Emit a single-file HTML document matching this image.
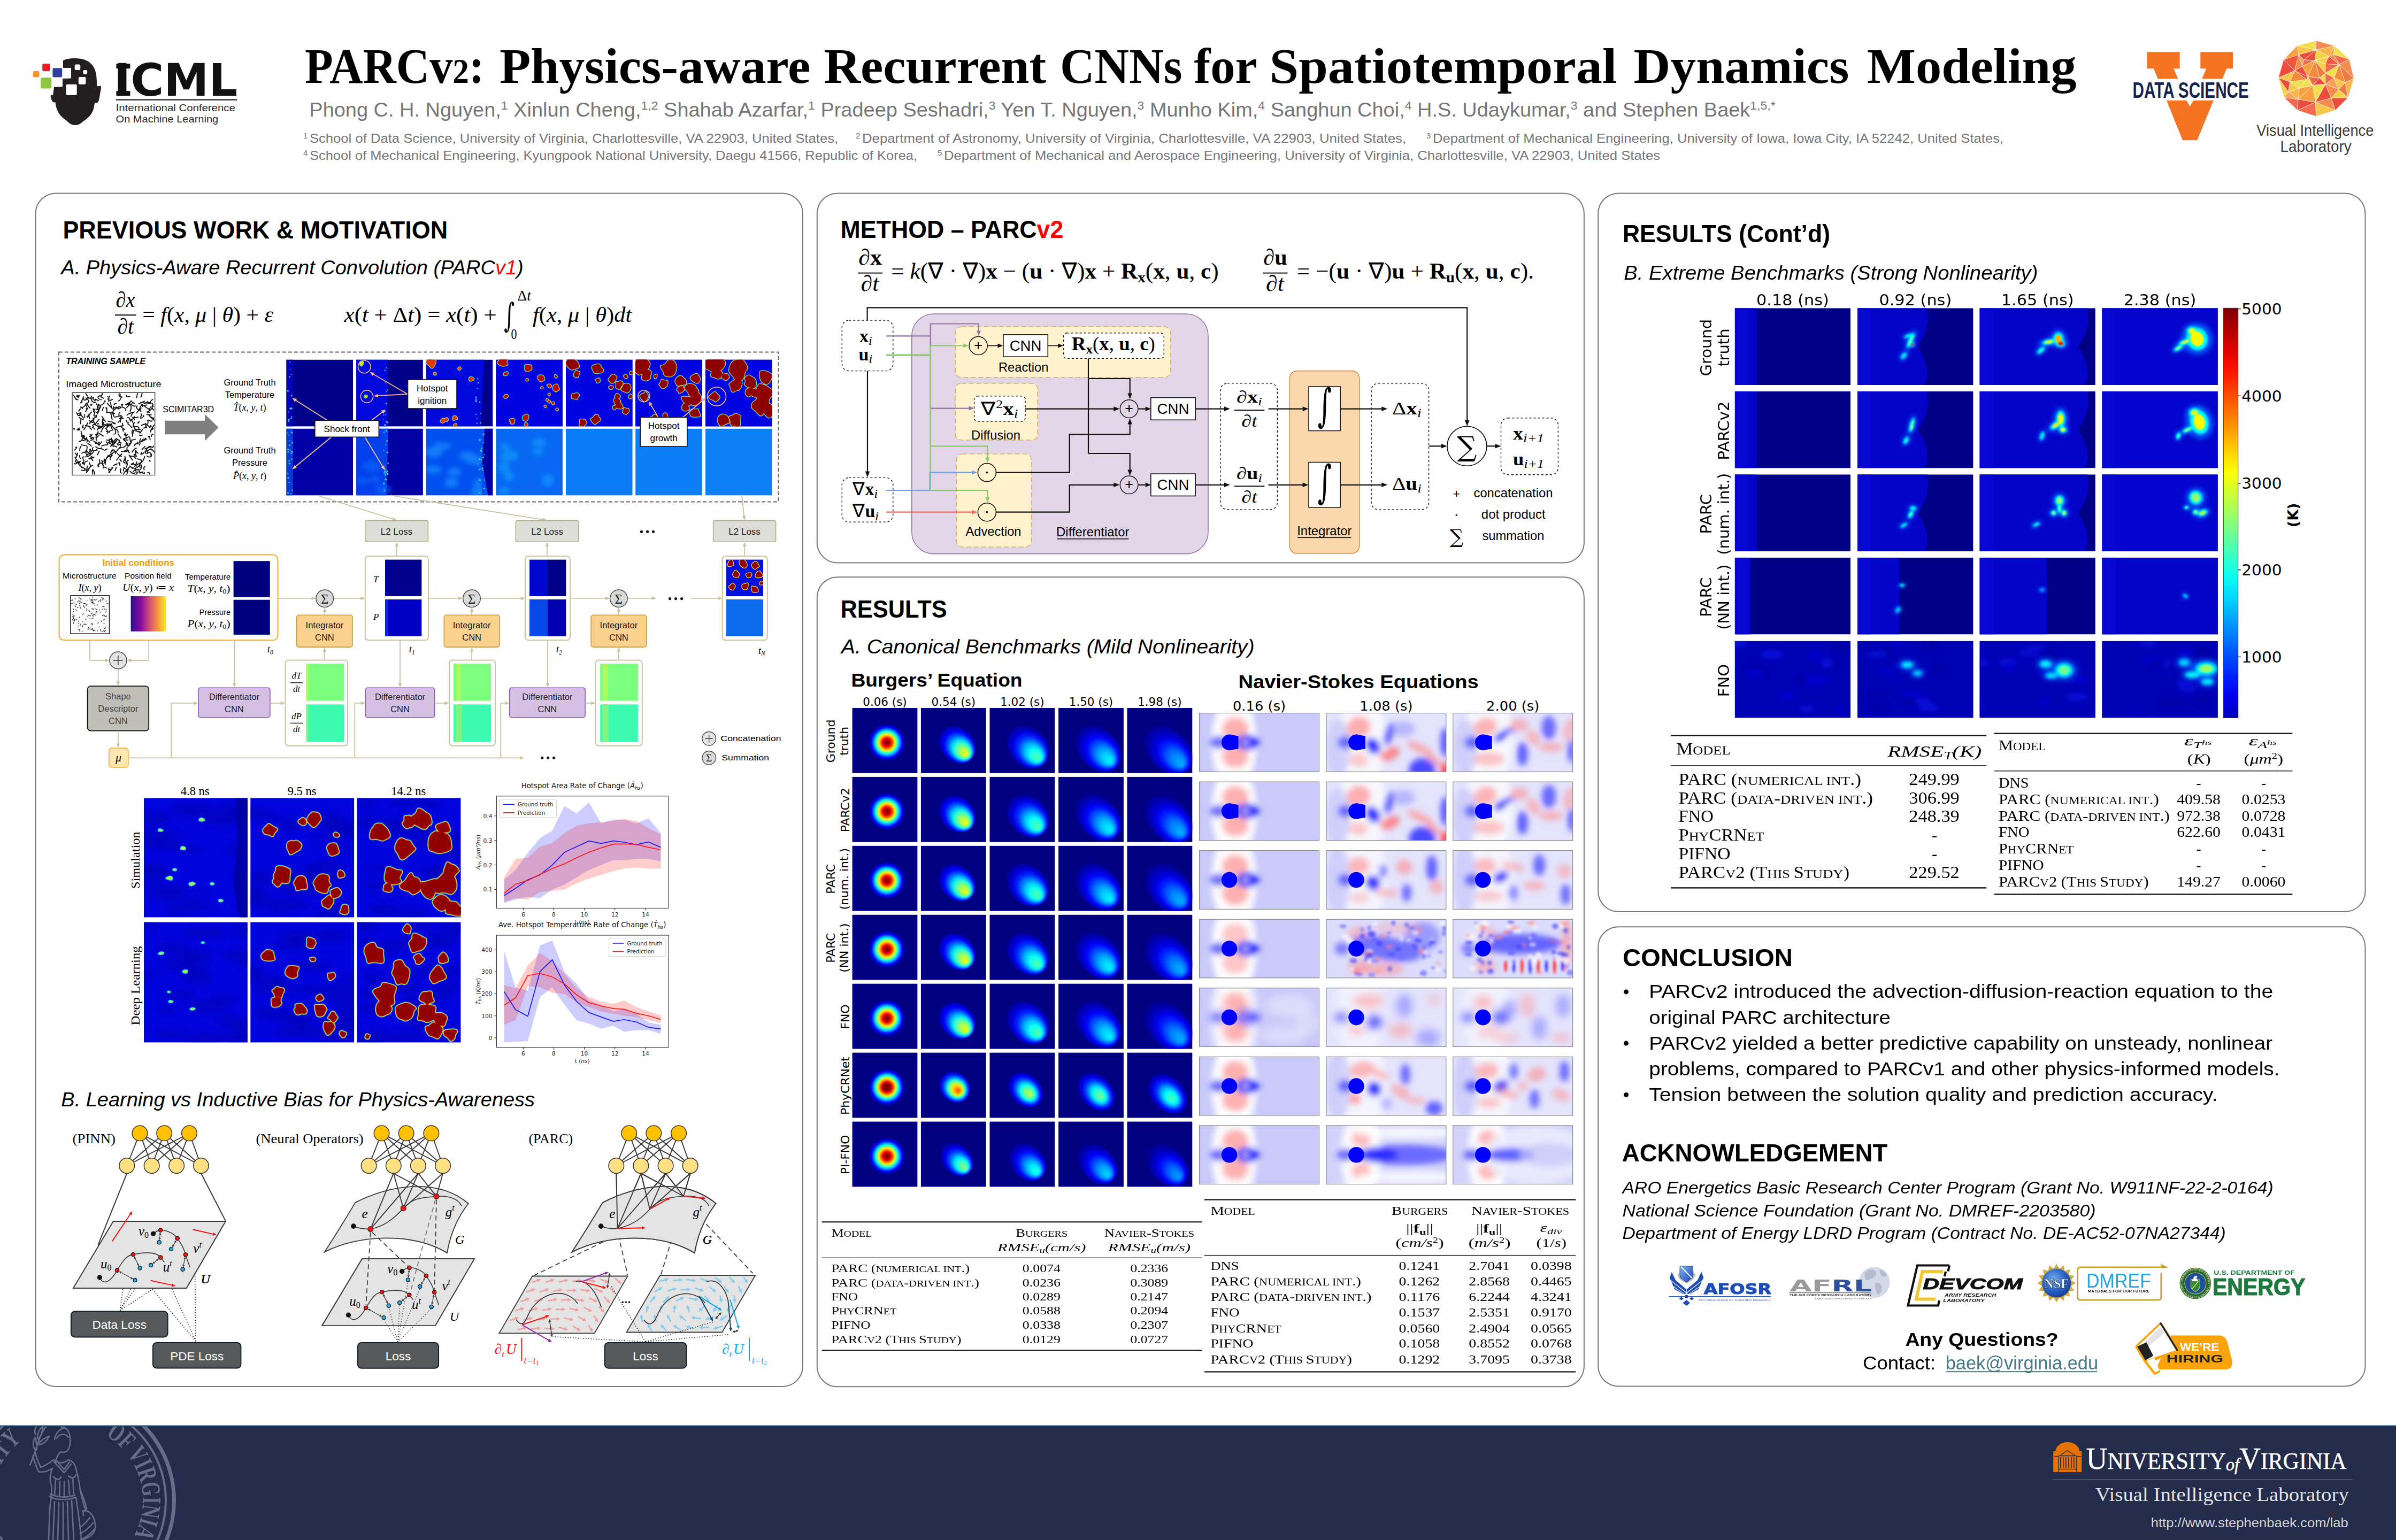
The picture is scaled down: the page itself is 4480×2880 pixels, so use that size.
<!DOCTYPE html>
<html lang="en"><head><meta charset="utf-8"><title>PARCv2: Physics-aware Recurrent CNNs for Spatiotemporal Dynamics Modeling</title>
<style>html,body{margin:0;padding:0;background:#fff}body{width:4480px;height:2880px;overflow:hidden}svg{display:block}text{white-space:pre}</style></head><body>
<svg width="4480" height="2880" viewBox="0 0 4480 2880">
<!-- defs -->
<defs>
<filter id="blur1" x="-30%" y="-30%" width="160%" height="160%"><feGaussianBlur stdDeviation="1"/></filter>
<filter id="blur2" x="-30%" y="-30%" width="160%" height="160%"><feGaussianBlur stdDeviation="2"/></filter>
<filter id="blur3" x="-30%" y="-30%" width="160%" height="160%"><feGaussianBlur stdDeviation="3"/></filter>
<filter id="blur4" x="-30%" y="-30%" width="160%" height="160%"><feGaussianBlur stdDeviation="4"/></filter>
<filter id="blur6" x="-30%" y="-30%" width="160%" height="160%"><feGaussianBlur stdDeviation="6"/></filter>
<filter id="blur8" x="-30%" y="-30%" width="160%" height="160%"><feGaussianBlur stdDeviation="8"/></filter>
<filter id="blur12" x="-30%" y="-30%" width="160%" height="160%"><feGaussianBlur stdDeviation="12"/></filter>
<filter id="blur16" x="-30%" y="-30%" width="160%" height="160%"><feGaussianBlur stdDeviation="16"/></filter>
</defs>
<!-- frame -->
<rect x="0" y="0" width="4480" height="2880" fill="#fff"/>
<rect x="66.6" y="361.4" width="1434.4" height="2231.6" fill="#fff" rx="38" stroke="#787878" stroke-width="2"/>
<rect x="1527.8" y="361.4" width="1434.1" height="691.1" fill="#fff" rx="38" stroke="#787878" stroke-width="2"/>
<rect x="1527.8" y="1079.2" width="1434.1" height="1514.1" fill="#fff" rx="38" stroke="#787878" stroke-width="2"/>
<rect x="2988.2" y="361.4" width="1434.3" height="1343.6" fill="#fff" rx="38" stroke="#787878" stroke-width="2"/>
<rect x="2988.2" y="1733.2" width="1434.3" height="859.2" fill="#fff" rx="38" stroke="#787878" stroke-width="2"/>
<!-- header -->
<rect x="61.9" y="133" width="11.5" height="11.5" fill="#F7941D" rx="2.5"/>
<rect x="79.2" y="119" width="14" height="14" fill="#ED1C24" rx="2.5"/>
<rect x="98.4" y="127.2" width="17.8" height="17.3" fill="#2E3F9E" rx="3"/>
<rect x="76.1" y="145" width="20.2" height="20.4" fill="#8DC63F" rx="3"/>
<path d="M118,113 C126,109 140,108 152,110 C168,113 178,124 180,140 C181,150 181,156 181.5,161 C184,162 187,160 188.5,161 C190,163 188,170 187,176 C186,183 185,190 182,192 C180,193 178,192 177,192 C176,200 175,207 170,214 C165,221 158,225 153,229 C149,233 144,234 140,234 C134,234 130,231 126,227 C120,222 112,217 108,208 C105,202 104,196 103.5,191 C101,192 98,191 97,188 C95,184 94,180 95,178 C96,177 98,178 99,178 L101,163 L117,162 L117,147 L133,146.5 L133,127 L118,127 Z" fill="#231F20"/>
<rect x="139.7" y="120.5" width="10.5" height="10.5" fill="#fff" rx="2.2"/>
<rect x="155.4" y="131" width="7.7" height="7.7" fill="#fff" rx="2.2"/>
<rect x="146.8" y="144.1" width="13.6" height="13.6" fill="#fff" rx="2.2"/>
<rect x="123.5" y="157.7" width="20.2" height="20.2" fill="#fff" rx="2.2"/>
<text x="212.76" y="179" font-family='"DejaVu Sans", sans-serif' font-size="83" font-weight="bold" fill="#111" textLength="231.47" lengthAdjust="spacingAndGlyphs">ICML</text>
<rect x="217.4" y="119.2" width="26" height="9" fill="#111"/>
<rect x="217.4" y="170.2" width="26" height="8.8" fill="#111"/>
<rect x="217" y="185.2" width="226.2" height="2.6" fill="#3a3a3a"/>
<text x="216.56" y="207.7" font-family='"Liberation Sans", sans-serif' font-size="18.6" fill="#2a2a2a" textLength="223.27" lengthAdjust="spacingAndGlyphs">International Conference</text>
<text x="216.56" y="229" font-family='"Liberation Sans", sans-serif' font-size="18.6" fill="#2a2a2a" textLength="191.67" lengthAdjust="spacingAndGlyphs">On Machine Learning</text>
<text x="570" y="154.5" font-family='"Liberation Serif", serif' font-size="93" font-weight="bold"><tspan x="570" textLength="335.6" lengthAdjust="spacingAndGlyphs">PARCv<tspan font-size="66">2</tspan><tspan font-size="93">:</tspan></tspan> <tspan x="934" textLength="581.4" lengthAdjust="spacingAndGlyphs">Physics-aware</tspan> <tspan x="1540.4" textLength="415.7" lengthAdjust="spacingAndGlyphs">Recurrent</tspan> <tspan x="1982" textLength="228.5" lengthAdjust="spacingAndGlyphs">CNNs</tspan> <tspan x="2232.5" textLength="116.5" lengthAdjust="spacingAndGlyphs">for</tspan> <tspan x="2373.5" textLength="649.7" lengthAdjust="spacingAndGlyphs">Spatiotemporal</tspan> <tspan x="3054.6" textLength="402.7" lengthAdjust="spacingAndGlyphs">Dynamics</tspan> <tspan x="3490.7" textLength="391.9" lengthAdjust="spacingAndGlyphs">Modeling</tspan></text>
<text x="578.37" y="217.6" font-family='"Liberation Sans", sans-serif' font-size="36.3" fill="#767676" textLength="2741.27" lengthAdjust="spacingAndGlyphs">Phong C. H. Nguyen,<tspan dy="-13" font-size="22">1</tspan><tspan dy="13" font-size="36.3">​</tspan> Xinlun Cheng,<tspan dy="-13" font-size="22">1,2</tspan><tspan dy="13" font-size="36.3">​</tspan> Shahab Azarfar,<tspan dy="-13" font-size="22">1</tspan><tspan dy="13" font-size="36.3">​</tspan> Pradeep Seshadri,<tspan dy="-13" font-size="22">3</tspan><tspan dy="13" font-size="36.3">​</tspan> Yen T. Nguyen,<tspan dy="-13" font-size="22">3</tspan><tspan dy="13" font-size="36.3">​</tspan> Munho Kim,<tspan dy="-13" font-size="22">4</tspan><tspan dy="13" font-size="36.3">​</tspan> Sanghun Choi,<tspan dy="-13" font-size="22">4</tspan><tspan dy="13" font-size="36.3">​</tspan> H.S. Udaykumar,<tspan dy="-13" font-size="22">3</tspan><tspan dy="13" font-size="36.3">​</tspan> and Stephen Baek<tspan dy="-13" font-size="22">1,5,*</tspan><tspan dy="13" font-size="36.3">​</tspan></text>
<text x="567" y="259" font-family='"Liberation Sans", sans-serif' font-size="15" fill="#767676">1</text>
<text x="578.91" y="267" font-family='"Liberation Sans", sans-serif' font-size="24.3" fill="#767676" textLength="988.19" lengthAdjust="spacingAndGlyphs">School of Data Science, University of Virginia, Charlottesville, VA 22903, United States,</text>
<text x="1600" y="259" font-family='"Liberation Sans", sans-serif' font-size="15" fill="#767676">2</text>
<text x="1611.91" y="267" font-family='"Liberation Sans", sans-serif' font-size="24.3" fill="#767676" textLength="1017.19" lengthAdjust="spacingAndGlyphs">Department of Astronomy, University of Virginia, Charlottesville, VA 22903, United States,</text>
<text x="2667" y="259" font-family='"Liberation Sans", sans-serif' font-size="15" fill="#767676">3</text>
<text x="2678.91" y="267" font-family='"Liberation Sans", sans-serif' font-size="24.3" fill="#767676" textLength="1067.19" lengthAdjust="spacingAndGlyphs">Department of Mechanical Engineering, University of Iowa, Iowa City, IA 52242, United States,</text>
<text x="567" y="290.7" font-family='"Liberation Sans", sans-serif' font-size="15" fill="#767676">4</text>
<text x="578.91" y="298.7" font-family='"Liberation Sans", sans-serif' font-size="24.3" fill="#767676" textLength="1136.19" lengthAdjust="spacingAndGlyphs">School of Mechanical Engineering, Kyungpook National University, Daegu 41566, Republic of Korea,</text>
<text x="1753" y="290.7" font-family='"Liberation Sans", sans-serif' font-size="15" fill="#767676">5</text>
<text x="1764.91" y="298.7" font-family='"Liberation Sans", sans-serif' font-size="24.3" fill="#767676" textLength="1339.19" lengthAdjust="spacingAndGlyphs">Department of Mechanical and Aerospace Engineering, University of Virginia, Charlottesville, VA 22903, United States</text>
<rect x="4014.4" y="97.3" width="61.2" height="31" fill="#F37321"/>
<rect x="4114.3" y="97.3" width="60.7" height="31" fill="#F37321"/>
<polygon points="4026.8,127.7 4064,127.7 4094.7,198.7 4125.5,127.7 4163.5,127.7 4108.2,262.2 4081,262.2" fill="#F37321"/>
<rect x="3985" y="147.2" width="225" height="40.6" fill="#fff"/>
<polygon points="4088,187.8 4101.5,187.8 4094.7,198.7" fill="#fff"/>
<text x="3987.6" y="182.8" font-family='"Liberation Sans", sans-serif' font-size="42.2" font-weight="bold" fill="#13254F" textLength="217.3" lengthAdjust="spacingAndGlyphs">DATA SCIENCE</text>
<polygon points="4330.62,93.4 4294.82,85.81 4330.62,76.04" fill="#F0E04F" stroke="#FFF3E0" stroke-width="0.7" stroke-linejoin="round"/>
<polygon points="4365.35,85.81 4330.62,93.4 4330.62,76.04" fill="#F58B4C" stroke="#FFF3E0" stroke-width="0.7" stroke-linejoin="round"/>
<polygon points="4330.62,93.4 4365.35,85.81 4354.5,105.34" fill="#FBB54A" stroke="#FFF3E0" stroke-width="0.7" stroke-linejoin="round"/>
<polygon points="4295.9,206.25 4270.95,182.38 4296.99,185.63" fill="#F5694F" stroke="#FFF3E0" stroke-width="0.7" stroke-linejoin="round"/>
<polygon points="4295.9,206.25 4329.54,191.06 4330.62,217.53" fill="#F5694F" stroke="#FFF3E0" stroke-width="0.7" stroke-linejoin="round"/>
<polygon points="4329.54,191.06 4295.9,206.25 4296.99,185.63" fill="#EE4B3F" stroke="#FFF3E0" stroke-width="0.7" stroke-linejoin="round"/>
<polygon points="4390.3,182.38 4366.43,206.25 4358.84,183.46" fill="#EE4B3F" stroke="#FFF3E0" stroke-width="0.7" stroke-linejoin="round"/>
<polygon points="4329.54,191.06 4366.43,206.25 4330.62,217.53" fill="#F9C64B" stroke="#FFF3E0" stroke-width="0.7" stroke-linejoin="round"/>
<polygon points="4366.43,206.25 4329.54,191.06 4358.84,183.46" fill="#F58B4C" stroke="#FFF3E0" stroke-width="0.7" stroke-linejoin="round"/>
<polygon points="4329.54,191.06 4347.99,157.42 4358.84,183.46" fill="#EE4B3F" stroke="#FFF3E0" stroke-width="0.7" stroke-linejoin="round"/>
<polygon points="4372.94,167.19 4390.3,182.38 4358.84,183.46" fill="#F6D24A" stroke="#FFF3E0" stroke-width="0.7" stroke-linejoin="round"/>
<polygon points="4347.99,157.42 4372.94,167.19 4358.84,183.46" fill="#F58B4C" stroke="#FFF3E0" stroke-width="0.7" stroke-linejoin="round"/>
<polygon points="4372.94,167.19 4347.99,157.42 4364.26,145.49" fill="#F7A25A" stroke="#FFF3E0" stroke-width="0.7" stroke-linejoin="round"/>
<polygon points="4270.95,182.38 4278.54,171.53 4296.99,185.63" fill="#F7A25A" stroke="#FFF3E0" stroke-width="0.7" stroke-linejoin="round"/>
<polygon points="4278.54,171.53 4270.95,182.38 4260.1,145.49" fill="#F6D24A" stroke="#FFF3E0" stroke-width="0.7" stroke-linejoin="round"/>
<polygon points="4269.86,111.85 4290.48,132.47 4260.1,145.49" fill="#EE4B3F" stroke="#FFF3E0" stroke-width="0.7" stroke-linejoin="round"/>
<polygon points="4278.54,171.53 4299.16,165.02 4296.99,185.63" fill="#FBB54A" stroke="#FFF3E0" stroke-width="0.7" stroke-linejoin="round"/>
<polygon points="4363.18,102.08 4365.35,85.81 4392.47,110.76" fill="#F0E04F" stroke="#FFF3E0" stroke-width="0.7" stroke-linejoin="round"/>
<polygon points="4365.35,85.81 4363.18,102.08 4354.5,105.34" fill="#F9A03F" stroke="#FFF3E0" stroke-width="0.7" stroke-linejoin="round"/>
<polygon points="4298.07,102.08 4330.62,93.4 4307.84,111.85" fill="#EE4B3F" stroke="#FFF3E0" stroke-width="0.7" stroke-linejoin="round"/>
<polygon points="4330.62,93.4 4298.07,102.08 4294.82,85.81" fill="#F9C64B" stroke="#FFF3E0" stroke-width="0.7" stroke-linejoin="round"/>
<polygon points="4298.07,102.08 4269.86,111.85 4294.82,85.81" fill="#F9A03F" stroke="#FFF3E0" stroke-width="0.7" stroke-linejoin="round"/>
<polygon points="4269.86,111.85 4298.07,102.08 4290.48,132.47" fill="#F2573E" stroke="#FFF3E0" stroke-width="0.7" stroke-linejoin="round"/>
<polygon points="4347.99,136.81 4347.99,157.42 4337.14,145.49" fill="#F0E04F" stroke="#FFF3E0" stroke-width="0.7" stroke-linejoin="round"/>
<polygon points="4347.99,157.42 4347.99,136.81 4364.26,145.49" fill="#F26B4E" stroke="#FFF3E0" stroke-width="0.7" stroke-linejoin="round"/>
<polygon points="4328.45,112.93 4330.62,93.4 4354.5,105.34" fill="#F6D24A" stroke="#FFF3E0" stroke-width="0.7" stroke-linejoin="round"/>
<polygon points="4347.99,119.44 4328.45,112.93 4354.5,105.34" fill="#F6D24A" stroke="#FFF3E0" stroke-width="0.7" stroke-linejoin="round"/>
<polygon points="4330.62,93.4 4328.45,112.93 4307.84,111.85" fill="#EE4B3F" stroke="#FFF3E0" stroke-width="0.7" stroke-linejoin="round"/>
<polygon points="4315.43,143.32 4328.45,112.93 4337.14,145.49" fill="#F48A3C" stroke="#FFF3E0" stroke-width="0.7" stroke-linejoin="round"/>
<polygon points="4328.45,112.93 4347.99,136.81 4337.14,145.49" fill="#EF7A45" stroke="#FFF3E0" stroke-width="0.7" stroke-linejoin="round"/>
<polygon points="4347.99,136.81 4328.45,112.93 4347.99,119.44" fill="#F6D24A" stroke="#FFF3E0" stroke-width="0.7" stroke-linejoin="round"/>
<polygon points="4347.99,157.42 4324.11,159.59 4337.14,145.49" fill="#F2463E" stroke="#FFF3E0" stroke-width="0.7" stroke-linejoin="round"/>
<polygon points="4324.11,159.59 4347.99,157.42 4329.54,191.06" fill="#F0E04F" stroke="#FFF3E0" stroke-width="0.7" stroke-linejoin="round"/>
<polygon points="4324.11,159.59 4315.43,143.32 4337.14,145.49" fill="#F26B4E" stroke="#FFF3E0" stroke-width="0.7" stroke-linejoin="round"/>
<polygon points="4324.11,159.59 4329.54,191.06 4296.99,185.63" fill="#F9A03F" stroke="#FFF3E0" stroke-width="0.7" stroke-linejoin="round"/>
<polygon points="4299.16,165.02 4324.11,159.59 4296.99,185.63" fill="#F9A03F" stroke="#FFF3E0" stroke-width="0.7" stroke-linejoin="round"/>
<polygon points="4390.3,182.38 4384.88,154.17 4401.15,146.57" fill="#FBB54A" stroke="#FFF3E0" stroke-width="0.7" stroke-linejoin="round"/>
<polygon points="4372.94,167.19 4384.88,154.17 4390.3,182.38" fill="#EF7A45" stroke="#FFF3E0" stroke-width="0.7" stroke-linejoin="round"/>
<polygon points="4384.88,154.17 4372.94,167.19 4364.26,145.49" fill="#F9C64B" stroke="#FFF3E0" stroke-width="0.7" stroke-linejoin="round"/>
<polygon points="4281.8,153.08 4299.16,165.02 4278.54,171.53" fill="#F9C64B" stroke="#FFF3E0" stroke-width="0.7" stroke-linejoin="round"/>
<polygon points="4290.48,132.47 4281.8,153.08 4260.1,145.49" fill="#F9C64B" stroke="#FFF3E0" stroke-width="0.7" stroke-linejoin="round"/>
<polygon points="4281.8,153.08 4278.54,171.53 4260.1,145.49" fill="#EE4B3F" stroke="#FFF3E0" stroke-width="0.7" stroke-linejoin="round"/>
<polygon points="4304.58,123.78 4315.43,143.32 4290.48,132.47" fill="#EE4B3F" stroke="#FFF3E0" stroke-width="0.7" stroke-linejoin="round"/>
<polygon points="4304.58,123.78 4298.07,102.08 4307.84,111.85" fill="#F7A25A" stroke="#FFF3E0" stroke-width="0.7" stroke-linejoin="round"/>
<polygon points="4298.07,102.08 4304.58,123.78 4290.48,132.47" fill="#F58B4C" stroke="#FFF3E0" stroke-width="0.7" stroke-linejoin="round"/>
<polygon points="4328.45,112.93 4304.58,123.78 4307.84,111.85" fill="#F5694F" stroke="#FFF3E0" stroke-width="0.7" stroke-linejoin="round"/>
<polygon points="4304.58,123.78 4328.45,112.93 4315.43,143.32" fill="#F9A03F" stroke="#FFF3E0" stroke-width="0.7" stroke-linejoin="round"/>
<polygon points="4315.43,143.32 4313.26,148.74 4290.48,132.47" fill="#F2463E" stroke="#FFF3E0" stroke-width="0.7" stroke-linejoin="round"/>
<polygon points="4313.26,148.74 4281.8,153.08 4290.48,132.47" fill="#F48A3C" stroke="#FFF3E0" stroke-width="0.7" stroke-linejoin="round"/>
<polygon points="4281.8,153.08 4313.26,148.74 4299.16,165.02" fill="#F0E04F" stroke="#FFF3E0" stroke-width="0.7" stroke-linejoin="round"/>
<polygon points="4313.26,148.74 4324.11,159.59 4299.16,165.02" fill="#F0E04F" stroke="#FFF3E0" stroke-width="0.7" stroke-linejoin="round"/>
<polygon points="4324.11,159.59 4313.26,148.74 4315.43,143.32" fill="#F0E04F" stroke="#FFF3E0" stroke-width="0.7" stroke-linejoin="round"/>
<polygon points="4347.99,136.81 4374.03,120.53 4364.26,145.49" fill="#F0E04F" stroke="#FFF3E0" stroke-width="0.7" stroke-linejoin="round"/>
<polygon points="4374.03,120.53 4347.99,136.81 4347.99,119.44" fill="#F5694F" stroke="#FFF3E0" stroke-width="0.7" stroke-linejoin="round"/>
<polygon points="4374.03,120.53 4363.18,102.08 4392.47,110.76" fill="#F26B4E" stroke="#FFF3E0" stroke-width="0.7" stroke-linejoin="round"/>
<polygon points="4374.03,120.53 4347.99,119.44 4354.5,105.34" fill="#F2573E" stroke="#FFF3E0" stroke-width="0.7" stroke-linejoin="round"/>
<polygon points="4363.18,102.08 4374.03,120.53 4354.5,105.34" fill="#F58B4C" stroke="#FFF3E0" stroke-width="0.7" stroke-linejoin="round"/>
<polygon points="4374.03,120.53 4384.88,154.17 4364.26,145.49" fill="#F48A3C" stroke="#FFF3E0" stroke-width="0.7" stroke-linejoin="round"/>
<polygon points="4374.03,120.53 4392.47,110.76 4401.15,146.57" fill="#F58B4C" stroke="#FFF3E0" stroke-width="0.7" stroke-linejoin="round"/>
<polygon points="4384.88,154.17 4374.03,120.53 4401.15,146.57" fill="#EF7A45" stroke="#FFF3E0" stroke-width="0.7" stroke-linejoin="round"/>
<text x="4219.3" y="254" font-family='"Liberation Sans", sans-serif' font-size="29" fill="#3a3a3a" textLength="219.01" lengthAdjust="spacingAndGlyphs">Visual Intelligence</text>
<text x="4263.59" y="284.4" font-family='"Liberation Sans", sans-serif' font-size="29" fill="#3a3a3a" textLength="133.01" lengthAdjust="spacingAndGlyphs">Laboratory</text>
<!-- footer -->
<rect x="0" y="2666" width="4480" height="214" fill="#232C4B"/>
<rect x="0" y="2665.5" width="4480" height="1.8" fill="#1E5878"/>
<g fill="none" stroke="#6A718A" opacity="0.95">
<clipPath id="ftclip"><rect x="0" y="2667.5" width="4480" height="212.5"/></clipPath>
<g clip-path="url(#ftclip)">
<circle cx="126" cy="2806" r="199.5" fill="none" stroke="#6A718A" stroke-width="7"/>
<circle cx="126" cy="2806" r="184" fill="none" stroke="#6A718A" stroke-width="4"/>
<path id="sealarc" d="M197.6,2684.5 A141 141 0 0 1 216.6,2914.0" fill="none" stroke="none"/>
<path id="sealarc2" d="M10.5,2886.9 A141 141 0 0 1 42.1,2692.7" fill="none" stroke="none"/>
<text font-family='"Liberation Serif", serif' font-size="50" font-weight="bold" fill="#6A718A" stroke="none" textLength="214" lengthAdjust="spacingAndGlyphs"><textPath href="#sealarc" textLength="214" lengthAdjust="spacingAndGlyphs">OF VIRGINIA</textPath></text>
<text font-family='"Liberation Serif", serif' font-size="50" font-weight="bold" fill="#6A718A" stroke="none" textLength="216" lengthAdjust="spacingAndGlyphs"><textPath href="#sealarc2" textLength="216" lengthAdjust="spacingAndGlyphs">UNIVERSITY</textPath></text>
<g stroke-width="2.6" stroke-linecap="round" stroke-linejoin="round">
<path d="M102,2692 C104,2680 112,2672 120,2670 C127,2672 131,2680 131,2690 C132,2697 131,2704 128,2710 C125,2716 118,2717 113,2715 C108,2720 105,2728 104,2736"/>
<path d="M106,2690 C112,2680 122,2680 128,2688"/>
<path d="M114,2667 L117,2672 L120,2667"/>
<path d="M100,2730 C108,2736 118,2738 128,2730 C136,2732 140,2738 142,2746"/>
<path d="M101,2734 L120,2754 L133,2738"/>
<path d="M104,2730 L120,2748 L130,2734"/>
<path d="M100,2730 C90,2738 82,2742 76,2744 C72,2736 68,2726 66,2716"/>
<path d="M98,2746 C88,2752 78,2754 72,2752 C68,2744 64,2734 62,2722"/>
<path d="M56,2740 C62,2726 68,2708 74,2690 C78,2680 82,2672 86,2668"/>
<path d="M66,2712 C60,2704 62,2694 66,2688 C68,2696 70,2704 68,2712"/>
<path d="M72,2700 C78,2692 86,2688 92,2686 C88,2694 82,2700 74,2702"/>
<path d="M70,2690 C70,2680 74,2672 80,2668 C80,2678 76,2686 72,2692"/>
<path d="M66,2682 C64,2676 66,2670 68,2668"/>
<path d="M98,2746 C94,2756 92,2768 96,2778 C98,2790 96,2800 94,2812"/>
<path d="M142,2746 C146,2760 148,2772 150,2786 C152,2800 156,2812 160,2824"/>
<path d="M100,2762 C106,2768 112,2768 114,2762"/>
<path d="M128,2760 C134,2766 140,2764 142,2758"/>
<path d="M94,2794 C104,2800 124,2802 140,2796"/>
<path d="M92,2798 C104,2806 126,2806 142,2800"/>
<path d="M94,2812 C92,2832 92,2856 91,2880"/>
<path d="M142,2800 C146,2826 150,2856 152,2880"/>
<path d="M102,2808 L99,2880"/>
<path d="M110,2810 L108,2880"/>
<path d="M118,2810 L118,2880"/>
<path d="M126,2808 L128,2880"/>
<path d="M134,2806 L138,2880"/>
<path d="M104,2768 L102,2796"/>
<path d="M112,2770 L111,2798"/>
<path d="M120,2770 L120,2798"/>
<path d="M128,2768 L130,2796"/>
<path d="M136,2764 L138,2794"/>
<path d="M154,2826 C166,2822 176,2834 178,2850 C180,2866 170,2876 150,2880"/>
<path d="M160,2824 C156,2826 154,2830 156,2834"/>
<path d="M168,2838 C162,2846 156,2852 150,2856"/>
<path d="M174,2848 C166,2858 158,2864 150,2868"/>
<path d="M176,2860 C170,2868 162,2874 154,2878"/>
<path d="M150,2786 C156,2800 160,2812 162,2822"/>
</g></g></g>
<g fill="#E57200">
<path d="M3843.5,2714 A22.2 17 0 0 1 3888,2714 Z" fill="#E57200"/>
<rect x="3839.2" y="2714" width="53" height="39" fill="#E57200"/>
</g>
<polygon points="3851,2722.5 3865.7,2712.5 3880.5,2722.5" fill="none" stroke="#232C4B" stroke-width="1.4"/>
<rect x="3852" y="2724.5" width="1.6" height="21" fill="#232C4B"/>
<rect x="3857" y="2724.5" width="1.6" height="21" fill="#232C4B"/>
<rect x="3862" y="2724.5" width="1.6" height="21" fill="#232C4B"/>
<rect x="3867" y="2724.5" width="1.6" height="21" fill="#232C4B"/>
<rect x="3872" y="2724.5" width="1.6" height="21" fill="#232C4B"/>
<rect x="3877" y="2724.5" width="1.6" height="21" fill="#232C4B"/>
<rect x="3849" y="2746.8" width="33.5" height="1.3" fill="#232C4B"/>
<rect x="3840" y="2723" width="8" height="1.2" fill="#232C4B"/>
<rect x="3883.5" y="2723" width="8" height="1.2" fill="#232C4B"/>
<rect x="3848.2" y="2722" width="1.2" height="31" fill="#232C4B"/>
<rect x="3882.2" y="2722" width="1.2" height="31" fill="#232C4B"/>
<text x="3900.8" y="2747.3" font-family='"Liberation Serif", serif' font-size="43.5" fill="#fff" textLength="486.7" lengthAdjust="spacingAndGlyphs" stroke="#fff" stroke-width="0.5"><tspan font-size="57">U</tspan><tspan font-size="43.5">NIVERSITY</tspan><tspan font-size="34" font-style="italic" dy="3">of</tspan><tspan font-size="57" dy="-3">V</tspan><tspan font-size="43.5">IRGINIA</tspan></text>
<rect x="3838.3" y="2766.6" width="560.5" height="1.2" fill="#6b7187"/>
<text x="3917.8" y="2807.4" font-family='"Liberation Serif", serif' font-size="36.5" fill="#E2E2E2" textLength="474" lengthAdjust="spacingAndGlyphs">Visual Intelligence Laboratory</text>
<text x="4021.7" y="2856.3" font-family='"Liberation Sans", sans-serif' font-size="24.4" fill="#D6D6D6" textLength="369.2" lengthAdjust="spacingAndGlyphs">http://www.stephenbaek.com/lab</text>
<!-- left_a -->
<text x="117.41" y="445.5" font-family='"Liberation Sans", sans-serif' font-size="46.5" font-weight="bold" textLength="719.68" lengthAdjust="spacingAndGlyphs">PREVIOUS WORK &amp; MOTIVATION</text>
<text x="114.3" y="513.4" font-family='"Liberation Sans", sans-serif' font-size="37.8" font-style="italic" textLength="864.4" lengthAdjust="spacingAndGlyphs">A. Physics-Aware Recurrent Convolution (PARC<tspan fill="#f00">v1</tspan>)</text>
<text x="216.4" y="573.8" font-family='"Liberation Serif", serif' font-size="41" font-style="italic" textLength="36" lengthAdjust="spacingAndGlyphs">∂x</text>
<rect x="215" y="588.2" width="39.5" height="2" fill="#000"/>
<text x="219.4" y="624.2" font-family='"Liberation Serif", serif' font-size="41" font-style="italic" textLength="30.6" lengthAdjust="spacingAndGlyphs">∂t</text>
<text x="266.3" y="602.3" font-family='"Liberation Serif", serif' font-size="41" textLength="244.6" lengthAdjust="spacingAndGlyphs">= <tspan font-style="italic">f</tspan>(<tspan font-style="italic">x</tspan>, <tspan font-style="italic">μ</tspan> | <tspan font-style="italic">θ</tspan>) + <tspan font-style="italic">ε</tspan></text>
<text x="643.6" y="602.3" font-family='"Liberation Serif", serif' font-size="41" textLength="285" lengthAdjust="spacingAndGlyphs"><tspan font-style="italic">x</tspan>(<tspan font-style="italic">t</tspan> + Δ<tspan font-style="italic">t</tspan>) = <tspan font-style="italic">x</tspan>(<tspan font-style="italic">t</tspan>) +</text>
<g transform="translate(952.3,611) scale(0.62,1)"><text x="0" y="0" font-family='"DejaVu Serif", serif' font-size="62" text-anchor="middle">∫</text></g>
<text x="967.5" y="561.6" font-family='"Liberation Serif", serif' font-size="28" textLength="25.4" lengthAdjust="spacingAndGlyphs">Δ<tspan font-style="italic">t</tspan></text>
<text x="955.6" y="633.9" font-family='"Liberation Serif", serif' font-size="28" textLength="11" lengthAdjust="spacingAndGlyphs">0</text>
<text x="996" y="602.3" font-family='"Liberation Serif", serif' font-size="41" textLength="185.3" lengthAdjust="spacingAndGlyphs"><tspan font-style="italic">f</tspan>(<tspan font-style="italic">x</tspan>, <tspan font-style="italic">μ</tspan> | <tspan font-style="italic">θ</tspan>)<tspan font-style="italic">dt</tspan></text>
<rect x="110" y="658.4" width="1345.5" height="280" fill="none" stroke="#666" stroke-width="2" stroke-dasharray="7 4"/>
<text x="123.26" y="681.3" font-family='"Liberation Sans", sans-serif' font-size="16.5" font-weight="bold" font-style="italic" textLength="148.99" lengthAdjust="spacingAndGlyphs">TRAINING SAMPLE</text>
<text x="123.23" y="724" font-family='"Liberation Sans", sans-serif' font-size="17" textLength="178.23" lengthAdjust="spacingAndGlyphs">Imaged Microstructure</text>
<rect x="135" y="734.3" width="154.7" height="154.2" fill="#fff" stroke="#111" stroke-width="1.2"/>
<clipPath id="cms"><rect x="136" y="735.3" width="152.7" height="152.2"/></clipPath>
<path d="M173.7,817.8Q168.8,823.0 170.1,818.7M140.9,860.6Q140.7,865.2 145.6,864.9M261.1,807.8Q258.5,804.7 259.9,808.4M215.4,846.5Q213.7,843.5 216.3,844.4M183.0,742.8Q187.2,738.1 189.3,741.9M243.3,872.8Q236.5,878.1 235.9,882.4M267.3,752.5Q270.3,755.9 274.9,755.3M230.5,782.2Q224.8,782.0 223.3,782.9M224.3,870.3Q220.3,861.7 223.9,866.6M237.0,762.1Q243.2,754.6 247.3,755.3M243.2,769.1Q246.6,763.0 244.5,758.6M263.7,882.8Q271.0,887.4 270.1,883.9M181.9,850.5Q184.2,848.2 185.4,843.6M243.9,786.6Q251.1,779.9 251.2,784.9M184.2,749.5Q181.6,747.7 178.6,746.7M228.1,761.1Q236.9,763.5 235.0,768.1M269.9,793.5Q263.5,795.1 264.9,796.1M220.7,828.8Q226.7,826.4 226.1,828.6M173.7,782.3Q180.3,781.3 180.8,776.4M199.6,823.0Q206.9,823.9 208.2,819.5M230.6,806.4Q228.2,801.4 230.3,803.8M142.2,747.1Q137.9,738.4 135.4,738.0M225.5,785.0Q222.1,788.9 220.8,789.9M182.9,793.4Q183.3,790.2 184.0,792.6M184.3,770.8Q185.8,766.4 182.7,765.7M240.9,753.2Q238.6,758.0 241.9,757.4M263.9,763.0Q260.0,769.5 263.9,769.0M171.9,756.0Q167.6,755.2 170.7,758.5M165.8,779.0Q168.4,772.0 171.5,770.4M157.9,780.9Q159.3,776.2 157.7,775.4M200.3,798.1Q203.9,796.1 198.9,800.6M267.5,882.4Q258.6,886.3 262.9,883.5M247.8,860.5Q244.4,854.8 242.3,853.2M172.2,748.2Q168.0,745.6 171.1,741.0M270.9,839.6Q279.1,835.3 283.1,836.1M140.9,847.1Q143.3,851.6 145.0,851.9M199.4,875.4Q195.3,871.9 192.8,875.5M208.7,852.5Q206.1,856.0 206.4,859.2M164.0,853.9Q171.6,849.8 174.9,844.9M230.8,864.2Q235.4,865.7 233.1,866.0M200.8,807.3Q201.2,804.4 196.8,800.6M157.2,748.3Q166.1,746.8 161.9,746.9M185.1,784.2Q180.7,790.3 181.5,788.9M166.9,786.3Q171.8,791.1 174.0,789.9M150.7,764.4Q145.6,769.5 148.4,768.3M256.0,829.2Q250.9,831.6 250.8,833.6M200.4,839.6Q195.8,840.8 196.2,842.7M149.5,800.3Q141.3,804.5 145.6,803.2M270.1,853.8Q269.6,860.0 265.8,863.1M235.7,867.9Q237.7,860.4 240.0,861.1M154.1,824.1Q158.1,824.2 160.8,819.7M152.4,752.8Q155.5,749.9 150.7,753.3M156.7,861.5Q152.6,853.7 157.1,854.5M255.6,743.6Q256.3,737.1 258.5,733.1M248.3,874.7Q253.2,876.7 253.9,880.0M174.4,764.5Q174.4,771.9 176.9,770.8M192.7,796.2Q189.2,801.0 185.0,801.0M281.1,798.6Q281.0,794.4 282.9,797.0M237.4,813.8Q229.9,814.6 233.9,811.1M153.0,847.5Q158.7,844.2 158.1,846.4M166.2,777.3Q168.4,784.1 166.6,781.4M239.9,877.5Q237.7,885.1 236.8,888.6M224.4,777.3Q225.0,780.4 224.8,779.2M164.1,790.9Q160.5,798.5 156.9,803.4M209.0,825.8Q200.4,827.5 203.6,828.1M209.3,843.5Q212.9,839.0 215.2,843.6M207.2,771.8Q208.0,779.8 209.8,784.4M263.7,773.6Q265.5,778.1 262.3,780.2M264.4,869.7Q264.1,878.7 262.2,877.9M245.4,750.8Q252.8,755.7 250.7,754.3M223.7,836.9Q229.1,837.2 228.4,837.0M169.7,823.7Q175.2,822.1 175.6,818.3M179.1,835.5Q186.1,841.4 190.2,837.4M276.4,792.9Q277.6,784.7 275.5,786.5M234.5,856.0Q233.7,864.2 238.3,866.0M217.3,754.8Q211.8,755.1 214.0,756.8M221.7,764.9Q217.2,759.0 214.0,762.9M234.7,756.3Q238.3,754.6 236.6,756.8M226.2,819.3Q222.5,814.4 220.6,811.1M149.0,842.8Q149.2,836.0 151.6,834.6M177.8,794.3Q180.1,791.9 180.1,789.4M251.3,790.0Q248.4,795.1 248.8,797.8M190.5,861.9Q194.3,865.1 190.2,861.2M252.7,844.5Q254.5,848.5 253.6,850.9M258.1,847.6Q254.7,845.4 253.7,842.4M216.0,821.3Q217.4,825.8 220.3,821.1M256.3,868.4Q261.7,866.6 262.2,867.5M231.5,880.9Q229.5,876.2 233.1,876.1M226.8,844.4Q235.2,844.5 236.8,844.5M215.5,805.5Q217.8,811.8 213.2,811.8M233.3,803.2Q224.4,799.3 228.3,795.6M254.7,829.3Q259.9,831.0 257.3,826.8M217.7,874.1Q213.7,882.2 215.6,878.6M264.3,826.1Q271.5,822.5 273.9,820.9M256.8,874.3Q260.7,869.7 263.2,869.5M154.9,744.5Q158.8,746.6 155.4,746.6M241.1,816.8Q234.4,820.3 232.5,820.0M249.5,796.9Q253.5,805.3 255.7,804.0M193.2,815.6Q189.4,813.0 184.4,810.1M253.3,759.2Q249.1,760.3 246.2,757.0M197.9,762.9Q201.7,763.5 198.3,763.4M147.7,741.6Q142.2,743.5 144.2,739.0M197.9,796.2Q207.5,797.8 204.7,793.8M208.3,762.4Q204.4,758.6 200.6,754.1M245.2,778.5Q246.7,772.4 251.0,770.4M175.5,777.1Q178.4,770.3 176.9,766.2M238.6,879.8Q236.1,878.2 231.4,874.1M163.9,743.6Q171.0,746.2 175.0,743.2M281.2,807.9Q284.3,799.0 288.7,794.4M183.5,826.9Q186.9,825.7 184.8,829.2M155.7,795.2Q151.8,801.9 156.1,798.7M247.0,845.5Q250.5,839.5 254.8,838.2M199.5,771.8Q200.7,765.5 198.4,762.2M244.2,826.7Q242.8,821.2 242.7,817.7M242.8,741.7Q234.6,743.4 236.4,739.3M173.6,861.5Q167.9,854.3 171.6,853.8M269.9,845.3Q267.1,850.1 262.9,849.1M278.5,753.6Q275.1,752.1 270.9,753.5M174.1,745.4Q178.5,751.6 179.3,746.7M172.6,879.5Q173.9,886.3 173.1,889.1M227.2,853.4Q223.0,852.5 219.8,848.3M259.5,754.7Q269.2,756.2 266.2,760.1M151.5,806.2Q153.0,814.9 154.2,816.3M250.2,865.6Q246.1,871.5 245.5,867.6M261.0,825.1Q262.7,821.0 263.1,820.6M245.3,749.6Q241.7,754.8 237.4,755.4M246.4,800.0Q242.0,794.2 239.2,792.7M284.4,787.2Q281.1,788.8 278.3,785.4M274.9,844.3Q281.9,837.3 283.0,841.6M217.2,799.4Q226.0,796.4 230.5,796.3M251.9,797.7Q261.4,797.5 259.3,801.9M165.9,752.3Q165.1,747.3 165.3,748.7M144.9,847.1Q143.9,853.0 142.4,855.5M248.0,780.2Q252.1,783.3 251.2,779.1M161.4,849.7Q158.3,840.3 163.1,844.1M193.4,761.9Q191.0,767.6 191.3,768.1M191.5,862.8Q190.2,868.9 194.0,872.0M182.4,773.7Q183.5,770.8 179.8,771.1M217.2,762.5Q221.4,763.9 224.1,763.5M282.0,853.0Q285.2,852.6 282.0,847.7M202.1,787.7Q208.6,789.8 204.5,788.0M175.1,855.4Q170.9,857.8 166.3,857.1M230.6,836.9Q238.0,832.3 235.5,828.7M249.7,853.6Q240.9,853.1 241.4,850.9M163.6,740.8Q157.8,733.5 161.9,733.2M236.2,873.9Q239.0,867.2 238.1,867.4M163.9,765.0Q159.9,755.9 160.4,755.0M190.4,804.7Q192.4,798.9 197.0,795.4M185.0,814.5Q177.4,819.2 180.6,823.5M228.4,742.8Q222.3,739.7 222.2,737.5M242.6,871.4Q248.7,876.0 247.4,876.2M269.8,878.5Q267.1,875.1 271.3,871.9M195.0,859.2Q193.0,863.7 197.5,868.1M185.3,795.6Q184.6,799.5 182.1,804.3M150.6,771.8Q151.7,775.2 151.9,777.7M261.4,830.4Q262.6,827.7 260.5,832.3M149.1,777.4Q144.3,777.9 144.7,773.4M173.4,878.1Q179.2,885.5 176.0,890.4M237.5,832.8Q239.6,835.4 242.2,832.1M166.7,858.4Q169.0,856.0 173.6,856.4M194.8,753.9Q187.2,760.3 185.0,756.6M160.2,756.8Q154.6,764.4 150.3,761.3M276.1,883.8Q280.8,883.2 279.4,887.7M209.8,841.0Q208.6,843.9 207.1,846.4M253.2,821.4Q246.6,822.9 246.0,823.2M260.6,767.6Q252.7,762.3 256.2,759.1M279.7,860.9Q282.1,865.2 279.1,860.7M281.8,798.1Q284.5,795.3 279.6,799.0M254.9,883.1Q252.3,876.9 254.9,872.9M217.9,802.7Q222.3,808.4 220.5,808.5M193.5,784.7Q189.0,790.3 193.8,794.7M264.9,860.2Q262.6,869.8 260.3,866.1M212.1,845.2Q208.1,851.5 205.9,856.2M205.1,808.1Q196.2,806.3 201.0,806.6M203.5,828.5Q208.9,831.0 212.4,833.8M147.7,863.1Q140.3,869.6 139.0,866.8M219.1,867.3Q210.9,871.2 213.0,869.8M182.9,812.1Q178.4,815.4 179.9,819.2M224.3,759.6Q225.4,765.1 226.5,761.5M150.9,785.1Q150.2,788.3 150.6,792.5M217.0,846.0Q221.2,838.1 225.3,837.6M238.6,755.9Q242.7,752.0 242.5,756.0M180.9,766.0Q184.1,759.6 179.9,754.9M190.3,739.4Q192.4,735.7 190.1,734.6M213.7,801.4Q208.4,795.9 207.8,791.9M282.0,839.2Q287.2,842.3 289.8,847.2M148.6,739.7Q142.7,740.4 146.7,743.7M187.4,799.4Q179.4,794.9 176.4,793.8M151.9,831.9Q161.3,833.5 161.6,834.3M151.5,772.2Q142.6,774.0 143.0,771.8M282.4,834.9Q278.0,834.1 276.0,838.1M158.4,815.9Q154.4,812.2 157.1,816.3M264.2,846.0Q265.2,849.3 264.5,847.4M167.3,865.5Q169.2,874.1 173.5,870.3M272.4,796.3Q273.4,800.5 268.8,800.5M195.1,862.6Q196.8,859.7 195.8,858.6M164.9,774.9Q164.3,782.7 162.7,778.8M171.2,802.9Q166.8,801.0 168.8,798.2M236.9,827.3Q240.7,834.6 239.6,835.0M226.3,830.0Q223.1,831.2 226.0,834.8M210.6,822.8Q209.5,832.1 211.4,829.3M258.3,882.3Q252.7,890.5 252.5,887.3M243.7,787.8Q242.9,780.7 238.9,781.0M263.2,808.1Q254.5,805.9 253.9,805.8M224.1,858.6Q225.2,862.1 227.8,862.6M183.2,868.6Q188.3,864.0 193.2,867.4M248.2,780.8Q255.9,781.4 258.3,779.9M208.9,821.1Q208.9,829.0 209.5,827.8M155.0,819.2Q151.6,826.5 148.3,825.4M167.6,797.9Q164.3,796.2 159.9,796.0M168.4,812.0Q170.3,815.3 170.6,819.5M265.8,813.6Q263.0,815.7 260.8,813.8M276.5,755.4Q282.5,753.4 281.8,751.0M279.5,765.5Q273.6,762.6 270.6,759.9M282.9,853.8Q281.9,844.5 277.9,846.5M248.6,771.2Q239.1,773.8 237.4,776.5M163.1,835.7Q162.3,842.2 161.1,845.9M247.7,811.9Q245.4,806.4 248.5,804.0M218.4,823.8Q215.9,826.0 212.6,827.4M169.9,849.0Q160.2,848.7 163.7,851.0M193.4,744.7Q185.7,741.8 189.9,738.8M162.1,881.4Q161.7,875.1 164.1,871.6M218.4,835.9Q215.1,833.4 211.5,834.7M268.1,758.5Q271.7,758.6 274.5,757.5M205.5,883.4Q201.8,880.3 203.8,875.3M180.1,840.3Q181.6,843.1 181.8,841.4M280.8,753.1Q282.6,747.7 285.7,747.2M236.4,786.0Q237.4,792.1 240.4,790.5M172.6,799.0Q176.9,802.0 177.6,802.4M226.2,780.6Q229.4,781.1 227.8,778.1M222.1,777.0Q222.6,769.9 224.2,772.2M215.2,800.6Q213.9,803.8 216.9,803.8M153.6,873.6Q147.1,870.0 146.5,866.2M284.9,762.9Q278.3,770.3 274.5,770.3M209.0,774.5Q214.3,771.7 209.4,771.5M139.7,841.7Q146.0,834.9 141.5,836.6M183.5,807.3Q181.9,812.2 178.2,813.4M151.9,879.1Q161.3,881.7 158.2,877.6M247.7,815.8Q248.5,809.3 249.8,805.1M237.4,813.1Q240.3,812.4 236.0,814.2M274.2,799.9Q272.5,793.2 271.4,792.8M226.8,742.5Q224.0,750.2 221.6,749.9M176.5,790.5Q171.7,783.9 176.2,783.6M168.6,787.5Q173.0,789.2 173.8,790.3M174.3,764.8Q177.7,767.3 177.7,764.8M268.0,820.8Q264.8,825.8 260.2,828.2M248.7,791.4Q247.9,786.5 245.1,783.8M167.7,826.8Q162.6,820.5 158.7,823.1M208.8,793.6Q202.8,793.5 199.8,792.4M233.3,842.7Q237.1,840.5 241.0,843.5M243.1,881.3Q248.6,887.7 252.6,884.0M225.8,876.6Q223.4,885.2 227.5,884.6M160.2,769.8Q163.0,764.5 161.2,764.0M274.5,775.4Q284.1,776.5 282.3,775.3M281.5,779.5Q289.4,784.2 286.8,781.4M275.9,771.8Q280.2,768.7 278.3,765.8M218.2,820.1Q212.9,824.0 210.9,827.4M275.3,848.2Q276.8,845.1 274.3,842.1M161.6,879.7Q169.4,874.4 170.0,870.6M201.3,746.5Q205.4,743.8 203.2,748.2M168.3,873.0Q165.4,880.1 161.5,884.1M197.2,788.7Q193.1,782.8 190.7,779.0M223.0,741.9Q226.7,738.0 223.4,736.3M155.6,784.5Q150.0,783.0 148.3,780.9M210.0,852.0Q202.3,855.2 202.1,851.4M163.9,862.1Q158.2,862.8 158.4,866.3M193.8,791.1Q191.8,793.4 192.2,793.2M211.4,804.2Q203.5,805.6 200.4,810.4M155.7,864.8Q159.6,872.4 157.2,868.2M217.9,860.8Q223.1,853.2 227.9,848.8M194.3,753.9Q194.5,747.8 197.0,750.7M284.9,837.1Q289.7,832.3 285.5,836.2M152.3,750.8Q154.7,746.5 156.3,741.8M169.8,842.8Q176.2,844.3 180.5,841.5M241.9,846.9Q235.8,841.2 237.8,836.3M167.0,816.6Q171.4,815.8 172.3,812.0M262.6,803.3Q255.0,802.2 251.4,804.5M255.8,863.8Q254.9,868.3 251.5,872.3M203.0,795.2Q195.1,794.2 193.3,792.6M250.9,851.7Q249.9,855.1 254.2,857.4M225.8,797.4Q231.6,795.8 228.7,791.8M190.3,826.0Q183.9,833.3 185.4,832.8M235.4,826.2Q230.6,821.8 230.8,821.7M260.4,766.3Q261.5,761.3 265.0,757.1M209.8,803.0Q208.7,798.7 206.4,795.0M221.0,822.5Q225.2,822.5 222.2,827.1M205.4,820.9Q203.6,828.3 206.7,830.0M139.2,802.5Q135.9,802.7 138.8,800.9M181.8,829.6Q176.2,826.3 179.8,826.5M189.1,747.7Q183.9,745.9 184.2,744.4M140.0,743.8Q142.0,746.9 145.5,747.7M173.8,842.1Q171.5,839.5 174.1,836.8M284.6,759.0Q283.6,763.6 287.2,766.8M223.6,760.1Q216.5,763.5 212.0,767.7M261.8,874.3Q259.5,867.4 264.2,865.1M183.6,756.3Q187.3,764.1 183.2,766.5M196.9,866.4Q197.3,858.6 200.8,854.1M177.8,792.1Q170.8,795.4 174.6,797.8M274.6,839.9Q270.5,845.1 273.0,848.2M193.0,790.2Q189.5,787.2 193.4,782.2M233.7,809.2Q236.1,815.8 235.8,820.4M268.2,823.9Q274.5,817.3 271.1,820.6M260.7,883.0Q261.0,877.2 258.1,878.8M169.8,848.9Q161.9,844.9 160.5,843.0M271.0,835.0Q266.1,839.8 265.4,841.3M214.4,780.0Q223.6,778.8 226.2,776.6M167.4,845.0Q170.7,838.2 167.8,840.4M215.4,792.8Q210.2,789.6 211.7,792.1M282.5,754.5Q273.8,750.4 275.4,751.2M263.5,742.9Q265.5,735.8 266.3,733.9M229.4,756.6Q224.7,755.8 229.0,758.9M208.0,848.5Q203.0,852.9 199.7,856.5M250.6,849.3Q258.1,853.6 253.2,854.3M210.2,746.9Q202.1,751.3 203.3,749.5M257.9,790.2Q262.5,786.7 258.3,791.4M149.4,775.2Q149.9,771.5 150.3,775.1M225.1,789.1Q225.6,780.4 226.3,781.6M186.1,797.8Q195.9,797.3 190.9,794.2M171.9,854.1Q173.2,858.0 175.8,854.7M281.7,804.8Q288.7,799.6 285.8,802.4M199.6,770.7Q207.2,773.0 207.8,771.0M260.6,767.1Q257.2,768.3 255.7,772.1M212.0,760.7Q212.7,768.2 210.4,772.1M147.8,865.2Q141.5,859.1 140.1,854.8M164.1,829.8Q167.9,830.4 170.7,834.2M264.0,860.6Q255.4,857.5 257.4,858.1M201.2,741.9Q205.2,744.4 204.8,740.6M280.7,822.5Q280.1,813.2 277.4,817.1M278.9,777.3Q284.9,783.4 288.8,786.4M198.6,826.2Q202.1,829.3 201.3,831.7M152.0,873.8Q161.6,875.7 158.9,878.8M258.4,877.6Q250.7,879.1 248.6,882.5M154.9,867.3Q152.0,865.5 156.4,863.6M148.9,776.1Q153.8,777.0 155.9,781.9M231.2,863.0Q234.7,855.8 233.5,853.3M161.8,818.2Q164.1,826.0 162.3,826.8M218.8,830.0Q221.5,833.9 223.4,831.1M237.0,879.2Q229.6,885.4 230.7,889.9M215.8,848.2Q214.0,844.2 214.2,845.0M206.7,834.7Q213.9,830.0 217.0,826.4M241.7,829.9Q244.5,828.7 241.2,833.5M193.4,841.3Q188.5,838.2 187.9,838.8M282.8,816.2Q284.1,811.2 286.2,812.3M247.5,866.7Q256.1,871.4 257.2,869.0M206.8,752.4Q207.9,761.2 210.0,764.9M162.7,754.1Q158.0,758.5 160.1,756.5M246.6,823.6Q244.6,831.9 240.3,832.8M166.4,744.5Q159.8,745.4 161.0,744.2M274.7,852.8Q276.4,855.3 281.0,854.4M154.3,764.2Q153.0,760.2 151.7,762.0M190.4,833.7Q198.5,831.0 199.8,832.2M184.2,831.8Q180.0,826.1 179.9,828.6M168.9,842.5Q172.1,842.0 169.6,846.9M151.0,857.7Q148.0,856.0 149.3,851.1M263.0,782.4Q271.2,778.2 267.6,777.2M161.3,848.9Q164.2,850.9 160.3,854.5M175.1,785.5Q168.6,787.7 167.7,792.2M188.7,807.8Q191.8,804.2 188.5,807.6M185.1,868.5Q187.6,863.5 185.9,859.5M266.5,802.9Q264.2,806.5 261.5,810.2M158.1,819.3Q153.4,814.6 153.4,813.6M167.0,858.2Q172.5,854.0 170.0,858.1M168.5,763.3Q162.2,757.0 163.0,753.1M281.9,761.1Q276.4,769.4 279.4,771.9M150.1,862.7Q147.6,864.5 150.5,868.8M145.9,804.6Q150.3,801.5 148.3,804.3M203.4,884.0Q209.0,876.9 211.0,873.9M239.3,822.8Q232.4,823.5 230.4,820.5M272.2,791.9Q279.9,797.9 280.0,799.7M188.5,760.0Q184.2,767.7 181.9,771.8M183.4,869.3Q186.1,874.8 182.4,871.2M215.3,791.6Q210.9,790.5 209.0,788.8M270.2,750.1Q262.4,754.6 263.1,752.2M284.6,754.1Q286.6,756.5 286.0,760.1M180.2,780.0Q181.3,776.6 176.4,778.2M151.9,815.3Q156.3,821.0 159.8,820.5M178.9,829.3Q177.8,826.1 175.2,824.8M212.8,778.2Q210.2,774.2 214.3,772.8M171.3,749.8Q174.5,753.0 178.3,752.1M203.7,878.4Q211.9,876.7 209.3,874.9" fill="none" stroke="#111" stroke-width="1.85" stroke-linecap="round" clip-path="url(#cms)"/>
<text x="304.26" y="770.8" font-family='"Liberation Sans", sans-serif' font-size="16.5" textLength="95.89" lengthAdjust="spacingAndGlyphs">SCIMITAR3D</text>
<polygon points="308,786.7 383,786.7 383,774.5 408.6,799.5 383,824.5 383,812.3 308,812.3" fill="#7F7F7F"/>
<text x="467" y="720.9" font-family='"Liberation Sans", sans-serif' font-size="16.5" text-anchor="middle">Ground Truth</text>
<text x="467" y="744" font-family='"Liberation Sans", sans-serif' font-size="16.5" text-anchor="middle">Temperature</text>
<text x="467" y="847.6" font-family='"Liberation Sans", sans-serif' font-size="16.5" text-anchor="middle">Ground Truth</text>
<text x="467" y="870.8" font-family='"Liberation Sans", sans-serif' font-size="16.5" text-anchor="middle">Pressure</text>
<text x="467" y="768.4" font-family='"Liberation Serif", serif' font-size="18" text-anchor="middle"><tspan font-style="italic">T̂</tspan>(<tspan font-style="italic">x</tspan>, <tspan font-style="italic">y</tspan>, <tspan font-style="italic">t</tspan>)</text>
<text x="467" y="895.8" font-family='"Liberation Serif", serif' font-size="18" text-anchor="middle"><tspan font-style="italic">P̂</tspan>(<tspan font-style="italic">x</tspan>, <tspan font-style="italic">y</tspan>, <tspan font-style="italic">t</tspan>)</text>
<rect x="535.5" y="672.8" width="124.5" height="124.5" fill="#00008A"/>
<polygon points="535.5,672.8 547.95,672.8 547.95,797.3 535.5,797.3" fill="#0000B8"/>
<rect x="666.3" y="672.8" width="124.5" height="124.5" fill="#00008A"/>
<polygon points="666.3,672.8 724.81,672.8 724.81,797.3 666.3,797.3" fill="#0008DC"/>
<rect x="796.8" y="672.8" width="124.5" height="124.5" fill="#00008A"/>
<polygon points="796.8,672.8 905.38,672.8 899.38,797.3 796.8,797.3" fill="#0008DC"/>
<rect x="927.4" y="672.8" width="124.5" height="124.5" fill="#00008A"/>
<rect x="927.4" y="672.8" width="124.5" height="124.5" fill="#0004E0"/>
<rect x="1058" y="672.8" width="124.5" height="124.5" fill="#00008A"/>
<rect x="1058" y="672.8" width="124.5" height="124.5" fill="#0004E0"/>
<rect x="1188.2" y="672.8" width="124.5" height="124.5" fill="#00008A"/>
<rect x="1188.2" y="672.8" width="124.5" height="124.5" fill="#0004E0"/>
<rect x="1319" y="672.8" width="124.5" height="124.5" fill="#00008A"/>
<rect x="1319" y="672.8" width="124.5" height="124.5" fill="#0004E0"/>
<rect x="535.5" y="801.8" width="124.5" height="124.5" fill="#0000A6"/>
<rect x="666.3" y="801.8" width="124.5" height="124.5" fill="#0000A0"/>
<rect x="796.8" y="801.8" width="124.5" height="124.5" fill="#0050F0"/>
<rect x="927.4" y="801.8" width="124.5" height="124.5" fill="#0868F4"/>
<rect x="1058" y="801.8" width="124.5" height="124.5" fill="#0C7CF6"/>
<rect x="1188.2" y="801.8" width="124.5" height="124.5" fill="#0E7EF6"/>
<rect x="1319" y="801.8" width="124.5" height="124.5" fill="#0E80F6"/>
<rect x="535.5" y="801.8" width="12.45" height="124.5" fill="#0838D8"/>
<polygon points="666.3,801.8 726.06,801.8 722.32,926.3 666.3,926.3" fill="#0440EC"/>
<polygon points="906.36,801.8 921.3,801.8 921.3,926.3 912.58,926.3 901.38,864.05" fill="#00009C"/>
<clipPath id="cpr"><rect x="666.3" y="801.8" width="124.5" height="124.5"/><rect x="796.8" y="801.8" width="104.58" height="124.5"/><rect x="927.4" y="801.8" width="124.5" height="124.5"/></clipPath>
<g clip-path="url(#cpr)"><g opacity="0.55" filter="url(#blur4)">
<ellipse cx="693.4" cy="870.7" rx="17.2" ry="8.8" fill="#1070ff"/>
<ellipse cx="695.9" cy="873.8" rx="9.8" ry="9.1" fill="#1070ff"/>
<ellipse cx="701.5" cy="896.9" rx="8.9" ry="7.8" fill="#1070ff"/>
<ellipse cx="676.7" cy="898.7" rx="14.9" ry="6.3" fill="#1070ff"/>
<ellipse cx="717.8" cy="916.1" rx="14.5" ry="9.7" fill="#1070ff"/>
<ellipse cx="679.8" cy="809.7" rx="13.3" ry="6.4" fill="#1070ff"/>
<ellipse cx="820.8" cy="835.1" rx="8.3" ry="8.8" fill="#20a0ff"/>
<ellipse cx="844.2" cy="902.4" rx="13.2" ry="9.8" fill="#20a0ff"/>
<ellipse cx="849.7" cy="882.3" rx="12.6" ry="7.7" fill="#20a0ff"/>
<ellipse cx="896.2" cy="919.6" rx="16.4" ry="10.2" fill="#20a0ff"/>
<ellipse cx="832.5" cy="833.8" rx="10.9" ry="6.4" fill="#20a0ff"/>
<ellipse cx="874.6" cy="852.9" rx="16.5" ry="8.3" fill="#20a0ff"/>
<ellipse cx="892.5" cy="903.0" rx="8.0" ry="7.3" fill="#20a0ff"/>
<ellipse cx="888.0" cy="860.7" rx="17.8" ry="8.4" fill="#20a0ff"/>
<ellipse cx="809.8" cy="878.6" rx="15.8" ry="7.6" fill="#20a0ff"/>
<ellipse cx="811.2" cy="845.3" rx="17.6" ry="10.5" fill="#20a0ff"/>
<ellipse cx="944.6" cy="835.6" rx="9.0" ry="6.4" fill="#18a8ff"/>
<ellipse cx="1008.0" cy="827.9" rx="13.6" ry="8.7" fill="#18a8ff"/>
<ellipse cx="951.4" cy="890.0" rx="9.3" ry="9.9" fill="#18a8ff"/>
<ellipse cx="944.5" cy="855.2" rx="10.1" ry="7.6" fill="#18a8ff"/>
<ellipse cx="1024.3" cy="898.0" rx="11.0" ry="11.3" fill="#18a8ff"/>
<ellipse cx="953.3" cy="852.2" rx="16.5" ry="9.9" fill="#18a8ff"/>
<ellipse cx="943.0" cy="918.9" rx="10.1" ry="7.5" fill="#18a8ff"/>
<ellipse cx="1005.8" cy="844.9" rx="11.0" ry="6.4" fill="#18a8ff"/>
<ellipse cx="942.0" cy="873.3" rx="10.4" ry="9.6" fill="#18a8ff"/>
</g></g>
<circle cx="542.64" cy="763.95" r="1.6" fill="#30d8f0"/><circle cx="545.03" cy="763.72" r="1.72" fill="#30d8f0"/><circle cx="538.21" cy="730.94" r="1.74" fill="#30d8f0"/><circle cx="542.84" cy="782.97" r="0.91" fill="#30d8f0"/><circle cx="541.49" cy="704.76" r="1.34" fill="#30d8f0"/><circle cx="542.28" cy="676.86" r="1.02" fill="#30d8f0"/><circle cx="540.08" cy="784.81" r="1.57" fill="#30d8f0"/><circle cx="539.18" cy="770.57" r="0.94" fill="#30d8f0"/><circle cx="542.6" cy="690.43" r="0.8" fill="#30d8f0"/><circle cx="544.5" cy="700.32" r="1.02" fill="#30d8f0"/><circle cx="545.33" cy="779.56" r="1.09" fill="#30d8f0"/><circle cx="545.17" cy="739.74" r="1.48" fill="#30d8f0"/><circle cx="539.52" cy="787.76" r="1.49" fill="#30d8f0"/><circle cx="545.21" cy="782.11" r="1.1" fill="#30d8f0"/><circle cx="541.14" cy="824.13" r="0.95" fill="#30d8f0"/><circle cx="538.56" cy="840.31" r="1.4" fill="#30d8f0"/><circle cx="538.02" cy="885.32" r="1.14" fill="#30d8f0"/><circle cx="540.69" cy="902.12" r="1.28" fill="#30d8f0"/><circle cx="540.74" cy="861.81" r="1.5" fill="#30d8f0"/><circle cx="538.49" cy="920.83" r="0.82" fill="#30d8f0"/><circle cx="544.52" cy="905.27" r="0.82" fill="#30d8f0"/><circle cx="544.86" cy="848.06" r="1.38" fill="#30d8f0"/><circle cx="538.07" cy="809.87" r="0.98" fill="#30d8f0"/><circle cx="546.31" cy="827.78" r="1.56" fill="#30d8f0"/><circle cx="546.09" cy="916.88" r="1.14" fill="#30d8f0"/><circle cx="541.08" cy="867" r="1.58" fill="#30d8f0"/><circle cx="538.93" cy="893.74" r="1.6" fill="#30d8f0"/><circle cx="545.48" cy="808.67" r="1.75" fill="#30d8f0"/><circle cx="538.78" cy="845.02" r="1.41" fill="#30d8f0"/><circle cx="545.99" cy="844.92" r="1.72" fill="#30d8f0"/><circle cx="542.74" cy="841.63" r="1.12" fill="#30d8f0"/><circle cx="539.54" cy="813.64" r="0.95" fill="#30d8f0"/><circle cx="544" cy="923.42" r="0.96" fill="#30d8f0"/><circle cx="538.41" cy="922.22" r="1.33" fill="#30d8f0"/><circle cx="541.53" cy="832.66" r="1.39" fill="#30d8f0"/><circle cx="545.19" cy="858.75" r="1.22" fill="#30d8f0"/><circle cx="716.59" cy="784.78" r="0.83" fill="#30d8f0"/><circle cx="720.4" cy="775.5" r="0.93" fill="#30d8f0"/><circle cx="722.48" cy="788.81" r="1.43" fill="#30d8f0"/><circle cx="722.97" cy="688.03" r="1.23" fill="#30d8f0"/><circle cx="717.4" cy="776.25" r="1.09" fill="#30d8f0"/><circle cx="720.05" cy="794.73" r="1.65" fill="#30d8f0"/><circle cx="724.61" cy="729.5" r="1.29" fill="#30d8f0"/><circle cx="722.46" cy="732.55" r="1.09" fill="#30d8f0"/><circle cx="719.62" cy="692.8" r="1.18" fill="#30d8f0"/><circle cx="724.71" cy="790.01" r="1.43" fill="#30d8f0"/><circle cx="720.45" cy="715.74" r="0.89" fill="#30d8f0"/><circle cx="718.47" cy="768.76" r="1.67" fill="#30d8f0"/><circle cx="719.25" cy="769.24" r="1.57" fill="#30d8f0"/><circle cx="722.15" cy="754.65" r="1.56" fill="#30d8f0"/><circle cx="719.72" cy="888.49" r="1.08" fill="#30d8f0"/><circle cx="720.94" cy="896.29" r="1.49" fill="#30d8f0"/><circle cx="719.03" cy="917.3" r="1.45" fill="#30d8f0"/><circle cx="721.88" cy="805.67" r="1.35" fill="#30d8f0"/><circle cx="718.6" cy="884.56" r="1.26" fill="#30d8f0"/><circle cx="724.23" cy="881.67" r="1.6" fill="#30d8f0"/><circle cx="719.56" cy="881.27" r="1.54" fill="#30d8f0"/><circle cx="724.35" cy="846.13" r="1.64" fill="#30d8f0"/><circle cx="724.76" cy="886.56" r="1.78" fill="#30d8f0"/><circle cx="725.63" cy="866.22" r="1.33" fill="#30d8f0"/><circle cx="717.76" cy="904.28" r="1.74" fill="#30d8f0"/><circle cx="720.85" cy="886.93" r="1.52" fill="#30d8f0"/><circle cx="723.37" cy="824.83" r="1.58" fill="#30d8f0"/><circle cx="721.89" cy="883.84" r="1.22" fill="#30d8f0"/><circle cx="722.31" cy="896.88" r="1.44" fill="#30d8f0"/><circle cx="723.28" cy="807.59" r="0.96" fill="#30d8f0"/><circle cx="720.49" cy="881.99" r="1.02" fill="#30d8f0"/><circle cx="722.93" cy="879.69" r="0.84" fill="#30d8f0"/><circle cx="720.8" cy="831.33" r="0.85" fill="#30d8f0"/><circle cx="717.43" cy="842.22" r="0.98" fill="#30d8f0"/><circle cx="718.03" cy="808.55" r="1.27" fill="#30d8f0"/><circle cx="719.89" cy="877.41" r="1.39" fill="#30d8f0"/><circle cx="891.3" cy="783.24" r="0.8" fill="#30d8f0"/><circle cx="892.97" cy="708.58" r="1.21" fill="#30d8f0"/><circle cx="890.08" cy="774.66" r="1.17" fill="#30d8f0"/><circle cx="889.29" cy="748.62" r="0.89" fill="#30d8f0"/><circle cx="894.36" cy="715.85" r="1.38" fill="#30d8f0"/><circle cx="898.47" cy="773.12" r="1.22" fill="#30d8f0"/><circle cx="897.03" cy="752.06" r="1.17" fill="#30d8f0"/><circle cx="890.35" cy="746.52" r="1.36" fill="#30d8f0"/><circle cx="898.46" cy="790.98" r="1.41" fill="#30d8f0"/><circle cx="892.43" cy="782.08" r="0.8" fill="#30d8f0"/><circle cx="890" cy="742.92" r="1.42" fill="#30d8f0"/><circle cx="890.33" cy="750.52" r="1.69" fill="#30d8f0"/><circle cx="892.67" cy="726.88" r="1.03" fill="#30d8f0"/><circle cx="891.83" cy="791.52" r="1.18" fill="#30d8f0"/><circle cx="905.88" cy="913.5" r="1.4" fill="#30d8f0"/><circle cx="897.14" cy="921.54" r="1.3" fill="#30d8f0"/><circle cx="899.08" cy="842.44" r="1.78" fill="#30d8f0"/><circle cx="900.03" cy="838.52" r="1.28" fill="#30d8f0"/><circle cx="895.43" cy="878.59" r="1.24" fill="#30d8f0"/><circle cx="897.56" cy="897.72" r="1.63" fill="#30d8f0"/><circle cx="894.07" cy="867.94" r="1.07" fill="#30d8f0"/><circle cx="905.55" cy="897.74" r="1.05" fill="#30d8f0"/><circle cx="897.24" cy="822.79" r="1.79" fill="#30d8f0"/><circle cx="897.56" cy="876.96" r="1.27" fill="#30d8f0"/><circle cx="901.94" cy="876.46" r="1.54" fill="#30d8f0"/><circle cx="895.38" cy="895.17" r="1.1" fill="#30d8f0"/><circle cx="900.55" cy="844.46" r="1.1" fill="#30d8f0"/><circle cx="900.51" cy="859.79" r="1.16" fill="#30d8f0"/><circle cx="903.19" cy="874.9" r="0.84" fill="#30d8f0"/><circle cx="897.05" cy="858.74" r="1.72" fill="#30d8f0"/><circle cx="904.96" cy="869.5" r="0.81" fill="#30d8f0"/><circle cx="903.6" cy="855.41" r="1.38" fill="#30d8f0"/><circle cx="902.73" cy="879.85" r="1.28" fill="#30d8f0"/><circle cx="905.26" cy="850.36" r="1.19" fill="#30d8f0"/><circle cx="904.52" cy="827.77" r="1.1" fill="#30d8f0"/><circle cx="904.24" cy="812.18" r="1.64" fill="#30d8f0"/><circle cx="902.56" cy="856.02" r="1.09" fill="#30d8f0"/><circle cx="903.63" cy="913.13" r="0.94" fill="#30d8f0"/>
<clipPath id="cta1"><rect x="666.3" y="672.8" width="124.5" height="124.5"/></clipPath>
<defs><path id="hta1" d="M677.0,683.0Q675.7,684.9 673.9,682.4Q672.1,679.9 672.7,678.6Q673.4,677.2 674.2,676.4Q675.1,675.6 676.9,676.1Q678.7,676.7 678.9,678.2Q679.1,679.8 678.7,680.5Q678.4,681.1 677.0,683.0ZM682.7,743.3Q682.0,743.0 681.5,742.0Q681.0,741.0 681.9,740.3Q682.7,739.6 683.6,739.5Q684.5,739.3 685.5,739.6Q686.5,739.9 686.2,741.5Q685.8,743.1 684.6,743.3Q683.4,743.5 682.7,743.3Z"/></defs>
<g clip-path="url(#cta1)" fill="#d8f020" stroke-linejoin="round"><use href="#hta1" stroke="#18c8e8" stroke-width="3.4"/><use href="#hta1" stroke="#f0e020" stroke-width="2"/><use href="#hta1" stroke="#e83000" stroke-width="0.9"/><use href="#hta1"/></g>
<clipPath id="cta2"><rect x="796.8" y="672.8" width="124.5" height="124.5"/></clipPath>
<defs><path id="hta2" d="M813.6,680.2Q812.3,682.2 811.2,685.0Q810.1,687.7 808.0,688.0Q805.9,688.3 804.3,685.6Q802.7,682.9 800.1,681.6Q797.5,680.4 797.2,677.2Q796.9,674.0 800.5,672.8Q804.0,671.7 805.4,672.3Q806.9,672.9 810.8,673.0Q814.7,673.2 814.8,675.7Q814.9,678.1 813.6,680.2ZM860.1,690.9Q859.4,691.5 858.3,691.3Q857.2,691.0 856.8,689.6Q856.4,688.2 857.2,687.9Q858.1,687.5 859.1,686.9Q860.1,686.3 861.0,687.3Q861.9,688.4 861.4,689.4Q860.9,690.4 860.1,690.9ZM811.6,700.2Q811.4,699.7 811.2,698.6Q811.0,697.5 811.9,697.0Q812.8,696.6 813.8,696.9Q814.8,697.2 815.2,698.5Q815.6,699.9 814.8,700.4Q813.9,700.9 812.8,700.8Q811.8,700.7 811.6,700.2ZM880.7,712.0Q879.1,712.5 878.2,711.4Q877.3,710.4 877.4,708.1Q877.6,705.9 879.5,705.5Q881.5,705.1 883.2,706.1Q884.8,707.1 885.6,708.3Q886.4,709.5 884.3,710.5Q882.2,711.6 880.7,712.0ZM854.3,781.1Q855.5,783.3 853.8,783.8Q852.0,784.2 849.7,785.2Q847.3,786.1 846.9,784.3Q846.4,782.6 847.1,780.7Q847.8,778.8 849.0,778.3Q850.2,777.9 851.6,778.4Q853.0,778.9 854.3,781.1ZM831.0,786.1Q831.1,788.0 830.4,789.0Q829.8,790.0 828.0,790.4Q826.3,790.7 825.1,789.2Q823.9,787.7 824.5,786.6Q825.1,785.5 826.3,783.9Q827.6,782.2 829.2,783.3Q830.9,784.3 831.0,786.1ZM832.7,786.5Q831.4,786.1 831.2,784.7Q831.1,783.3 832.1,783.1Q833.1,783.0 834.3,782.1Q835.5,781.3 836.7,782.7Q838.0,784.0 837.2,786.1Q836.5,788.2 835.3,787.5Q834.1,786.8 832.7,786.5ZM853.4,795.9Q853.7,796.7 852.1,797.3Q850.6,798.0 849.5,797.0Q848.5,796.0 848.9,794.9Q849.4,793.7 850.4,793.2Q851.4,792.8 852.5,792.7Q853.6,792.7 853.4,793.9Q853.2,795.1 853.4,795.9Z"/></defs>
<g clip-path="url(#cta2)" fill="#e03800" stroke-linejoin="round"><use href="#hta2" stroke="#18c8e8" stroke-width="3.4"/><use href="#hta2" stroke="#f0e020" stroke-width="2"/><use href="#hta2" stroke="#e83000" stroke-width="0.9"/><use href="#hta2"/></g>
<clipPath id="cta3"><rect x="927.4" y="672.8" width="124.5" height="124.5"/></clipPath>
<defs><path id="hta3" d="M931.8,680.4Q929.2,678.7 931.7,676.0Q934.3,673.3 934.3,671.4Q934.3,669.6 937.3,669.5Q940.3,669.5 945.3,670.8Q950.2,672.2 948.0,674.2Q945.9,676.2 948.1,679.3Q950.3,682.5 947.2,683.1Q944.0,683.7 941.8,684.0Q939.5,684.3 937.0,683.3Q934.4,682.2 931.8,680.4ZM990.3,693.1Q988.3,694.3 986.7,694.4Q985.1,694.4 983.1,693.0Q981.1,691.6 981.6,689.9Q982.0,688.2 981.7,685.5Q981.3,682.8 983.6,682.5Q985.9,682.3 987.1,682.7Q988.2,683.1 990.6,682.8Q992.9,682.4 993.7,685.9Q994.4,689.4 993.4,690.6Q992.4,691.9 990.3,693.1ZM948.6,700.5Q947.6,701.0 946.5,701.3Q945.5,701.7 943.9,701.7Q942.3,701.6 942.1,699.7Q941.9,697.7 943.9,697.2Q945.9,696.6 947.5,695.9Q949.2,695.3 949.4,697.6Q949.6,699.9 948.6,700.5ZM1009.3,712.1Q1008.1,710.4 1007.0,709.2Q1005.9,708.1 1005.8,706.2Q1005.8,704.3 1007.5,702.9Q1009.2,701.5 1010.7,701.8Q1012.1,702.2 1013.9,702.3Q1015.8,702.5 1016.9,705.4Q1017.9,708.2 1017.6,709.6Q1017.3,711.1 1016.0,711.6Q1014.7,712.2 1012.6,713.0Q1010.4,713.8 1009.3,712.1ZM987.4,711.2Q986.6,711.8 985.7,711.9Q984.7,712.1 984.2,711.4Q983.7,710.7 984.2,709.6Q984.7,708.5 985.6,708.5Q986.4,708.5 986.9,709.1Q987.3,709.6 987.8,710.1Q988.3,710.7 987.4,711.2ZM1030.2,720.6Q1031.4,722.1 1029.9,723.6Q1028.4,725.1 1027.3,724.7Q1026.2,724.3 1025.5,723.2Q1024.8,722.0 1023.7,721.0Q1022.7,720.0 1024.8,719.4Q1026.8,718.8 1027.9,719.0Q1029.0,719.2 1030.2,720.6ZM1035.7,729.5Q1033.6,728.4 1034.2,725.9Q1034.8,723.4 1034.9,722.3Q1035.1,721.2 1036.8,720.1Q1038.6,719.0 1040.5,718.9Q1042.5,718.8 1042.8,721.0Q1043.2,723.3 1044.8,725.5Q1046.4,727.7 1044.7,728.8Q1043.0,729.9 1040.9,731.3Q1038.8,732.7 1038.3,731.6Q1037.8,730.5 1035.7,729.5ZM1014.9,724.5Q1014.9,725.1 1014.8,726.0Q1014.6,726.9 1013.6,726.7Q1012.6,726.5 1011.8,726.6Q1011.1,726.7 1011.4,725.3Q1011.7,723.8 1012.3,723.8Q1012.8,723.9 1013.9,723.9Q1015.0,723.9 1014.9,724.5ZM943.5,743.7Q942.1,742.5 942.9,741.1Q943.8,739.7 944.4,738.9Q945.0,738.2 947.1,738.3Q949.2,738.4 949.5,740.1Q949.7,741.8 948.7,742.6Q947.7,743.4 946.3,744.2Q944.9,745.0 943.5,743.7ZM1027.3,739.2Q1026.6,740.2 1026.1,739.2Q1025.7,738.1 1025.3,737.6Q1024.9,737.2 1025.7,736.6Q1026.5,736.0 1027.4,736.0Q1028.3,736.1 1028.3,736.8Q1028.3,737.5 1028.2,737.9Q1028.0,738.3 1027.3,739.2ZM1022.3,749.3Q1021.1,749.1 1021.4,748.1Q1021.6,747.0 1022.0,746.5Q1022.4,745.9 1023.0,746.0Q1023.7,746.2 1024.3,746.7Q1025.0,747.3 1025.0,748.1Q1025.1,748.9 1024.3,749.2Q1023.4,749.4 1022.3,749.3ZM1028.7,752.4Q1028.3,753.0 1027.5,753.0Q1026.7,753.1 1025.9,752.7Q1025.1,752.4 1024.8,751.2Q1024.6,750.0 1025.7,749.5Q1026.7,749.0 1027.8,749.3Q1028.8,749.5 1029.0,750.6Q1029.2,751.7 1028.7,752.4ZM1036.1,753.0Q1036.8,753.5 1036.4,754.7Q1036.0,755.9 1034.8,756.0Q1033.5,756.0 1032.7,755.2Q1031.8,754.3 1032.1,753.2Q1032.3,752.2 1033.3,752.1Q1034.2,752.1 1034.8,752.2Q1035.4,752.4 1036.1,753.0ZM1018.6,760.8Q1018.3,760.3 1018.0,759.8Q1017.7,759.3 1018.5,758.8Q1019.4,758.2 1019.9,758.4Q1020.4,758.6 1021.1,759.6Q1021.8,760.7 1021.0,761.1Q1020.2,761.5 1019.5,761.4Q1018.9,761.3 1018.6,760.8ZM1043.3,766.8Q1042.5,767.6 1042.1,767.7Q1041.7,767.7 1040.7,767.2Q1039.7,766.7 1039.7,765.8Q1039.8,764.9 1040.6,764.2Q1041.4,763.6 1042.3,764.3Q1043.2,765.1 1043.6,765.5Q1044.0,766.0 1043.3,766.8ZM985.6,785.7Q983.6,787.5 981.8,786.9Q980.0,786.3 978.9,785.6Q977.8,785.0 977.7,781.8Q977.6,778.7 979.0,778.2Q980.5,777.6 981.0,776.8Q981.5,776.0 984.1,775.6Q986.7,775.2 987.7,776.8Q988.6,778.3 987.9,779.6Q987.2,780.9 987.4,782.4Q987.5,783.8 985.6,785.7ZM961.6,788.4Q961.8,789.5 960.9,791.1Q960.0,792.7 957.3,792.5Q954.7,792.2 955.3,790.3Q955.9,788.4 954.1,787.8Q952.3,787.3 953.6,785.2Q954.8,783.0 956.1,783.5Q957.4,783.9 958.5,783.4Q959.7,782.9 960.9,784.0Q962.2,785.0 961.8,786.1Q961.4,787.2 961.6,788.4ZM985.5,795.5Q983.9,796.9 983.1,796.1Q982.3,795.2 981.6,794.6Q980.8,794.0 981.2,792.8Q981.6,791.5 982.8,791.3Q984.0,791.2 984.6,791.9Q985.1,792.7 986.1,793.4Q987.1,794.1 985.5,795.5ZM1038.4,705.9Q1037.8,704.9 1037.6,703.6Q1037.4,702.3 1037.7,701.6Q1038.0,700.8 1039.4,701.6Q1040.8,702.3 1041.2,703.1Q1041.7,703.9 1041.3,704.8Q1040.9,705.8 1039.9,706.3Q1039.0,706.8 1038.4,705.9Z"/></defs>
<g clip-path="url(#cta3)" fill="#b01000" stroke-linejoin="round"><use href="#hta3" stroke="#18c8e8" stroke-width="3.4"/><use href="#hta3" stroke="#f0e020" stroke-width="2"/><use href="#hta3" stroke="#e83000" stroke-width="0.9"/><use href="#hta3"/></g>
<clipPath id="cta4"><rect x="1058" y="672.8" width="124.5" height="124.5"/></clipPath>
<defs><path id="hta4" d="M1058.9,682.2Q1056.2,678.2 1058.4,676.7Q1060.6,675.2 1063.0,670.0Q1065.5,664.8 1067.8,667.4Q1070.0,670.0 1073.9,672.2Q1077.8,674.5 1079.4,676.5Q1081.0,678.5 1082.3,683.0Q1083.5,687.5 1079.1,688.4Q1074.8,689.3 1072.0,690.8Q1069.1,692.3 1065.4,689.2Q1061.7,686.2 1058.9,682.2ZM1121.6,697.0Q1118.5,696.9 1116.3,697.7Q1114.1,698.6 1111.7,696.8Q1109.2,695.1 1107.8,689.9Q1106.4,684.7 1108.6,683.9Q1110.9,683.0 1114.8,681.7Q1118.7,680.4 1120.8,682.0Q1123.0,683.6 1123.4,685.5Q1123.9,687.4 1126.6,689.9Q1129.2,692.4 1127.0,694.8Q1124.7,697.1 1121.6,697.0ZM1073.4,701.7Q1073.3,699.0 1073.8,698.3Q1074.2,697.5 1074.7,696.5Q1075.2,695.4 1076.2,693.9Q1077.1,692.3 1078.5,693.6Q1079.9,694.9 1082.2,695.1Q1084.5,695.2 1083.2,697.6Q1081.9,699.9 1081.7,702.5Q1081.5,705.1 1079.4,705.1Q1077.2,705.2 1075.3,704.8Q1073.4,704.4 1073.4,701.7ZM1149.7,712.7Q1148.6,715.3 1145.9,716.1Q1143.2,716.9 1141.4,714.8Q1139.7,712.7 1138.3,711.3Q1136.9,710.0 1138.8,707.9Q1140.8,705.9 1141.9,704.2Q1143.0,702.4 1144.2,701.5Q1145.3,700.6 1146.9,700.7Q1148.6,700.7 1151.3,703.1Q1153.9,705.5 1152.4,707.8Q1150.9,710.1 1149.7,712.7ZM1117.9,715.4Q1115.8,715.6 1115.7,714.2Q1115.5,712.8 1115.0,712.1Q1114.5,711.4 1114.4,710.8Q1114.3,710.1 1115.2,709.6Q1116.2,709.0 1117.1,708.5Q1118.0,708.0 1119.5,707.7Q1121.1,707.4 1121.0,708.9Q1120.9,710.4 1121.3,711.5Q1121.8,712.6 1120.9,713.8Q1120.1,715.1 1117.9,715.4ZM1173.1,704.8Q1172.7,705.7 1171.6,706.8Q1170.6,708.0 1169.1,706.7Q1167.6,705.5 1166.8,704.0Q1166.0,702.6 1167.5,701.9Q1169.0,701.2 1170.0,701.2Q1171.1,701.2 1172.3,702.6Q1173.5,703.9 1173.1,704.8ZM1161.1,723.1Q1160.1,724.7 1159.5,726.8Q1158.9,728.8 1155.8,727.0Q1152.7,725.2 1152.1,724.9Q1151.4,724.6 1152.2,721.9Q1153.0,719.2 1152.0,716.3Q1151.0,713.4 1153.5,714.1Q1155.9,714.9 1158.4,713.3Q1161.0,711.8 1163.0,714.0Q1165.0,716.2 1163.5,718.9Q1162.0,721.6 1161.1,723.1ZM1175.8,732.4Q1174.0,734.8 1170.4,733.4Q1166.9,732.1 1163.5,730.4Q1160.1,728.8 1162.1,727.2Q1164.2,725.7 1164.2,723.1Q1164.3,720.6 1166.3,718.9Q1168.3,717.2 1172.1,717.4Q1176.0,717.5 1177.5,720.0Q1179.0,722.5 1179.0,723.8Q1179.0,725.0 1178.3,727.5Q1177.6,730.0 1175.8,732.4ZM1145.8,724.5Q1145.1,727.0 1143.9,727.5Q1142.7,728.0 1141.9,727.8Q1141.2,727.7 1139.6,726.0Q1138.1,724.3 1139.4,723.1Q1140.6,721.8 1141.7,721.9Q1142.8,722.1 1144.6,722.1Q1146.5,722.0 1145.8,724.5ZM1081.4,741.7Q1079.1,743.3 1079.4,745.2Q1079.8,747.0 1077.8,746.4Q1075.7,745.8 1073.4,745.2Q1071.0,744.7 1069.8,744.7Q1068.5,744.8 1069.2,741.0Q1069.9,737.1 1070.5,736.9Q1071.0,736.8 1073.6,736.4Q1076.2,735.9 1078.3,735.5Q1080.4,735.1 1082.0,737.6Q1083.7,740.0 1081.4,741.7ZM1150.2,743.2Q1149.4,742.1 1150.2,741.1Q1151.0,740.1 1152.0,738.1Q1153.0,736.1 1154.4,736.7Q1155.7,737.3 1157.1,738.1Q1158.6,739.0 1158.7,739.4Q1158.9,739.8 1159.2,741.4Q1159.5,742.9 1157.8,743.4Q1156.0,743.9 1155.4,745.3Q1154.7,746.8 1152.8,745.5Q1151.0,744.3 1150.2,743.2ZM1156.1,755.5Q1153.6,757.6 1151.7,756.7Q1149.9,755.7 1149.5,754.1Q1149.0,752.4 1148.9,751.7Q1148.9,751.0 1147.9,749.4Q1146.9,747.8 1149.4,745.7Q1151.8,743.6 1153.7,743.5Q1155.6,743.4 1156.4,745.6Q1157.2,747.8 1158.9,748.8Q1160.7,749.7 1159.7,751.6Q1158.7,753.4 1156.1,755.5ZM1162.0,764.0Q1159.6,764.2 1158.1,763.9Q1156.5,763.7 1154.6,762.9Q1152.6,762.0 1151.4,761.3Q1150.2,760.6 1150.5,758.8Q1150.9,757.0 1153.7,756.5Q1156.4,755.9 1158.2,754.0Q1160.1,752.0 1160.6,754.1Q1161.1,756.2 1162.6,757.7Q1164.1,759.2 1164.2,761.5Q1164.3,763.8 1162.0,764.0ZM1172.3,773.1Q1170.9,774.2 1170.4,774.0Q1169.8,773.8 1168.6,773.8Q1167.4,773.7 1165.6,772.0Q1163.7,770.3 1164.9,768.7Q1166.1,767.1 1166.6,764.6Q1167.0,762.2 1168.8,763.6Q1170.6,765.1 1172.9,764.3Q1175.2,763.5 1175.6,766.6Q1176.1,769.6 1174.9,770.8Q1173.7,771.9 1172.3,773.1ZM1151.8,763.0Q1150.7,764.3 1149.7,765.4Q1148.7,766.6 1147.7,765.6Q1146.7,764.7 1146.1,762.8Q1145.4,761.0 1146.6,759.7Q1147.9,758.4 1149.0,759.3Q1150.1,760.3 1151.6,761.0Q1153.0,761.7 1151.8,763.0ZM1121.8,786.0Q1119.7,788.1 1117.3,789.4Q1114.8,790.7 1113.8,792.4Q1112.8,794.0 1109.9,791.4Q1107.1,788.8 1105.7,786.3Q1104.2,783.7 1106.7,782.7Q1109.2,781.8 1110.6,778.8Q1112.0,775.8 1115.5,776.1Q1119.1,776.4 1118.7,778.2Q1118.3,779.9 1121.1,781.9Q1124.0,783.8 1121.8,786.0ZM1095.6,792.4Q1094.1,794.0 1092.5,795.5Q1091.0,797.1 1087.5,796.8Q1084.0,796.5 1083.8,794.9Q1083.7,793.4 1084.2,789.8Q1084.7,786.2 1084.7,785.1Q1084.6,784.1 1087.9,784.6Q1091.3,785.2 1092.2,784.7Q1093.1,784.2 1094.1,786.1Q1095.2,788.0 1096.2,789.4Q1097.2,790.8 1095.6,792.4ZM1178.1,699.1Q1177.4,698.0 1178.0,696.7Q1178.6,695.5 1179.2,695.5Q1179.8,695.4 1181.3,695.0Q1182.8,694.6 1183.5,696.9Q1184.1,699.1 1182.4,699.4Q1180.7,699.7 1179.7,700.0Q1178.7,700.2 1178.1,699.1ZM1182.5,741.5Q1182.2,742.3 1180.5,743.9Q1178.7,745.5 1177.8,744.8Q1176.8,744.1 1175.8,742.9Q1174.8,741.6 1176.4,740.5Q1178.0,739.5 1178.6,738.3Q1179.2,737.2 1181.0,738.9Q1182.7,740.6 1182.5,741.5Z"/></defs>
<g clip-path="url(#cta4)" fill="#8c0000" stroke-linejoin="round"><use href="#hta4" stroke="#18c8e8" stroke-width="3.4"/><use href="#hta4" stroke="#f0e020" stroke-width="2"/><use href="#hta4" stroke="#e83000" stroke-width="0.9"/><use href="#hta4"/></g>
<clipPath id="cta5"><rect x="1188.2" y="672.8" width="124.5" height="124.5"/></clipPath>
<defs><path id="hta5" d="M1187.5,694.4Q1183.3,688.8 1186.0,681.5Q1188.6,674.1 1190.9,671.4Q1193.3,668.6 1195.3,667.6Q1197.4,666.7 1202.7,669.0Q1208.0,671.3 1211.0,673.7Q1214.0,676.1 1214.8,678.8Q1215.6,681.5 1213.4,686.5Q1211.1,691.4 1204.6,696.2Q1198.1,701.0 1194.9,700.5Q1191.8,700.0 1187.5,694.4ZM1247.7,703.8Q1241.5,702.6 1241.5,698.7Q1241.5,694.8 1237.2,689.6Q1232.9,684.4 1238.2,683.6Q1243.5,682.8 1246.1,678.0Q1248.6,673.3 1254.2,673.4Q1259.7,673.6 1262.4,678.6Q1265.0,683.6 1264.5,686.2Q1263.9,688.8 1263.4,693.8Q1262.8,698.8 1258.4,701.9Q1253.9,705.0 1247.7,703.8ZM1211.8,710.5Q1207.0,712.6 1203.0,710.6Q1199.1,708.5 1200.4,704.9Q1201.6,701.3 1201.2,699.5Q1200.8,697.7 1202.3,696.4Q1203.9,695.1 1205.3,693.2Q1206.8,691.2 1211.8,691.7Q1216.7,692.1 1217.3,696.0Q1217.9,699.9 1216.5,700.5Q1215.1,701.0 1215.9,704.7Q1216.6,708.4 1211.8,710.5ZM1227.4,705.5Q1227.0,706.9 1225.5,707.4Q1224.0,708.0 1223.6,706.3Q1223.3,704.5 1223.2,703.3Q1223.1,702.1 1224.5,701.6Q1225.9,701.1 1227.1,700.7Q1228.3,700.3 1228.1,702.2Q1227.9,704.1 1227.4,705.5ZM1236.3,723.8Q1234.6,720.9 1233.2,720.2Q1231.8,719.4 1234.0,716.9Q1236.3,714.4 1236.3,711.7Q1236.4,709.0 1239.5,710.5Q1242.7,712.1 1245.7,711.9Q1248.7,711.7 1248.2,715.4Q1247.7,719.1 1247.3,720.4Q1246.8,721.7 1244.8,723.5Q1242.9,725.4 1240.4,726.1Q1237.9,726.8 1236.3,723.8ZM1274.9,719.8Q1272.3,719.6 1269.7,721.2Q1267.2,722.8 1265.1,718.7Q1263.1,714.6 1262.6,713.2Q1262.1,711.7 1265.5,707.3Q1268.9,702.9 1272.1,703.3Q1275.3,703.8 1276.6,705.6Q1277.9,707.4 1280.2,708.8Q1282.4,710.3 1283.0,714.0Q1283.6,717.7 1280.5,718.8Q1277.5,719.9 1274.9,719.8ZM1308.4,706.7Q1309.7,709.2 1307.5,713.0Q1305.3,716.7 1304.0,716.5Q1302.7,716.3 1299.5,714.9Q1296.2,713.4 1293.8,711.1Q1291.3,708.9 1290.9,707.4Q1290.5,705.9 1292.9,703.8Q1295.3,701.8 1297.5,700.8Q1299.8,699.9 1301.7,699.2Q1303.6,698.4 1305.3,701.4Q1307.1,704.3 1308.4,706.7ZM1278.2,730.0Q1276.6,731.3 1276.2,732.1Q1275.9,733.0 1272.8,734.3Q1269.7,735.6 1269.4,733.5Q1269.1,731.4 1267.1,730.5Q1265.1,729.6 1266.5,727.2Q1267.9,724.9 1268.7,724.4Q1269.5,723.9 1273.1,722.5Q1276.7,721.2 1277.1,723.2Q1277.5,725.3 1278.7,727.0Q1279.8,728.7 1278.2,730.0ZM1298.6,741.5Q1293.3,741.2 1291.6,741.7Q1289.8,742.1 1288.0,736.8Q1286.2,731.5 1282.2,728.5Q1278.2,725.5 1281.9,721.9Q1285.6,718.3 1289.1,718.0Q1292.6,717.7 1296.7,719.7Q1300.8,721.6 1301.1,723.4Q1301.4,725.2 1304.2,728.4Q1307.1,731.5 1305.5,736.6Q1303.8,741.7 1298.6,741.5ZM1210.9,744.2Q1209.9,745.7 1208.2,748.6Q1206.4,751.5 1204.0,750.0Q1201.6,748.5 1199.4,745.6Q1197.2,742.6 1197.1,741.3Q1197.1,740.0 1198.2,738.3Q1199.3,736.7 1202.0,736.5Q1204.6,736.3 1205.9,734.1Q1207.2,731.9 1209.3,735.4Q1211.5,738.9 1211.7,740.8Q1212.0,742.7 1210.9,744.2ZM1292.5,754.9Q1292.0,756.5 1289.1,757.9Q1286.1,759.2 1284.0,757.5Q1281.8,755.9 1280.3,753.6Q1278.8,751.3 1277.4,749.9Q1275.9,748.4 1274.8,745.0Q1273.7,741.7 1278.8,741.9Q1284.0,742.1 1286.3,742.3Q1288.5,742.6 1293.5,743.3Q1298.5,744.0 1295.8,748.6Q1293.0,753.3 1292.5,754.9ZM1296.5,757.8Q1292.2,757.3 1293.1,753.9Q1294.1,750.5 1290.3,747.9Q1286.6,745.4 1290.9,744.1Q1295.2,742.8 1297.8,741.6Q1300.3,740.5 1303.7,737.8Q1307.0,735.0 1309.3,738.6Q1311.7,742.1 1310.4,747.3Q1309.1,752.5 1307.1,753.4Q1305.1,754.2 1303.0,756.2Q1300.8,758.3 1296.5,757.8ZM1282.3,768.0Q1280.2,768.2 1278.1,766.9Q1276.1,765.7 1275.6,764.5Q1275.2,763.4 1275.7,760.6Q1276.2,757.8 1277.7,756.2Q1279.3,754.6 1281.0,754.7Q1282.7,754.8 1284.1,756.0Q1285.5,757.3 1286.5,759.5Q1287.6,761.8 1288.4,763.6Q1289.1,765.4 1286.8,766.6Q1284.4,767.8 1282.3,768.0ZM1308.1,774.1Q1310.3,778.6 1308.1,778.6Q1305.9,778.7 1303.3,779.1Q1300.6,779.4 1296.7,779.2Q1292.7,779.0 1291.2,776.0Q1289.7,773.0 1289.6,771.1Q1289.5,769.2 1291.5,767.3Q1293.4,765.3 1297.0,765.7Q1300.6,766.1 1303.0,765.4Q1305.4,764.6 1305.6,767.1Q1305.9,769.7 1308.1,774.1ZM1243.5,782.2Q1241.5,782.7 1240.7,781.4Q1239.9,780.1 1240.4,779.6Q1240.8,779.1 1240.2,777.1Q1239.6,775.0 1241.6,773.7Q1243.5,772.4 1245.0,773.0Q1246.4,773.6 1246.8,775.2Q1247.1,776.8 1247.6,777.9Q1248.0,778.9 1248.0,780.9Q1248.1,782.8 1246.8,782.2Q1245.5,781.7 1243.5,782.2ZM1227.1,784.8Q1227.0,785.5 1224.2,788.2Q1221.4,790.9 1219.9,790.2Q1218.5,789.6 1216.8,788.1Q1215.1,786.7 1215.7,783.4Q1216.3,780.1 1218.2,779.8Q1220.2,779.4 1221.6,777.3Q1223.0,775.1 1225.6,775.7Q1228.2,776.3 1227.7,779.0Q1227.2,781.8 1227.3,782.9Q1227.3,784.0 1227.1,784.8Z"/></defs>
<g clip-path="url(#cta5)" fill="#8c0000" stroke-linejoin="round"><use href="#hta5" stroke="#18c8e8" stroke-width="3.4"/><use href="#hta5" stroke="#f0e020" stroke-width="2"/><use href="#hta5" stroke="#e83000" stroke-width="0.9"/><use href="#hta5"/></g>
<clipPath id="cta6"><rect x="1319" y="672.8" width="124.5" height="124.5"/></clipPath>
<defs><path id="hta6" d="M1328.9,693.7Q1324.3,691.0 1316.7,687.6Q1309.0,684.2 1309.2,681.9Q1309.4,679.7 1318.4,674.3Q1327.4,668.9 1333.1,667.2Q1338.7,665.4 1343.0,665.1Q1347.3,664.8 1352.3,671.6Q1357.3,678.4 1355.3,682.9Q1353.2,687.4 1349.4,691.0Q1345.6,694.6 1339.6,695.5Q1333.5,696.3 1328.9,693.7ZM1346.3,707.1Q1344.1,708.4 1342.3,708.0Q1340.5,707.6 1337.8,706.4Q1335.2,705.1 1331.8,704.8Q1328.5,704.5 1329.6,699.8Q1330.6,695.1 1333.7,692.4Q1336.7,689.8 1339.6,690.8Q1342.4,691.8 1344.4,692.3Q1346.4,692.9 1348.7,695.1Q1350.9,697.4 1349.7,701.5Q1348.5,705.7 1346.3,707.1ZM1396.0,691.1Q1393.1,693.8 1391.3,702.8Q1389.5,711.8 1382.7,712.3Q1376.0,712.7 1373.0,707.5Q1369.9,702.3 1366.4,698.9Q1362.8,695.4 1363.6,690.4Q1364.5,685.4 1367.5,679.7Q1370.5,674.1 1378.6,672.9Q1386.6,671.8 1388.7,673.1Q1390.8,674.5 1394.8,681.5Q1398.8,688.5 1396.0,691.1ZM1362.9,703.2Q1363.7,704.0 1362.1,706.8Q1360.5,709.7 1358.4,710.5Q1356.3,711.4 1354.6,709.8Q1352.8,708.3 1350.5,707.2Q1348.1,706.1 1349.4,705.0Q1350.7,703.8 1350.3,701.0Q1349.9,698.1 1353.0,698.6Q1356.2,699.1 1358.1,699.1Q1360.0,699.0 1361.1,700.8Q1362.1,702.5 1362.9,703.2ZM1386.8,718.8Q1385.8,722.7 1384.0,726.1Q1382.2,729.4 1379.5,729.4Q1376.8,729.4 1372.8,732.0Q1368.8,734.5 1367.4,728.8Q1365.9,723.1 1364.4,720.6Q1362.8,718.2 1365.7,716.4Q1368.5,714.6 1372.3,711.6Q1376.1,708.5 1380.4,708.9Q1384.8,709.4 1386.2,712.1Q1387.7,714.8 1386.8,718.8ZM1394.9,721.6Q1391.7,719.6 1393.6,716.1Q1395.4,712.7 1393.5,710.1Q1391.6,707.5 1395.8,703.9Q1399.9,700.4 1403.0,703.1Q1406.1,705.8 1408.7,706.6Q1411.3,707.5 1412.6,711.2Q1413.9,714.9 1413.5,719.0Q1413.1,723.1 1410.8,725.1Q1408.5,727.0 1403.3,725.3Q1398.0,723.6 1394.9,721.6ZM1443.1,703.6Q1442.5,707.3 1441.1,710.4Q1439.6,713.4 1437.9,715.8Q1436.1,718.1 1432.7,718.0Q1429.2,717.9 1425.5,714.6Q1421.8,711.3 1421.1,704.8Q1420.3,698.2 1421.1,695.9Q1421.9,693.6 1427.1,694.0Q1432.4,694.3 1434.6,695.5Q1436.8,696.8 1440.2,698.3Q1443.7,699.8 1443.1,703.6ZM1402.7,740.0Q1400.0,741.5 1398.8,741.5Q1397.7,741.5 1395.6,738.8Q1393.5,736.0 1394.4,731.8Q1395.4,727.7 1398.3,726.9Q1401.3,726.1 1403.0,725.5Q1404.6,724.8 1406.4,725.9Q1408.2,727.0 1412.1,728.2Q1416.0,729.3 1413.8,734.7Q1411.6,740.0 1408.6,739.3Q1405.5,738.6 1402.7,740.0ZM1437.3,750.4Q1436.7,757.6 1433.3,759.0Q1429.9,760.5 1423.3,751.3Q1416.6,742.1 1410.1,741.5Q1403.6,740.9 1408.9,735.5Q1414.3,730.2 1416.3,723.5Q1418.2,716.8 1424.6,718.8Q1431.1,720.9 1434.1,722.7Q1437.1,724.6 1444.4,730.2Q1451.7,735.7 1444.8,739.5Q1437.9,743.3 1437.3,750.4ZM1344.6,744.9Q1342.6,747.7 1340.0,749.9Q1337.5,752.2 1336.3,750.3Q1335.1,748.4 1331.7,747.1Q1328.3,745.8 1326.3,744.2Q1324.3,742.5 1326.5,740.8Q1328.6,739.0 1330.7,737.2Q1332.8,735.4 1334.8,733.8Q1336.7,732.2 1338.1,734.1Q1339.5,735.9 1343.0,739.0Q1346.6,742.0 1344.6,744.9ZM1426.9,773.9Q1422.3,780.0 1418.1,774.1Q1413.9,768.3 1409.5,765.7Q1405.0,763.1 1405.8,758.0Q1406.6,752.8 1410.5,750.7Q1414.3,748.6 1418.3,741.9Q1422.4,735.2 1428.8,738.2Q1435.3,741.2 1436.7,748.4Q1438.1,755.7 1439.5,759.1Q1440.8,762.4 1436.2,765.1Q1431.6,767.7 1426.9,773.9ZM1439.0,780.9Q1436.2,781.8 1431.5,776.3Q1426.7,770.9 1427.0,768.3Q1427.2,765.7 1429.0,763.7Q1430.7,761.7 1432.3,759.9Q1433.9,758.1 1437.2,755.9Q1440.5,753.8 1442.4,758.2Q1444.3,762.7 1446.9,763.2Q1449.6,763.8 1447.4,769.4Q1445.3,775.1 1443.6,777.6Q1441.8,780.1 1439.0,780.9ZM1363.6,788.5Q1364.5,789.9 1359.7,791.8Q1354.9,793.7 1350.9,795.7Q1346.8,797.6 1344.7,793.6Q1342.5,789.7 1342.5,788.3Q1342.6,786.9 1342.7,783.1Q1342.8,779.3 1346.6,776.9Q1350.3,774.5 1354.1,775.6Q1357.8,776.8 1360.0,778.7Q1362.1,780.6 1362.3,783.9Q1362.6,787.2 1363.6,788.5ZM1379.1,797.9Q1374.5,798.2 1369.7,796.0Q1364.9,793.7 1365.8,790.1Q1366.7,786.5 1364.1,782.9Q1361.6,779.3 1366.4,778.2Q1371.2,777.1 1372.8,775.2Q1374.5,773.2 1380.1,775.3Q1385.7,777.4 1384.2,781.1Q1382.7,784.8 1383.2,786.9Q1383.8,789.1 1383.7,793.3Q1383.6,797.5 1379.1,797.9Z"/></defs>
<g clip-path="url(#cta6)" fill="#8c0000" stroke-linejoin="round"><use href="#hta6" stroke="#18c8e8" stroke-width="3.4"/><use href="#hta6" stroke="#f0e020" stroke-width="2"/><use href="#hta6" stroke="#e83000" stroke-width="0.9"/><use href="#hta6"/></g>
<line x1="612" y1="786" x2="552.41" y2="748.25" stroke="#F6C08E" stroke-width="1.8" /><polygon points="546.5,744.5 555.13,745.83 551.38,751.74" fill="#F6C08E"/>
<line x1="620" y1="817" x2="551.9" y2="873.05" stroke="#F6C08E" stroke-width="1.8" /><polygon points="546.5,877.5 550.45,869.71 554.9,875.12" fill="#F6C08E"/>
<line x1="695" y1="786" x2="715.45" y2="770.27" stroke="#F6C08E" stroke-width="1.8" /><polygon points="721,766 716.79,773.65 712.53,768.1" fill="#F6C08E"/>
<line x1="682" y1="817" x2="715.88" y2="873.01" stroke="#F6C08E" stroke-width="1.8" /><polygon points="719.5,879 712.36,873.97 718.35,870.34" fill="#F6C08E"/>
<rect x="588.8" y="786.3" width="119.6" height="31" fill="#fff" stroke="#111" stroke-width="1.6"/>
<text x="648.6" y="807.92" font-family='"Liberation Sans", sans-serif' font-size="17" text-anchor="middle">Shock front</text>
<circle cx="681.3" cy="686" r="11.8" fill="none" stroke="#F4B183" stroke-width="1.6"/>
<circle cx="686" cy="741.5" r="11.6" fill="none" stroke="#F4B183" stroke-width="1.6"/>
<line x1="762" y1="737" x2="697.55" y2="699.52" stroke="#F4B183" stroke-width="1.8" /><polygon points="691.5,696 700.18,697 696.66,703.05" fill="#F4B183"/>
<line x1="762" y1="737" x2="705.99" y2="740.11" stroke="#F4B183" stroke-width="1.8" /><polygon points="699,740.5 706.79,736.56 707.18,743.55" fill="#F4B183"/>
<rect x="762.5" y="710" width="91.5" height="54" fill="#fff" stroke="#111" stroke-width="1.6"/>
<text x="808.25" y="731.72" font-family='"Liberation Sans", sans-serif' font-size="17" text-anchor="middle">Hotspot</text>
<text x="808.25" y="754.52" font-family='"Liberation Sans", sans-serif' font-size="17" text-anchor="middle">ignition</text>
<circle cx="1204" cy="740.7" r="11" fill="none" stroke="#F4B183" stroke-width="1.6"/>
<circle cx="1340" cy="741.5" r="17.5" fill="none" stroke="#F4B183" stroke-width="1.6"/>
<line x1="1231" y1="781" x2="1216.56" y2="756.53" stroke="#F4B183" stroke-width="1.8" /><polygon points="1213,750.5 1220.08,755.61 1214.05,759.17" fill="#F4B183"/>
<line x1="1276" y1="781" x2="1315.15" y2="748.01" stroke="#F4B183" stroke-width="1.8" /><polygon points="1320.5,743.5 1316.64,751.33 1312.13,745.98" fill="#F4B183"/>
<rect x="1197.3" y="780.5" width="87.6" height="54.5" fill="#fff" stroke="#111" stroke-width="1.6"/>
<text x="1241.1" y="802.47" font-family='"Liberation Sans", sans-serif' font-size="17" text-anchor="middle">Hotspot</text>
<text x="1241.1" y="825.27" font-family='"Liberation Sans", sans-serif' font-size="17" text-anchor="middle">growth</text>
<!-- left_b -->
<line x1="593" y1="926.4" x2="735.22" y2="970.91" stroke="#C9C3A0" stroke-width="1.8" /><polygon points="741.9,973 733.25,973.86 735.28,967.37" fill="#C9C3A0"/>
<line x1="730" y1="926.4" x2="1015.99" y2="971.9" stroke="#C9C3A0" stroke-width="1.8" /><polygon points="1022.9,973 1014.47,975.1 1015.53,968.39" fill="#C9C3A0"/>
<line x1="1387" y1="926.4" x2="1391.34" y2="966.04" stroke="#C9C3A0" stroke-width="1.8" /><polygon points="1392.1,973 1387.85,965.42 1394.61,964.68" fill="#C9C3A0"/>
<rect x="682.8" y="973.6" width="117.6" height="39.6" fill="#DEDED8" rx="3" stroke="#B5AF86" stroke-width="1.6"/>
<text x="741.6" y="999.5" font-family='"Liberation Sans", sans-serif' font-size="17" fill="#222" text-anchor="middle">L2 Loss</text>
<rect x="964.3" y="973.6" width="117.7" height="39.6" fill="#DEDED8" rx="3" stroke="#B5AF86" stroke-width="1.6"/>
<text x="1023.15" y="999.5" font-family='"Liberation Sans", sans-serif' font-size="17" fill="#222" text-anchor="middle">L2 Loss</text>
<rect x="1333.6" y="973.6" width="117" height="39.6" fill="#DEDED8" rx="3" stroke="#B5AF86" stroke-width="1.6"/>
<text x="1392.1" y="999.5" font-family='"Liberation Sans", sans-serif' font-size="17" fill="#222" text-anchor="middle">L2 Loss</text>
<circle cx="1199.5" cy="994.3" r="2.6" fill="#111"/>
<circle cx="1210.5" cy="994.3" r="2.6" fill="#111"/>
<circle cx="1221.5" cy="994.3" r="2.6" fill="#111"/>
<line x1="741.9" y1="1040" x2="741.9" y2="1021" stroke="#C9C3A0" stroke-width="1.8" /><polygon points="741.9,1014 745.3,1022 738.5,1022" fill="#C9C3A0"/>
<line x1="1022.9" y1="1040" x2="1022.9" y2="1021" stroke="#C9C3A0" stroke-width="1.8" /><polygon points="1022.9,1014 1026.3,1022 1019.5,1022" fill="#C9C3A0"/>
<line x1="1392.1" y1="1040" x2="1392.1" y2="1021" stroke="#C9C3A0" stroke-width="1.8" /><polygon points="1392.1,1014 1395.5,1022 1388.7,1022" fill="#C9C3A0"/>
<rect x="110.6" y="1037.6" width="408.9" height="159.7" fill="#fff" rx="9" stroke="#F7A823" stroke-width="2"/>
<text x="258.7" y="1057.7" font-family='"Liberation Sans", sans-serif' font-size="16.5" font-weight="bold" fill="#F59A00" text-anchor="middle" textLength="134.49" lengthAdjust="spacingAndGlyphs">Initial conditions</text>
<text x="167.5" y="1082" font-family='"Liberation Sans", sans-serif' font-size="15.2" text-anchor="middle" textLength="100.87" lengthAdjust="spacingAndGlyphs">Microstructure</text>
<text x="167.9" y="1105.3" font-family='"Liberation Serif", serif' font-size="18" text-anchor="middle"><tspan font-style="italic">I</tspan>(<tspan font-style="italic">x</tspan>, <tspan font-style="italic">y</tspan>)</text>
<text x="277" y="1082" font-family='"Liberation Sans", sans-serif' font-size="15.2" text-anchor="middle" textLength="87.87" lengthAdjust="spacingAndGlyphs">Position field</text>
<text x="277" y="1105.3" font-family='"Liberation Serif", serif' font-size="18" text-anchor="middle" textLength="96" lengthAdjust="spacingAndGlyphs"><tspan font-style="italic">U</tspan>(<tspan font-style="italic">x</tspan>, <tspan font-style="italic">y</tspan>) ≔ <tspan font-style="italic">x</tspan></text>
<rect x="131.9" y="1113.8" width="72.5" height="71.3" fill="#fff" stroke="#111" stroke-width="1.4"/>
<path d="M165.6,1140.9l2.9,3.5M135.4,1149.2l1.4,-1.1M171.6,1156.5l2.7,0.7M181.4,1145.9l-0.3,-2.0M150.7,1124.1l-4.7,-0.2M174.0,1166.5l-3.1,2.7M141.7,1135.6l-1.9,-3.6M162.8,1122.6l-0.2,2.2M153.6,1168.8l1.4,4.4M193.0,1120.5l-2.3,2.2M136.5,1144.2l1.6,-1.1M174.4,1124.8l-4.1,-2.2M148.4,1117.5l2.9,1.7M136.2,1122.4l-4.7,0.1M162.7,1142.5l-1.2,-1.4M173.3,1128.0l-3.8,-3.1M138.6,1152.5l-1.6,-1.3M152.7,1180.7l1.9,-0.0M181.6,1177.9l0.3,3.6M137.8,1140.4l-1.6,-3.2M186.1,1122.6l-2.6,3.7M173.6,1145.9l-4.0,2.9M172.9,1118.2l0.8,-2.5M163.6,1130.7l-2.5,0.9M140.9,1157.3l3.4,2.6M136.7,1167.0l1.1,-3.0M181.8,1132.9l-0.2,-3.0M150.2,1178.7l-2.3,1.6M191.8,1140.6l-1.0,-1.8M190.7,1133.6l4.7,1.5M146.4,1177.6l3.6,-0.3M135.8,1120.9l0.7,2.8M175.4,1178.9l-1.2,1.6M172.1,1125.8l2.9,1.8M180.9,1121.2l-3.8,1.2M185.4,1141.5l1.6,-1.4M182.2,1166.4l2.4,-2.2M141.5,1120.1l-2.1,-0.4M176.6,1122.4l0.4,-2.2M135.9,1128.3l-3.3,0.9M160.6,1128.1l-4.8,0.5M170.3,1177.2l4.9,0.9M193.7,1151.8l-3.3,-0.5M195.0,1121.2l-2.1,-2.7M154.8,1163.4l-0.3,-1.8M181.2,1146.0l-3.7,0.2M138.5,1155.6l-3.2,3.3M150.3,1169.7l-0.5,-3.7M192.8,1119.3l-3.0,-2.1M179.8,1143.0l2.0,0.9M175.1,1128.6l2.5,1.1M166.0,1151.3l4.2,0.7M157.0,1167.1l4.8,0.3M174.0,1179.5l4.4,-0.4M142.0,1139.3l0.5,4.2M147.7,1131.2l1.5,1.2M196.9,1179.5l-2.8,2.9M165.9,1150.4l-2.5,2.7M150.6,1133.4l-2.2,-0.2M164.0,1177.4l1.8,0.3M187.8,1120.7l-0.0,4.5M174.9,1131.1l2.3,0.9M154.8,1168.2l4.2,-0.7M194.5,1176.6l3.4,-3.3M198.9,1123.0l-1.0,2.2M174.9,1148.5l-2.5,3.6M161.3,1130.4l-0.5,3.1M175.3,1153.4l-2.0,0.8M161.5,1137.8l1.6,3.0M147.4,1162.5l-1.1,-1.7M176.3,1138.6l-3.4,1.2M185.3,1173.5l-0.2,-2.2M170.8,1138.5l3.4,0.4M166.1,1172.5l-2.0,4.0M168.9,1123.3l-0.5,-2.4M170.2,1121.6l4.7,0.3M137.8,1126.5l1.0,1.6M189.4,1180.7l-1.7,-2.3M193.6,1149.4l2.6,2.9M158.7,1134.3l-1.2,2.6M147.0,1156.2l2.4,-2.6M135.6,1160.8l3.2,0.4M192.1,1160.3l3.5,-2.3M153.0,1126.2l-3.7,1.2M150.3,1138.2l-0.0,-2.7M174.7,1151.9l1.4,-0.7M147.3,1166.8l-0.9,-1.6M143.9,1130.5l-4.5,-1.2M149.3,1130.0l-1.2,-2.7M190.9,1180.9l3.7,-1.6M167.7,1120.9l1.0,-2.7M165.6,1157.5l3.4,-0.8M195.6,1178.7l2.4,1.4M193.6,1166.1l2.1,-0.4M170.1,1176.7l-3.7,-0.9M199.3,1128.1l4.2,1.6M173.4,1129.8l1.2,-2.2M143.6,1136.0l2.8,0.7M186.5,1146.1l1.6,-0.4M146.4,1126.2l-2.0,-1.0M179.0,1150.5l-3.9,-2.2M187.1,1176.0l1.6,2.3M198.4,1142.4l-0.7,3.1M146.9,1171.3l-1.2,-1.4M198.6,1150.3l-0.1,3.6M197.7,1139.2l2.2,0.2M138.9,1150.8l-1.7,4.2M148.6,1118.0l-1.9,0.4M155.5,1131.4l1.6,3.4M196.8,1140.7l-1.7,-2.0M195.4,1152.4l4.0,0.7M148.9,1120.0l4.4,0.5M181.8,1139.9l-3.7,-1.4M140.0,1162.2l-1.2,-4.6M138.9,1153.6l-4.5,-0.2M159.0,1159.4l2.2,-1.6M169.0,1174.2l4.8,1.0M155.7,1146.3l-1.0,4.2M170.2,1164.9l3.6,2.8M189.2,1160.5l0.4,2.4" stroke="#222" stroke-width="1.1" fill="none"/>
<linearGradient id="plasma" x1="0" x2="1" y1="0" y2="0"><stop offset="0" stop-color="#2A0B8C"/><stop offset="0.3" stop-color="#8E0CA4"/><stop offset="0.55" stop-color="#D5546E"/><stop offset="0.8" stop-color="#FBA238"/><stop offset="1" stop-color="#F5EB27"/></linearGradient>
<rect x="244.6" y="1115" width="65.9" height="65.8" fill="url(#plasma)"/>
<text x="431.18" y="1083.9" font-family='"Liberation Sans", sans-serif' font-size="15.2" text-anchor="end" textLength="85.37" lengthAdjust="spacingAndGlyphs">Temperature</text>
<text x="430.5" y="1107" font-family='"Liberation Serif", serif' font-size="18" text-anchor="end" textLength="80" lengthAdjust="spacingAndGlyphs"><tspan font-style="italic">T</tspan>(<tspan font-style="italic">x</tspan>, <tspan font-style="italic">y</tspan>, <tspan font-style="italic">t</tspan><tspan font-size="12" dy="3">0</tspan><tspan dy="-3">)</tspan></text>
<text x="431.18" y="1149.7" font-family='"Liberation Sans", sans-serif' font-size="15.2" text-anchor="end" textLength="58.37" lengthAdjust="spacingAndGlyphs">Pressure</text>
<text x="430.5" y="1172.9" font-family='"Liberation Serif", serif' font-size="18" text-anchor="end" textLength="80" lengthAdjust="spacingAndGlyphs"><tspan font-style="italic">P</tspan>(<tspan font-style="italic">x</tspan>, <tspan font-style="italic">y</tspan>, <tspan font-style="italic">t</tspan><tspan font-size="12" dy="3">0</tspan><tspan dy="-3">)</tspan></text>
<rect x="436.6" y="1049.2" width="68.2" height="67.6" fill="#00007F"/>
<rect x="436.6" y="1121.7" width="68.2" height="65.2" fill="#00007F"/>
<text x="500" y="1220.4" font-family='"Liberation Serif", serif' font-size="18"><tspan font-style="italic">t</tspan><tspan font-size="11.5" dy="3.5" font-style="italic">0</tspan></text>
<text x="765" y="1220.4" font-family='"Liberation Serif", serif' font-size="18"><tspan font-style="italic">t</tspan><tspan font-size="11.5" dy="3.5" font-style="italic">1</tspan></text>
<text x="1040" y="1220.4" font-family='"Liberation Serif", serif' font-size="18"><tspan font-style="italic">t</tspan><tspan font-size="11.5" dy="3.5" font-style="italic">2</tspan></text>
<text x="1418" y="1222.9" font-family='"Liberation Serif", serif' font-size="18"><tspan font-style="italic">t</tspan><tspan font-size="11.5" dy="3.5" font-style="italic">N</tspan></text>
<line x1="519.5" y1="1118.9" x2="583.5" y2="1118.9" stroke="#C9C3A0" stroke-width="1.8" /><polygon points="590.5,1118.9 582.5,1122.3 582.5,1115.5" fill="#C9C3A0"/>
<line x1="624" y1="1118.9" x2="675.5" y2="1118.9" stroke="#C9C3A0" stroke-width="1.8" /><polygon points="682.5,1118.9 674.5,1122.3 674.5,1115.5" fill="#C9C3A0"/>
<line x1="801" y1="1118.9" x2="858.3" y2="1118.9" stroke="#C9C3A0" stroke-width="1.8" /><polygon points="865.3,1118.9 857.3,1122.3 857.3,1115.5" fill="#C9C3A0"/>
<line x1="898.7" y1="1118.9" x2="974.7" y2="1118.9" stroke="#C9C3A0" stroke-width="1.8" /><polygon points="981.7,1118.9 973.7,1122.3 973.7,1115.5" fill="#C9C3A0"/>
<line x1="1066.1" y1="1118.9" x2="1133.2" y2="1118.9" stroke="#C9C3A0" stroke-width="1.8" /><polygon points="1140.2,1118.9 1132.2,1122.3 1132.2,1115.5" fill="#C9C3A0"/>
<line x1="1173.6" y1="1118.9" x2="1220" y2="1118.9" stroke="#C9C3A0" stroke-width="1.8" /><polygon points="1227,1118.9 1219,1122.3 1219,1115.5" fill="#C9C3A0"/>
<circle cx="1252.6" cy="1119.6" r="2.6" fill="#111"/>
<circle cx="1263.6" cy="1119.6" r="2.6" fill="#111"/>
<circle cx="1274.6" cy="1119.6" r="2.6" fill="#111"/>
<line x1="1292" y1="1118.9" x2="1343.4" y2="1118.9" stroke="#C9C3A0" stroke-width="1.8" /><polygon points="1350.4,1118.9 1342.4,1122.3 1342.4,1115.5" fill="#C9C3A0"/>
<circle cx="607.2" cy="1119.3" r="16.3" fill="#D9D9D9" stroke="#444" stroke-width="1.4"/>
<text x="607.2" y="1128.5" font-family='"Liberation Serif", serif' font-size="25" fill="#222" text-anchor="middle">Σ</text>
<line x1="607.2" y1="1150.3" x2="607.2" y2="1143.3" stroke="#C9C3A0" stroke-width="1.8" /><polygon points="607.2,1136.3 610.6,1144.3 603.8,1144.3" fill="#C9C3A0"/>
<circle cx="882" cy="1119.3" r="16.3" fill="#D9D9D9" stroke="#444" stroke-width="1.4"/>
<text x="882" y="1128.5" font-family='"Liberation Serif", serif' font-size="25" fill="#222" text-anchor="middle">Σ</text>
<line x1="882" y1="1150.3" x2="882" y2="1143.3" stroke="#C9C3A0" stroke-width="1.8" /><polygon points="882,1136.3 885.4,1144.3 878.6,1144.3" fill="#C9C3A0"/>
<circle cx="1156.9" cy="1119.3" r="16.3" fill="#D9D9D9" stroke="#444" stroke-width="1.4"/>
<text x="1156.9" y="1128.5" font-family='"Liberation Serif", serif' font-size="25" fill="#222" text-anchor="middle">Σ</text>
<line x1="1156.9" y1="1150.3" x2="1156.9" y2="1143.3" stroke="#C9C3A0" stroke-width="1.8" /><polygon points="1156.9,1136.3 1160.3,1144.3 1153.5,1144.3" fill="#C9C3A0"/>
<rect x="554.8" y="1150.3" width="104.2" height="59.8" fill="#F9D08C" rx="4" stroke="#C99A45" stroke-width="1.6"/>
<text x="606.9" y="1174.7" font-family='"Liberation Sans", sans-serif' font-size="16.5" fill="#222" text-anchor="middle">Integrator</text>
<text x="606.9" y="1197.9" font-family='"Liberation Sans", sans-serif' font-size="16.5" fill="#222" text-anchor="middle">CNN</text>
<line x1="606.9" y1="1234.4" x2="606.9" y2="1217.7" stroke="#C9C3A0" stroke-width="1.8" /><polygon points="606.9,1210.7 610.3,1218.7 603.5,1218.7" fill="#C9C3A0"/>
<rect x="830.3" y="1150.3" width="103.6" height="59.8" fill="#F9D08C" rx="4" stroke="#C99A45" stroke-width="1.6"/>
<text x="882.1" y="1174.7" font-family='"Liberation Sans", sans-serif' font-size="16.5" fill="#222" text-anchor="middle">Integrator</text>
<text x="882.1" y="1197.9" font-family='"Liberation Sans", sans-serif' font-size="16.5" fill="#222" text-anchor="middle">CNN</text>
<line x1="882.1" y1="1234.4" x2="882.1" y2="1217.7" stroke="#C9C3A0" stroke-width="1.8" /><polygon points="882.1,1210.7 885.5,1218.7 878.7,1218.7" fill="#C9C3A0"/>
<rect x="1105.1" y="1150.3" width="103.6" height="59.8" fill="#F9D08C" rx="4" stroke="#C99A45" stroke-width="1.6"/>
<text x="1156.9" y="1174.7" font-family='"Liberation Sans", sans-serif' font-size="16.5" fill="#222" text-anchor="middle">Integrator</text>
<text x="1156.9" y="1197.9" font-family='"Liberation Sans", sans-serif' font-size="16.5" fill="#222" text-anchor="middle">CNN</text>
<line x1="1156.9" y1="1234.4" x2="1156.9" y2="1217.7" stroke="#C9C3A0" stroke-width="1.8" /><polygon points="1156.9,1210.7 1160.3,1218.7 1153.5,1218.7" fill="#C9C3A0"/>
<rect x="682.8" y="1040" width="118.2" height="157.3" fill="#fff" rx="6" stroke="#C9C3A0" stroke-width="2"/>
<rect x="720" y="1046.8" width="68.2" height="68.2" fill="#000086"/>
<rect x="720" y="1121.1" width="68.2" height="68.9" fill="#0018D8"/>
<rect x="722" y="1046.8" width="66.2" height="68.2" fill="#00008C"/>
<rect x="720" y="1046.8" width="5" height="68.2" fill="#0000A8"/>
<rect x="720" y="1121.1" width="68.2" height="68.9" fill="#0000C4"/>
<rect x="720" y="1121.1" width="6" height="68.9" fill="#0828D8"/>
<rect x="982" y="1040" width="84.1" height="157.3" fill="#fff" rx="6" stroke="#C9C3A0" stroke-width="2"/>
<rect x="990" y="1046.8" width="68.2" height="68.2" fill="#000086"/>
<rect x="990" y="1121.1" width="68.2" height="68.9" fill="#0018D8"/>
<rect x="990" y="1046.8" width="34.1" height="68.2" fill="#0008D0"/>
<rect x="1024.1" y="1046.8" width="34.1" height="68.2" fill="#000088"/>
<rect x="990" y="1121.1" width="34.1" height="68.9" fill="#0848E8"/>
<rect x="1024.1" y="1121.1" width="34.1" height="68.9" fill="#0000B0"/>
<rect x="1350.7" y="1040" width="84.1" height="157.3" fill="#fff" rx="6" stroke="#C9C3A0" stroke-width="2"/>
<rect x="1358" y="1046.8" width="68.9" height="68.2" fill="#000086"/>
<rect x="1358" y="1121.1" width="68.9" height="68.9" fill="#0018D8"/>
<rect x="1358" y="1046.8" width="68.9" height="68.2" fill="#0010E0"/>
<rect x="1358" y="1121.1" width="68.9" height="68.9" fill="#0C6CF0"/>
<clipPath id="ctn"><rect x="1358" y="1046.8" width="68.9" height="68.2"/></clipPath>
<path d="M1371.9,1054.7Q1372.4,1058.0 1370.1,1058.4Q1367.8,1058.9 1364.4,1059.6Q1361.1,1060.2 1360.3,1057.8Q1359.6,1055.4 1360.8,1053.7Q1362.1,1051.9 1363.0,1049.3Q1363.9,1046.7 1366.3,1046.2Q1368.7,1045.7 1370.1,1048.6Q1371.4,1051.4 1371.9,1054.7ZM1396.8,1054.1Q1398.0,1058.6 1395.5,1060.8Q1393.0,1063.0 1391.4,1062.6Q1389.7,1062.2 1387.0,1060.4Q1384.2,1058.7 1383.1,1055.5Q1382.0,1052.3 1381.8,1050.2Q1381.6,1048.1 1385.0,1046.2Q1388.4,1044.3 1392.1,1046.9Q1395.7,1049.6 1396.8,1054.1ZM1418.5,1060.6Q1415.7,1061.7 1414.2,1063.7Q1412.6,1065.7 1409.5,1063.8Q1406.4,1061.9 1405.3,1058.8Q1404.1,1055.7 1407.4,1052.5Q1410.7,1049.3 1413.4,1049.8Q1416.1,1050.4 1417.0,1052.8Q1417.8,1055.2 1419.5,1057.3Q1421.3,1059.4 1418.5,1060.6ZM1382.1,1076.8Q1381.0,1080.6 1378.8,1080.4Q1376.5,1080.2 1374.0,1079.7Q1371.6,1079.3 1370.3,1076.4Q1368.9,1073.5 1369.8,1072.8Q1370.7,1072.2 1372.7,1068.5Q1374.8,1064.8 1377.0,1066.7Q1379.3,1068.5 1381.3,1070.8Q1383.2,1073.0 1382.1,1076.8ZM1405.2,1077.1Q1404.0,1079.8 1401.8,1080.1Q1399.5,1080.3 1398.0,1080.2Q1396.5,1080.2 1395.2,1077.5Q1393.8,1074.8 1394.6,1073.3Q1395.4,1071.8 1396.8,1071.6Q1398.1,1071.3 1401.5,1070.9Q1404.9,1070.6 1405.6,1072.5Q1406.3,1074.4 1405.2,1077.1ZM1417.2,1080.8Q1413.8,1080.7 1412.5,1078.7Q1411.1,1076.6 1413.0,1072.8Q1414.8,1068.9 1417.3,1068.1Q1419.7,1067.2 1421.2,1068.2Q1422.7,1069.1 1424.0,1071.5Q1425.3,1073.8 1426.6,1075.3Q1427.9,1076.8 1424.3,1078.9Q1420.7,1080.9 1417.2,1080.8ZM1365.3,1102.0Q1364.1,1101.8 1363.0,1099.3Q1361.9,1096.9 1363.6,1095.5Q1365.3,1094.2 1367.7,1091.7Q1370.0,1089.3 1373.1,1092.5Q1376.1,1095.8 1375.0,1097.6Q1373.8,1099.4 1372.1,1102.1Q1370.3,1104.7 1368.4,1103.5Q1366.6,1102.2 1365.3,1102.0ZM1398.7,1097.7Q1398.0,1102.1 1395.0,1102.7Q1391.9,1103.3 1390.0,1102.5Q1388.2,1101.8 1387.3,1098.7Q1386.5,1095.6 1387.2,1093.9Q1387.9,1092.2 1390.2,1091.8Q1392.5,1091.4 1395.6,1090.3Q1398.7,1089.3 1399.0,1091.3Q1399.3,1093.3 1398.7,1097.7ZM1411.3,1108.0Q1407.0,1107.9 1406.2,1106.2Q1405.4,1104.5 1404.8,1099.9Q1404.2,1095.2 1406.6,1095.9Q1409.1,1096.6 1411.0,1096.5Q1413.0,1096.5 1415.0,1097.9Q1417.1,1099.4 1417.8,1102.9Q1418.5,1106.3 1417.1,1107.2Q1415.6,1108.1 1411.3,1108.0ZM1426.8,1092.6Q1425.2,1094.0 1424.2,1094.1Q1423.2,1094.3 1421.4,1094.1Q1419.6,1093.9 1420.2,1092.1Q1420.7,1090.4 1421.0,1088.4Q1421.2,1086.4 1423.2,1086.5Q1425.3,1086.5 1425.8,1087.4Q1426.3,1088.2 1427.3,1089.7Q1428.4,1091.2 1426.8,1092.6Z" fill="#900000" stroke="#f0d020" stroke-width="1.3" clip-path="url(#ctn)"/>
<text x="698" y="1089.4" font-family='"Liberation Serif", serif' font-size="17" font-style="italic">T</text>
<text x="698" y="1158.9" font-family='"Liberation Serif", serif' font-size="17" font-style="italic">P</text>
<line x1="438.4" y1="1197.3" x2="438.4" y2="1278.6" stroke="#C9C3A0" stroke-width="1.8" /><polygon points="438.4,1285.6 435,1277.6 441.8,1277.6" fill="#C9C3A0"/>
<line x1="748" y1="1197.3" x2="748" y2="1278.6" stroke="#C9C3A0" stroke-width="1.8" /><polygon points="748,1285.6 744.6,1277.6 751.4,1277.6" fill="#C9C3A0"/>
<line x1="1024" y1="1197.3" x2="1024" y2="1278.6" stroke="#C9C3A0" stroke-width="1.8" /><polygon points="1024,1285.6 1020.6,1277.6 1027.4,1277.6" fill="#C9C3A0"/>
<polyline points="167.9,1197.3 167.9,1235" fill="none" stroke="#C9C3A0" stroke-width="1.8" />
<line x1="167.9" y1="1235" x2="197.3" y2="1235" stroke="#C9C3A0" stroke-width="1.8" /><polygon points="204.3,1235 196.3,1238.4 196.3,1231.6" fill="#C9C3A0"/>
<polyline points="278.2,1197.3 278.2,1235" fill="none" stroke="#C9C3A0" stroke-width="1.8" />
<line x1="278.2" y1="1235" x2="244.5" y2="1235" stroke="#C9C3A0" stroke-width="1.8" /><polygon points="237.5,1235 245.5,1231.6 245.5,1238.4" fill="#C9C3A0"/>
<circle cx="220.9" cy="1235" r="16" fill="#E3E3E3" stroke="#444" stroke-width="1.4"/>
<line x1="211.9" y1="1235" x2="229.9" y2="1235" stroke="#333" stroke-width="1.5" />
<line x1="220.9" y1="1226" x2="220.9" y2="1244" stroke="#333" stroke-width="1.5" />
<line x1="220.9" y1="1251" x2="220.9" y2="1275.6" stroke="#C9C3A0" stroke-width="1.8" /><polygon points="220.9,1282.6 217.5,1274.6 224.3,1274.6" fill="#C9C3A0"/>
<rect x="163.6" y="1283.2" width="114.6" height="83.5" fill="#BFBFB7" rx="6" stroke="#111" stroke-width="1.8"/>
<text x="220.9" y="1308.2" font-family='"Liberation Sans", sans-serif' font-size="16.5" fill="#444" text-anchor="middle">Shape</text>
<text x="220.9" y="1331.3" font-family='"Liberation Sans", sans-serif' font-size="16.5" fill="#444" text-anchor="middle">Descriptor</text>
<text x="220.9" y="1353.9" font-family='"Liberation Sans", sans-serif' font-size="16.5" fill="#444" text-anchor="middle">CNN</text>
<line x1="220.9" y1="1366.7" x2="220.9" y2="1391.4" stroke="#C9C3A0" stroke-width="1.8" /><polygon points="220.9,1398.4 217.5,1390.4 224.3,1390.4" fill="#C9C3A0"/>
<rect x="203.8" y="1399" width="36" height="36" fill="#FFE7B0" rx="5" stroke="#F7A823" stroke-width="1.6"/>
<text x="221.5" y="1424" font-family='"Liberation Serif", serif' font-size="22" font-style="italic" text-anchor="middle">μ</text>
<line x1="239.8" y1="1417.3" x2="973.2" y2="1417.3" stroke="#C9C3A0" stroke-width="1.8" /><polygon points="980.2,1417.3 972.2,1420.7 972.2,1413.9" fill="#C9C3A0"/>
<circle cx="1013.7" cy="1417.3" r="2.6" fill="#111"/>
<circle cx="1024.7" cy="1417.3" r="2.6" fill="#111"/>
<circle cx="1035.7" cy="1417.3" r="2.6" fill="#111"/>
<polyline points="320.2,1417.3 320.2,1314.9 363.3,1314.9" fill="none" stroke="#C9C3A0" stroke-width="1.8" /><polygon points="370.3,1314.9 362.3,1318.3 362.3,1311.5" fill="#C9C3A0"/>
<polyline points="663.3,1417.3 663.3,1314.9 675.9,1314.9" fill="none" stroke="#C9C3A0" stroke-width="1.8" /><polygon points="682.9,1314.9 674.9,1318.3 674.9,1311.5" fill="#C9C3A0"/>
<polyline points="936.3,1417.3 936.3,1314.9 945.2,1314.9" fill="none" stroke="#C9C3A0" stroke-width="1.8" /><polygon points="952.2,1314.9 944.2,1318.3 944.2,1311.5" fill="#C9C3A0"/>
<rect x="370.8" y="1286.2" width="134.1" height="55.5" fill="#D5BFE3" rx="4" stroke="#8E5DB8" stroke-width="1.6"/>
<text x="437.85" y="1308.8" font-family='"Liberation Sans", sans-serif' font-size="16.5" fill="#222" text-anchor="middle">Differentiator</text>
<text x="437.85" y="1332" font-family='"Liberation Sans", sans-serif' font-size="16.5" fill="#222" text-anchor="middle">CNN</text>
<rect x="683.4" y="1286.2" width="129.2" height="55.5" fill="#D5BFE3" rx="4" stroke="#8E5DB8" stroke-width="1.6"/>
<text x="748" y="1308.8" font-family='"Liberation Sans", sans-serif' font-size="16.5" fill="#222" text-anchor="middle">Differentiator</text>
<text x="748" y="1332" font-family='"Liberation Sans", sans-serif' font-size="16.5" fill="#222" text-anchor="middle">CNN</text>
<rect x="952.7" y="1286.2" width="141.4" height="55.5" fill="#D5BFE3" rx="4" stroke="#8E5DB8" stroke-width="1.6"/>
<text x="1023.4" y="1308.8" font-family='"Liberation Sans", sans-serif' font-size="16.5" fill="#222" text-anchor="middle">Differentiator</text>
<text x="1023.4" y="1332" font-family='"Liberation Sans", sans-serif' font-size="16.5" fill="#222" text-anchor="middle">CNN</text>
<line x1="504.9" y1="1314.9" x2="526" y2="1314.9" stroke="#C9C3A0" stroke-width="1.8" /><polygon points="533,1314.9 525,1318.3 525,1311.5" fill="#C9C3A0"/>
<line x1="812.6" y1="1314.9" x2="832.5" y2="1314.9" stroke="#C9C3A0" stroke-width="1.8" /><polygon points="839.5,1314.9 831.5,1318.3 831.5,1311.5" fill="#C9C3A0"/>
<line x1="1094.1" y1="1314.9" x2="1106" y2="1314.9" stroke="#C9C3A0" stroke-width="1.8" /><polygon points="1113,1314.9 1105,1318.3 1105,1311.5" fill="#C9C3A0"/>
<rect x="533.5" y="1234.4" width="116.4" height="160.3" fill="#fff" rx="6" stroke="#C9C3A0" stroke-width="2"/>
<rect x="572.5" y="1241.1" width="70.7" height="69.5" fill="#7CFF7E"/>
<rect x="572.5" y="1317.3" width="70.7" height="70.1" fill="#3CFAB0"/>
<rect x="572.5" y="1241.1" width="4" height="69.5" fill="#C8F850" opacity="0.7"/>
<rect x="572.5" y="1317.3" width="4" height="70.1" fill="#B0F060" opacity="0.6"/>
<rect x="840" y="1234.4" width="86" height="160.3" fill="#fff" rx="6" stroke="#C9C3A0" stroke-width="2"/>
<rect x="848" y="1241.1" width="70" height="69.5" fill="#7CFF7E"/>
<rect x="848" y="1317.3" width="70" height="70.1" fill="#3CFAB0"/>
<rect x="853.6" y="1241.1" width="8.4" height="69.5" fill="#C8F850" opacity="0.7"/>
<rect x="852.2" y="1317.3" width="11.2" height="70.1" fill="#B0F060" opacity="0.6"/>
<rect x="1113.6" y="1234.4" width="87.2" height="160.3" fill="#fff" rx="6" stroke="#C9C3A0" stroke-width="2"/>
<rect x="1122.2" y="1241.1" width="70.7" height="69.5" fill="#7CFF7E"/>
<rect x="1122.2" y="1317.3" width="70.7" height="70.1" fill="#3CFAB0"/>
<rect x="1127.86" y="1241.1" width="8.48" height="69.5" fill="#C8F850" opacity="0.7"/>
<rect x="1126.44" y="1317.3" width="11.31" height="70.1" fill="#B0F060" opacity="0.6"/>
<text x="554.5" y="1269.2" font-family='"Liberation Serif", serif' font-size="17" font-style="italic" text-anchor="middle">dT</text>
<rect x="543" y="1276.2" width="23" height="1.3" fill="#000"/>
<text x="554.5" y="1293.5" font-family='"Liberation Serif", serif' font-size="17" font-style="italic" text-anchor="middle">dt</text>
<text x="554.5" y="1344.7" font-family='"Liberation Serif", serif' font-size="17" font-style="italic" text-anchor="middle">dP</text>
<rect x="543" y="1351.7" width="23" height="1.3" fill="#000"/>
<text x="554.5" y="1369.1" font-family='"Liberation Serif", serif' font-size="17" font-style="italic" text-anchor="middle">dt</text>
<circle cx="1325.7" cy="1381.3" r="12.8" fill="#E3E3E3" stroke="#444" stroke-width="1.3"/>
<line x1="1318.5" y1="1381.3" x2="1332.9" y2="1381.3" stroke="#333" stroke-width="1.3" />
<line x1="1325.7" y1="1374.1" x2="1325.7" y2="1388.5" stroke="#333" stroke-width="1.3" />
<text x="1347.5" y="1386.2" font-family='"Liberation Sans", sans-serif' font-size="15.5" textLength="112.99" lengthAdjust="spacingAndGlyphs">Concatenation</text>
<circle cx="1325.7" cy="1417.3" r="12.8" fill="#D9D9D9" stroke="#444" stroke-width="1.3"/>
<text x="1325.7" y="1424" font-family='"Liberation Serif", serif' font-size="19" fill="#222" text-anchor="middle">Σ</text>
<text x="1349.3" y="1422" font-family='"Liberation Sans", sans-serif' font-size="15.5" textLength="88.59" lengthAdjust="spacingAndGlyphs">Summation</text>
<!-- left_c -->
<text x="364.7" y="1486.9" font-family='"Liberation Serif", serif' font-size="22.5" text-anchor="middle">4.8 ns</text>
<text x="564.6" y="1486.9" font-family='"Liberation Serif", serif' font-size="22.5" text-anchor="middle">9.5 ns</text>
<text x="763.8" y="1486.9" font-family='"Liberation Serif", serif' font-size="22.5" text-anchor="middle">14.2 ns</text>
<g transform="translate(261,1608.8) rotate(-90)"><text x="0" y="0" font-family='"Liberation Serif", serif' font-size="24" text-anchor="middle" textLength="106.6" lengthAdjust="spacingAndGlyphs">Simulation</text></g>
<g transform="translate(261,1843.4) rotate(-90)"><text x="0" y="0" font-family='"Liberation Serif", serif' font-size="24" text-anchor="middle" textLength="148" lengthAdjust="spacingAndGlyphs">Deep Learning</text></g>
<clipPath id="cs10"><rect x="269" y="1492.4" width="193.8" height="223"/></clipPath>
<rect x="269" y="1492.4" width="193.8" height="223" fill="#0004DC"/>
<g clip-path="url(#cs10)"><g filter="url(#blur6)" opacity="0.5"><ellipse cx="358" cy="1688" rx="16" ry="7" fill="#0000A8"/><ellipse cx="455" cy="1641" rx="18" ry="7" fill="#0000A8"/><ellipse cx="439" cy="1591" rx="16" ry="11" fill="#0000A8"/><ellipse cx="294" cy="1635" rx="30" ry="8" fill="#0000A8"/><ellipse cx="455" cy="1532" rx="30" ry="6" fill="#0000A8"/><ellipse cx="456" cy="1525" rx="28" ry="11" fill="#0000A8"/><ellipse cx="440" cy="1514" rx="37" ry="11" fill="#0000A8"/><ellipse cx="330" cy="1661" rx="21" ry="6" fill="#0000A8"/><ellipse cx="301" cy="1561" rx="36" ry="8" fill="#0000A8"/><ellipse cx="461" cy="1692" rx="20" ry="8" fill="#0000A8"/><ellipse cx="281" cy="1623" rx="30" ry="9" fill="#0000A8"/><ellipse cx="286" cy="1629" rx="18" ry="11" fill="#0000A8"/><ellipse cx="358" cy="1515" rx="39" ry="12" fill="#0000A8"/><ellipse cx="333" cy="1700" rx="22" ry="9" fill="#0000A8"/><ellipse cx="380" cy="1669" rx="17" ry="5" fill="#0000A8"/><ellipse cx="298" cy="1578" rx="35" ry="10" fill="#0000A8"/><ellipse cx="290" cy="1656" rx="20" ry="5" fill="#0000A8"/><ellipse cx="362" cy="1695" rx="38" ry="8" fill="#0000A8"/><ellipse cx="424" cy="1536" rx="19" ry="12" fill="#0000A8"/><ellipse cx="399" cy="1531" rx="23" ry="10" fill="#0000A8"/><ellipse cx="280" cy="1534" rx="35" ry="7" fill="#0000A8"/><ellipse cx="350" cy="1588" rx="27" ry="7" fill="#0000A8"/><ellipse cx="317" cy="1671" rx="34" ry="12" fill="#0000A8"/><ellipse cx="277" cy="1528" rx="36" ry="7" fill="#0000A8"/></g></g>
<defs><path id="hs10" d="M381.3,1532.2Q382.2,1532.9 381.9,1533.8Q381.6,1534.7 379.0,1534.9Q376.5,1535.1 374.4,1534.8Q372.3,1534.5 372.9,1533.0Q373.5,1531.5 374.8,1530.7Q376.1,1529.8 378.3,1530.6Q380.4,1531.4 381.3,1532.2ZM303.1,1552.1Q304.5,1553.1 303.8,1553.4Q303.1,1553.8 301.0,1553.9Q298.9,1554.0 297.4,1553.7Q295.8,1553.4 296.6,1552.7Q297.4,1552.0 297.4,1551.1Q297.5,1550.2 299.6,1550.7Q301.7,1551.2 303.1,1552.1ZM346.3,1585.4Q346.4,1586.1 346.2,1587.4Q346.0,1588.6 343.9,1588.7Q341.8,1588.7 339.5,1588.0Q337.2,1587.3 338.1,1586.4Q339.0,1585.6 339.4,1584.3Q339.7,1583.1 343.0,1583.9Q346.3,1584.8 346.3,1585.4ZM329.3,1625.8Q329.8,1626.3 329.4,1626.8Q328.9,1627.3 327.5,1627.7Q326.1,1628.1 324.6,1627.4Q323.1,1626.7 323.8,1626.0Q324.5,1625.3 325.1,1624.9Q325.7,1624.5 327.3,1624.9Q328.8,1625.3 329.3,1625.8ZM321.7,1640.7Q322.1,1641.7 321.9,1643.4Q321.7,1645.2 319.7,1645.2Q317.6,1645.1 313.5,1643.9Q309.5,1642.8 311.4,1641.7Q313.3,1640.6 314.8,1639.9Q316.3,1639.1 318.8,1639.4Q321.3,1639.7 321.7,1640.7ZM362.9,1651.4Q365.0,1652.5 363.5,1653.5Q361.9,1654.5 359.0,1655.4Q356.0,1656.4 355.2,1655.3Q354.4,1654.3 354.1,1653.2Q353.8,1652.1 355.9,1651.2Q358.1,1650.3 359.5,1650.3Q360.8,1650.2 362.9,1651.4ZM399.4,1652.3Q400.0,1653.0 399.2,1653.4Q398.3,1653.8 397.5,1654.2Q396.7,1654.6 395.6,1654.2Q394.5,1653.9 393.9,1653.1Q393.3,1652.4 394.7,1651.9Q396.2,1651.4 397.4,1651.5Q398.7,1651.7 399.4,1652.3ZM415.8,1683.5Q416.7,1684.2 415.8,1685.0Q414.9,1685.8 413.0,1685.9Q411.0,1686.0 410.4,1685.5Q409.9,1685.0 409.7,1684.4Q409.5,1683.9 409.9,1683.0Q410.3,1682.1 412.7,1682.5Q415.0,1682.9 415.8,1683.5Z"/></defs>
<g clip-path="url(#cs10)" fill="#f0e020" stroke-linejoin="round"><use href="#hs10" stroke="#18c8e8" stroke-width="3.5"/><use href="#hs10" stroke="#60f0a0" stroke-width="1.5"/></g>
<clipPath id="cs20"><rect x="269" y="1724.6" width="193.8" height="224.8"/></clipPath>
<rect x="269" y="1724.6" width="193.8" height="224.8" fill="#0004DC"/>
<g clip-path="url(#cs20)"><g filter="url(#blur6)" opacity="0.5"><ellipse cx="365" cy="1784" rx="31" ry="7" fill="#0000A8"/><ellipse cx="361" cy="1943" rx="17" ry="7" fill="#0000A8"/><ellipse cx="400" cy="1744" rx="19" ry="11" fill="#0000A8"/><ellipse cx="459" cy="1796" rx="20" ry="12" fill="#0000A8"/><ellipse cx="333" cy="1860" rx="30" ry="9" fill="#0000A8"/><ellipse cx="446" cy="1941" rx="32" ry="11" fill="#0000A8"/><ellipse cx="423" cy="1869" rx="26" ry="7" fill="#0000A8"/><ellipse cx="321" cy="1934" rx="33" ry="6" fill="#0000A8"/><ellipse cx="446" cy="1786" rx="32" ry="8" fill="#0000A8"/><ellipse cx="321" cy="1772" rx="29" ry="8" fill="#0000A8"/><ellipse cx="390" cy="1881" rx="35" ry="11" fill="#0000A8"/><ellipse cx="390" cy="1942" rx="27" ry="11" fill="#0000A8"/><ellipse cx="427" cy="1908" rx="18" ry="9" fill="#0000A8"/><ellipse cx="369" cy="1746" rx="24" ry="9" fill="#0000A8"/><ellipse cx="270" cy="1727" rx="30" ry="8" fill="#0000A8"/><ellipse cx="459" cy="1916" rx="36" ry="11" fill="#0000A8"/><ellipse cx="312" cy="1888" rx="17" ry="6" fill="#0000A8"/><ellipse cx="342" cy="1780" rx="16" ry="9" fill="#0000A8"/><ellipse cx="456" cy="1742" rx="21" ry="11" fill="#0000A8"/><ellipse cx="371" cy="1829" rx="25" ry="11" fill="#0000A8"/><ellipse cx="360" cy="1815" rx="24" ry="10" fill="#0000A8"/><ellipse cx="273" cy="1824" rx="31" ry="5" fill="#0000A8"/><ellipse cx="330" cy="1803" rx="31" ry="9" fill="#0000A8"/><ellipse cx="365" cy="1792" rx="26" ry="11" fill="#0000A8"/></g></g>
<defs><path id="hs20" d="M305.5,1782.2Q305.1,1782.8 304.6,1783.4Q304.2,1784.0 303.0,1784.4Q301.8,1784.8 299.2,1784.4Q296.6,1783.9 297.1,1783.3Q297.7,1782.6 298.9,1781.6Q300.0,1780.6 303.0,1781.1Q305.9,1781.7 305.5,1782.2ZM381.3,1762.4Q381.6,1762.6 381.2,1763.1Q380.9,1763.6 380.1,1763.6Q379.3,1763.5 378.2,1763.4Q377.0,1763.3 377.3,1762.9Q377.6,1762.5 378.0,1762.2Q378.5,1761.9 379.8,1762.0Q381.1,1762.1 381.3,1762.4ZM350.1,1815.4Q350.5,1816.4 350.0,1817.9Q349.5,1819.3 347.7,1819.3Q346.0,1819.3 344.0,1818.8Q342.0,1818.3 341.9,1817.3Q341.9,1816.3 343.6,1815.3Q345.3,1814.3 347.5,1814.4Q349.8,1814.4 350.1,1815.4ZM317.6,1854.6Q318.6,1854.8 317.7,1855.5Q316.8,1856.1 315.7,1856.0Q314.6,1855.9 314.1,1855.5Q313.7,1855.2 313.7,1854.9Q313.7,1854.5 314.1,1854.3Q314.6,1854.0 315.6,1854.2Q316.5,1854.3 317.6,1854.6ZM322.2,1872.4Q323.5,1872.8 322.4,1873.6Q321.2,1874.4 319.6,1874.4Q318.0,1874.3 316.7,1873.9Q315.5,1873.6 316.0,1872.9Q316.5,1872.3 317.1,1871.7Q317.8,1871.2 319.3,1871.6Q320.8,1872.0 322.2,1872.4ZM363.1,1885.7Q364.7,1886.2 363.9,1887.0Q363.2,1887.9 360.9,1888.3Q358.6,1888.7 356.9,1887.9Q355.2,1887.1 356.3,1886.6Q357.5,1886.1 358.1,1885.6Q358.7,1885.1 360.1,1885.2Q361.4,1885.2 363.1,1885.7Z"/></defs>
<g clip-path="url(#cs20)" fill="#f0e020" stroke-linejoin="round"><use href="#hs20" stroke="#18c8e8" stroke-width="3.5"/><use href="#hs20" stroke="#60f0a0" stroke-width="1.5"/></g>
<clipPath id="cs11"><rect x="468.3" y="1492.4" width="193.8" height="223"/></clipPath>
<rect x="468.3" y="1492.4" width="193.8" height="223" fill="#0004DC"/>
<g clip-path="url(#cs11)"><g filter="url(#blur6)" opacity="0.5"><ellipse cx="542" cy="1544" rx="19" ry="11" fill="#0000A8"/><ellipse cx="580" cy="1646" rx="29" ry="8" fill="#0000A8"/><ellipse cx="610" cy="1621" rx="35" ry="10" fill="#0000A8"/><ellipse cx="631" cy="1590" rx="19" ry="6" fill="#0000A8"/><ellipse cx="608" cy="1530" rx="31" ry="9" fill="#0000A8"/><ellipse cx="480" cy="1667" rx="16" ry="11" fill="#0000A8"/><ellipse cx="631" cy="1541" rx="33" ry="10" fill="#0000A8"/><ellipse cx="493" cy="1642" rx="18" ry="11" fill="#0000A8"/><ellipse cx="602" cy="1711" rx="16" ry="7" fill="#0000A8"/><ellipse cx="588" cy="1628" rx="20" ry="11" fill="#0000A8"/><ellipse cx="632" cy="1560" rx="19" ry="10" fill="#0000A8"/><ellipse cx="547" cy="1640" rx="27" ry="8" fill="#0000A8"/><ellipse cx="472" cy="1522" rx="26" ry="10" fill="#0000A8"/><ellipse cx="551" cy="1658" rx="28" ry="11" fill="#0000A8"/><ellipse cx="595" cy="1564" rx="18" ry="5" fill="#0000A8"/><ellipse cx="476" cy="1685" rx="37" ry="10" fill="#0000A8"/><ellipse cx="489" cy="1640" rx="18" ry="11" fill="#0000A8"/><ellipse cx="595" cy="1660" rx="30" ry="8" fill="#0000A8"/><ellipse cx="633" cy="1707" rx="21" ry="8" fill="#0000A8"/><ellipse cx="610" cy="1644" rx="25" ry="8" fill="#0000A8"/><ellipse cx="656" cy="1554" rx="20" ry="10" fill="#0000A8"/><ellipse cx="522" cy="1693" rx="23" ry="11" fill="#0000A8"/><ellipse cx="542" cy="1690" rx="34" ry="10" fill="#0000A8"/><ellipse cx="510" cy="1529" rx="16" ry="6" fill="#0000A8"/></g></g>
<defs><path id="hs11" d="M583.3,1544.6Q581.4,1542.6 578.5,1539.7Q575.7,1536.8 574.9,1534.6Q574.1,1532.4 575.8,1529.2Q577.6,1526.0 580.5,1522.5Q583.4,1519.0 586.2,1519.5Q589.0,1520.1 592.9,1520.5Q596.7,1521.0 598.4,1526.8Q600.1,1532.6 599.0,1533.6Q598.0,1534.5 594.0,1540.0Q590.0,1545.4 587.6,1546.0Q585.2,1546.6 583.3,1544.6ZM571.9,1538.3Q571.2,1541.7 569.2,1542.4Q567.3,1543.1 564.1,1542.0Q560.9,1540.9 559.1,1538.1Q557.2,1535.4 560.2,1533.6Q563.2,1531.8 564.8,1530.5Q566.4,1529.2 569.6,1532.0Q572.7,1534.8 571.9,1538.3ZM496.7,1559.2Q494.4,1558.8 492.7,1555.3Q491.1,1551.8 494.8,1548.6Q498.5,1545.5 500.2,1543.0Q501.8,1540.6 504.2,1542.0Q506.7,1543.5 509.1,1545.3Q511.5,1547.1 515.8,1548.9Q520.1,1550.7 516.0,1554.0Q511.9,1557.3 511.1,1561.2Q510.2,1565.0 507.2,1562.8Q504.2,1560.6 501.6,1560.1Q499.0,1559.7 496.7,1559.2ZM627.8,1564.3Q626.2,1564.1 625.0,1562.5Q623.9,1560.9 625.2,1558.9Q626.5,1557.0 628.6,1557.8Q630.8,1558.7 632.1,1559.9Q633.5,1561.1 633.6,1562.5Q633.7,1564.0 631.5,1564.2Q629.3,1564.4 627.8,1564.3ZM541.3,1595.0Q540.1,1590.7 538.7,1589.3Q537.3,1587.9 537.0,1582.7Q536.7,1577.5 539.5,1575.2Q542.2,1572.8 546.4,1573.2Q550.6,1573.7 552.6,1572.9Q554.5,1572.1 559.4,1575.6Q564.3,1579.0 562.8,1583.2Q561.4,1587.5 558.9,1589.0Q556.3,1590.6 554.6,1591.5Q552.9,1592.4 547.7,1595.8Q542.6,1599.3 541.3,1595.0ZM616.9,1597.7Q614.8,1594.5 614.1,1591.6Q613.3,1588.7 612.1,1587.2Q610.8,1585.6 613.1,1582.4Q615.4,1579.1 616.4,1578.8Q617.3,1578.5 621.5,1577.6Q625.6,1576.7 627.9,1578.7Q630.2,1580.7 630.5,1583.3Q630.8,1585.9 632.5,1590.3Q634.2,1594.6 630.5,1596.4Q626.8,1598.1 622.9,1599.5Q619.0,1600.8 616.9,1597.7ZM513.9,1643.3Q510.5,1639.2 513.9,1633.4Q517.3,1627.6 516.7,1624.2Q516.1,1620.8 522.4,1620.3Q528.6,1619.9 533.8,1622.3Q538.9,1624.8 540.9,1625.8Q542.9,1626.8 541.9,1632.1Q540.8,1637.5 540.9,1643.3Q541.0,1649.2 538.1,1650.5Q535.1,1651.8 528.5,1650.3Q521.9,1648.8 519.6,1648.1Q517.3,1647.4 513.9,1643.3ZM573.7,1659.1Q573.7,1662.9 569.5,1662.1Q565.2,1661.3 559.7,1663.4Q554.1,1665.5 554.3,1662.5Q554.5,1659.5 552.0,1655.9Q549.6,1652.3 550.4,1650.4Q551.2,1648.5 553.4,1644.3Q555.6,1640.0 560.4,1639.0Q565.2,1637.9 568.5,1640.6Q571.7,1643.2 571.7,1645.9Q571.6,1648.5 572.7,1651.9Q573.7,1655.2 573.7,1659.1ZM616.4,1657.1Q613.5,1658.2 612.7,1664.5Q612.0,1670.7 605.6,1669.6Q599.3,1668.4 594.8,1665.8Q590.2,1663.3 590.1,1659.9Q589.9,1656.5 587.5,1654.3Q585.2,1652.0 589.9,1644.8Q594.7,1637.6 598.6,1636.3Q602.6,1635.0 609.0,1636.1Q615.5,1637.1 614.3,1642.8Q613.0,1648.4 616.1,1652.2Q619.3,1656.0 616.4,1657.1ZM641.1,1639.6Q637.9,1640.5 635.7,1640.8Q633.5,1641.1 632.9,1637.8Q632.3,1634.5 633.1,1631.1Q633.8,1627.6 636.9,1628.5Q639.9,1629.3 641.3,1630.9Q642.6,1632.5 643.5,1635.6Q644.4,1638.8 641.1,1639.6ZM619.8,1673.5Q618.6,1669.0 618.4,1667.3Q618.1,1665.5 620.3,1664.7Q622.4,1663.8 625.3,1662.6Q628.2,1661.4 629.1,1661.0Q630.1,1660.6 631.8,1661.6Q633.6,1662.7 635.5,1664.9Q637.5,1667.1 637.1,1669.8Q636.7,1672.5 634.4,1675.0Q632.2,1677.4 627.9,1678.2Q623.7,1679.1 622.3,1678.5Q621.0,1678.0 619.8,1673.5ZM622.7,1686.8Q622.2,1689.1 620.9,1691.1Q619.5,1693.0 617.1,1696.6Q614.7,1700.1 611.2,1697.5Q607.6,1695.0 605.8,1694.7Q603.9,1694.3 602.9,1689.6Q601.9,1684.9 604.8,1683.1Q607.8,1681.4 611.5,1677.7Q615.3,1674.0 616.3,1675.1Q617.3,1676.2 620.0,1678.6Q622.6,1681.0 622.9,1682.7Q623.1,1684.5 622.7,1686.8ZM647.1,1708.8Q644.8,1709.7 642.6,1709.0Q640.4,1708.4 638.0,1707.4Q635.7,1706.4 637.0,1704.2Q638.4,1702.0 638.8,1699.6Q639.1,1697.2 640.5,1694.5Q641.9,1691.8 645.9,1692.5Q649.9,1693.2 650.4,1696.0Q650.9,1698.8 650.9,1699.8Q650.9,1700.8 651.1,1702.7Q651.4,1704.5 650.4,1706.2Q649.4,1708.0 647.1,1708.8ZM511.9,1651.5Q510.0,1650.4 510.7,1647.5Q511.5,1644.7 513.8,1642.7Q516.0,1640.7 519.1,1640.1Q522.1,1639.6 523.2,1641.0Q524.2,1642.5 525.6,1642.9Q527.0,1643.4 527.0,1646.1Q527.1,1648.8 525.7,1650.9Q524.3,1653.0 523.7,1654.1Q523.1,1655.1 520.9,1656.9Q518.6,1658.7 516.2,1655.6Q513.7,1652.5 511.9,1651.5Z"/></defs>
<g clip-path="url(#cs11)" fill="#900000" stroke-linejoin="round"><use href="#hs11" stroke="#18c8e8" stroke-width="5"/><use href="#hs11" stroke="#f0e020" stroke-width="3.2"/><use href="#hs11" stroke="#e83000" stroke-width="1.5"/><use href="#hs11"/></g>
<clipPath id="cs21"><rect x="468.3" y="1724.6" width="193.8" height="224.8"/></clipPath>
<rect x="468.3" y="1724.6" width="193.8" height="224.8" fill="#0004DC"/>
<g clip-path="url(#cs21)"><g filter="url(#blur6)" opacity="0.5"><ellipse cx="515" cy="1837" rx="19" ry="11" fill="#0000A8"/><ellipse cx="513" cy="1849" rx="38" ry="8" fill="#0000A8"/><ellipse cx="656" cy="1889" rx="29" ry="9" fill="#0000A8"/><ellipse cx="582" cy="1806" rx="40" ry="8" fill="#0000A8"/><ellipse cx="659" cy="1916" rx="16" ry="7" fill="#0000A8"/><ellipse cx="561" cy="1908" rx="19" ry="9" fill="#0000A8"/><ellipse cx="539" cy="1901" rx="38" ry="10" fill="#0000A8"/><ellipse cx="506" cy="1896" rx="26" ry="11" fill="#0000A8"/><ellipse cx="559" cy="1928" rx="40" ry="11" fill="#0000A8"/><ellipse cx="628" cy="1909" rx="30" ry="6" fill="#0000A8"/><ellipse cx="659" cy="1829" rx="15" ry="8" fill="#0000A8"/><ellipse cx="549" cy="1770" rx="39" ry="6" fill="#0000A8"/><ellipse cx="644" cy="1848" rx="19" ry="8" fill="#0000A8"/><ellipse cx="556" cy="1751" rx="34" ry="10" fill="#0000A8"/><ellipse cx="659" cy="1911" rx="35" ry="12" fill="#0000A8"/><ellipse cx="649" cy="1869" rx="28" ry="9" fill="#0000A8"/><ellipse cx="626" cy="1933" rx="36" ry="11" fill="#0000A8"/><ellipse cx="474" cy="1819" rx="17" ry="9" fill="#0000A8"/><ellipse cx="581" cy="1851" rx="36" ry="7" fill="#0000A8"/><ellipse cx="610" cy="1856" rx="20" ry="12" fill="#0000A8"/><ellipse cx="479" cy="1829" rx="28" ry="9" fill="#0000A8"/><ellipse cx="659" cy="1849" rx="37" ry="7" fill="#0000A8"/><ellipse cx="562" cy="1758" rx="31" ry="8" fill="#0000A8"/><ellipse cx="620" cy="1750" rx="27" ry="12" fill="#0000A8"/></g></g>
<defs><path id="hs21" d="M589.1,1760.8Q590.2,1763.9 588.8,1766.3Q587.4,1768.6 586.2,1770.9Q585.0,1773.1 582.5,1772.8Q580.0,1772.5 576.7,1770.9Q573.4,1769.4 574.3,1766.9Q575.1,1764.3 574.6,1762.0Q574.2,1759.6 574.6,1756.4Q574.9,1753.1 577.9,1754.0Q581.0,1754.8 583.2,1755.7Q585.4,1756.5 586.7,1757.0Q587.9,1757.6 589.1,1760.8ZM499.7,1795.9Q494.6,1795.5 492.2,1794.0Q489.7,1792.6 489.2,1789.1Q488.7,1785.7 490.9,1783.9Q493.0,1782.0 496.2,1779.0Q499.4,1775.9 501.0,1776.5Q502.5,1777.1 505.9,1778.0Q509.4,1778.8 509.8,1779.9Q510.2,1780.9 511.5,1786.7Q512.9,1792.5 513.1,1793.6Q513.3,1794.7 509.0,1795.5Q504.7,1796.4 499.7,1795.9ZM586.0,1797.1Q583.8,1797.4 582.5,1796.6Q581.2,1795.7 580.5,1793.8Q579.7,1791.9 581.7,1791.7Q583.7,1791.6 585.4,1791.3Q587.0,1791.0 588.3,1792.6Q589.6,1794.3 589.0,1795.5Q588.3,1796.7 586.0,1797.1ZM543.5,1828.2Q540.0,1826.7 537.8,1825.0Q535.6,1823.3 534.5,1821.1Q533.4,1818.9 535.4,1814.1Q537.5,1809.2 539.4,1808.0Q541.2,1806.8 545.1,1807.1Q548.9,1807.4 554.2,1807.9Q559.5,1808.5 557.7,1811.4Q555.9,1814.4 555.5,1817.9Q555.2,1821.3 555.4,1823.8Q555.5,1826.2 551.3,1827.9Q547.0,1829.7 543.5,1828.2ZM619.8,1831.7Q616.7,1833.7 615.2,1830.3Q613.8,1826.8 613.4,1823.6Q613.1,1820.4 616.0,1820.8Q618.9,1821.2 621.4,1819.9Q623.9,1818.7 625.5,1822.0Q627.1,1825.4 625.0,1827.5Q622.9,1829.7 619.8,1831.7ZM528.6,1857.2Q526.8,1859.8 526.8,1863.0Q526.9,1866.2 523.4,1864.2Q520.0,1862.2 517.7,1864.5Q515.5,1866.9 514.6,1862.6Q513.7,1858.4 511.0,1855.2Q508.3,1852.1 511.4,1851.0Q514.4,1849.8 515.6,1847.5Q516.9,1845.2 520.6,1846.7Q524.3,1848.2 527.7,1848.7Q531.1,1849.2 530.8,1851.9Q530.5,1854.6 528.6,1857.2ZM525.1,1874.4Q526.7,1876.2 524.5,1878.3Q522.2,1880.4 521.2,1881.0Q520.2,1881.6 517.6,1882.1Q515.0,1882.6 512.1,1882.3Q509.2,1882.1 508.9,1879.8Q508.6,1877.5 508.3,1873.4Q508.0,1869.3 508.3,1868.4Q508.6,1867.5 513.1,1866.1Q517.7,1864.7 521.5,1865.1Q525.4,1865.4 524.5,1869.0Q523.6,1872.5 525.1,1874.4ZM602.5,1869.4Q599.6,1871.0 596.9,1871.6Q594.2,1872.1 592.4,1869.0Q590.7,1865.9 592.8,1863.8Q594.9,1861.7 597.1,1860.8Q599.4,1859.9 601.0,1862.1Q602.6,1864.3 603.9,1866.0Q605.3,1867.7 602.5,1869.4ZM557.5,1896.7Q554.6,1897.0 552.2,1892.7Q549.8,1888.3 551.9,1886.4Q554.0,1884.5 552.9,1881.4Q551.8,1878.3 556.8,1878.2Q561.8,1878.2 562.5,1877.6Q563.1,1877.0 566.3,1880.2Q569.4,1883.4 571.6,1886.2Q573.7,1889.1 572.8,1892.5Q571.8,1895.9 568.0,1895.2Q564.3,1894.5 562.3,1895.4Q560.3,1896.3 557.5,1896.7ZM596.7,1900.4Q592.9,1899.8 592.2,1897.1Q591.6,1894.4 590.7,1891.8Q589.8,1889.1 589.3,1884.2Q588.7,1879.3 590.7,1879.5Q592.7,1879.7 595.4,1879.8Q598.0,1879.8 601.6,1879.4Q605.2,1879.0 608.2,1883.7Q611.2,1888.3 609.5,1889.8Q607.8,1891.3 607.1,1894.3Q606.3,1897.3 603.4,1899.1Q600.5,1901.0 596.7,1900.4ZM625.6,1910.4Q624.1,1912.8 621.4,1910.3Q618.7,1907.8 617.7,1906.4Q616.7,1905.1 614.9,1904.6Q613.0,1904.2 614.9,1901.6Q616.8,1898.9 618.7,1895.5Q620.5,1892.1 622.6,1892.3Q624.7,1892.5 625.9,1895.2Q627.1,1897.8 628.5,1899.3Q629.9,1900.8 630.5,1902.3Q631.2,1903.7 629.2,1905.8Q627.2,1908.0 625.6,1910.4ZM621.9,1927.3Q620.4,1928.4 618.7,1931.1Q616.9,1933.8 614.2,1934.8Q611.5,1935.7 609.3,1930.9Q607.2,1926.0 606.7,1925.7Q606.3,1925.4 605.7,1922.1Q605.1,1918.8 606.1,1914.4Q607.1,1909.9 610.2,1911.7Q613.2,1913.4 616.1,1911.7Q619.0,1910.0 622.7,1914.2Q626.4,1918.5 624.8,1922.3Q623.3,1926.1 621.9,1927.3ZM639.9,1938.9Q637.7,1937.4 636.4,1935.0Q635.0,1932.5 636.2,1930.2Q637.3,1928.0 639.5,1928.7Q641.6,1929.4 644.9,1930.7Q648.1,1932.0 646.6,1934.6Q645.2,1937.2 643.7,1938.8Q642.2,1940.5 639.9,1938.9Z"/></defs>
<g clip-path="url(#cs21)" fill="#900000" stroke-linejoin="round"><use href="#hs21" stroke="#18c8e8" stroke-width="5"/><use href="#hs21" stroke="#f0e020" stroke-width="3.2"/><use href="#hs21" stroke="#e83000" stroke-width="1.5"/><use href="#hs21"/></g>
<clipPath id="cs12"><rect x="667.6" y="1492.4" width="193.8" height="223"/></clipPath>
<rect x="667.6" y="1492.4" width="193.8" height="223" fill="#0004DC"/>
<g clip-path="url(#cs12)"><g filter="url(#blur6)" opacity="0.5"><ellipse cx="792" cy="1498" rx="22" ry="7" fill="#0000A8"/><ellipse cx="810" cy="1643" rx="37" ry="6" fill="#0000A8"/><ellipse cx="749" cy="1499" rx="20" ry="9" fill="#0000A8"/><ellipse cx="673" cy="1537" rx="31" ry="9" fill="#0000A8"/><ellipse cx="710" cy="1624" rx="35" ry="5" fill="#0000A8"/><ellipse cx="824" cy="1648" rx="24" ry="6" fill="#0000A8"/><ellipse cx="853" cy="1567" rx="17" ry="6" fill="#0000A8"/><ellipse cx="832" cy="1627" rx="35" ry="10" fill="#0000A8"/><ellipse cx="772" cy="1709" rx="24" ry="9" fill="#0000A8"/><ellipse cx="828" cy="1630" rx="37" ry="9" fill="#0000A8"/><ellipse cx="804" cy="1503" rx="21" ry="7" fill="#0000A8"/><ellipse cx="683" cy="1544" rx="18" ry="7" fill="#0000A8"/><ellipse cx="791" cy="1574" rx="24" ry="6" fill="#0000A8"/><ellipse cx="719" cy="1701" rx="31" ry="9" fill="#0000A8"/><ellipse cx="701" cy="1655" rx="19" ry="8" fill="#0000A8"/><ellipse cx="859" cy="1635" rx="29" ry="10" fill="#0000A8"/><ellipse cx="831" cy="1665" rx="21" ry="5" fill="#0000A8"/><ellipse cx="729" cy="1552" rx="20" ry="12" fill="#0000A8"/><ellipse cx="837" cy="1563" rx="31" ry="8" fill="#0000A8"/><ellipse cx="845" cy="1595" rx="22" ry="7" fill="#0000A8"/><ellipse cx="776" cy="1551" rx="30" ry="11" fill="#0000A8"/><ellipse cx="745" cy="1541" rx="40" ry="9" fill="#0000A8"/><ellipse cx="685" cy="1503" rx="18" ry="9" fill="#0000A8"/><ellipse cx="821" cy="1587" rx="17" ry="8" fill="#0000A8"/></g></g>
<defs><path id="hs12" d="M767.4,1535.1Q764.0,1530.3 771.3,1526.1Q778.7,1522.0 779.9,1516.6Q781.2,1511.1 785.6,1513.1Q790.0,1515.1 793.6,1517.9Q797.2,1520.7 800.8,1522.6Q804.4,1524.6 806.0,1532.9Q807.6,1541.2 804.5,1541.8Q801.3,1542.3 798.1,1547.3Q794.9,1552.2 786.9,1547.7Q778.9,1543.3 774.9,1541.6Q770.8,1539.9 767.4,1535.1ZM774.5,1539.6Q773.5,1543.3 771.0,1545.2Q768.5,1547.1 767.4,1546.7Q766.4,1546.2 762.9,1548.0Q759.4,1549.7 755.6,1544.6Q751.7,1539.4 754.4,1537.8Q757.0,1536.3 756.8,1531.0Q756.5,1525.7 758.3,1526.6Q760.0,1527.4 763.0,1526.0Q766.0,1524.6 768.7,1528.8Q771.4,1532.9 773.4,1534.4Q775.5,1535.9 774.5,1539.6ZM724.8,1567.2Q719.3,1569.5 717.6,1571.0Q715.9,1572.5 709.5,1570.0Q703.0,1567.5 697.4,1568.8Q691.7,1570.1 692.3,1562.0Q692.9,1554.0 695.8,1550.8Q698.7,1547.7 700.0,1544.5Q701.2,1541.4 706.9,1540.8Q712.7,1540.1 714.8,1542.0Q717.0,1543.8 720.8,1547.5Q724.7,1551.2 727.5,1558.1Q730.3,1564.9 724.8,1567.2ZM775.3,1585.7Q778.0,1588.0 773.1,1591.4Q768.3,1594.9 762.4,1600.5Q756.5,1606.1 752.7,1606.8Q748.9,1607.5 746.1,1600.3Q743.2,1593.1 741.1,1592.0Q739.1,1590.8 739.5,1584.2Q740.0,1577.6 744.4,1571.9Q748.9,1566.2 755.0,1569.4Q761.2,1572.7 763.8,1572.3Q766.5,1571.9 769.5,1577.7Q772.5,1583.4 775.3,1585.7ZM843.7,1585.0Q843.5,1588.1 839.4,1590.4Q835.2,1592.6 827.1,1594.4Q818.9,1596.2 813.9,1593.3Q809.0,1590.5 805.2,1590.4Q801.4,1590.3 801.6,1577.3Q801.8,1564.2 808.1,1559.0Q814.5,1553.8 817.6,1555.3Q820.6,1556.9 826.6,1557.5Q832.6,1558.2 836.6,1560.9Q840.7,1563.5 842.3,1572.7Q843.9,1581.9 843.7,1585.0ZM822.4,1557.0Q820.7,1554.7 817.6,1550.6Q814.4,1546.4 816.1,1544.4Q817.7,1542.4 820.1,1541.8Q822.5,1541.1 826.9,1539.2Q831.4,1537.3 833.6,1537.7Q835.7,1538.1 836.7,1539.9Q837.6,1541.7 839.5,1546.1Q841.4,1550.5 840.7,1553.1Q840.1,1555.7 836.1,1555.7Q832.2,1555.7 828.2,1557.5Q824.2,1559.2 822.4,1557.0ZM748.2,1645.4Q751.8,1648.5 746.1,1651.3Q740.3,1654.1 734.0,1653.3Q727.7,1652.4 723.7,1650.1Q719.7,1647.8 719.8,1641.9Q719.8,1636.0 720.7,1632.9Q721.5,1629.8 722.2,1625.7Q722.8,1621.7 727.6,1622.0Q732.4,1622.4 737.0,1625.3Q741.6,1628.2 747.9,1628.1Q754.1,1628.0 749.4,1635.2Q744.7,1642.3 748.2,1645.4ZM786.8,1658.6Q787.0,1664.5 779.2,1669.3Q771.3,1674.1 768.7,1670.0Q766.1,1666.0 759.2,1664.9Q752.3,1663.7 749.2,1659.8Q746.0,1655.9 752.0,1651.9Q758.1,1647.8 760.0,1643.8Q761.8,1639.7 765.5,1635.3Q769.2,1631.0 770.9,1636.0Q772.7,1641.0 777.4,1641.5Q782.2,1642.0 784.4,1647.3Q786.6,1652.7 786.8,1658.6ZM797.1,1677.9Q793.8,1675.6 790.8,1671.2Q787.9,1666.8 786.2,1658.6Q784.5,1650.4 787.3,1650.3Q790.1,1650.2 795.1,1649.4Q800.0,1648.6 806.4,1646.1Q812.7,1643.6 815.4,1645.1Q818.1,1646.6 818.8,1653.1Q819.5,1659.6 817.3,1661.4Q815.0,1663.2 812.0,1671.9Q809.0,1680.5 804.7,1680.4Q800.5,1680.3 797.1,1677.9ZM835.6,1669.6Q829.2,1667.4 821.7,1669.2Q814.1,1670.9 810.4,1662.2Q806.6,1653.5 812.1,1648.8Q817.6,1644.2 819.3,1643.3Q821.0,1642.3 827.1,1635.7Q833.1,1629.1 836.7,1631.9Q840.3,1634.8 845.3,1636.6Q850.3,1638.5 852.4,1649.4Q854.5,1660.4 850.4,1665.6Q846.4,1670.9 844.2,1671.4Q842.0,1671.9 835.6,1669.6ZM850.9,1636.0Q846.7,1640.8 842.6,1641.0Q838.6,1641.2 836.7,1640.4Q834.7,1639.6 831.7,1637.3Q828.7,1634.9 830.5,1628.7Q832.3,1622.5 833.4,1619.4Q834.4,1616.3 835.7,1614.1Q836.9,1611.8 840.3,1614.7Q843.7,1617.6 846.7,1617.7Q849.7,1617.9 854.2,1622.7Q858.7,1627.6 856.9,1629.4Q855.1,1631.2 850.9,1636.0ZM829.7,1701.8Q823.8,1703.9 820.7,1701.2Q817.5,1698.5 815.0,1696.5Q812.4,1694.4 811.2,1691.1Q810.0,1687.9 809.4,1686.8Q808.7,1685.8 812.6,1681.4Q816.5,1677.1 819.8,1675.3Q823.0,1673.6 826.5,1674.2Q829.9,1674.8 833.4,1677.0Q836.8,1679.3 839.2,1682.7Q841.6,1686.0 838.6,1692.9Q835.7,1699.7 829.7,1701.8ZM841.7,1709.2Q837.7,1708.8 835.3,1707.9Q833.0,1707.1 834.1,1701.8Q835.1,1696.6 837.4,1690.7Q839.7,1684.7 842.5,1685.9Q845.3,1687.0 849.5,1687.0Q853.6,1687.1 855.3,1690.1Q856.9,1693.2 862.0,1696.5Q867.1,1699.9 864.7,1706.0Q862.2,1712.0 857.1,1712.1Q852.0,1712.1 848.8,1710.8Q845.7,1709.6 841.7,1709.2ZM732.8,1663.9Q731.6,1666.5 728.7,1667.2Q725.9,1668.0 724.3,1666.9Q722.8,1665.9 719.6,1665.5Q716.5,1665.2 717.8,1661.8Q719.2,1658.4 718.5,1657.3Q717.8,1656.2 720.6,1654.3Q723.4,1652.4 726.2,1651.4Q729.1,1650.3 730.0,1652.7Q731.0,1655.0 731.1,1656.2Q731.1,1657.4 732.6,1659.4Q734.0,1661.3 732.8,1663.9Z"/></defs>
<g clip-path="url(#cs12)" fill="#900000" stroke-linejoin="round"><use href="#hs12" stroke="#18c8e8" stroke-width="5"/><use href="#hs12" stroke="#f0e020" stroke-width="3.2"/><use href="#hs12" stroke="#e83000" stroke-width="1.5"/><use href="#hs12"/></g>
<clipPath id="cs22"><rect x="667.6" y="1724.6" width="193.8" height="224.8"/></clipPath>
<rect x="667.6" y="1724.6" width="193.8" height="224.8" fill="#0004DC"/>
<g clip-path="url(#cs22)"><g filter="url(#blur6)" opacity="0.5"><ellipse cx="857" cy="1737" rx="33" ry="8" fill="#0000A8"/><ellipse cx="850" cy="1816" rx="38" ry="6" fill="#0000A8"/><ellipse cx="860" cy="1817" rx="20" ry="7" fill="#0000A8"/><ellipse cx="790" cy="1732" rx="25" ry="5" fill="#0000A8"/><ellipse cx="681" cy="1763" rx="21" ry="7" fill="#0000A8"/><ellipse cx="818" cy="1818" rx="36" ry="11" fill="#0000A8"/><ellipse cx="841" cy="1938" rx="29" ry="10" fill="#0000A8"/><ellipse cx="838" cy="1847" rx="19" ry="9" fill="#0000A8"/><ellipse cx="770" cy="1765" rx="17" ry="6" fill="#0000A8"/><ellipse cx="803" cy="1907" rx="31" ry="8" fill="#0000A8"/><ellipse cx="673" cy="1726" rx="31" ry="9" fill="#0000A8"/><ellipse cx="756" cy="1763" rx="18" ry="6" fill="#0000A8"/><ellipse cx="693" cy="1859" rx="23" ry="9" fill="#0000A8"/><ellipse cx="751" cy="1848" rx="34" ry="10" fill="#0000A8"/><ellipse cx="697" cy="1940" rx="36" ry="11" fill="#0000A8"/><ellipse cx="755" cy="1939" rx="35" ry="7" fill="#0000A8"/><ellipse cx="801" cy="1915" rx="34" ry="11" fill="#0000A8"/><ellipse cx="770" cy="1875" rx="17" ry="10" fill="#0000A8"/><ellipse cx="696" cy="1887" rx="38" ry="8" fill="#0000A8"/><ellipse cx="681" cy="1734" rx="28" ry="6" fill="#0000A8"/><ellipse cx="811" cy="1862" rx="28" ry="10" fill="#0000A8"/><ellipse cx="697" cy="1828" rx="16" ry="9" fill="#0000A8"/><ellipse cx="821" cy="1759" rx="32" ry="12" fill="#0000A8"/><ellipse cx="730" cy="1771" rx="21" ry="11" fill="#0000A8"/></g></g>
<defs><path id="hs22" d="M767.3,1738.4Q766.4,1740.5 766.2,1743.1Q766.1,1745.7 763.3,1744.9Q760.6,1744.0 759.3,1744.1Q757.9,1744.1 756.3,1742.4Q754.7,1740.7 754.2,1740.1Q753.8,1739.5 754.3,1737.8Q754.9,1736.1 756.6,1734.0Q758.3,1731.9 759.2,1730.2Q760.2,1728.5 762.8,1729.5Q765.4,1730.5 766.8,1733.4Q768.2,1736.4 767.3,1738.4ZM776.6,1779.4Q770.5,1782.2 769.1,1776.5Q767.7,1770.8 765.9,1767.0Q764.0,1763.2 768.0,1759.8Q771.9,1756.3 771.7,1751.1Q771.6,1745.9 775.5,1746.3Q779.4,1746.7 786.7,1750.9Q794.0,1755.1 795.4,1755.8Q796.9,1756.5 796.4,1762.4Q795.8,1768.4 791.4,1772.8Q786.9,1777.3 784.8,1777.0Q782.8,1776.7 776.6,1779.4ZM715.7,1799.7Q713.6,1801.0 705.5,1799.4Q697.5,1797.7 692.4,1800.0Q687.3,1802.3 686.4,1795.4Q685.6,1788.5 683.2,1784.5Q680.8,1780.6 682.3,1774.3Q683.8,1768.0 692.1,1764.8Q700.5,1761.6 701.6,1767.3Q702.7,1773.1 709.5,1773.9Q716.4,1774.7 715.9,1778.6Q715.3,1782.6 716.6,1790.5Q717.8,1798.4 715.7,1799.7ZM792.3,1792.5Q793.5,1792.9 791.5,1795.4Q789.4,1797.9 787.2,1799.8Q785.1,1801.8 784.6,1802.0Q784.1,1802.3 780.9,1801.9Q777.8,1801.4 777.8,1798.2Q777.7,1795.0 775.7,1793.0Q773.6,1791.0 775.4,1788.5Q777.2,1785.9 781.0,1785.0Q784.9,1784.1 786.0,1786.5Q787.2,1788.9 789.1,1790.5Q791.0,1792.2 792.3,1792.5ZM835.6,1798.4Q833.4,1799.2 830.5,1800.0Q827.6,1800.7 824.6,1800.1Q821.6,1799.5 821.7,1797.2Q821.7,1794.8 820.9,1792.7Q820.0,1790.6 821.7,1788.7Q823.4,1786.8 825.1,1784.6Q826.7,1782.5 828.1,1781.8Q829.4,1781.1 831.9,1783.7Q834.4,1786.4 835.2,1788.2Q836.1,1790.0 836.9,1793.8Q837.8,1797.7 835.6,1798.4ZM755.0,1839.6Q750.5,1837.7 746.3,1839.9Q742.2,1842.1 740.0,1834.1Q737.8,1826.1 735.1,1823.3Q732.4,1820.5 735.2,1814.5Q738.1,1808.6 737.1,1803.5Q736.2,1798.3 743.8,1796.4Q751.3,1794.5 753.6,1800.7Q755.9,1806.9 760.7,1809.6Q765.5,1812.4 765.2,1818.6Q765.0,1824.9 762.2,1833.2Q759.5,1841.5 755.0,1839.6ZM815.6,1837.0Q810.6,1840.1 808.0,1835.9Q805.3,1831.7 804.9,1830.7Q804.5,1829.7 804.7,1825.7Q804.9,1821.7 809.1,1816.2Q813.4,1810.7 816.3,1807.4Q819.2,1804.2 822.9,1808.2Q826.6,1812.2 827.6,1815.2Q828.6,1818.2 831.7,1822.6Q834.8,1827.0 832.8,1829.0Q830.9,1831.0 825.8,1832.4Q820.7,1833.8 815.6,1837.0ZM736.4,1870.6Q738.5,1876.9 732.5,1879.3Q726.5,1881.7 723.1,1881.7Q719.6,1881.8 713.9,1875.6Q708.3,1869.5 705.3,1865.8Q702.3,1862.2 699.1,1856.8Q695.9,1851.3 704.9,1848.8Q713.9,1846.3 714.3,1841.6Q714.6,1836.9 725.2,1839.8Q735.9,1842.6 738.6,1844.8Q741.3,1846.9 737.8,1855.6Q734.3,1864.3 736.4,1870.6ZM731.7,1884.7Q733.0,1887.9 730.2,1891.9Q727.3,1895.9 724.4,1896.3Q721.5,1896.7 718.5,1898.9Q715.6,1901.0 710.7,1899.7Q705.8,1898.4 704.5,1893.6Q703.1,1888.9 703.8,1884.3Q704.6,1879.7 706.1,1877.2Q707.6,1874.7 712.6,1870.7Q717.5,1866.8 719.8,1872.7Q722.2,1878.6 726.3,1880.1Q730.4,1881.5 731.7,1884.7ZM797.3,1878.7Q795.7,1874.7 793.2,1873.9Q790.8,1873.1 787.0,1871.0Q783.1,1868.9 785.7,1863.6Q788.4,1858.4 789.6,1857.1Q790.9,1855.8 794.0,1855.7Q797.0,1855.6 802.4,1854.7Q807.8,1853.9 807.3,1859.3Q806.9,1864.7 809.7,1869.1Q812.6,1873.5 807.5,1874.2Q802.3,1874.9 800.6,1878.8Q798.9,1882.7 797.3,1878.7ZM772.0,1895.6Q771.1,1902.4 764.6,1905.9Q758.1,1909.4 755.3,1907.6Q752.5,1905.7 748.2,1904.5Q744.0,1903.2 742.1,1897.8Q740.1,1892.3 740.1,1887.3Q740.2,1882.3 747.3,1879.5Q754.5,1876.8 756.8,1876.1Q759.1,1875.5 763.3,1876.6Q767.4,1877.6 773.3,1881.8Q779.3,1886.0 776.1,1887.4Q772.9,1888.8 772.0,1895.6ZM815.0,1904.0Q811.5,1906.2 804.9,1909.3Q798.4,1912.4 795.2,1910.0Q792.1,1907.7 786.2,1907.6Q780.3,1907.5 782.1,1903.1Q783.9,1898.7 783.4,1892.5Q783.0,1886.4 784.6,1882.7Q786.2,1879.0 794.8,1879.4Q803.4,1879.7 809.3,1881.0Q815.2,1882.4 813.6,1887.6Q812.0,1892.8 815.2,1897.3Q818.5,1901.8 815.0,1904.0ZM814.8,1914.7Q813.3,1909.5 812.0,1907.1Q810.8,1904.8 812.5,1900.2Q814.3,1895.7 816.8,1895.2Q819.3,1894.8 822.0,1894.7Q824.7,1894.7 826.5,1895.3Q828.3,1895.8 832.4,1898.9Q836.5,1902.0 834.8,1906.1Q833.1,1910.2 832.0,1914.4Q831.0,1918.6 828.6,1917.9Q826.3,1917.2 821.3,1918.5Q816.4,1919.9 814.8,1914.7ZM826.6,1927.8Q825.6,1931.9 822.6,1937.0Q819.6,1942.2 817.7,1941.7Q815.8,1941.3 811.5,1939.1Q807.2,1936.8 804.2,1936.2Q801.1,1935.6 797.7,1928.0Q794.2,1920.5 798.3,1920.1Q802.4,1919.6 806.2,1915.5Q810.0,1911.5 812.9,1913.6Q815.8,1915.8 820.4,1917.9Q824.9,1920.1 826.3,1921.9Q827.7,1923.7 826.6,1927.8ZM852.3,1932.7Q849.6,1935.8 850.0,1938.8Q850.3,1941.8 846.4,1944.7Q842.4,1947.7 840.3,1944.0Q838.1,1940.4 836.1,1939.2Q834.1,1938.1 832.2,1936.7Q830.3,1935.3 830.3,1931.3Q830.2,1927.4 834.4,1926.7Q838.7,1926.1 840.2,1926.1Q841.7,1926.2 847.3,1925.8Q853.0,1925.5 854.0,1927.5Q855.0,1929.6 852.3,1932.7ZM686.2,1941.9Q683.5,1941.3 683.7,1939.5Q683.9,1937.7 684.4,1936.1Q684.8,1934.6 686.3,1934.7Q687.7,1934.8 689.7,1935.7Q691.7,1936.5 690.6,1938.2Q689.5,1939.8 689.2,1941.1Q688.8,1942.5 686.2,1941.9Z"/></defs>
<g clip-path="url(#cs22)" fill="#900000" stroke-linejoin="round"><use href="#hs22" stroke="#18c8e8" stroke-width="5"/><use href="#hs22" stroke="#f0e020" stroke-width="3.2"/><use href="#hs22" stroke="#e83000" stroke-width="1.5"/><use href="#hs22"/></g>
<polygon points="441.48,1492.4 462.8,1492.4 462.8,1715.4 447.3,1715.4 435.67,1648.5 443.42,1581.6" fill="#0000A0" opacity="0.85"/>
<clipPath id="pc1488"><rect x="928.4" y="1488.8" width="321.7" height="209.6"/></clipPath>
<g clip-path="url(#pc1488)"><polygon points="942.58,1645.24 964.01,1626.88 986.87,1594.75 1009.73,1567.21 1032.59,1553.44 1055.45,1507.54 1078.31,1521.31 1101.17,1500.65 1124.03,1539.67 1146.89,1532.78 1166.89,1532.78 1189.75,1539.67 1212.62,1530.49 1235.47,1558.03 1235.47,1610.81 1212.62,1606.22 1189.75,1606.22 1166.89,1608.52 1146.89,1608.52 1124.03,1617.7 1101.17,1626.88 1078.31,1640.65 1055.45,1654.42 1032.59,1663.6 1009.73,1679.66 986.87,1677.37 964.01,1681.96 942.58,1688.84" fill="#0000ff" opacity="0.2"/><polygon points="942.58,1640.65 964.01,1606.22 986.87,1603.93 1009.73,1583.27 1032.59,1576.39 1055.45,1558.03 1078.31,1544.26 1101.17,1539.67 1124.03,1537.38 1146.89,1535.08 1166.89,1531.87 1189.75,1535.08 1212.62,1548.85 1235.47,1560.32 1235.47,1624.58 1212.62,1624.58 1189.75,1622.29 1166.89,1624.58 1146.89,1629.17 1124.03,1636.06 1101.17,1642.94 1078.31,1652.12 1055.45,1663.6 1032.59,1665.89 1009.73,1668.19 986.87,1681.96 964.01,1679.66 942.58,1686.55" fill="#ff0000" opacity="0.2"/><polyline points="942.58,1675.07 964.01,1661.3 986.87,1645.24 1009.73,1636.06 1032.59,1617.7 1055.45,1593.83 1078.31,1583.27 1101.17,1572.72 1124.03,1577.31 1146.89,1572.72 1166.89,1575.01 1189.75,1579.6 1212.62,1574.55 1235.47,1584.65" fill="none" stroke="#1a1aff" stroke-width="1.7" /><polyline points="942.58,1670.48 964.01,1653.5 986.87,1646.62 1009.73,1635.14 1032.59,1624.58 1055.45,1615.4 1078.31,1603.93 1101.17,1593.83 1124.03,1585.57 1146.89,1578.68 1166.89,1578.23 1189.75,1579.14 1212.62,1584.65 1235.47,1589.24" fill="none" stroke="#ff1a1a" stroke-width="1.7" /></g>
<rect x="928.4" y="1488.8" width="321.7" height="209.6" fill="none" stroke="#222" stroke-width="1"/>
<line x1="924.4" y1="1525.9" x2="928.4" y2="1525.9" stroke="#222" stroke-width="1" />
<text x="920.4" y="1529.7" font-family='"DejaVu Sans", sans-serif' font-size="10.6" fill="#222" text-anchor="end">0.4</text>
<line x1="924.4" y1="1571.8" x2="928.4" y2="1571.8" stroke="#222" stroke-width="1" />
<text x="920.4" y="1575.6" font-family='"DejaVu Sans", sans-serif' font-size="10.6" fill="#222" text-anchor="end">0.3</text>
<line x1="924.4" y1="1617.7" x2="928.4" y2="1617.7" stroke="#222" stroke-width="1" />
<text x="920.4" y="1621.5" font-family='"DejaVu Sans", sans-serif' font-size="10.6" fill="#222" text-anchor="end">0.2</text>
<line x1="924.4" y1="1663.6" x2="928.4" y2="1663.6" stroke="#222" stroke-width="1" />
<text x="920.4" y="1667.4" font-family='"DejaVu Sans", sans-serif' font-size="10.6" fill="#222" text-anchor="end">0.1</text>
<line x1="978.3" y1="1698.4" x2="978.3" y2="1702.4" stroke="#222" stroke-width="1" />
<text x="978.3" y="1713.6" font-family='"DejaVu Sans", sans-serif' font-size="10.6" fill="#222" text-anchor="middle">6</text>
<line x1="1035.45" y1="1698.4" x2="1035.45" y2="1702.4" stroke="#222" stroke-width="1" />
<text x="1035.45" y="1713.6" font-family='"DejaVu Sans", sans-serif' font-size="10.6" fill="#222" text-anchor="middle">8</text>
<line x1="1092.6" y1="1698.4" x2="1092.6" y2="1702.4" stroke="#222" stroke-width="1" />
<text x="1092.6" y="1713.6" font-family='"DejaVu Sans", sans-serif' font-size="10.6" fill="#222" text-anchor="middle">10</text>
<line x1="1149.75" y1="1698.4" x2="1149.75" y2="1702.4" stroke="#222" stroke-width="1" />
<text x="1149.75" y="1713.6" font-family='"DejaVu Sans", sans-serif' font-size="10.6" fill="#222" text-anchor="middle">12</text>
<line x1="1206.9" y1="1698.4" x2="1206.9" y2="1702.4" stroke="#222" stroke-width="1" />
<text x="1206.9" y="1713.6" font-family='"DejaVu Sans", sans-serif' font-size="10.6" fill="#222" text-anchor="middle">14</text>
<text x="1088.7" y="1727.9" font-family='"DejaVu Sans", sans-serif' font-size="10.6" fill="#222" text-anchor="middle">t (<tspan font-style="italic">ns</tspan>)</text>
<text x="1088.7" y="1474.1" font-family='"DejaVu Sans", sans-serif' font-size="13.3" fill="#111" text-anchor="middle">Hotspot Area Rate of Change (<tspan font-style="italic">Ȧ</tspan><tspan font-style="italic" font-size="9" dy="2.5">hs</tspan><tspan dy="-2.5">)</tspan></text>
<g transform="translate(897.5,1593.6) rotate(-90)"><text x="0" y="0" font-family='"DejaVu Sans", sans-serif' font-size="10.6" fill="#222" text-anchor="middle"><tspan font-style="italic">Ȧ</tspan><tspan font-style="italic" font-size="8" dy="2">hs</tspan><tspan dy="-2"> (</tspan><tspan font-style="italic">μm²/ns</tspan>)</text></g>
<rect x="934" y="1494.8" width="106.5" height="34" fill="#fff" rx="2" stroke="#ccc" stroke-width="1" opacity="0.9"/>
<line x1="941" y1="1504.3" x2="962" y2="1504.3" stroke="#1a1aff" stroke-width="1.7" />
<text x="968" y="1508" font-family='"DejaVu Sans", sans-serif' font-size="10.3" fill="#222">Ground truth</text>
<line x1="941" y1="1519.8" x2="962" y2="1519.8" stroke="#ff1a1a" stroke-width="1.7" />
<text x="968" y="1523.6" font-family='"DejaVu Sans", sans-serif' font-size="10.3" fill="#222">Prediction</text>
<clipPath id="pc1749"><rect x="928.4" y="1749" width="321.7" height="209.6"/></clipPath>
<g clip-path="url(#pc1749)"><polygon points="942.58,1778.44 964.01,1847.12 986.87,1852.47 1009.73,1768.15 1032.59,1758.69 1055.45,1817.51 1078.31,1840.13 1101.17,1870.98 1124.03,1879.21 1146.89,1891.54 1166.89,1887.43 1189.75,1895.66 1212.62,1912.11 1235.47,1916.22 1235.47,1933.5 1212.62,1926.5 1189.75,1926.5 1166.89,1929.38 1146.89,1918.28 1124.03,1923.63 1101.17,1914.17 1078.31,1908 1055.45,1879.21 1032.59,1846.3 1009.73,1864.81 986.87,1947.07 964.01,1948.3 942.58,1949.13" fill="#0000ff" opacity="0.2"/><polygon points="942.58,1842.19 964.01,1848.36 986.87,1805.17 1009.73,1782.55 1032.59,1796.95 1055.45,1821.62 1078.31,1848.36 1101.17,1864.81 1124.03,1873.04 1146.89,1877.15 1166.89,1870.98 1189.75,1883.32 1212.62,1891.54 1235.47,1898.54 1235.47,1912.93 1212.62,1908 1189.75,1901.83 1166.89,1899.77 1146.89,1895.66 1124.03,1891.54 1101.17,1883.32 1078.31,1875.09 1055.45,1858.64 1032.59,1856.58 1009.73,1846.3 986.87,1844.24 964.01,1908 942.58,1916.22" fill="#ff0000" opacity="0.2"/><polyline points="942.58,1854.53 964.01,1888.25 986.87,1900.59 1009.73,1816.69 1032.59,1794.89 1055.45,1842.19 1078.31,1873.04 1101.17,1893.6 1124.03,1901.83 1146.89,1910.05 1166.89,1906.76 1189.75,1911.29 1212.62,1921.16 1235.47,1924.45" fill="none" stroke="#1a1aff" stroke-width="1.7" /><polyline points="942.58,1880.03 964.01,1866.04 986.87,1824.5 1009.73,1820.39 1032.59,1826.97 1055.45,1840.13 1078.31,1860.7 1101.17,1875.09 1124.03,1881.26 1146.89,1886.2 1166.89,1887.43 1189.75,1894.83 1212.62,1899.77 1235.47,1906.35" fill="none" stroke="#ff1a1a" stroke-width="1.7" /></g>
<rect x="928.4" y="1749" width="321.7" height="209.6" fill="none" stroke="#222" stroke-width="1"/>
<line x1="924.4" y1="1776.38" x2="928.4" y2="1776.38" stroke="#222" stroke-width="1" />
<text x="920.4" y="1780.18" font-family='"DejaVu Sans", sans-serif' font-size="10.6" fill="#222" text-anchor="end">400</text>
<line x1="924.4" y1="1817.51" x2="928.4" y2="1817.51" stroke="#222" stroke-width="1" />
<text x="920.4" y="1821.31" font-family='"DejaVu Sans", sans-serif' font-size="10.6" fill="#222" text-anchor="end">300</text>
<line x1="924.4" y1="1858.64" x2="928.4" y2="1858.64" stroke="#222" stroke-width="1" />
<text x="920.4" y="1862.44" font-family='"DejaVu Sans", sans-serif' font-size="10.6" fill="#222" text-anchor="end">200</text>
<line x1="924.4" y1="1899.77" x2="928.4" y2="1899.77" stroke="#222" stroke-width="1" />
<text x="920.4" y="1903.57" font-family='"DejaVu Sans", sans-serif' font-size="10.6" fill="#222" text-anchor="end">100</text>
<line x1="924.4" y1="1940.9" x2="928.4" y2="1940.9" stroke="#222" stroke-width="1" />
<text x="920.4" y="1944.7" font-family='"DejaVu Sans", sans-serif' font-size="10.6" fill="#222" text-anchor="end">0</text>
<line x1="978.3" y1="1958.6" x2="978.3" y2="1962.6" stroke="#222" stroke-width="1" />
<text x="978.3" y="1973.8" font-family='"DejaVu Sans", sans-serif' font-size="10.6" fill="#222" text-anchor="middle">6</text>
<line x1="1035.45" y1="1958.6" x2="1035.45" y2="1962.6" stroke="#222" stroke-width="1" />
<text x="1035.45" y="1973.8" font-family='"DejaVu Sans", sans-serif' font-size="10.6" fill="#222" text-anchor="middle">8</text>
<line x1="1092.6" y1="1958.6" x2="1092.6" y2="1962.6" stroke="#222" stroke-width="1" />
<text x="1092.6" y="1973.8" font-family='"DejaVu Sans", sans-serif' font-size="10.6" fill="#222" text-anchor="middle">10</text>
<line x1="1149.75" y1="1958.6" x2="1149.75" y2="1962.6" stroke="#222" stroke-width="1" />
<text x="1149.75" y="1973.8" font-family='"DejaVu Sans", sans-serif' font-size="10.6" fill="#222" text-anchor="middle">12</text>
<line x1="1206.9" y1="1958.6" x2="1206.9" y2="1962.6" stroke="#222" stroke-width="1" />
<text x="1206.9" y="1973.8" font-family='"DejaVu Sans", sans-serif' font-size="10.6" fill="#222" text-anchor="middle">14</text>
<text x="1088.7" y="1988.1" font-family='"DejaVu Sans", sans-serif' font-size="10.6" fill="#222" text-anchor="middle">t (<tspan font-style="italic">ns</tspan>)</text>
<text x="1088.7" y="1734.3" font-family='"DejaVu Sans", sans-serif' font-size="13.3" fill="#111" text-anchor="middle">Ave. Hotspot Temperature Rate of Change (<tspan font-style="italic">Ṫ</tspan><tspan font-style="italic" font-size="9" dy="2.5">hs</tspan><tspan dy="-2.5">)</tspan></text>
<g transform="translate(897.5,1853.8) rotate(-90)"><text x="0" y="0" font-family='"DejaVu Sans", sans-serif' font-size="10.6" fill="#222" text-anchor="middle"><tspan font-style="italic">Ṫ</tspan><tspan font-style="italic" font-size="8" dy="2">hs</tspan><tspan dy="-2"> (</tspan><tspan font-style="italic">K/ns</tspan>)</text></g>
<rect x="1138.4" y="1754.4" width="106.5" height="34" fill="#fff" rx="2" stroke="#ccc" stroke-width="1" opacity="0.9"/>
<line x1="1145.4" y1="1763.9" x2="1166.4" y2="1763.9" stroke="#1a1aff" stroke-width="1.7" />
<text x="1172.4" y="1767.6" font-family='"DejaVu Sans", sans-serif' font-size="10.3" fill="#222">Ground truth</text>
<line x1="1145.4" y1="1779.4" x2="1166.4" y2="1779.4" stroke="#ff1a1a" stroke-width="1.7" />
<text x="1172.4" y="1783.2" font-family='"DejaVu Sans", sans-serif' font-size="10.3" fill="#222">Prediction</text>
<!-- left_d -->
<text x="114.3" y="2068.9" font-family='"Liberation Sans", sans-serif' font-size="37.8" font-style="italic" textLength="885.8" lengthAdjust="spacingAndGlyphs">B. Learning vs Inductive Bias for Physics-Awareness</text>
<text x="135.6" y="2137.7" font-family='"Liberation Serif", serif' font-size="25" textLength="80.4" lengthAdjust="spacingAndGlyphs">(PINN)</text>
<line x1="261.4" y1="2119.3" x2="237.2" y2="2180" stroke="#3a3a3a" stroke-width="1.9" />
<line x1="261.4" y1="2119.3" x2="283.7" y2="2180" stroke="#3a3a3a" stroke-width="1.9" />
<line x1="261.4" y1="2119.3" x2="330.1" y2="2180" stroke="#3a3a3a" stroke-width="1.9" />
<line x1="261.4" y1="2119.3" x2="375.9" y2="2180" stroke="#3a3a3a" stroke-width="1.9" />
<line x1="307.2" y1="2119.3" x2="237.2" y2="2180" stroke="#3a3a3a" stroke-width="1.9" />
<line x1="307.2" y1="2119.3" x2="283.7" y2="2180" stroke="#3a3a3a" stroke-width="1.9" />
<line x1="307.2" y1="2119.3" x2="330.1" y2="2180" stroke="#3a3a3a" stroke-width="1.9" />
<line x1="307.2" y1="2119.3" x2="375.9" y2="2180" stroke="#3a3a3a" stroke-width="1.9" />
<line x1="354" y1="2119.3" x2="237.2" y2="2180" stroke="#3a3a3a" stroke-width="1.9" />
<line x1="354" y1="2119.3" x2="283.7" y2="2180" stroke="#3a3a3a" stroke-width="1.9" />
<line x1="354" y1="2119.3" x2="330.1" y2="2180" stroke="#3a3a3a" stroke-width="1.9" />
<line x1="354" y1="2119.3" x2="375.9" y2="2180" stroke="#3a3a3a" stroke-width="1.9" />
<circle cx="261.4" cy="2119.3" r="14.3" fill="#FFC000" stroke="#3a3a3a" stroke-width="1.5"/>
<circle cx="307.2" cy="2119.3" r="14.3" fill="#FFC000" stroke="#3a3a3a" stroke-width="1.5"/>
<circle cx="354" cy="2119.3" r="14.3" fill="#FFC000" stroke="#3a3a3a" stroke-width="1.5"/>
<circle cx="237.2" cy="2180" r="14.3" fill="#FFE083" stroke="#3a3a3a" stroke-width="1.5"/>
<circle cx="283.7" cy="2180" r="14.3" fill="#FFE083" stroke="#3a3a3a" stroke-width="1.5"/>
<circle cx="330.1" cy="2180" r="14.3" fill="#FFE083" stroke="#3a3a3a" stroke-width="1.5"/>
<circle cx="375.9" cy="2180" r="14.3" fill="#FFE083" stroke="#3a3a3a" stroke-width="1.5"/>
<line x1="237.2" y1="2194.3" x2="183.2" y2="2328.6" stroke="#3a3a3a" stroke-width="2" />
<line x1="375.9" y1="2194.3" x2="421.7" y2="2283.1" stroke="#3a3a3a" stroke-width="2" />
<polygon points="211.8,2284 421.7,2284 348.6,2409 137,2409" fill="#E4E4E4" stroke="#3a3a3a" stroke-width="1.8"/>
<path d="M186.3,2389.0 C192.0,2402.0 204.0,2402.0 219.1,2375.7 S240.0,2348.0 249.0,2346.1 S290.0,2338.0 300.2,2351.5 S305.0,2356.0 307.2,2360.4" fill="none" stroke="#3a3a3a" stroke-width="1.6"/>
<path d="M286.5,2307.3 C291.0,2303.0 296.0,2301.0 300.2,2300.6 S322.0,2302.0 331.7,2315.9 S344.0,2336.0 347.0,2346.4 S353.0,2363.0 354.9,2369.9" fill="none" stroke="#3a3a3a" stroke-width="1.6"/>
<line x1="226.55" y1="2379.8" x2="245.05" y2="2390" stroke="#444" stroke-width="1.3" />
<polygon points="222.6,2377.63 225.44,2381.82 227.65,2377.79" fill="#444"/>
<polygon points="249,2392.17 243.95,2392.01 246.16,2387.98" fill="#444"/>
<line x1="252.8" y1="2353.7" x2="257.9" y2="2363.9" stroke="#444" stroke-width="1.3" />
<polygon points="250.79,2349.68 250.74,2354.73 254.86,2352.67" fill="#444"/>
<polygon points="259.91,2367.92 255.84,2364.93 259.96,2362.87" fill="#444"/>
<line x1="293.58" y1="2356.84" x2="288.72" y2="2360.76" stroke="#444" stroke-width="1.3" />
<polygon points="297.09,2354.01 292.14,2355.05 295.03,2358.63" fill="#444"/>
<polygon points="285.21,2363.59 287.27,2358.97 290.16,2362.55" fill="#444"/>
<line x1="299.27" y1="2309.05" x2="298.63" y2="2314.75" stroke="#444" stroke-width="1.3" />
<polygon points="299.76,2304.58 296.98,2308.8 301.55,2309.3" fill="#444"/>
<polygon points="298.14,2319.22 296.35,2314.5 300.92,2315" fill="#444"/>
<line x1="327.41" y1="2323.24" x2="324.29" y2="2328.56" stroke="#444" stroke-width="1.3" />
<polygon points="329.68,2319.35 325.42,2322.08 329.39,2324.4" fill="#444"/>
<polygon points="322.02,2332.45 322.31,2327.4 326.28,2329.72" fill="#444"/>
<line x1="345.36" y1="2354.74" x2="343.24" y2="2365.46" stroke="#444" stroke-width="1.3" />
<polygon points="346.23,2350.32 343.1,2354.29 347.61,2355.18" fill="#444"/>
<polygon points="342.37,2369.88 340.99,2365.02 345.5,2365.91" fill="#444"/>
<circle cx="186.3" cy="2389" r="4" fill="#111" stroke="#111" stroke-width="1.3"/>
<circle cx="286.5" cy="2307.3" r="4" fill="#111" stroke="#111" stroke-width="1.3"/>
<circle cx="219.1" cy="2375.7" r="3.6" fill="#FF1010" stroke="#111" stroke-width="1.3"/>
<circle cx="249" cy="2346.1" r="3.6" fill="#FF1010" stroke="#111" stroke-width="1.3"/>
<circle cx="300.2" cy="2351.5" r="3.6" fill="#FF1010" stroke="#111" stroke-width="1.3"/>
<circle cx="300.2" cy="2300.6" r="3.6" fill="#FF1010" stroke="#111" stroke-width="1.3"/>
<circle cx="331.7" cy="2315.9" r="3.6" fill="#FF1010" stroke="#111" stroke-width="1.3"/>
<circle cx="347" cy="2346.4" r="3.6" fill="#FF1010" stroke="#111" stroke-width="1.3"/>
<circle cx="252.5" cy="2394.1" r="3.6" fill="#1CB0F0" stroke="#111" stroke-width="1.3"/>
<circle cx="261.7" cy="2371.5" r="3.6" fill="#1CB0F0" stroke="#111" stroke-width="1.3"/>
<circle cx="282.1" cy="2366.1" r="3.6" fill="#1CB0F0" stroke="#111" stroke-width="1.3"/>
<circle cx="297.7" cy="2323.2" r="3.6" fill="#1CB0F0" stroke="#111" stroke-width="1.3"/>
<circle cx="320" cy="2335.9" r="3.6" fill="#1CB0F0" stroke="#111" stroke-width="1.3"/>
<circle cx="341.6" cy="2373.8" r="3.6" fill="#1CB0F0" stroke="#111" stroke-width="1.3"/>
<text x="259" y="2311" font-family='"Liberation Serif", serif' font-size="25"><tspan font-style="italic">v</tspan><tspan font-size="16" dy="4">0</tspan></text>
<text x="361.3" y="2342.9" font-family='"Liberation Serif", serif' font-size="25"><tspan font-style="italic">v</tspan><tspan font-style="italic" font-size="16" dy="-10">t</tspan></text>
<text x="188" y="2371.5" font-family='"Liberation Serif", serif' font-size="25"><tspan font-style="italic">u</tspan><tspan font-size="16" dy="4">0</tspan></text>
<text x="304.7" y="2377.9" font-family='"Liberation Serif", serif' font-size="25"><tspan font-style="italic">u</tspan><tspan font-style="italic" font-size="16" dy="-10">t</tspan></text>
<text x="375.6" y="2400.2" font-family='"Liberation Serif", serif' font-size="24" font-style="italic">U</text>
<line x1="224.5" y1="2451" x2="252.5" y2="2394.1" stroke="#222" stroke-width="1.6" stroke-dasharray="1.6 3.2"/>
<line x1="224.5" y1="2451" x2="282.1" y2="2366.1" stroke="#222" stroke-width="1.6" stroke-dasharray="1.6 3.2"/>
<line x1="224.5" y1="2451" x2="341.6" y2="2373.8" stroke="#222" stroke-width="1.6" stroke-dasharray="1.6 3.2"/>
<line x1="224.5" y1="2451" x2="232.5" y2="2389" stroke="#222" stroke-width="1.6" stroke-dasharray="1.6 3.2"/>
<line x1="366.1" y1="2508.3" x2="209.6" y2="2321.6" stroke="#222" stroke-width="1.6" stroke-dasharray="1.6 3.2"/>
<line x1="366.1" y1="2508.3" x2="319" y2="2405" stroke="#222" stroke-width="1.6" stroke-dasharray="1.6 3.2"/>
<polyline points="366.1,2508.3 364.5,2380 364.5,2299.3" fill="none" stroke="#222" stroke-width="1.6" stroke-dasharray="1.6 3.2"/>
<polygon points="211.8,2284 421.7,2284 348.6,2409 137,2409" fill="#E4E4E4" opacity="0.55"/>
<polygon points="211.8,2284 421.7,2284 348.6,2409 137,2409" fill="#E4E4E4" stroke="#3a3a3a" stroke-width="1.8"/>
<path d="M186.3,2389.0 C192.0,2402.0 204.0,2402.0 219.1,2375.7 S240.0,2348.0 249.0,2346.1 S290.0,2338.0 300.2,2351.5 S305.0,2356.0 307.2,2360.4" fill="none" stroke="#3a3a3a" stroke-width="1.6"/>
<path d="M286.5,2307.3 C291.0,2303.0 296.0,2301.0 300.2,2300.6 S322.0,2302.0 331.7,2315.9 S344.0,2336.0 347.0,2346.4 S353.0,2363.0 354.9,2369.9" fill="none" stroke="#3a3a3a" stroke-width="1.6"/>
<line x1="226.55" y1="2379.8" x2="245.05" y2="2390" stroke="#444" stroke-width="1.3" />
<polygon points="222.6,2377.63 225.44,2381.82 227.65,2377.79" fill="#444"/>
<polygon points="249,2392.17 243.95,2392.01 246.16,2387.98" fill="#444"/>
<line x1="252.8" y1="2353.7" x2="257.9" y2="2363.9" stroke="#444" stroke-width="1.3" />
<polygon points="250.79,2349.68 250.74,2354.73 254.86,2352.67" fill="#444"/>
<polygon points="259.91,2367.92 255.84,2364.93 259.96,2362.87" fill="#444"/>
<line x1="293.58" y1="2356.84" x2="288.72" y2="2360.76" stroke="#444" stroke-width="1.3" />
<polygon points="297.09,2354.01 292.14,2355.05 295.03,2358.63" fill="#444"/>
<polygon points="285.21,2363.59 287.27,2358.97 290.16,2362.55" fill="#444"/>
<line x1="299.27" y1="2309.05" x2="298.63" y2="2314.75" stroke="#444" stroke-width="1.3" />
<polygon points="299.76,2304.58 296.98,2308.8 301.55,2309.3" fill="#444"/>
<polygon points="298.14,2319.22 296.35,2314.5 300.92,2315" fill="#444"/>
<line x1="327.41" y1="2323.24" x2="324.29" y2="2328.56" stroke="#444" stroke-width="1.3" />
<polygon points="329.68,2319.35 325.42,2322.08 329.39,2324.4" fill="#444"/>
<polygon points="322.02,2332.45 322.31,2327.4 326.28,2329.72" fill="#444"/>
<line x1="345.36" y1="2354.74" x2="343.24" y2="2365.46" stroke="#444" stroke-width="1.3" />
<polygon points="346.23,2350.32 343.1,2354.29 347.61,2355.18" fill="#444"/>
<polygon points="342.37,2369.88 340.99,2365.02 345.5,2365.91" fill="#444"/>
<circle cx="186.3" cy="2389" r="4" fill="#111" stroke="#111" stroke-width="1.3"/>
<circle cx="286.5" cy="2307.3" r="4" fill="#111" stroke="#111" stroke-width="1.3"/>
<circle cx="219.1" cy="2375.7" r="3.6" fill="#FF1010" stroke="#111" stroke-width="1.3"/>
<circle cx="249" cy="2346.1" r="3.6" fill="#FF1010" stroke="#111" stroke-width="1.3"/>
<circle cx="300.2" cy="2351.5" r="3.6" fill="#FF1010" stroke="#111" stroke-width="1.3"/>
<circle cx="300.2" cy="2300.6" r="3.6" fill="#FF1010" stroke="#111" stroke-width="1.3"/>
<circle cx="331.7" cy="2315.9" r="3.6" fill="#FF1010" stroke="#111" stroke-width="1.3"/>
<circle cx="347" cy="2346.4" r="3.6" fill="#FF1010" stroke="#111" stroke-width="1.3"/>
<circle cx="252.5" cy="2394.1" r="3.6" fill="#1CB0F0" stroke="#111" stroke-width="1.3"/>
<circle cx="261.7" cy="2371.5" r="3.6" fill="#1CB0F0" stroke="#111" stroke-width="1.3"/>
<circle cx="282.1" cy="2366.1" r="3.6" fill="#1CB0F0" stroke="#111" stroke-width="1.3"/>
<circle cx="297.7" cy="2323.2" r="3.6" fill="#1CB0F0" stroke="#111" stroke-width="1.3"/>
<circle cx="320" cy="2335.9" r="3.6" fill="#1CB0F0" stroke="#111" stroke-width="1.3"/>
<circle cx="341.6" cy="2373.8" r="3.6" fill="#1CB0F0" stroke="#111" stroke-width="1.3"/>
<text x="259" y="2311" font-family='"Liberation Serif", serif' font-size="25"><tspan font-style="italic">v</tspan><tspan font-size="16" dy="4">0</tspan></text>
<text x="361.3" y="2342.9" font-family='"Liberation Serif", serif' font-size="25"><tspan font-style="italic">v</tspan><tspan font-style="italic" font-size="16" dy="-10">t</tspan></text>
<text x="188" y="2371.5" font-family='"Liberation Serif", serif' font-size="25"><tspan font-style="italic">u</tspan><tspan font-size="16" dy="4">0</tspan></text>
<text x="304.7" y="2377.9" font-family='"Liberation Serif", serif' font-size="25"><tspan font-style="italic">u</tspan><tspan font-style="italic" font-size="16" dy="-10">t</tspan></text>
<text x="375.6" y="2400.2" font-family='"Liberation Serif", serif' font-size="24" font-style="italic">U</text>
<line x1="209.6" y1="2321.6" x2="244.07" y2="2269.99" stroke="#FF1010" stroke-width="1.9" /><polygon points="247.4,2265 246.01,2272.49 241.02,2269.16" fill="#FF1010"/>
<line x1="360.4" y1="2299.3" x2="399.35" y2="2308.17" stroke="#FF1010" stroke-width="1.9" /><polygon points="405.2,2309.5 397.71,2310.87 399.04,2305.02" fill="#FF1010"/>
<line x1="281.8" y1="2394.7" x2="322.34" y2="2403.61" stroke="#FF1010" stroke-width="1.9" /><polygon points="328.2,2404.9 320.72,2406.33 322.01,2400.47" fill="#FF1010"/>
<rect x="132.9" y="2452.6" width="180.7" height="47.8" fill="#58595B" rx="7" stroke="#16202c" stroke-width="2"/>
<text x="223.25" y="2485.2" font-family='"Liberation Sans", sans-serif' font-size="22.5" fill="#fff" text-anchor="middle">Data Loss</text>
<rect x="285.9" y="2510.9" width="164.5" height="47.7" fill="#58595B" rx="7" stroke="#16202c" stroke-width="2"/>
<text x="368.15" y="2543.5" font-family='"Liberation Sans", sans-serif' font-size="22.5" fill="#fff" text-anchor="middle">PDE Loss</text>
<text x="478.6" y="2137.7" font-family='"Liberation Serif", serif' font-size="25" textLength="201" lengthAdjust="spacingAndGlyphs">(Neural Operators)</text>
<line x1="713.5" y1="2119.3" x2="689.6" y2="2180" stroke="#3a3a3a" stroke-width="1.9" />
<line x1="713.5" y1="2119.3" x2="735.8" y2="2180" stroke="#3a3a3a" stroke-width="1.9" />
<line x1="713.5" y1="2119.3" x2="781.9" y2="2180" stroke="#3a3a3a" stroke-width="1.9" />
<line x1="713.5" y1="2119.3" x2="828.1" y2="2180" stroke="#3a3a3a" stroke-width="1.9" />
<line x1="759.6" y1="2119.3" x2="689.6" y2="2180" stroke="#3a3a3a" stroke-width="1.9" />
<line x1="759.6" y1="2119.3" x2="735.8" y2="2180" stroke="#3a3a3a" stroke-width="1.9" />
<line x1="759.6" y1="2119.3" x2="781.9" y2="2180" stroke="#3a3a3a" stroke-width="1.9" />
<line x1="759.6" y1="2119.3" x2="828.1" y2="2180" stroke="#3a3a3a" stroke-width="1.9" />
<line x1="806.4" y1="2119.3" x2="689.6" y2="2180" stroke="#3a3a3a" stroke-width="1.9" />
<line x1="806.4" y1="2119.3" x2="735.8" y2="2180" stroke="#3a3a3a" stroke-width="1.9" />
<line x1="806.4" y1="2119.3" x2="781.9" y2="2180" stroke="#3a3a3a" stroke-width="1.9" />
<line x1="806.4" y1="2119.3" x2="828.1" y2="2180" stroke="#3a3a3a" stroke-width="1.9" />
<circle cx="713.5" cy="2119.3" r="14.3" fill="#FFC000" stroke="#3a3a3a" stroke-width="1.5"/>
<circle cx="759.6" cy="2119.3" r="14.3" fill="#FFC000" stroke="#3a3a3a" stroke-width="1.5"/>
<circle cx="806.4" cy="2119.3" r="14.3" fill="#FFC000" stroke="#3a3a3a" stroke-width="1.5"/>
<circle cx="689.6" cy="2180" r="14.3" fill="#FFE083" stroke="#3a3a3a" stroke-width="1.5"/>
<circle cx="735.8" cy="2180" r="14.3" fill="#FFE083" stroke="#3a3a3a" stroke-width="1.5"/>
<circle cx="781.9" cy="2180" r="14.3" fill="#FFE083" stroke="#3a3a3a" stroke-width="1.5"/>
<circle cx="828.1" cy="2180" r="14.3" fill="#FFE083" stroke="#3a3a3a" stroke-width="1.5"/>
<polygon points="677,2354.2 886.9,2354.2 813.8,2479.2 602.2,2479.2" fill="#E4E4E4" stroke="#3a3a3a" stroke-width="1.8"/>
<path d="M606.9,2341.4 Q640.0,2290.0 664.1,2249.1 C724.6,2218.0 815.0,2200.0 875.8,2250.7 Q845.0,2290.0 836.0,2343.0 C772.4,2305.0 672.0,2308.0 606.9,2341.4Z" fill="#E4E4E4" stroke="#3a3a3a" stroke-width="1.8" stroke-linejoin="miter"/>
<line x1="735.8" y1="2194.3" x2="692.8" y2="2298.5" stroke="#3a3a3a" stroke-width="1.9" />
<line x1="735.8" y1="2194.3" x2="754.2" y2="2259.6" stroke="#3a3a3a" stroke-width="1.9" />
<line x1="735.8" y1="2194.3" x2="816" y2="2237.4" stroke="#3a3a3a" stroke-width="1.9" />
<line x1="781.9" y1="2194.3" x2="692.8" y2="2298.5" stroke="#3a3a3a" stroke-width="1.9" />
<line x1="781.9" y1="2194.3" x2="754.2" y2="2259.6" stroke="#3a3a3a" stroke-width="1.9" />
<line x1="781.9" y1="2194.3" x2="816" y2="2237.4" stroke="#3a3a3a" stroke-width="1.9" />
<line x1="828.1" y1="2194.3" x2="754.2" y2="2259.6" stroke="#3a3a3a" stroke-width="1.9" />
<line x1="828.1" y1="2194.3" x2="816" y2="2237.4" stroke="#3a3a3a" stroke-width="1.9" />
<path d="M661.0,2293.1 Q675.0,2299.1 692.8,2298.5 C717.8,2293.5 736.2,2279.6 754.2,2259.6 S791.0,2239.4 816.0,2237.4 S858.0,2243.0 863.0,2255.5" fill="none" stroke="#3a3a3a" stroke-width="1.6"/>
<circle cx="661" cy="2293.1" r="4.2" fill="#111" stroke="#111" stroke-width="1.3"/>
<text x="676.5" y="2277.8" font-family='"Liberation Serif", serif' font-size="25" font-style="italic">e</text>
<text x="832.8" y="2274.6" font-family='"Liberation Serif", serif' font-size="25"><tspan font-style="italic">g</tspan><tspan font-style="italic" font-size="16" dy="-11">t</tspan></text>
<text x="851" y="2326.2" font-family='"Liberation Serif", serif' font-size="24" font-style="italic">G</text>
<circle cx="692.8" cy="2298.5" r="5" fill="#FF1010" stroke="#333" stroke-width="1.2"/>
<circle cx="754.2" cy="2259.6" r="5" fill="#FF1010" stroke="#333" stroke-width="1.2"/>
<circle cx="816" cy="2237.4" r="5" fill="#FF1010" stroke="#333" stroke-width="1.2"/>
<polygon points="677,2354.2 886.9,2354.2 813.8,2479.2 602.2,2479.2" fill="#E4E4E4" stroke="#3a3a3a" stroke-width="1.8"/>
<path d="M651.5,2459.2 C657.2,2472.2 669.2,2472.2 684.3,2445.9 S705.2,2418.2 714.2,2416.3 S755.2,2408.2 765.4,2421.7 S770.2,2426.2 772.4,2430.6" fill="none" stroke="#3a3a3a" stroke-width="1.6"/>
<path d="M751.7,2377.5 C756.2,2373.2 761.2,2371.2 765.4,2370.8 S787.2,2372.2 796.9,2386.1 S809.2,2406.2 812.2,2416.6 S818.2,2433.2 820.1,2440.1" fill="none" stroke="#3a3a3a" stroke-width="1.6"/>
<line x1="691.75" y1="2450" x2="710.25" y2="2460.2" stroke="#444" stroke-width="1.3" />
<polygon points="687.8,2447.83 690.64,2452.02 692.85,2447.99" fill="#444"/>
<polygon points="714.2,2462.37 709.15,2462.21 711.36,2458.18" fill="#444"/>
<line x1="718" y1="2423.9" x2="723.1" y2="2434.1" stroke="#444" stroke-width="1.3" />
<polygon points="715.99,2419.88 715.94,2424.93 720.06,2422.87" fill="#444"/>
<polygon points="725.11,2438.12 721.04,2435.13 725.16,2433.07" fill="#444"/>
<line x1="758.78" y1="2427.04" x2="753.92" y2="2430.96" stroke="#444" stroke-width="1.3" />
<polygon points="762.29,2424.21 757.34,2425.25 760.23,2428.83" fill="#444"/>
<polygon points="750.41,2433.79 752.47,2429.17 755.36,2432.75" fill="#444"/>
<line x1="764.47" y1="2379.25" x2="763.83" y2="2384.95" stroke="#444" stroke-width="1.3" />
<polygon points="764.96,2374.78 762.18,2379 766.75,2379.5" fill="#444"/>
<polygon points="763.34,2389.42 761.55,2384.7 766.12,2385.2" fill="#444"/>
<line x1="792.61" y1="2393.44" x2="789.49" y2="2398.76" stroke="#444" stroke-width="1.3" />
<polygon points="794.88,2389.55 790.62,2392.28 794.59,2394.6" fill="#444"/>
<polygon points="787.22,2402.65 787.51,2397.6 791.48,2399.92" fill="#444"/>
<line x1="810.56" y1="2424.94" x2="808.44" y2="2435.66" stroke="#444" stroke-width="1.3" />
<polygon points="811.43,2420.52 808.3,2424.49 812.81,2425.38" fill="#444"/>
<polygon points="807.57,2440.08 806.19,2435.22 810.7,2436.11" fill="#444"/>
<circle cx="651.5" cy="2459.2" r="4" fill="#111" stroke="#111" stroke-width="1.3"/>
<circle cx="751.7" cy="2377.5" r="4" fill="#111" stroke="#111" stroke-width="1.3"/>
<circle cx="684.3" cy="2445.9" r="3.6" fill="#FF1010" stroke="#111" stroke-width="1.3"/>
<circle cx="714.2" cy="2416.3" r="3.6" fill="#FF1010" stroke="#111" stroke-width="1.3"/>
<circle cx="765.4" cy="2421.7" r="3.6" fill="#FF1010" stroke="#111" stroke-width="1.3"/>
<circle cx="765.4" cy="2370.8" r="3.6" fill="#FF1010" stroke="#111" stroke-width="1.3"/>
<circle cx="796.9" cy="2386.1" r="3.6" fill="#FF1010" stroke="#111" stroke-width="1.3"/>
<circle cx="812.2" cy="2416.6" r="3.6" fill="#FF1010" stroke="#111" stroke-width="1.3"/>
<circle cx="717.7" cy="2464.3" r="3.6" fill="#1CB0F0" stroke="#111" stroke-width="1.3"/>
<circle cx="726.9" cy="2441.7" r="3.6" fill="#1CB0F0" stroke="#111" stroke-width="1.3"/>
<circle cx="747.3" cy="2436.3" r="3.6" fill="#1CB0F0" stroke="#111" stroke-width="1.3"/>
<circle cx="762.9" cy="2393.4" r="3.6" fill="#1CB0F0" stroke="#111" stroke-width="1.3"/>
<circle cx="785.2" cy="2406.1" r="3.6" fill="#1CB0F0" stroke="#111" stroke-width="1.3"/>
<circle cx="806.8" cy="2444" r="3.6" fill="#1CB0F0" stroke="#111" stroke-width="1.3"/>
<text x="724.2" y="2381.2" font-family='"Liberation Serif", serif' font-size="25"><tspan font-style="italic">v</tspan><tspan font-size="16" dy="4">0</tspan></text>
<text x="826.5" y="2413.1" font-family='"Liberation Serif", serif' font-size="25"><tspan font-style="italic">v</tspan><tspan font-style="italic" font-size="16" dy="-10">t</tspan></text>
<text x="653.2" y="2441.7" font-family='"Liberation Serif", serif' font-size="25"><tspan font-style="italic">u</tspan><tspan font-size="16" dy="4">0</tspan></text>
<text x="769.9" y="2448.1" font-family='"Liberation Serif", serif' font-size="25"><tspan font-style="italic">u</tspan><tspan font-style="italic" font-size="16" dy="-10">t</tspan></text>
<text x="840.8" y="2470.4" font-family='"Liberation Serif", serif' font-size="24" font-style="italic">U</text>
<line x1="692.8" y1="2304.5" x2="684.3" y2="2440.9" stroke="#3a3a3a" stroke-width="1.7" stroke-dasharray="9 6"/>
<line x1="695.8" y1="2304.5" x2="761.4" y2="2366.8" stroke="#3a3a3a" stroke-width="1.7" stroke-dasharray="9 6"/>
<line x1="816" y1="2243.4" x2="812.2" y2="2411.6" stroke="#3a3a3a" stroke-width="1.7" stroke-dasharray="9 6"/>
<line x1="814" y1="2243.4" x2="767.4" y2="2415.7" stroke="#777" stroke-width="1.7" stroke-dasharray="9 6"/>
<line x1="743.7" y1="2510.1" x2="717.7" y2="2467.3" stroke="#444" stroke-width="1.5" stroke-dasharray="1.6 3.2"/>
<line x1="743.7" y1="2510.1" x2="726.9" y2="2444.7" stroke="#444" stroke-width="1.5" stroke-dasharray="1.6 3.2"/>
<line x1="743.7" y1="2510.1" x2="747.3" y2="2439.3" stroke="#444" stroke-width="1.5" stroke-dasharray="1.6 3.2"/>
<line x1="743.7" y1="2510.1" x2="762.9" y2="2396.4" stroke="#444" stroke-width="1.5" stroke-dasharray="1.6 3.2"/>
<line x1="743.7" y1="2510.1" x2="785.2" y2="2409.1" stroke="#444" stroke-width="1.5" stroke-dasharray="1.6 3.2"/>
<line x1="743.7" y1="2510.1" x2="806.8" y2="2447" stroke="#444" stroke-width="1.5" stroke-dasharray="1.6 3.2"/>
<rect x="668.9" y="2511.1" width="151.2" height="47.7" fill="#58595B" rx="7" stroke="#16202c" stroke-width="2"/>
<text x="744.5" y="2543.7" font-family='"Liberation Sans", sans-serif' font-size="22.5" fill="#fff" text-anchor="middle">Loss</text>
<text x="988.4" y="2137.7" font-family='"Liberation Serif", serif' font-size="25" textLength="82.8" lengthAdjust="spacingAndGlyphs">(PARC)</text>
<line x1="1176.2" y1="2119.3" x2="1152.3" y2="2180" stroke="#3a3a3a" stroke-width="1.9" />
<line x1="1176.2" y1="2119.3" x2="1198.4" y2="2180" stroke="#3a3a3a" stroke-width="1.9" />
<line x1="1176.2" y1="2119.3" x2="1244.6" y2="2180" stroke="#3a3a3a" stroke-width="1.9" />
<line x1="1176.2" y1="2119.3" x2="1290.7" y2="2180" stroke="#3a3a3a" stroke-width="1.9" />
<line x1="1222.3" y1="2119.3" x2="1152.3" y2="2180" stroke="#3a3a3a" stroke-width="1.9" />
<line x1="1222.3" y1="2119.3" x2="1198.4" y2="2180" stroke="#3a3a3a" stroke-width="1.9" />
<line x1="1222.3" y1="2119.3" x2="1244.6" y2="2180" stroke="#3a3a3a" stroke-width="1.9" />
<line x1="1222.3" y1="2119.3" x2="1290.7" y2="2180" stroke="#3a3a3a" stroke-width="1.9" />
<line x1="1269.1" y1="2119.3" x2="1152.3" y2="2180" stroke="#3a3a3a" stroke-width="1.9" />
<line x1="1269.1" y1="2119.3" x2="1198.4" y2="2180" stroke="#3a3a3a" stroke-width="1.9" />
<line x1="1269.1" y1="2119.3" x2="1244.6" y2="2180" stroke="#3a3a3a" stroke-width="1.9" />
<line x1="1269.1" y1="2119.3" x2="1290.7" y2="2180" stroke="#3a3a3a" stroke-width="1.9" />
<circle cx="1176.2" cy="2119.3" r="14.3" fill="#FFC000" stroke="#3a3a3a" stroke-width="1.5"/>
<circle cx="1222.3" cy="2119.3" r="14.3" fill="#FFC000" stroke="#3a3a3a" stroke-width="1.5"/>
<circle cx="1269.1" cy="2119.3" r="14.3" fill="#FFC000" stroke="#3a3a3a" stroke-width="1.5"/>
<circle cx="1152.3" cy="2180" r="14.3" fill="#FFE083" stroke="#3a3a3a" stroke-width="1.5"/>
<circle cx="1198.4" cy="2180" r="14.3" fill="#FFE083" stroke="#3a3a3a" stroke-width="1.5"/>
<circle cx="1244.6" cy="2180" r="14.3" fill="#FFE083" stroke="#3a3a3a" stroke-width="1.5"/>
<circle cx="1290.7" cy="2180" r="14.3" fill="#FFE083" stroke="#3a3a3a" stroke-width="1.5"/>
<polygon points="995.4,2386.5 1173.6,2386.5 1111.6,2493.4 933.4,2493.4" fill="#E4E4E4" stroke="#3a3a3a" stroke-width="1.8"/>
<line x1="994.36" y1="2398.43" x2="1005.9" y2="2394.37" stroke="#F2A0A0" stroke-width="2.6" /><polygon points="1011.56,2392.38 1006.15,2398.1 1003.77,2391.31" fill="#F2A0A0"/><line x1="984.01" y1="2416.22" x2="995.58" y2="2412.2" stroke="#F2A0A0" stroke-width="2.6" /><polygon points="1001.25,2410.23 995.82,2415.93 993.45,2409.13" fill="#F2A0A0"/><line x1="973.66" y1="2434.01" x2="985.26" y2="2430.02" stroke="#F2A0A0" stroke-width="2.6" /><polygon points="990.93,2428.07 985.48,2433.75 983.14,2426.94" fill="#F2A0A0"/><line x1="963.31" y1="2451.8" x2="974.93" y2="2447.85" stroke="#F2A0A0" stroke-width="2.6" /><polygon points="980.61,2445.92 975.15,2451.58 972.83,2444.76" fill="#F2A0A0"/><line x1="952.96" y1="2469.59" x2="964.61" y2="2465.67" stroke="#F2A0A0" stroke-width="2.6" /><polygon points="970.3,2463.76 964.81,2469.4 962.51,2462.58" fill="#F2A0A0"/><line x1="1019.64" y1="2398.13" x2="1031.47" y2="2394.46" stroke="#F2A0A0" stroke-width="2.6" /><polygon points="1037.2,2392.69 1031.58,2398.2 1029.45,2391.32" fill="#F2A0A0"/><line x1="1009.26" y1="2415.86" x2="1021.16" y2="2412.31" stroke="#F2A0A0" stroke-width="2.6" /><polygon points="1026.91,2410.59 1021.23,2416.04 1019.17,2409.14" fill="#F2A0A0"/><line x1="998.88" y1="2433.59" x2="1010.86" y2="2430.15" stroke="#F2A0A0" stroke-width="2.6" /><polygon points="1016.62,2428.49 1010.89,2433.88 1008.9,2426.97" fill="#F2A0A0"/><line x1="988.51" y1="2451.33" x2="1000.55" y2="2447.99" stroke="#F2A0A0" stroke-width="2.6" /><polygon points="1006.33,2446.39 1000.55,2451.73 998.62,2444.79" fill="#F2A0A0"/><line x1="978.13" y1="2469.06" x2="990.24" y2="2465.83" stroke="#F2A0A0" stroke-width="2.6" /><polygon points="996.04,2464.29 990.2,2469.57 988.35,2462.61" fill="#F2A0A0"/><line x1="967.76" y1="2486.79" x2="979.93" y2="2483.68" stroke="#F2A0A0" stroke-width="2.6" /><polygon points="985.74,2482.19 979.85,2487.41 978.07,2480.44" fill="#F2A0A0"/><line x1="1044.74" y1="2397.36" x2="1057.15" y2="2394.71" stroke="#F2A0A0" stroke-width="2.6" /><polygon points="1063.01,2393.46 1056.92,2398.44 1055.42,2391.4" fill="#F2A0A0"/><line x1="1034.35" y1="2415.03" x2="1046.85" y2="2412.58" stroke="#F2A0A0" stroke-width="2.6" /><polygon points="1052.73,2411.42 1046.56,2416.3 1045.17,2409.24" fill="#F2A0A0"/><line x1="1023.97" y1="2432.7" x2="1036.54" y2="2430.44" stroke="#F2A0A0" stroke-width="2.6" /><polygon points="1042.45,2429.38 1036.2,2434.16 1034.92,2427.08" fill="#F2A0A0"/><line x1="1013.59" y1="2450.37" x2="1026.24" y2="2448.31" stroke="#F2A0A0" stroke-width="2.6" /><polygon points="1032.16,2447.34 1025.83,2452.02 1024.67,2444.92" fill="#F2A0A0"/><line x1="1003.22" y1="2468.05" x2="1015.93" y2="2466.18" stroke="#F2A0A0" stroke-width="2.6" /><polygon points="1021.87,2465.3 1015.46,2469.88 1014.42,2462.76" fill="#F2A0A0"/><line x1="992.85" y1="2485.72" x2="1005.62" y2="2484.05" stroke="#F2A0A0" stroke-width="2.6" /><polygon points="1011.57,2483.27 1005.09,2487.74 1004.16,2480.61" fill="#F2A0A0"/><line x1="1069.88" y1="2396.08" x2="1082.81" y2="2395.16" stroke="#F2A0A0" stroke-width="2.6" /><polygon points="1088.79,2394.74 1082.06,2398.82 1081.55,2391.64" fill="#F2A0A0"/><line x1="1059.52" y1="2413.69" x2="1072.49" y2="2413.05" stroke="#F2A0A0" stroke-width="2.6" /><polygon points="1078.48,2412.76 1071.66,2416.7 1071.31,2409.51" fill="#F2A0A0"/><line x1="1049.17" y1="2431.3" x2="1062.16" y2="2430.95" stroke="#F2A0A0" stroke-width="2.6" /><polygon points="1068.16,2430.78 1061.26,2434.57 1061.06,2427.37" fill="#F2A0A0"/><line x1="1038.83" y1="2448.91" x2="1051.83" y2="2448.84" stroke="#F2A0A0" stroke-width="2.6" /><polygon points="1057.83,2448.81 1050.85,2452.44 1050.81,2445.24" fill="#F2A0A0"/><line x1="1028.5" y1="2466.52" x2="1041.5" y2="2466.73" stroke="#F2A0A0" stroke-width="2.6" /><polygon points="1047.5,2466.83 1040.44,2470.32 1040.56,2463.12" fill="#F2A0A0"/><line x1="1018.18" y1="2484.13" x2="1031.16" y2="2484.63" stroke="#F2A0A0" stroke-width="2.6" /><polygon points="1037.15,2484.85 1030.02,2488.18 1030.3,2480.99" fill="#F2A0A0"/><line x1="1095.4" y1="2394.31" x2="1108.22" y2="2395.81" stroke="#F2A0A0" stroke-width="2.6" /><polygon points="1114.18,2396.51 1106.8,2399.27 1107.64,2392.12" fill="#F2A0A0"/><line x1="1085.13" y1="2411.86" x2="1097.84" y2="2413.72" stroke="#F2A0A0" stroke-width="2.6" /><polygon points="1103.78,2414.59 1096.33,2417.14 1097.38,2410.01" fill="#F2A0A0"/><line x1="1074.87" y1="2429.42" x2="1087.46" y2="2431.63" stroke="#F2A0A0" stroke-width="2.6" /><polygon points="1093.37,2432.67 1085.86,2435 1087.1,2427.91" fill="#F2A0A0"/><line x1="1064.63" y1="2446.97" x2="1077.08" y2="2449.53" stroke="#F2A0A0" stroke-width="2.6" /><polygon points="1082.95,2450.74 1075.37,2452.86 1076.82,2445.81" fill="#F2A0A0"/><line x1="1054.4" y1="2464.54" x2="1066.68" y2="2467.44" stroke="#F2A0A0" stroke-width="2.6" /><polygon points="1072.52,2468.81 1064.88,2470.71 1066.53,2463.7" fill="#F2A0A0"/><line x1="1044.18" y1="2482.1" x2="1056.28" y2="2485.33" stroke="#F2A0A0" stroke-width="2.6" /><polygon points="1062.07,2486.88 1054.38,2488.55 1056.24,2481.6" fill="#F2A0A0"/><line x1="1121.79" y1="2392.16" x2="1133.1" y2="2396.5" stroke="#F2A0A0" stroke-width="2.6" /><polygon points="1138.7,2398.65 1130.88,2399.51 1133.46,2392.78" fill="#F2A0A0"/><line x1="1111.66" y1="2409.69" x2="1122.65" y2="2414.4" stroke="#F2A0A0" stroke-width="2.6" /><polygon points="1128.16,2416.76 1120.31,2417.31 1123.15,2410.69" fill="#F2A0A0"/><line x1="1101.55" y1="2427.23" x2="1112.19" y2="2432.28" stroke="#F2A0A0" stroke-width="2.6" /><polygon points="1117.61,2434.85 1109.74,2435.1 1112.83,2428.6" fill="#F2A0A0"/><line x1="1091.46" y1="2444.78" x2="1101.72" y2="2450.15" stroke="#F2A0A0" stroke-width="2.6" /><polygon points="1107.03,2452.94 1099.16,2452.88 1102.51,2446.5" fill="#F2A0A0"/><line x1="1081.39" y1="2462.33" x2="1091.25" y2="2468.02" stroke="#F2A0A0" stroke-width="2.6" /><polygon points="1096.44,2471.02 1088.58,2470.64 1092.18,2464.4" fill="#F2A0A0"/><line x1="1071.32" y1="2479.89" x2="1080.77" y2="2485.88" stroke="#F2A0A0" stroke-width="2.6" /><polygon points="1085.84,2489.09 1078,2488.38 1081.85,2482.3" fill="#F2A0A0"/><line x1="1149.49" y1="2390.02" x2="1157.38" y2="2396.87" stroke="#F2A0A0" stroke-width="2.6" /><polygon points="1161.92,2400.8 1154.27,2398.93 1158.99,2393.49" fill="#F2A0A0"/><line x1="1139.56" y1="2407.59" x2="1146.88" y2="2414.68" stroke="#F2A0A0" stroke-width="2.6" /><polygon points="1151.18,2418.86 1143.65,2416.57 1148.66,2411.4" fill="#F2A0A0"/><line x1="1129.64" y1="2425.18" x2="1136.37" y2="2432.49" stroke="#F2A0A0" stroke-width="2.6" /><polygon points="1140.44,2436.9 1133.05,2434.19 1138.34,2429.32" fill="#F2A0A0"/><line x1="1119.74" y1="2442.79" x2="1125.87" y2="2450.29" stroke="#F2A0A0" stroke-width="2.6" /><polygon points="1129.67,2454.93 1122.45,2451.79 1128.03,2447.23" fill="#F2A0A0"/><line x1="1109.85" y1="2460.41" x2="1115.38" y2="2468.08" stroke="#F2A0A0" stroke-width="2.6" /><polygon points="1118.9,2472.94 1111.88,2469.37 1117.72,2465.16" fill="#F2A0A0"/><line x1="1099.97" y1="2478.05" x2="1104.9" y2="2485.86" stroke="#F2A0A0" stroke-width="2.6" /><polygon points="1108.11,2490.93 1101.32,2486.93 1107.41,2483.09" fill="#F2A0A0"/>
<polygon points="1234.1,2385.2 1412.2,2385.2 1350.2,2491.5 1171.4,2491.5" fill="#E4E4E4" stroke="#3a3a3a" stroke-width="1.8"/>
<line x1="1232.66" y1="2396.47" x2="1244.74" y2="2393.21" stroke="#86CDEE" stroke-width="2.6" /><polygon points="1250.54,2391.65 1244.71,2396.95 1242.84,2389.99" fill="#86CDEE"/><line x1="1223.56" y1="2416.06" x2="1233.51" y2="2410.44" stroke="#86CDEE" stroke-width="2.6" /><polygon points="1238.73,2407.49 1234.41,2414.06 1230.87,2407.8" fill="#86CDEE"/><line x1="1215.75" y1="2435.57" x2="1221.86" y2="2428.06" stroke="#86CDEE" stroke-width="2.6" /><polygon points="1225.65,2423.41 1224.02,2431.11 1218.44,2426.57" fill="#86CDEE"/><line x1="1208.52" y1="2454.22" x2="1210.54" y2="2446.03" stroke="#86CDEE" stroke-width="2.6" /><polygon points="1211.97,2440.2 1213.79,2447.86 1206.8,2446.14" fill="#86CDEE"/><line x1="1200.72" y1="2472.02" x2="1199.65" y2="2463.78" stroke="#86CDEE" stroke-width="2.6" /><polygon points="1198.87,2457.83 1203.35,2464.31 1196.21,2465.24" fill="#86CDEE"/><line x1="1257.59" y1="2394.8" x2="1270.51" y2="2393.79" stroke="#86CDEE" stroke-width="2.6" /><polygon points="1276.49,2393.32 1269.79,2397.45 1269.23,2390.28" fill="#86CDEE"/><line x1="1247.86" y1="2414.59" x2="1259.6" y2="2410.8" stroke="#86CDEE" stroke-width="2.6" /><polygon points="1265.31,2408.96 1259.76,2414.53 1257.55,2407.68" fill="#86CDEE"/><line x1="1240.16" y1="2435.03" x2="1247.72" y2="2428.03" stroke="#86CDEE" stroke-width="2.6" /><polygon points="1252.12,2423.95 1249.43,2431.35 1244.54,2426.07" fill="#86CDEE"/><line x1="1234.22" y1="2454.25" x2="1235.93" y2="2446.04" stroke="#86CDEE" stroke-width="2.6" /><polygon points="1237.15,2440.17 1239.25,2447.76 1232.2,2446.29" fill="#86CDEE"/><line x1="1227.18" y1="2471.9" x2="1224.91" y2="2463.73" stroke="#86CDEE" stroke-width="2.6" /><polygon points="1223.3,2457.95 1228.64,2463.73 1221.71,2465.66" fill="#86CDEE"/><line x1="1218.62" y1="2489.16" x2="1214" y2="2481.29" stroke="#86CDEE" stroke-width="2.6" /><polygon points="1210.96,2476.12 1217.61,2480.33 1211.4,2483.98" fill="#86CDEE"/><line x1="1283.15" y1="2392.72" x2="1295.87" y2="2394.54" stroke="#86CDEE" stroke-width="2.6" /><polygon points="1301.81,2395.39 1294.37,2397.97 1295.39,2390.84" fill="#86CDEE"/><line x1="1272.54" y1="2412.02" x2="1285.53" y2="2411.68" stroke="#86CDEE" stroke-width="2.6" /><polygon points="1291.53,2411.53 1284.62,2415.31 1284.44,2408.11" fill="#86CDEE"/><line x1="1263.65" y1="2433.41" x2="1274.13" y2="2428.23" stroke="#86CDEE" stroke-width="2.6" /><polygon points="1279.51,2425.57 1274.83,2431.9 1271.64,2425.45" fill="#86CDEE"/><line x1="1260.28" y1="2454.3" x2="1261.27" y2="2446.07" stroke="#86CDEE" stroke-width="2.6" /><polygon points="1261.98,2440.11 1264.72,2447.49 1257.57,2446.64" fill="#86CDEE"/><line x1="1254.36" y1="2471.5" x2="1249.94" y2="2463.59" stroke="#86CDEE" stroke-width="2.6" /><polygon points="1247.01,2458.35 1253.57,2462.71 1247.28,2466.22" fill="#86CDEE"/><line x1="1245.58" y1="2488.53" x2="1238.92" y2="2481.19" stroke="#86CDEE" stroke-width="2.6" /><polygon points="1234.89,2476.75 1242.26,2479.52 1236.93,2484.35" fill="#86CDEE"/><line x1="1309.55" y1="2390.7" x2="1320.73" y2="2395.19" stroke="#86CDEE" stroke-width="2.6" /><polygon points="1326.3,2397.42 1318.46,2398.15 1321.15,2391.47" fill="#86CDEE"/><line x1="1298.86" y1="2408.78" x2="1310.43" y2="2412.8" stroke="#86CDEE" stroke-width="2.6" /><polygon points="1316.09,2414.77 1308.3,2415.87 1310.66,2409.07" fill="#86CDEE"/><line x1="1287.77" y1="2427.89" x2="1300.37" y2="2430.07" stroke="#86CDEE" stroke-width="2.6" /><polygon points="1306.28,2431.09 1298.77,2433.45 1300,2426.35" fill="#86CDEE"/><line x1="1288.86" y1="2454.12" x2="1286.17" y2="2445.99" stroke="#86CDEE" stroke-width="2.6" /><polygon points="1284.29,2440.29 1289.9,2445.81 1283.07,2448.07" fill="#86CDEE"/><line x1="1282.78" y1="2470.01" x2="1274.24" y2="2463.48" stroke="#86CDEE" stroke-width="2.6" /><polygon points="1269.47,2459.84 1277.22,2461.23 1272.85,2466.95" fill="#86CDEE"/><line x1="1272.9" y1="2487.27" x2="1263.5" y2="2481.25" stroke="#86CDEE" stroke-width="2.6" /><polygon points="1258.45,2478.02 1266.28,2478.76 1262.4,2484.82" fill="#86CDEE"/><line x1="1336.45" y1="2389.17" x2="1345.38" y2="2395.48" stroke="#86CDEE" stroke-width="2.6" /><polygon points="1350.28,2398.95 1342.49,2397.84 1346.64,2391.97" fill="#86CDEE"/><line x1="1326.55" y1="2406.48" x2="1334.67" y2="2413.23" stroke="#86CDEE" stroke-width="2.6" /><polygon points="1339.28,2417.07 1331.6,2415.36 1336.2,2409.82" fill="#86CDEE"/><line x1="1317.84" y1="2423.27" x2="1323.52" y2="2430.9" stroke="#86CDEE" stroke-width="2.6" /><polygon points="1327.1,2435.71 1320.03,2432.25 1325.81,2427.95" fill="#86CDEE"/><line x1="1317.68" y1="2441.49" x2="1310.58" y2="2448.66" stroke="#86CDEE" stroke-width="2.6" /><polygon points="1306.36,2452.93 1308.72,2445.42 1313.84,2450.48" fill="#86CDEE"/><line x1="1310.98" y1="2465.9" x2="1298.13" y2="2464.57" stroke="#86CDEE" stroke-width="2.6" /><polygon points="1292.16,2463.95 1299.49,2461.09 1298.75,2468.25" fill="#86CDEE"/><line x1="1300.05" y1="2485.08" x2="1287.98" y2="2481.78" stroke="#86CDEE" stroke-width="2.6" /><polygon points="1282.19,2480.21 1289.89,2478.58 1288,2485.52" fill="#86CDEE"/><line x1="1363.37" y1="2388.22" x2="1370.16" y2="2395.51" stroke="#86CDEE" stroke-width="2.6" /><polygon points="1374.25,2399.9 1366.84,2397.23 1372.11,2392.32" fill="#86CDEE"/><line x1="1354.07" y1="2405.42" x2="1359.29" y2="2413.16" stroke="#86CDEE" stroke-width="2.6" /><polygon points="1362.65,2418.13 1355.75,2414.34 1361.72,2410.32" fill="#86CDEE"/><line x1="1346.13" y1="2422.49" x2="1348.21" y2="2430.68" stroke="#86CDEE" stroke-width="2.6" /><polygon points="1349.69,2436.49 1344.48,2430.6 1351.45,2428.82" fill="#86CDEE"/><line x1="1341.13" y1="2440.64" x2="1336.72" y2="2448.54" stroke="#86CDEE" stroke-width="2.6" /><polygon points="1333.79,2453.78 1334.06,2445.91 1340.35,2449.43" fill="#86CDEE"/><line x1="1335.59" y1="2461.87" x2="1324.08" y2="2465.97" stroke="#86CDEE" stroke-width="2.6" /><polygon points="1318.43,2467.98 1323.82,2462.24 1326.23,2469.02" fill="#86CDEE"/><line x1="1326.06" y1="2482.4" x2="1313.06" y2="2482.73" stroke="#86CDEE" stroke-width="2.6" /><polygon points="1307.07,2482.89 1313.97,2479.11 1314.16,2486.3" fill="#86CDEE"/><line x1="1390.06" y1="2387.67" x2="1395.16" y2="2395.43" stroke="#86CDEE" stroke-width="2.6" /><polygon points="1398.45,2400.45 1391.6,2396.57 1397.62,2392.62" fill="#86CDEE"/><line x1="1380.97" y1="2404.97" x2="1384.33" y2="2413.04" stroke="#86CDEE" stroke-width="2.6" /><polygon points="1386.63,2418.58 1380.62,2413.5 1387.27,2410.73" fill="#86CDEE"/><line x1="1372.86" y1="2422.38" x2="1373.43" y2="2430.62" stroke="#86CDEE" stroke-width="2.6" /><polygon points="1373.85,2436.61 1369.77,2429.87 1376.95,2429.37" fill="#86CDEE"/><line x1="1366.07" y1="2440.49" x2="1362.29" y2="2448.5" stroke="#86CDEE" stroke-width="2.6" /><polygon points="1359.73,2453.93 1359.47,2446.06 1365.98,2449.13" fill="#86CDEE"/><line x1="1359.42" y1="2460.08" x2="1350.41" y2="2466.34" stroke="#86CDEE" stroke-width="2.6" /><polygon points="1345.49,2469.77 1349.18,2462.82 1353.29,2468.73" fill="#86CDEE"/><line x1="1350.93" y1="2480.2" x2="1338.87" y2="2483.5" stroke="#86CDEE" stroke-width="2.6" /><polygon points="1333.08,2485.08 1338.88,2479.76 1340.78,2486.71" fill="#86CDEE"/>
<path d="M965.2,2468.0 C971.6,2476.6 977.9,2482.9 987.5,2459.1 1005.0,2420.9 1052.7,2401.8 1080.4,2437.7" fill="none" stroke="#3a3a3a" stroke-width="1.7"/>
<path d="M1076.6,2397.0 C1090.9,2392.2 1110.0,2403.4 1124.3,2444.7" fill="none" stroke="#3a3a3a" stroke-width="1.7"/>
<path d="M1203.8,2468.6 C1210.2,2476.6 1219.7,2482.9 1229.3,2459.1 1246.8,2414.5 1297.7,2408.2 1318.4,2436.8" fill="none" stroke="#3a3a3a" stroke-width="1.7"/>
<path d="M1321.6,2397.0 C1339.1,2390.7 1355.0,2405.0 1361.3,2432.0" fill="none" stroke="#3a3a3a" stroke-width="1.7"/>
<path d="M1069.6,2341.4 Q1102.7,2290.0 1126.8,2249.1 C1187.3,2218.0 1277.7,2200.0 1338.5,2250.7 Q1307.7,2290.0 1298.7,2343.0 C1235.1,2305.0 1134.7,2308.0 1069.6,2341.4Z" fill="#E4E4E4" stroke="#3a3a3a" stroke-width="1.8" stroke-linejoin="miter"/>
<line x1="1152.3" y1="2194.3" x2="1154.5" y2="2297.4" stroke="#3a3a3a" stroke-width="1.9" />
<line x1="1198.5" y1="2194.3" x2="1154.5" y2="2297.4" stroke="#3a3a3a" stroke-width="1.9" />
<line x1="1198.5" y1="2194.3" x2="1215" y2="2261.2" stroke="#3a3a3a" stroke-width="1.9" />
<line x1="1244.6" y1="2194.3" x2="1154.5" y2="2297.4" stroke="#3a3a3a" stroke-width="1.9" />
<line x1="1244.6" y1="2194.3" x2="1215" y2="2261.2" stroke="#3a3a3a" stroke-width="1.9" />
<line x1="1244.6" y1="2194.3" x2="1278" y2="2237" stroke="#3a3a3a" stroke-width="1.9" />
<line x1="1290.8" y1="2194.3" x2="1215" y2="2261.2" stroke="#3a3a3a" stroke-width="1.9" />
<line x1="1290.8" y1="2194.3" x2="1278" y2="2237" stroke="#3a3a3a" stroke-width="1.9" />
<line x1="1198.5" y1="2194.3" x2="1278" y2="2237" stroke="#3a3a3a" stroke-width="1.9" />
<path d="M1123.7,2293.1 Q1137.7,2299.1 1154.5,2297.4 C1179.5,2292.4 1197.0,2281.2 1215.0,2261.2 S1253.0,2239.0 1278.0,2237.0 S1320.7,2243.0 1325.7,2255.5" fill="none" stroke="#3a3a3a" stroke-width="1.6"/>
<circle cx="1123.7" cy="2293.1" r="4.2" fill="#111" stroke="#111" stroke-width="1.3"/>
<text x="1139.2" y="2277.8" font-family='"Liberation Serif", serif' font-size="25" font-style="italic">e</text>
<text x="1295.5" y="2274.6" font-family='"Liberation Serif", serif' font-size="25"><tspan font-style="italic">g</tspan><tspan font-style="italic" font-size="16" dy="-11">t</tspan></text>
<text x="1313.7" y="2326.2" font-family='"Liberation Serif", serif' font-size="24" font-style="italic">G</text>
<line x1="1154.53" y1="2309.53" x2="997.04" y2="2385.89" stroke="#3a3a3a" stroke-width="1.7" stroke-dasharray="9 6"/>
<line x1="1156.12" y1="2309.53" x2="1173.62" y2="2384.3" stroke="#3a3a3a" stroke-width="1.7" stroke-dasharray="9 6"/>
<line x1="1277.97" y1="2245.9" x2="1235.66" y2="2384.3" stroke="#3a3a3a" stroke-width="1.7" stroke-dasharray="9 6"/>
<line x1="1279.24" y1="2245.9" x2="1407.46" y2="2381.11" stroke="#3a3a3a" stroke-width="1.7" stroke-dasharray="9 6"/>
<g opacity="0.6">
<path d="M1069.6,2341.4 Q1102.7,2290.0 1126.8,2249.1 C1187.3,2218.0 1277.7,2200.0 1338.5,2250.7 Q1307.7,2290.0 1298.7,2343.0 C1235.1,2305.0 1134.7,2308.0 1069.6,2341.4Z" fill="#E4E4E4" stroke="#3a3a3a" stroke-width="1.8" stroke-linejoin="miter"/>
</g>
<path d="M1069.6,2341.4 Q1102.7,2290.0 1126.8,2249.1 C1187.3,2218.0 1277.7,2200.0 1338.5,2250.7 Q1307.7,2290.0 1298.7,2343.0 C1235.1,2305.0 1134.7,2308.0 1069.6,2341.4Z" fill="#E4E4E4" stroke="#3a3a3a" stroke-width="1.8" stroke-linejoin="miter"/>
<line x1="1152.3" y1="2194.3" x2="1154.5" y2="2297.4" stroke="#3a3a3a" stroke-width="1.9" />
<line x1="1198.5" y1="2194.3" x2="1154.5" y2="2297.4" stroke="#3a3a3a" stroke-width="1.9" />
<line x1="1198.5" y1="2194.3" x2="1215" y2="2261.2" stroke="#3a3a3a" stroke-width="1.9" />
<line x1="1244.6" y1="2194.3" x2="1154.5" y2="2297.4" stroke="#3a3a3a" stroke-width="1.9" />
<line x1="1244.6" y1="2194.3" x2="1215" y2="2261.2" stroke="#3a3a3a" stroke-width="1.9" />
<line x1="1244.6" y1="2194.3" x2="1278" y2="2237" stroke="#3a3a3a" stroke-width="1.9" />
<line x1="1290.8" y1="2194.3" x2="1215" y2="2261.2" stroke="#3a3a3a" stroke-width="1.9" />
<line x1="1290.8" y1="2194.3" x2="1278" y2="2237" stroke="#3a3a3a" stroke-width="1.9" />
<line x1="1198.5" y1="2194.3" x2="1278" y2="2237" stroke="#3a3a3a" stroke-width="1.9" />
<path d="M1123.7,2293.1 Q1137.7,2299.1 1154.5,2297.4 C1179.5,2292.4 1197.0,2281.2 1215.0,2261.2 S1253.0,2239.0 1278.0,2237.0 S1320.7,2243.0 1325.7,2255.5" fill="none" stroke="#3a3a3a" stroke-width="1.6"/>
<circle cx="1123.7" cy="2293.1" r="4.2" fill="#111" stroke="#111" stroke-width="1.3"/>
<text x="1139.2" y="2277.8" font-family='"Liberation Serif", serif' font-size="25" font-style="italic">e</text>
<text x="1295.5" y="2274.6" font-family='"Liberation Serif", serif' font-size="25"><tspan font-style="italic">g</tspan><tspan font-style="italic" font-size="16" dy="-11">t</tspan></text>
<text x="1313.7" y="2326.2" font-family='"Liberation Serif", serif' font-size="24" font-style="italic">G</text>
<line x1="1154.53" y1="2297.44" x2="1201.02" y2="2296.31" stroke="#FF1010" stroke-width="2" /><polygon points="1207.02,2296.17 1200.1,2299.33 1199.95,2293.34" fill="#FF1010"/>
<line x1="1214.98" y1="2261.17" x2="1248.55" y2="2242.46" stroke="#FF1010" stroke-width="2" /><polygon points="1253.79,2239.53 1249.14,2245.56 1246.22,2240.32" fill="#FF1010"/>
<line x1="1277.97" y1="2236.99" x2="1314" y2="2240.54" stroke="#FF1010" stroke-width="2" /><polygon points="1319.97,2241.12 1312.71,2243.42 1313.3,2237.45" fill="#FF1010"/>
<line x1="976.36" y1="2477.52" x2="1021.59" y2="2461.97" stroke="#FF1010" stroke-width="2" /><polygon points="1027.26,2460.02 1021.62,2465.13 1019.67,2459.46" fill="#FF1010"/>
<line x1="976.36" y1="2477.52" x2="1026.85" y2="2506.95" stroke="#9C27A8" stroke-width="2" /><polygon points="1032.04,2509.97 1024.48,2509.03 1027.5,2503.85" fill="#9C27A8"/>
<line x1="1027.97" y1="2471.97" x2="1031.33" y2="2495.47" stroke="#333" stroke-width="1.5" />
<polygon points="1027.26,2467.02 1025.5,2472.32 1030.44,2471.61" fill="#333"/>
<polygon points="1032.04,2500.42 1028.85,2495.83 1033.8,2495.12" fill="#333"/>
<line x1="1087.71" y1="2397.02" x2="1128.04" y2="2407.59" stroke="#FF1010" stroke-width="2" /><polygon points="1133.85,2409.11 1126.31,2410.24 1127.83,2404.44" fill="#FF1010"/>
<line x1="1087.71" y1="2397.02" x2="1132.34" y2="2380.92" stroke="#9C27A8" stroke-width="2" /><polygon points="1137.98,2378.89 1132.42,2384.08 1130.38,2378.44" fill="#9C27A8"/>
<line x1="1139.4" y1="2385.09" x2="1136.25" y2="2404.18" stroke="#333" stroke-width="1.5" />
<polygon points="1140.21,2380.16 1136.93,2384.69 1141.86,2385.5" fill="#333"/>
<polygon points="1135.44,2409.11 1133.78,2403.77 1138.72,2404.58" fill="#333"/>
<line x1="1307.24" y1="2424.07" x2="1345.12" y2="2447.91" stroke="#10A8E8" stroke-width="2" /><polygon points="1350.19,2451.11 1342.67,2449.92 1345.87,2444.84" fill="#10A8E8"/>
<line x1="1307.24" y1="2424.07" x2="1330.42" y2="2465.9" stroke="#1A4A6A" stroke-width="2" /><polygon points="1333.33,2471.15 1327.31,2466.48 1332.56,2463.58" fill="#1A4A6A"/>
<line x1="1340.76" y1="2463.25" x2="1345.31" y2="2458.05" stroke="#333" stroke-width="1.5" />
<polygon points="1337.47,2467.02 1342.64,2464.9 1338.88,2461.61" fill="#333"/>
<polygon points="1348.6,2454.29 1347.19,2459.7 1343.43,2456.41" fill="#333"/>
<line x1="1365.15" y1="2430.43" x2="1380.27" y2="2480.36" stroke="#10A8E8" stroke-width="2" /><polygon points="1382.01,2486.11 1377.11,2480.28 1382.85,2478.54" fill="#10A8E8"/>
<line x1="1361.33" y1="2432.02" x2="1366.18" y2="2484.27" stroke="#1A4A6A" stroke-width="2" /><polygon points="1366.74,2490.24 1363.1,2483.55 1369.08,2482.99" fill="#1A4A6A"/>
<line x1="1374.04" y1="2489.97" x2="1376.3" y2="2489.24" stroke="#333" stroke-width="1.5" />
<polygon points="1369.28,2491.51 1374.81,2492.35 1373.27,2487.59" fill="#333"/>
<polygon points="1381.05,2487.7 1377.07,2491.62 1375.53,2486.86" fill="#333"/>
<circle cx="1164.4" cy="2435.2" r="1.7" fill="#111"/>
<circle cx="1170.4" cy="2435.2" r="1.7" fill="#111"/>
<circle cx="1176.4" cy="2435.2" r="1.7" fill="#111"/>
<line x1="1207" y1="2509.3" x2="1033.63" y2="2499.79" stroke="#222" stroke-width="1.6" stroke-dasharray="1.6 3.2"/>
<line x1="1207" y1="2509.3" x2="1334.28" y2="2471.79" stroke="#222" stroke-width="1.6" stroke-dasharray="1.6 3.2"/>
<line x1="1207" y1="2509.3" x2="1362.92" y2="2495.65" stroke="#222" stroke-width="1.6" stroke-dasharray="1.6 3.2"/>
<polyline points="1207,2509.3 1160.89,2435.2 1141.8,2403.38" fill="none" stroke="#222" stroke-width="1.6" stroke-dasharray="1.6 3.2"/>
<rect x="1130.7" y="2510.9" width="152.7" height="47.8" fill="#58595B" rx="7" stroke="#16202c" stroke-width="2"/>
<text x="1207.05" y="2543.5" font-family='"Liberation Sans", sans-serif' font-size="22.5" fill="#fff" text-anchor="middle">Loss</text>
<text x="924.8" y="2531.6" font-family='"Liberation Serif", serif' font-size="27" fill="#FF1010"><tspan font-style="italic">∂</tspan><tspan font-style="italic" font-size="17" dy="6">t</tspan><tspan font-style="italic" dy="-6" dx="3">U</tspan></text>
<rect x="974.4" y="2502" width="2" height="43" fill="#FF1010"/>
<text x="979.5" y="2549.7" font-family='"Liberation Serif", serif' font-size="18" fill="#FF1010"><tspan font-style="italic">t=t</tspan><tspan font-size="12" dy="3">1</tspan></text>
<text x="1350.2" y="2531.6" font-family='"Liberation Serif", serif' font-size="27" fill="#10A8E8"><tspan font-style="italic">∂</tspan><tspan font-style="italic" font-size="17" dy="6">t</tspan><tspan font-style="italic" dy="-6" dx="3">U</tspan></text>
<rect x="1400.1" y="2502" width="2" height="43" fill="#10A8E8"/>
<text x="1405.9" y="2549.7" font-family='"Liberation Serif", serif' font-size="18" fill="#10A8E8"><tspan font-style="italic">t=t</tspan><tspan font-size="12" dy="3">2</tspan></text>
<!-- mid_a -->
<text x="1571.51" y="445.4" font-family='"Liberation Sans", sans-serif' font-size="46.5" font-weight="bold" textLength="416.79" lengthAdjust="spacingAndGlyphs">METHOD – PARC<tspan fill="#f00">v2</tspan></text>
<text x="1605.3" y="495.4" font-family='"Liberation Serif", serif' font-size="42" textLength="43.9" lengthAdjust="spacingAndGlyphs"><tspan font-style="italic">∂</tspan><tspan font-weight="bold">x</tspan></text>
<rect x="1604.5" y="509.6" width="45.5" height="2" fill="#111"/>
<text x="1609.5" y="544.1" font-family='"Liberation Serif", serif' font-size="42" textLength="34" lengthAdjust="spacingAndGlyphs"><tspan font-style="italic">∂t</tspan></text>
<text x="1666.3" y="521" font-family='"Liberation Serif", serif' font-size="42" textLength="612.4" lengthAdjust="spacingAndGlyphs">= <tspan font-style="italic">k</tspan>(∇ · ∇)<tspan font-weight="bold">x</tspan> − (<tspan font-weight="bold">u</tspan> · ∇)<tspan font-weight="bold">x</tspan> + <tspan font-weight="bold">R</tspan><tspan font-size="28" dy="7"><tspan font-weight="bold">x</tspan></tspan><tspan dy="-7" font-size="1">​</tspan>(<tspan font-weight="bold">x</tspan>, <tspan font-weight="bold">u</tspan>, <tspan font-weight="bold">c</tspan>)</text>
<text x="2362.2" y="495.4" font-family='"Liberation Serif", serif' font-size="42" textLength="44.5" lengthAdjust="spacingAndGlyphs"><tspan font-style="italic">∂</tspan><tspan font-weight="bold">u</tspan></text>
<rect x="2361.5" y="509.6" width="46" height="2" fill="#111"/>
<text x="2367" y="544.1" font-family='"Liberation Serif", serif' font-size="42" textLength="34" lengthAdjust="spacingAndGlyphs"><tspan font-style="italic">∂t</tspan></text>
<text x="2424.9" y="521" font-family='"Liberation Serif", serif' font-size="42" textLength="443.1" lengthAdjust="spacingAndGlyphs">= −(<tspan font-weight="bold">u</tspan> · ∇)<tspan font-weight="bold">u</tspan> + <tspan font-weight="bold">R</tspan><tspan font-size="28" dy="7"><tspan font-weight="bold">u</tspan></tspan><tspan dy="-7" font-size="1">​</tspan>(<tspan font-weight="bold">x</tspan>, <tspan font-weight="bold">u</tspan>, <tspan font-weight="bold">c</tspan>).</text>
<rect x="1704.8" y="587" width="554.2" height="448.7" fill="#E1D5E7" rx="41" stroke="#9673A6" stroke-width="1.5"/>
<rect x="1786.5" y="610.9" width="401.9" height="94.8" fill="#FFF2CC" rx="11" stroke="#D6B656" stroke-width="1.5" stroke-dasharray="9 5"/>
<rect x="1786.5" y="716.9" width="153.7" height="106.2" fill="#FFF2CC" rx="11" stroke="#D6B656" stroke-width="1.5" stroke-dasharray="9 5"/>
<rect x="1788.4" y="848.9" width="140" height="174" fill="#FFF2CC" rx="11" stroke="#D6B656" stroke-width="1.5" stroke-dasharray="9 5"/>
<rect x="2411.4" y="693.6" width="130.4" height="341.4" fill="#FAD7AC" rx="14" stroke="#D6903E" stroke-width="1.6"/>
<polyline points="1621.6,599.5 1621.6,575.3 2743.2,575.3 2743.2,787" fill="none" stroke="#111" stroke-width="2.2" stroke-linejoin="miter"/><polygon points="2743.2,797 2738.9,786 2747.5,786" fill="#111"/>
<rect x="1574.3" y="599.1" width="95.5" height="94.5" fill="#fff" rx="13" stroke="#111" stroke-width="1.4" stroke-dasharray="4 4"/>
<rect x="1574.3" y="893.4" width="95.5" height="82.8" fill="#fff" rx="13" stroke="#111" stroke-width="1.4" stroke-dasharray="4 4"/>
<line x1="1622" y1="693.6" x2="1622" y2="882.6" stroke="#111" stroke-width="2.2" /><polygon points="1622,892.6 1617.7,881.6 1626.3,881.6" fill="#111"/>
<text x="1607" y="639.5" font-family='"Liberation Serif", serif' font-size="34"><tspan font-weight="bold">x</tspan><tspan font-size="23.8" dy="5.44" font-style="italic">i</tspan><tspan dy="-5.44" font-size="1">​</tspan></text>
<text x="1605.5" y="673.6" font-family='"Liberation Serif", serif' font-size="34"><tspan font-weight="bold">u</tspan><tspan font-size="23.8" dy="5.44" font-style="italic">i</tspan><tspan dy="-5.44" font-size="1">​</tspan></text>
<text x="1594.4" y="925.9" font-family='"Liberation Serif", serif' font-size="34">∇<tspan font-weight="bold">x</tspan><tspan font-size="23.8" dy="5.44" font-style="italic">i</tspan><tspan dy="-5.44" font-size="1">​</tspan></text>
<text x="1594.4" y="967.3" font-family='"Liberation Serif", serif' font-size="34">∇<tspan font-weight="bold">u</tspan><tspan font-size="23.8" dy="5.44" font-style="italic">i</tspan><tspan dy="-5.44" font-size="1">​</tspan></text>
<polyline points="1657,628.4 1739.8,628.4" fill="none" stroke="#9673A6" stroke-width="2.2" />
<polyline points="1739.8,763.6 1739.8,605.5 1829.8,605.5 1829.8,619.6" fill="none" stroke="#9673A6" stroke-width="2.2" stroke-linejoin="miter"/><polygon points="1829.8,628.6 1825.8,618.6 1833.8,618.6" fill="#9673A6"/>
<line x1="1739.8" y1="763.6" x2="1812.5" y2="763.6" stroke="#9673A6" stroke-width="2.2" /><polygon points="1821.5,763.6 1811.5,767.6 1811.5,759.6" fill="#9673A6"/>
<polyline points="1657,664 1739.8,664" fill="none" stroke="#86C86A" stroke-width="2.8" />
<polyline points="1739.8,646.5 1739.8,917" fill="none" stroke="#86C86A" stroke-width="2.2" />
<line x1="1739.8" y1="646.5" x2="1802.3" y2="646.5" stroke="#86C86A" stroke-width="2.2" /><polygon points="1811.3,646.5 1801.3,650.5 1801.3,642.5" fill="#86C86A"/>
<polyline points="1739.8,834.3 1846.4,834.3 1846.4,856.6" fill="none" stroke="#86C86A" stroke-width="2.2" stroke-linejoin="miter"/><polygon points="1846.4,865.6 1842.4,855.6 1850.4,855.6" fill="#86C86A"/>
<polyline points="1739.8,917 1846.4,917 1846.4,930.8" fill="none" stroke="#86C86A" stroke-width="2.2" stroke-linejoin="miter"/><polygon points="1846.4,939.8 1842.4,929.8 1850.4,929.8" fill="#86C86A"/>
<polyline points="1657,917 1738.7,917 1738.7,883.6 1818.5,883.6" fill="none" stroke="#6FA0E8" stroke-width="2.2" stroke-linejoin="miter"/><polygon points="1827.5,883.6 1817.5,887.6 1817.5,879.6" fill="#6FA0E8"/>
<polyline points="1739.8,883.6 1739.8,917" fill="none" stroke="#86C86A" stroke-width="2.2" />
<line x1="1657" y1="957.7" x2="1818.5" y2="957.7" stroke="#EA6B66" stroke-width="2.2" /><polygon points="1827.5,957.7 1817.5,961.7 1817.5,953.7" fill="#EA6B66"/>
<circle cx="1829.2" cy="646.5" r="17" fill="none" stroke="#111" stroke-width="1.5"/>
<text x="1829.2" y="655" font-family='"Liberation Sans", sans-serif' font-size="27" text-anchor="middle">+</text>
<rect x="1875.9" y="625.9" width="83.4" height="41.3" fill="#fff" stroke="#111" stroke-width="1.6"/>
<text x="1917.6" y="656.15" font-family='"Liberation Sans", sans-serif' font-size="27.6" text-anchor="middle">CNN</text>
<line x1="1846.5" y1="646.5" x2="1866.5" y2="646.5" stroke="#111" stroke-width="1.6" /><polygon points="1875.5,646.5 1865.5,650.5 1865.5,642.5" fill="#111"/>
<line x1="1959.3" y1="646.5" x2="1979.2" y2="646.5" stroke="#111" stroke-width="1.6" /><polygon points="1988.2,646.5 1978.2,650.5 1978.2,642.5" fill="#111"/>
<rect x="1988.6" y="622.7" width="187.7" height="47.7" fill="#fff" rx="6" stroke="#111" stroke-width="1.4" stroke-dasharray="4 4"/>
<text x="2003.8" y="655.4" font-family='"Liberation Serif", serif' font-size="35" textLength="156" lengthAdjust="spacingAndGlyphs"><tspan font-weight="bold">R</tspan><tspan font-size="24" dy="6"><tspan font-weight="bold">x</tspan></tspan><tspan dy="-6" font-size="1">​</tspan>(<tspan font-weight="bold">x</tspan>, <tspan font-weight="bold">u</tspan>, <tspan font-weight="bold">c</tspan>)</text>
<text x="1913.7" y="695.2" font-family='"Liberation Sans", sans-serif' font-size="24" text-anchor="middle" textLength="93.46" lengthAdjust="spacingAndGlyphs">Reaction</text>
<rect x="1821.5" y="740.7" width="95.5" height="47.4" fill="#fff" rx="6" stroke="#111" stroke-width="1.4" stroke-dasharray="4 4"/>
<text x="1834.3" y="776.4" font-family='"Liberation Serif", serif' font-size="34" textLength="69.3" lengthAdjust="spacingAndGlyphs">∇<tspan font-size="22" dy="-13">2</tspan><tspan dy="13"><tspan font-weight="bold">x</tspan></tspan><tspan font-size="23" dy="5" font-style="italic">i</tspan><tspan dy="-5" font-size="1">​</tspan></text>
<text x="1862" y="821.5" font-family='"Liberation Sans", sans-serif' font-size="24" text-anchor="middle" textLength="91.86" lengthAdjust="spacingAndGlyphs">Diffusion</text>
<circle cx="1845.4" cy="883.6" r="17" fill="none" stroke="#111" stroke-width="1.5"/>
<circle cx="1845.4" cy="883.6" r="1.9" fill="#111"/>
<circle cx="1845.4" cy="957.7" r="17" fill="none" stroke="#111" stroke-width="1.5"/>
<circle cx="1845.4" cy="957.7" r="1.9" fill="#111"/>
<text x="1857.5" y="1001.6" font-family='"Liberation Sans", sans-serif' font-size="24" text-anchor="middle" textLength="103.96" lengthAdjust="spacingAndGlyphs">Advection</text>
<text x="2043.3" y="1003.2" font-family='"Liberation Sans", sans-serif' font-size="24" text-anchor="middle" textLength="136.36" lengthAdjust="spacingAndGlyphs">Differentiator</text>
<rect x="1976.2" y="1007" width="134.2" height="1.6" fill="#111"/>
<polyline points="2035,670.4 2035,848" fill="none" stroke="#111" stroke-width="2.2" />
<polyline points="2035,708 2112.7,708 2112.7,736.6" fill="none" stroke="#111" stroke-width="2.2" stroke-linejoin="miter"/><polygon points="2112.7,746.6 2108.4,735.6 2117,735.6" fill="#111"/>
<polyline points="2035,848 2112.7,848 2112.7,879.4" fill="none" stroke="#111" stroke-width="2.2" stroke-linejoin="miter"/><polygon points="2112.7,889.4 2108.4,878.4 2117,878.4" fill="#111"/>
<line x1="1917" y1="764.6" x2="2083.4" y2="764.6" stroke="#111" stroke-width="2.2" /><polygon points="2093.4,764.6 2082.4,768.9 2082.4,760.3" fill="#111"/>
<polyline points="1862.9,883.6 1999.7,883.6 1999.7,812.3 2112.7,812.3 2112.7,792.4" fill="none" stroke="#111" stroke-width="2.2" stroke-linejoin="miter"/><polygon points="2112.7,782.4 2117,793.4 2108.4,793.4" fill="#111"/>
<polyline points="1862.9,957.7 1999.7,957.7 1999.7,906.8 2083.4,906.8" fill="none" stroke="#111" stroke-width="2.2" stroke-linejoin="miter"/><polygon points="2093.4,906.8 2082.4,911.1 2082.4,902.5" fill="#111"/>
<circle cx="2111.1" cy="764.6" r="16.8" fill="none" stroke="#111" stroke-width="1.5"/>
<text x="2111.1" y="773.1" font-family='"Liberation Sans", sans-serif' font-size="27" text-anchor="middle">+</text>
<circle cx="2111.1" cy="906.8" r="16.8" fill="none" stroke="#111" stroke-width="1.5"/>
<text x="2111.1" y="915.3" font-family='"Liberation Sans", sans-serif' font-size="27" text-anchor="middle">+</text>
<line x1="2128.3" y1="764.6" x2="2142.8" y2="764.6" stroke="#111" stroke-width="2.2" /><polygon points="2151.8,764.6 2141.8,768.9 2141.8,760.3" fill="#111"/>
<line x1="2128.3" y1="906.8" x2="2142.8" y2="906.8" stroke="#111" stroke-width="2.2" /><polygon points="2151.8,906.8 2141.8,911.1 2141.8,902.5" fill="#111"/>
<rect x="2151.8" y="743.6" width="83.3" height="41.7" fill="#fff" stroke="#111" stroke-width="1.6"/>
<text x="2193.45" y="774.05" font-family='"Liberation Sans", sans-serif' font-size="27.6" text-anchor="middle">CNN</text>
<rect x="2151.8" y="886.1" width="83.3" height="41.4" fill="#fff" stroke="#111" stroke-width="1.6"/>
<text x="2193.45" y="916.4" font-family='"Liberation Sans", sans-serif' font-size="27.6" text-anchor="middle">CNN</text>
<rect x="2281.9" y="716.9" width="106.5" height="236" fill="none" rx="13" stroke="#111" stroke-width="1.4" stroke-dasharray="4 4"/>
<rect x="2564.1" y="716.9" width="107.5" height="236" fill="none" rx="13" stroke="#111" stroke-width="1.4" stroke-dasharray="4 4"/>
<text x="2312.1" y="753.1" font-family='"Liberation Serif", serif' font-size="32" textLength="47.7" lengthAdjust="spacingAndGlyphs"><tspan font-style="italic">∂</tspan><tspan font-weight="bold">x</tspan><tspan font-size="22" dy="5" font-style="italic">i</tspan><tspan dy="-5" font-size="1">​</tspan></text>
<rect x="2308" y="766.1" width="56.3" height="2" fill="#111"/>
<text x="2321.3" y="798" font-family='"Liberation Serif", serif' font-size="32" textLength="29.6" lengthAdjust="spacingAndGlyphs"><tspan font-style="italic">∂t</tspan></text>
<line x1="2235.1" y1="764.6" x2="2290" y2="764.6" stroke="#111" stroke-width="2.2" /><polygon points="2300,764.6 2289,768.9 2289,760.3" fill="#111"/>
<line x1="2371.6" y1="764.6" x2="2436.6" y2="764.6" stroke="#111" stroke-width="2.2" /><polygon points="2446.6,764.6 2435.6,768.9 2435.6,760.3" fill="#111"/>
<line x1="2506.2" y1="764.6" x2="2584.3" y2="764.6" stroke="#111" stroke-width="2.2" /><polygon points="2594.3,764.6 2583.3,768.9 2583.3,760.3" fill="#111"/>
<text x="2312.1" y="895.7" font-family='"Liberation Serif", serif' font-size="32" textLength="47.7" lengthAdjust="spacingAndGlyphs"><tspan font-style="italic">∂</tspan><tspan font-weight="bold">u</tspan><tspan font-size="22" dy="5" font-style="italic">i</tspan><tspan dy="-5" font-size="1">​</tspan></text>
<rect x="2308" y="908.3" width="56.3" height="2" fill="#111"/>
<text x="2321.3" y="940.2" font-family='"Liberation Serif", serif' font-size="32" textLength="29.6" lengthAdjust="spacingAndGlyphs"><tspan font-style="italic">∂t</tspan></text>
<line x1="2235.1" y1="906.8" x2="2290" y2="906.8" stroke="#111" stroke-width="2.2" /><polygon points="2300,906.8 2289,911.1 2289,902.5" fill="#111"/>
<line x1="2371.6" y1="906.8" x2="2436.6" y2="906.8" stroke="#111" stroke-width="2.2" /><polygon points="2446.6,906.8 2435.6,911.1 2435.6,902.5" fill="#111"/>
<line x1="2506.2" y1="906.8" x2="2584.3" y2="906.8" stroke="#111" stroke-width="2.2" /><polygon points="2594.3,906.8 2583.3,911.1 2583.3,902.5" fill="#111"/>
<rect x="2447" y="722.9" width="59.2" height="82.7" fill="#fff" stroke="#111" stroke-width="1.5"/>
<g transform="translate(2477,787.25) scale(0.6,1)"><text x="0" y="0" font-family='"DejaVu Serif", serif' font-size="84" text-anchor="middle">∫</text></g>
<rect x="2447" y="864.5" width="59.2" height="84.3" fill="#fff" stroke="#111" stroke-width="1.5"/>
<g transform="translate(2477,929.65) scale(0.6,1)"><text x="0" y="0" font-family='"DejaVu Serif", serif' font-size="84" text-anchor="middle">∫</text></g>
<text x="2476.4" y="1000.7" font-family='"Liberation Sans", sans-serif' font-size="24" text-anchor="middle" textLength="102.36" lengthAdjust="spacingAndGlyphs">Integrator</text>
<rect x="2426.3" y="1004.5" width="100.2" height="1.6" fill="#111"/>
<text x="2602.9" y="774.8" font-family='"Liberation Serif", serif' font-size="34" textLength="55" lengthAdjust="spacingAndGlyphs">Δ<tspan font-weight="bold">x</tspan><tspan font-size="24" dy="5" font-style="italic">i</tspan><tspan dy="-5" font-size="1">​</tspan></text>
<text x="2602.9" y="916.3" font-family='"Liberation Serif", serif' font-size="34" textLength="55" lengthAdjust="spacingAndGlyphs">Δ<tspan font-weight="bold">u</tspan><tspan font-size="24" dy="5" font-style="italic">i</tspan><tspan dy="-5" font-size="1">​</tspan></text>
<line x1="2671.6" y1="834.3" x2="2695.9" y2="834.3" stroke="#111" stroke-width="2.2" /><polygon points="2705.9,834.3 2694.9,838.6 2694.9,830" fill="#111"/>
<circle cx="2742.9" cy="834.3" r="37" fill="#fff" stroke="#111" stroke-width="1.6"/>
<text x="2742.9" y="853" font-family='"DejaVu Serif", serif' font-size="52" text-anchor="middle">∑</text>
<line x1="2780.2" y1="834.3" x2="2796.5" y2="834.3" stroke="#111" stroke-width="2.2" /><polygon points="2806.5,834.3 2795.5,838.6 2795.5,830" fill="#111"/>
<rect x="2806.5" y="781.8" width="106.9" height="105.9" fill="none" rx="13" stroke="#111" stroke-width="1.4" stroke-dasharray="4 4"/>
<text x="2829.1" y="821.5" font-family='"Liberation Serif", serif' font-size="34" textLength="57.9" lengthAdjust="spacingAndGlyphs"><tspan font-weight="bold">x</tspan><tspan font-size="24" dy="5" font-style="italic">i+1</tspan><tspan dy="-5" font-size="1">​</tspan></text>
<text x="2829.1" y="870.2" font-family='"Liberation Serif", serif' font-size="34" textLength="57.9" lengthAdjust="spacingAndGlyphs"><tspan font-weight="bold">u</tspan><tspan font-size="24" dy="5" font-style="italic">i+1</tspan><tspan dy="-5" font-size="1">​</tspan></text>
<text x="2723.2" y="930.5" font-family='"Liberation Sans", sans-serif' font-size="22" text-anchor="middle">+</text>
<text x="2755.52" y="930" font-family='"Liberation Sans", sans-serif' font-size="24" textLength="147.86" lengthAdjust="spacingAndGlyphs">concatenation</text>
<circle cx="2723.2" cy="963.4" r="1.7" fill="#111"/>
<text x="2769.82" y="970.4" font-family='"Liberation Sans", sans-serif' font-size="24" textLength="119.86" lengthAdjust="spacingAndGlyphs">dot product</text>
<text x="2723.7" y="1016" font-family='"DejaVu Serif", serif' font-size="36" text-anchor="middle">∑</text>
<text x="2771.42" y="1010.2" font-family='"Liberation Sans", sans-serif' font-size="24" textLength="116.06" lengthAdjust="spacingAndGlyphs">summation</text>
<!-- mid_b -->
<defs>
<radialGradient id="bg1" cx="0.5" cy="0.5" r="0.5"><stop offset="0" stop-color="#800000"/><stop offset="0.08" stop-color="#900000"/><stop offset="0.17" stop-color="#c20000"/><stop offset="0.25" stop-color="#ff1000"/><stop offset="0.33" stop-color="#ff7300"/><stop offset="0.42" stop-color="#ffe500"/><stop offset="0.5" stop-color="#a1ff5e"/><stop offset="0.58" stop-color="#2affd5"/><stop offset="0.67" stop-color="#00baff"/><stop offset="0.75" stop-color="#0057ff"/><stop offset="0.83" stop-color="#0003ff"/><stop offset="0.92" stop-color="#0000bd"/><stop offset="1" stop-color="#000080"/></radialGradient>
<radialGradient id="bg1b" cx="0.5" cy="0.5" r="0.5"><stop offset="0" stop-color="#800000"/><stop offset="0.08" stop-color="#800000"/><stop offset="0.17" stop-color="#800000"/><stop offset="0.25" stop-color="#c90000"/><stop offset="0.33" stop-color="#ff3500"/><stop offset="0.42" stop-color="#ffb000"/><stop offset="0.5" stop-color="#ccff33"/><stop offset="0.58" stop-color="#4cffb3"/><stop offset="0.67" stop-color="#00d3ff"/><stop offset="0.75" stop-color="#0068ff"/><stop offset="0.83" stop-color="#000dff"/><stop offset="0.92" stop-color="#0000c2"/><stop offset="1" stop-color="#000080"/></radialGradient>
<radialGradient id="bg2" cx="0.5" cy="0.5" r="0.56" fx="0.84" fy="0.5"><stop offset="0" stop-color="#e5ff1a"/><stop offset="0.12" stop-color="#cfff30"/><stop offset="0.25" stop-color="#8fff70"/><stop offset="0.38" stop-color="#32ffcd"/><stop offset="0.5" stop-color="#00c6ff"/><stop offset="0.62" stop-color="#005dff"/><stop offset="0.75" stop-color="#0001ff"/><stop offset="0.88" stop-color="#0000b8"/><stop offset="1" stop-color="#000080"/></radialGradient>
<radialGradient id="bg3" cx="0.5" cy="0.5" r="0.56" fx="0.84" fy="0.5"><stop offset="0" stop-color="#4dffb2"/><stop offset="0.12" stop-color="#3cffc3"/><stop offset="0.25" stop-color="#0cfff3"/><stop offset="0.38" stop-color="#00c5ff"/><stop offset="0.5" stop-color="#0075ff"/><stop offset="0.62" stop-color="#0026ff"/><stop offset="0.75" stop-color="#0000e0"/><stop offset="0.88" stop-color="#0000aa"/><stop offset="1" stop-color="#000080"/></radialGradient>
<radialGradient id="bg4" cx="0.5" cy="0.5" r="0.56" fx="0.84" fy="0.5"><stop offset="0" stop-color="#00f0ff"/><stop offset="0.12" stop-color="#00e2ff"/><stop offset="0.25" stop-color="#00bcff"/><stop offset="0.38" stop-color="#0084ff"/><stop offset="0.5" stop-color="#0044ff"/><stop offset="0.62" stop-color="#0005ff"/><stop offset="0.75" stop-color="#0000cd"/><stop offset="0.88" stop-color="#0000a1"/><stop offset="1" stop-color="#000080"/></radialGradient>
<radialGradient id="bg5" cx="0.5" cy="0.5" r="0.56" fx="0.84" fy="0.5"><stop offset="0" stop-color="#00a8ff"/><stop offset="0.12" stop-color="#009dff"/><stop offset="0.25" stop-color="#007fff"/><stop offset="0.38" stop-color="#0052ff"/><stop offset="0.5" stop-color="#001eff"/><stop offset="0.62" stop-color="#0000ea"/><stop offset="0.75" stop-color="#0000be"/><stop offset="0.88" stop-color="#00009b"/><stop offset="1" stop-color="#000080"/></radialGradient>
<radialGradient id="bg6" cx="0.5" cy="0.5" r="0.56" fx="0.66" fy="0.5"><stop offset="0" stop-color="#ff6100"/><stop offset="0.12" stop-color="#ff7e00"/><stop offset="0.25" stop-color="#ffd100"/><stop offset="0.38" stop-color="#b4ff4b"/><stop offset="0.5" stop-color="#29ffd6"/><stop offset="0.62" stop-color="#009fff"/><stop offset="0.75" stop-color="#0027ff"/><stop offset="0.88" stop-color="#0000c9"/><stop offset="1" stop-color="#000080"/></radialGradient>
<radialGradient id="bg7" cx="0.5" cy="0.5" r="0.56" fx="0.66" fy="0.5"><stop offset="0" stop-color="#b3ff4c"/><stop offset="0.12" stop-color="#9eff61"/><stop offset="0.25" stop-color="#64ff9b"/><stop offset="0.38" stop-color="#0efff1"/><stop offset="0.5" stop-color="#00abff"/><stop offset="0.62" stop-color="#004bff"/><stop offset="0.75" stop-color="#0000f5"/><stop offset="0.88" stop-color="#0000b3"/><stop offset="1" stop-color="#000080"/></radialGradient>
<radialGradient id="bg8" cx="0.5" cy="0.5" r="0.56" fx="0.66" fy="0.5"><stop offset="0" stop-color="#6bff94"/><stop offset="0.12" stop-color="#59ffa6"/><stop offset="0.25" stop-color="#26ffd9"/><stop offset="0.38" stop-color="#00dbff"/><stop offset="0.5" stop-color="#0085ff"/><stop offset="0.62" stop-color="#0031ff"/><stop offset="0.75" stop-color="#0000e6"/><stop offset="0.88" stop-color="#0000ad"/><stop offset="1" stop-color="#000080"/></radialGradient>
<radialGradient id="bg9" cx="0.5" cy="0.5" r="0.56" fx="0.66" fy="0.5"><stop offset="0" stop-color="#42ffbd"/><stop offset="0.12" stop-color="#32ffcd"/><stop offset="0.25" stop-color="#03fffc"/><stop offset="0.38" stop-color="#00beff"/><stop offset="0.5" stop-color="#006fff"/><stop offset="0.62" stop-color="#0022ff"/><stop offset="0.75" stop-color="#0000de"/><stop offset="0.88" stop-color="#0000a9"/><stop offset="1" stop-color="#000080"/></radialGradient>
<radialGradient id="bg10" cx="0.5" cy="0.5" r="0.56" fx="0.84" fy="0.5"><stop offset="0" stop-color="#80ff80"/><stop offset="0.12" stop-color="#6dff92"/><stop offset="0.25" stop-color="#38ffc7"/><stop offset="0.38" stop-color="#00e9ff"/><stop offset="0.5" stop-color="#0090ff"/><stop offset="0.62" stop-color="#0038ff"/><stop offset="0.75" stop-color="#0000eb"/><stop offset="0.88" stop-color="#0000ae"/><stop offset="1" stop-color="#000080"/></radialGradient>
<radialGradient id="bg11" cx="0.5" cy="0.5" r="0.56" fx="0.84" fy="0.5"><stop offset="0" stop-color="#1affe5"/><stop offset="0.12" stop-color="#0afff5"/><stop offset="0.25" stop-color="#00dfff"/><stop offset="0.38" stop-color="#00a1ff"/><stop offset="0.5" stop-color="#005aff"/><stop offset="0.62" stop-color="#0013ff"/><stop offset="0.75" stop-color="#0000d5"/><stop offset="0.88" stop-color="#0000a5"/><stop offset="1" stop-color="#000080"/></radialGradient>
<radialGradient id="bg12" cx="0.5" cy="0.5" r="0.56" fx="0.84" fy="0.5"><stop offset="0" stop-color="#00d1ff"/><stop offset="0.12" stop-color="#00c5ff"/><stop offset="0.25" stop-color="#00a2ff"/><stop offset="0.38" stop-color="#006fff"/><stop offset="0.5" stop-color="#0034ff"/><stop offset="0.62" stop-color="#0000f9"/><stop offset="0.75" stop-color="#0000c6"/><stop offset="0.88" stop-color="#00009e"/><stop offset="1" stop-color="#000080"/></radialGradient>
<radialGradient id="bg13" cx="0.5" cy="0.5" r="0.56" fx="0.84" fy="0.5"><stop offset="0" stop-color="#0094ff"/><stop offset="0.12" stop-color="#008aff"/><stop offset="0.25" stop-color="#006dff"/><stop offset="0.38" stop-color="#0043ff"/><stop offset="0.5" stop-color="#0013ff"/><stop offset="0.62" stop-color="#0000e3"/><stop offset="0.75" stop-color="#0000b9"/><stop offset="0.88" stop-color="#000099"/><stop offset="1" stop-color="#000080"/></radialGradient>
</defs>
<text x="1571.51" y="1154.5" font-family='"Liberation Sans", sans-serif' font-size="46.5" font-weight="bold" textLength="199.19" lengthAdjust="spacingAndGlyphs">RESULTS</text>
<text x="1573.1" y="1221.5" font-family='"Liberation Sans", sans-serif' font-size="37.8" font-style="italic" textLength="772.5" lengthAdjust="spacingAndGlyphs">A. Canonical Benchmarks (Mild Nonlinearity)</text>
<text x="1591.5" y="1283.6" font-family='"Liberation Sans", sans-serif' font-size="35.5" font-weight="bold" textLength="320.09" lengthAdjust="spacingAndGlyphs">Burgers’ Equation</text>
<text x="2315.4" y="1286.7" font-family='"Liberation Sans", sans-serif' font-size="35.5" font-weight="bold" textLength="449.3" lengthAdjust="spacingAndGlyphs">Navier-Stokes Equations</text>
<text x="1654.5" y="1320" font-family='"DejaVu Sans", sans-serif' font-size="21.9" text-anchor="middle" textLength="82.47" lengthAdjust="spacingAndGlyphs">0.06 (s)</text>
<text x="1782.8" y="1320" font-family='"DejaVu Sans", sans-serif' font-size="21.9" text-anchor="middle" textLength="82.47" lengthAdjust="spacingAndGlyphs">0.54 (s)</text>
<text x="1911.4" y="1320" font-family='"DejaVu Sans", sans-serif' font-size="21.9" text-anchor="middle" textLength="82.47" lengthAdjust="spacingAndGlyphs">1.02 (s)</text>
<text x="2040" y="1320" font-family='"DejaVu Sans", sans-serif' font-size="21.9" text-anchor="middle" textLength="82.47" lengthAdjust="spacingAndGlyphs">1.50 (s)</text>
<text x="2168.4" y="1320" font-family='"DejaVu Sans", sans-serif' font-size="21.9" text-anchor="middle" textLength="82.47" lengthAdjust="spacingAndGlyphs">1.98 (s)</text>
<g transform="translate(1561.4,1385.9) rotate(-90)"><text x="0" y="0" font-family='"DejaVu Sans", sans-serif' font-size="21.9" text-anchor="middle">Ground</text></g>
<g transform="translate(1586.1,1385.9) rotate(-90)"><text x="0" y="0" font-family='"DejaVu Sans", sans-serif' font-size="21.9" text-anchor="middle">truth</text></g>
<rect x="1593.6" y="1324" width="121.8" height="121.8" fill="#000080"/>
<circle cx="1658.15" cy="1388.55" r="34.71" fill="url(#bg1)"/>
<rect x="1721.9" y="1324" width="121.8" height="121.8" fill="#000080"/>
<svg x="1721.9" y="1324" width="121.8" height="121.8" overflow="hidden"><ellipse cx="0" cy="0" rx="37.76" ry="30.45" fill="url(#bg2)" transform="translate(67.6,68.82) rotate(47)"/></svg>
<rect x="1850.5" y="1324" width="121.8" height="121.8" fill="#000080"/>
<svg x="1850.5" y="1324" width="121.8" height="121.8" overflow="hidden"><ellipse cx="0" cy="0" rx="43.85" ry="34.71" fill="url(#bg3)" transform="translate(71.25,73.08) rotate(47)"/></svg>
<rect x="1979.1" y="1324" width="121.8" height="121.8" fill="#000080"/>
<svg x="1979.1" y="1324" width="121.8" height="121.8" overflow="hidden"><ellipse cx="0" cy="0" rx="48.72" ry="36.54" fill="url(#bg4)" transform="translate(74.3,76.12) rotate(47)"/></svg>
<rect x="2107.5" y="1324" width="121.8" height="121.8" fill="#000080"/>
<svg x="2107.5" y="1324" width="121.8" height="121.8" overflow="hidden"><ellipse cx="0" cy="0" rx="52.37" ry="37.76" fill="url(#bg5)" transform="translate(77.34,79.17) rotate(47)"/></svg>
<g transform="translate(1587.6,1514.83) rotate(-90)"><text x="0" y="0" font-family='"DejaVu Sans", sans-serif' font-size="21.9" text-anchor="middle">PARCv2</text></g>
<rect x="1593.6" y="1452.93" width="121.8" height="121.8" fill="#000080"/>
<circle cx="1658.15" cy="1517.48" r="34.71" fill="url(#bg1)"/>
<rect x="1721.9" y="1452.93" width="121.8" height="121.8" fill="#000080"/>
<svg x="1721.9" y="1452.93" width="121.8" height="121.8" overflow="hidden"><ellipse cx="0" cy="0" rx="37.76" ry="30.45" fill="url(#bg2)" transform="translate(67.6,68.82) rotate(47)"/></svg>
<rect x="1850.5" y="1452.93" width="121.8" height="121.8" fill="#000080"/>
<svg x="1850.5" y="1452.93" width="121.8" height="121.8" overflow="hidden"><ellipse cx="0" cy="0" rx="43.85" ry="34.71" fill="url(#bg3)" transform="translate(71.25,73.08) rotate(47)"/></svg>
<rect x="1979.1" y="1452.93" width="121.8" height="121.8" fill="#000080"/>
<svg x="1979.1" y="1452.93" width="121.8" height="121.8" overflow="hidden"><ellipse cx="0" cy="0" rx="48.72" ry="36.54" fill="url(#bg4)" transform="translate(74.3,76.12) rotate(47)"/></svg>
<rect x="2107.5" y="1452.93" width="121.8" height="121.8" fill="#000080"/>
<svg x="2107.5" y="1452.93" width="121.8" height="121.8" overflow="hidden"><ellipse cx="0" cy="0" rx="52.37" ry="37.76" fill="url(#bg5)" transform="translate(77.34,79.17) rotate(47)"/></svg>
<g transform="translate(1561.4,1643.76) rotate(-90)"><text x="0" y="0" font-family='"DejaVu Sans", sans-serif' font-size="21.9" text-anchor="middle">PARC</text></g>
<g transform="translate(1586.1,1643.76) rotate(-90)"><text x="0" y="0" font-family='"DejaVu Sans", sans-serif' font-size="21.9" text-anchor="middle">(num. int.)</text></g>
<rect x="1593.6" y="1581.86" width="121.8" height="121.8" fill="#000080"/>
<circle cx="1658.15" cy="1646.41" r="34.71" fill="url(#bg1)"/>
<rect x="1721.9" y="1581.86" width="121.8" height="121.8" fill="#000080"/>
<svg x="1721.9" y="1581.86" width="121.8" height="121.8" overflow="hidden"><ellipse cx="0" cy="0" rx="37.76" ry="30.45" fill="url(#bg2)" transform="translate(67.6,68.82) rotate(47)"/></svg>
<rect x="1850.5" y="1581.86" width="121.8" height="121.8" fill="#000080"/>
<svg x="1850.5" y="1581.86" width="121.8" height="121.8" overflow="hidden"><ellipse cx="0" cy="0" rx="43.85" ry="34.71" fill="url(#bg3)" transform="translate(71.25,73.08) rotate(47)"/></svg>
<rect x="1979.1" y="1581.86" width="121.8" height="121.8" fill="#000080"/>
<svg x="1979.1" y="1581.86" width="121.8" height="121.8" overflow="hidden"><ellipse cx="0" cy="0" rx="48.72" ry="36.54" fill="url(#bg4)" transform="translate(74.3,76.12) rotate(47)"/></svg>
<rect x="2107.5" y="1581.86" width="121.8" height="121.8" fill="#000080"/>
<svg x="2107.5" y="1581.86" width="121.8" height="121.8" overflow="hidden"><ellipse cx="0" cy="0" rx="52.37" ry="37.76" fill="url(#bg5)" transform="translate(77.34,79.17) rotate(47)"/></svg>
<g transform="translate(1561.4,1772.69) rotate(-90)"><text x="0" y="0" font-family='"DejaVu Sans", sans-serif' font-size="21.9" text-anchor="middle">PARC</text></g>
<g transform="translate(1586.1,1772.69) rotate(-90)"><text x="0" y="0" font-family='"DejaVu Sans", sans-serif' font-size="21.9" text-anchor="middle">(NN int.)</text></g>
<rect x="1593.6" y="1710.79" width="121.8" height="121.8" fill="#000080"/>
<circle cx="1658.15" cy="1775.34" r="34.71" fill="url(#bg1)"/>
<rect x="1721.9" y="1710.79" width="121.8" height="121.8" fill="#000080"/>
<svg x="1721.9" y="1710.79" width="121.8" height="121.8" overflow="hidden"><ellipse cx="0" cy="0" rx="37.76" ry="30.45" fill="url(#bg2)" transform="translate(67.6,68.82) rotate(47)"/></svg>
<rect x="1850.5" y="1710.79" width="121.8" height="121.8" fill="#000080"/>
<svg x="1850.5" y="1710.79" width="121.8" height="121.8" overflow="hidden"><ellipse cx="0" cy="0" rx="43.85" ry="34.71" fill="url(#bg3)" transform="translate(71.25,73.08) rotate(47)"/></svg>
<rect x="1979.1" y="1710.79" width="121.8" height="121.8" fill="#000080"/>
<svg x="1979.1" y="1710.79" width="121.8" height="121.8" overflow="hidden"><ellipse cx="0" cy="0" rx="48.72" ry="36.54" fill="url(#bg4)" transform="translate(74.3,76.12) rotate(47)"/></svg>
<rect x="2107.5" y="1710.79" width="121.8" height="121.8" fill="#000080"/>
<svg x="2107.5" y="1710.79" width="121.8" height="121.8" overflow="hidden"><ellipse cx="0" cy="0" rx="52.37" ry="37.76" fill="url(#bg5)" transform="translate(77.34,79.17) rotate(47)"/></svg>
<g transform="translate(1587.6,1901.62) rotate(-90)"><text x="0" y="0" font-family='"DejaVu Sans", sans-serif' font-size="21.9" text-anchor="middle">FNO</text></g>
<rect x="1593.6" y="1839.72" width="121.8" height="121.8" fill="#000080"/>
<circle cx="1658.15" cy="1904.27" r="34.71" fill="url(#bg1)"/>
<rect x="1721.9" y="1839.72" width="121.8" height="121.8" fill="#000080"/>
<svg x="1721.9" y="1839.72" width="121.8" height="121.8" overflow="hidden"><ellipse cx="0" cy="0" rx="37.76" ry="30.45" fill="url(#bg2)" transform="translate(67.6,68.82) rotate(47)"/></svg>
<rect x="1850.5" y="1839.72" width="121.8" height="121.8" fill="#000080"/>
<svg x="1850.5" y="1839.72" width="121.8" height="121.8" overflow="hidden"><ellipse cx="0" cy="0" rx="43.85" ry="34.71" fill="url(#bg3)" transform="translate(71.25,73.08) rotate(47)"/></svg>
<rect x="1979.1" y="1839.72" width="121.8" height="121.8" fill="#000080"/>
<svg x="1979.1" y="1839.72" width="121.8" height="121.8" overflow="hidden"><ellipse cx="0" cy="0" rx="48.72" ry="36.54" fill="url(#bg4)" transform="translate(74.3,76.12) rotate(47)"/></svg>
<rect x="2107.5" y="1839.72" width="121.8" height="121.8" fill="#000080"/>
<svg x="2107.5" y="1839.72" width="121.8" height="121.8" overflow="hidden"><ellipse cx="0" cy="0" rx="52.37" ry="37.76" fill="url(#bg5)" transform="translate(77.34,79.17) rotate(47)"/></svg>
<g transform="translate(1587.6,2030.55) rotate(-90)"><text x="0" y="0" font-family='"DejaVu Sans", sans-serif' font-size="21.9" text-anchor="middle">PhyCRNet</text></g>
<rect x="1593.6" y="1968.65" width="121.8" height="121.8" fill="#000080"/>
<circle cx="1658.15" cy="2033.2" r="34.71" fill="url(#bg1b)"/>
<rect x="1721.9" y="1968.65" width="121.8" height="121.8" fill="#000080"/>
<svg x="1721.9" y="1968.65" width="121.8" height="121.8" overflow="hidden"><ellipse cx="0" cy="0" rx="30.45" ry="26.8" fill="url(#bg6)" transform="translate(63.34,64.55) rotate(47)"/></svg>
<rect x="1850.5" y="1968.65" width="121.8" height="121.8" fill="#000080"/>
<svg x="1850.5" y="1968.65" width="121.8" height="121.8" overflow="hidden"><ellipse cx="0" cy="0" rx="36.54" ry="28.01" fill="url(#bg7)" transform="translate(66.99,69.43) rotate(47)"/></svg>
<rect x="1979.1" y="1968.65" width="121.8" height="121.8" fill="#000080"/>
<svg x="1979.1" y="1968.65" width="121.8" height="121.8" overflow="hidden"><ellipse cx="0" cy="0" rx="40.19" ry="29.23" fill="url(#bg8)" transform="translate(70.64,73.08) rotate(47)"/></svg>
<rect x="2107.5" y="1968.65" width="121.8" height="121.8" fill="#000080"/>
<svg x="2107.5" y="1968.65" width="121.8" height="121.8" overflow="hidden"><ellipse cx="0" cy="0" rx="42.63" ry="30.45" fill="url(#bg9)" transform="translate(75.52,76.73) rotate(47)"/></svg>
<g transform="translate(1587.6,2159.48) rotate(-90)"><text x="0" y="0" font-family='"DejaVu Sans", sans-serif' font-size="21.9" text-anchor="middle">PI-FNO</text></g>
<rect x="1593.6" y="2097.58" width="121.8" height="121.8" fill="#000080"/>
<circle cx="1658.15" cy="2162.13" r="34.71" fill="url(#bg1)"/>
<rect x="1721.9" y="2097.58" width="121.8" height="121.8" fill="#000080"/>
<svg x="1721.9" y="2097.58" width="121.8" height="121.8" overflow="hidden"><ellipse cx="0" cy="0" rx="34.1" ry="26.8" fill="url(#bg10)" transform="translate(66.99,70.64) rotate(47)"/></svg>
<rect x="1850.5" y="2097.58" width="121.8" height="121.8" fill="#000080"/>
<svg x="1850.5" y="2097.58" width="121.8" height="121.8" overflow="hidden"><ellipse cx="0" cy="0" rx="38.98" ry="30.45" fill="url(#bg11)" transform="translate(70.64,75.52) rotate(47)"/></svg>
<rect x="1979.1" y="2097.58" width="121.8" height="121.8" fill="#000080"/>
<svg x="1979.1" y="2097.58" width="121.8" height="121.8" overflow="hidden"><ellipse cx="0" cy="0" rx="42.63" ry="31.67" fill="url(#bg12)" transform="translate(73.08,79.17) rotate(47)"/></svg>
<rect x="2107.5" y="2097.58" width="121.8" height="121.8" fill="#000080"/>
<svg x="2107.5" y="2097.58" width="121.8" height="121.8" overflow="hidden"><ellipse cx="0" cy="0" rx="45.07" ry="32.89" fill="url(#bg13)" transform="translate(75.52,81.61) rotate(47)"/></svg>
<text x="2354.55" y="1328.5" font-family='"DejaVu Sans", sans-serif' font-size="24.7" text-anchor="middle" textLength="99.22" lengthAdjust="spacingAndGlyphs">0.16 (s)</text>
<text x="2591.95" y="1328.5" font-family='"DejaVu Sans", sans-serif' font-size="24.7" text-anchor="middle" textLength="99.22" lengthAdjust="spacingAndGlyphs">1.08 (s)</text>
<text x="2828.75" y="1328.5" font-family='"DejaVu Sans", sans-serif' font-size="24.7" text-anchor="middle" textLength="99.22" lengthAdjust="spacingAndGlyphs">2.00 (s)</text>
<clipPath id="n1"><rect x="2242.6" y="1333.6" width="223.9" height="109.6"/></clipPath>
<rect x="2242.6" y="1333.6" width="223.9" height="109.6" fill="#C9C9FA"/>
<g clip-path="url(#n1)"><g filter="url(#blur6)"><ellipse cx="2307.53" cy="1388.4" rx="42.54" ry="87.68" fill="#FFFFFF" opacity="0.95"/><ellipse cx="2309.77" cy="1362.1" rx="24.63" ry="20.82" fill="#FF9090" opacity="0.7"/><ellipse cx="2309.77" cy="1414.7" rx="24.63" ry="20.82" fill="#FF9090" opacity="0.7"/><ellipse cx="2278.42" cy="1388.4" rx="15.67" ry="12.06" fill="#4040FF" opacity="0.75"/><ellipse cx="2332.16" cy="1388.4" rx="22.39" ry="14.25" fill="#1818FF" opacity="0.95"/><ellipse cx="2328.8" cy="1388.4" rx="6.72" ry="3.84" fill="#FFE8E8" opacity="0.95"/></g><circle cx="2298.57" cy="1388.4" r="14.78" fill="#0000FF"/><path d="M2298.57,1373.62 L2315.57,1376.58 L2315.57,1400.22 L2298.57,1403.18 Z" fill="#0000FF"/></g>
<rect x="2242.6" y="1333.6" width="223.9" height="109.6" fill="none" stroke="#777" stroke-width="1"/>
<clipPath id="n2"><rect x="2480" y="1333.6" width="223.9" height="109.6"/></clipPath>
<rect x="2480" y="1333.6" width="223.9" height="109.6" fill="#E4E4FD"/>
<g clip-path="url(#n2)"><g filter="url(#blur6)"><ellipse cx="2547.17" cy="1382.92" rx="44.78" ry="87.68" fill="#FFFFFF" opacity="0.7"/><ellipse cx="2502.39" cy="1399.36" rx="22.39" ry="54.8" fill="#C9C9FA" opacity="0.8"/><ellipse cx="2515.82" cy="1388.4" rx="14.55" ry="12.06" fill="#4040FF" opacity="0.75"/><ellipse cx="2540.45" cy="1359.9" rx="22.39" ry="19.73" fill="#FF9090" opacity="0.7" transform="rotate(-15 2540.45 1359.9)"/><ellipse cx="2540.45" cy="1421.28" rx="17.91" ry="13.15" fill="#FF9090" opacity="0.45"/><ellipse cx="2567.32" cy="1394.98" rx="12.31" ry="16.44" fill="#1818FF" opacity="0.9" transform="rotate(-35 2567.32 1394.98)"/><ellipse cx="2596.43" cy="1373.06" rx="7.84" ry="21.92" fill="#4040FF" opacity="0.85" transform="rotate(15 2596.43 1373.06)"/><ellipse cx="2623.3" cy="1363.19" rx="22.39" ry="14.25" fill="#9A9AFF" opacity="0.6"/><ellipse cx="2598.67" cy="1410.32" rx="20.15" ry="10.96" fill="#FF6A6A" opacity="0.75" transform="rotate(-25 2598.67 1410.32)"/><ellipse cx="2654.64" cy="1399.36" rx="26.87" ry="7.67" fill="#FF9090" opacity="0.7" transform="rotate(25 2654.64 1399.36)"/><ellipse cx="2681.51" cy="1421.28" rx="17.91" ry="6.58" fill="#FF9090" opacity="0.7" transform="rotate(40 2681.51 1421.28)"/><ellipse cx="2659.12" cy="1439.91" rx="24.63" ry="21.92" fill="#4040FF" opacity="0.95"/><ellipse cx="2701.66" cy="1388.4" rx="7.84" ry="27.4" fill="#4040FF" opacity="0.9"/><ellipse cx="2701.66" cy="1439.91" rx="6.72" ry="14.25" fill="#FF1818" opacity="0.95"/></g><circle cx="2535.97" cy="1388.4" r="14.78" fill="#0000FF"/><path d="M2535.97,1373.62 L2552.97,1376.58 L2552.97,1400.22 L2535.97,1403.18 Z" fill="#0000FF"/></g>
<rect x="2480" y="1333.6" width="223.9" height="109.6" fill="none" stroke="#777" stroke-width="1"/>
<clipPath id="n3"><rect x="2716.8" y="1333.6" width="223.9" height="109.6"/></clipPath>
<rect x="2716.8" y="1333.6" width="223.9" height="109.6" fill="#E4E4FD"/>
<g clip-path="url(#n3)"><g filter="url(#blur6)"><ellipse cx="2783.97" cy="1382.92" rx="44.78" ry="87.68" fill="#FFFFFF" opacity="0.7"/><ellipse cx="2739.19" cy="1399.36" rx="22.39" ry="54.8" fill="#C9C9FA" opacity="0.8"/><ellipse cx="2752.62" cy="1388.4" rx="14.55" ry="12.06" fill="#4040FF" opacity="0.75"/><ellipse cx="2777.25" cy="1359.9" rx="22.39" ry="17.54" fill="#FF9090" opacity="0.65" transform="rotate(-15 2777.25 1359.9)"/><ellipse cx="2783.97" cy="1419.09" rx="29.11" ry="13.15" fill="#FF9090" opacity="0.5"/><ellipse cx="2806.36" cy="1377.44" rx="15.67" ry="7.67" fill="#1818FF" opacity="0.85" transform="rotate(-35 2806.36 1377.44)"/><ellipse cx="2822.03" cy="1366.48" rx="11.2" ry="5.48" fill="#4040FF" opacity="0.7"/><ellipse cx="2839.95" cy="1355.52" rx="17.91" ry="10.96" fill="#FF9090" opacity="0.6"/><ellipse cx="2866.81" cy="1379.63" rx="11.2" ry="16.44" fill="#FF9090" opacity="0.55" transform="rotate(-35 2866.81 1379.63)"/><ellipse cx="2900.4" cy="1397.17" rx="22.39" ry="8.77" fill="#FF9090" opacity="0.6"/><ellipse cx="2933.98" cy="1364.29" rx="11.2" ry="21.92" fill="#FF9090" opacity="0.5" transform="rotate(15 2933.98 1364.29)"/><ellipse cx="2895.92" cy="1361" rx="13.43" ry="21.92" fill="#4040FF" opacity="0.75"/><ellipse cx="2846.66" cy="1410.32" rx="10.08" ry="21.92" fill="#4040FF" opacity="0.8"/><ellipse cx="2938.46" cy="1404.84" rx="6.72" ry="21.92" fill="#4040FF" opacity="0.85"/></g><circle cx="2772.78" cy="1388.4" r="14.78" fill="#0000FF"/><path d="M2772.78,1373.62 L2789.77,1376.58 L2789.77,1400.22 L2772.78,1403.18 Z" fill="#0000FF"/></g>
<rect x="2716.8" y="1333.6" width="223.9" height="109.6" fill="none" stroke="#777" stroke-width="1"/>
<clipPath id="n4"><rect x="2242.6" y="1462.15" width="223.9" height="109.6"/></clipPath>
<rect x="2242.6" y="1462.15" width="223.9" height="109.6" fill="#C9C9FA"/>
<g clip-path="url(#n4)"><g filter="url(#blur6)"><ellipse cx="2307.53" cy="1516.95" rx="42.54" ry="87.68" fill="#FFFFFF" opacity="0.95"/><ellipse cx="2309.77" cy="1490.65" rx="24.63" ry="20.82" fill="#FF9090" opacity="0.7"/><ellipse cx="2309.77" cy="1543.25" rx="24.63" ry="20.82" fill="#FF9090" opacity="0.7"/><ellipse cx="2278.42" cy="1516.95" rx="15.67" ry="12.06" fill="#4040FF" opacity="0.75"/><ellipse cx="2332.16" cy="1516.95" rx="22.39" ry="14.25" fill="#1818FF" opacity="0.95"/><ellipse cx="2328.8" cy="1516.95" rx="6.72" ry="3.84" fill="#FFE8E8" opacity="0.95"/></g><circle cx="2298.57" cy="1516.95" r="14.78" fill="#0000FF"/><path d="M2298.57,1502.17 L2315.57,1505.13 L2315.57,1528.77 L2298.57,1531.73 Z" fill="#0000FF"/></g>
<rect x="2242.6" y="1462.15" width="223.9" height="109.6" fill="none" stroke="#777" stroke-width="1"/>
<clipPath id="n5"><rect x="2480" y="1462.15" width="223.9" height="109.6"/></clipPath>
<rect x="2480" y="1462.15" width="223.9" height="109.6" fill="#E4E4FD"/>
<g clip-path="url(#n5)"><g filter="url(#blur6)"><ellipse cx="2547.17" cy="1511.47" rx="44.78" ry="87.68" fill="#FFFFFF" opacity="0.7"/><ellipse cx="2502.39" cy="1527.91" rx="22.39" ry="54.8" fill="#C9C9FA" opacity="0.8"/><ellipse cx="2515.82" cy="1516.95" rx="14.55" ry="12.06" fill="#4040FF" opacity="0.75"/><ellipse cx="2540.45" cy="1488.45" rx="22.39" ry="19.73" fill="#FF9090" opacity="0.7" transform="rotate(-15 2540.45 1488.45)"/><ellipse cx="2540.45" cy="1549.83" rx="17.91" ry="13.15" fill="#FF9090" opacity="0.45"/><ellipse cx="2567.32" cy="1523.53" rx="12.31" ry="16.44" fill="#1818FF" opacity="0.9" transform="rotate(-35 2567.32 1523.53)"/><ellipse cx="2596.43" cy="1501.61" rx="7.84" ry="21.92" fill="#4040FF" opacity="0.85" transform="rotate(15 2596.43 1501.61)"/><ellipse cx="2623.3" cy="1491.74" rx="22.39" ry="14.25" fill="#9A9AFF" opacity="0.6"/><ellipse cx="2598.67" cy="1538.87" rx="20.15" ry="10.96" fill="#FF6A6A" opacity="0.75" transform="rotate(-25 2598.67 1538.87)"/><ellipse cx="2654.64" cy="1527.91" rx="26.87" ry="7.67" fill="#FF9090" opacity="0.7" transform="rotate(25 2654.64 1527.91)"/><ellipse cx="2681.51" cy="1549.83" rx="17.91" ry="6.58" fill="#FF9090" opacity="0.7" transform="rotate(40 2681.51 1549.83)"/><ellipse cx="2659.12" cy="1568.46" rx="24.63" ry="21.92" fill="#4040FF" opacity="0.95"/><ellipse cx="2701.66" cy="1516.95" rx="7.84" ry="27.4" fill="#4040FF" opacity="0.9"/><ellipse cx="2701.66" cy="1568.46" rx="6.72" ry="14.25" fill="#FF1818" opacity="0.95"/></g><circle cx="2535.97" cy="1516.95" r="14.78" fill="#0000FF"/><path d="M2535.97,1502.17 L2552.97,1505.13 L2552.97,1528.77 L2535.97,1531.73 Z" fill="#0000FF"/></g>
<rect x="2480" y="1462.15" width="223.9" height="109.6" fill="none" stroke="#777" stroke-width="1"/>
<clipPath id="n6"><rect x="2716.8" y="1462.15" width="223.9" height="109.6"/></clipPath>
<rect x="2716.8" y="1462.15" width="223.9" height="109.6" fill="#E4E4FD"/>
<g clip-path="url(#n6)"><g filter="url(#blur6)"><ellipse cx="2783.97" cy="1511.47" rx="44.78" ry="87.68" fill="#FFFFFF" opacity="0.7"/><ellipse cx="2739.19" cy="1527.91" rx="22.39" ry="54.8" fill="#C9C9FA" opacity="0.8"/><ellipse cx="2752.62" cy="1516.95" rx="14.55" ry="12.06" fill="#4040FF" opacity="0.75"/><ellipse cx="2777.25" cy="1488.45" rx="22.39" ry="17.54" fill="#FF9090" opacity="0.65" transform="rotate(-15 2777.25 1488.45)"/><ellipse cx="2783.97" cy="1547.64" rx="29.11" ry="13.15" fill="#FF9090" opacity="0.5"/><ellipse cx="2806.36" cy="1505.99" rx="15.67" ry="7.67" fill="#1818FF" opacity="0.85" transform="rotate(-35 2806.36 1505.99)"/><ellipse cx="2822.03" cy="1495.03" rx="11.2" ry="5.48" fill="#4040FF" opacity="0.7"/><ellipse cx="2839.95" cy="1484.07" rx="17.91" ry="10.96" fill="#FF9090" opacity="0.6"/><ellipse cx="2866.81" cy="1508.18" rx="11.2" ry="16.44" fill="#FF9090" opacity="0.55" transform="rotate(-35 2866.81 1508.18)"/><ellipse cx="2900.4" cy="1525.72" rx="22.39" ry="8.77" fill="#FF9090" opacity="0.6"/><ellipse cx="2933.98" cy="1492.84" rx="11.2" ry="21.92" fill="#FF9090" opacity="0.5" transform="rotate(15 2933.98 1492.84)"/><ellipse cx="2895.92" cy="1489.55" rx="13.43" ry="21.92" fill="#4040FF" opacity="0.75"/><ellipse cx="2846.66" cy="1538.87" rx="10.08" ry="21.92" fill="#4040FF" opacity="0.8"/><ellipse cx="2938.46" cy="1533.39" rx="6.72" ry="21.92" fill="#4040FF" opacity="0.85"/></g><circle cx="2772.78" cy="1516.95" r="14.78" fill="#0000FF"/><path d="M2772.78,1502.17 L2789.77,1505.13 L2789.77,1528.77 L2772.78,1531.73 Z" fill="#0000FF"/></g>
<rect x="2716.8" y="1462.15" width="223.9" height="109.6" fill="none" stroke="#777" stroke-width="1"/>
<clipPath id="n7"><rect x="2242.6" y="1590.7" width="223.9" height="109.6"/></clipPath>
<rect x="2242.6" y="1590.7" width="223.9" height="109.6" fill="#C9C9FA"/>
<g clip-path="url(#n7)"><g filter="url(#blur6)"><ellipse cx="2307.53" cy="1645.5" rx="42.54" ry="87.68" fill="#FFFFFF" opacity="0.95"/><ellipse cx="2309.77" cy="1619.2" rx="24.63" ry="20.82" fill="#FF9090" opacity="0.7"/><ellipse cx="2309.77" cy="1671.8" rx="24.63" ry="20.82" fill="#FF9090" opacity="0.7"/><ellipse cx="2278.42" cy="1645.5" rx="15.67" ry="12.06" fill="#4040FF" opacity="0.75"/><ellipse cx="2332.16" cy="1645.5" rx="22.39" ry="14.25" fill="#1818FF" opacity="0.95"/><ellipse cx="2328.8" cy="1645.5" rx="6.72" ry="3.84" fill="#FFE8E8" opacity="0.95"/></g><circle cx="2298.57" cy="1645.5" r="14.78" fill="#0000FF"/></g>
<rect x="2242.6" y="1590.7" width="223.9" height="109.6" fill="none" stroke="#777" stroke-width="1"/>
<clipPath id="n8"><rect x="2480" y="1590.7" width="223.9" height="109.6"/></clipPath>
<rect x="2480" y="1590.7" width="223.9" height="109.6" fill="#E4E4FD"/>
<g clip-path="url(#n8)"><g filter="url(#blur6)"><ellipse cx="2547.17" cy="1640.02" rx="44.78" ry="87.68" fill="#FFFFFF" opacity="0.6"/><ellipse cx="2502.39" cy="1645.5" rx="22.39" ry="65.76" fill="#C9C9FA" opacity="0.8"/><ellipse cx="2515.82" cy="1645.5" rx="14.55" ry="12.06" fill="#4040FF" opacity="0.75"/><ellipse cx="2540.45" cy="1619.2" rx="20.15" ry="16.44" fill="#FF9090" opacity="0.6"/><ellipse cx="2542.69" cy="1678.38" rx="17.91" ry="10.96" fill="#FF9090" opacity="0.35"/><ellipse cx="2567.32" cy="1650.98" rx="13.43" ry="14.25" fill="#1818FF" opacity="0.85" transform="rotate(-30 2567.32 1650.98)"/><ellipse cx="2585.23" cy="1629.06" rx="6.72" ry="13.15" fill="#4040FF" opacity="0.7"/><ellipse cx="2625.53" cy="1621.39" rx="15.67" ry="14.25" fill="#FF9090" opacity="0.6" transform="rotate(20 2625.53 1621.39)"/><ellipse cx="2591.95" cy="1669.61" rx="22.39" ry="7.67" fill="#FF9090" opacity="0.5"/><ellipse cx="2685.99" cy="1658.65" rx="13.43" ry="13.15" fill="#FF9090" opacity="0.55"/><ellipse cx="2677.03" cy="1623.58" rx="10.08" ry="24.11" fill="#4040FF" opacity="0.8"/><ellipse cx="2630.01" cy="1669.61" rx="8.96" ry="16.44" fill="#4040FF" opacity="0.75"/></g><circle cx="2535.97" cy="1645.5" r="14.78" fill="#0000FF"/></g>
<rect x="2480" y="1590.7" width="223.9" height="109.6" fill="none" stroke="#777" stroke-width="1"/>
<clipPath id="n9"><rect x="2716.8" y="1590.7" width="223.9" height="109.6"/></clipPath>
<rect x="2716.8" y="1590.7" width="223.9" height="109.6" fill="#E4E4FD"/>
<g clip-path="url(#n9)"><g filter="url(#blur6)"><ellipse cx="2783.97" cy="1640.02" rx="44.78" ry="87.68" fill="#FFFFFF" opacity="0.6"/><ellipse cx="2739.19" cy="1645.5" rx="22.39" ry="65.76" fill="#C9C9FA" opacity="0.8"/><ellipse cx="2752.62" cy="1645.5" rx="14.55" ry="12.06" fill="#4040FF" opacity="0.75"/><ellipse cx="2777.25" cy="1619.2" rx="20.15" ry="15.34" fill="#FF9090" opacity="0.55"/><ellipse cx="2783.97" cy="1676.19" rx="26.87" ry="10.96" fill="#FF9090" opacity="0.4"/><ellipse cx="2806.36" cy="1640.02" rx="15.67" ry="9.86" fill="#1818FF" opacity="0.8" transform="rotate(-30 2806.36 1640.02)"/><ellipse cx="2828.75" cy="1620.29" rx="22.39" ry="7.67" fill="#FF9090" opacity="0.55" transform="rotate(15 2828.75 1620.29)"/><ellipse cx="2869.05" cy="1656.46" rx="20.15" ry="8.77" fill="#FF9090" opacity="0.55"/><ellipse cx="2925.03" cy="1629.06" rx="13.43" ry="13.15" fill="#FF9090" opacity="0.5"/><ellipse cx="2878.01" cy="1618.1" rx="11.2" ry="19.73" fill="#4040FF" opacity="0.75"/><ellipse cx="2828.75" cy="1669.61" rx="8.96" ry="15.34" fill="#4040FF" opacity="0.6"/><ellipse cx="2927.27" cy="1672.9" rx="8.96" ry="19.73" fill="#4040FF" opacity="0.75"/></g><circle cx="2772.78" cy="1645.5" r="14.78" fill="#0000FF"/></g>
<rect x="2716.8" y="1590.7" width="223.9" height="109.6" fill="none" stroke="#777" stroke-width="1"/>
<clipPath id="n10"><rect x="2242.6" y="1719.25" width="223.9" height="109.6"/></clipPath>
<rect x="2242.6" y="1719.25" width="223.9" height="109.6" fill="#C9C9FA"/>
<g clip-path="url(#n10)"><g filter="url(#blur6)"><ellipse cx="2307.53" cy="1774.05" rx="42.54" ry="87.68" fill="#FFFFFF" opacity="0.95"/><ellipse cx="2309.77" cy="1747.75" rx="24.63" ry="20.82" fill="#FF9090" opacity="0.5"/><ellipse cx="2309.77" cy="1800.35" rx="24.63" ry="20.82" fill="#FF9090" opacity="0.5"/><ellipse cx="2278.42" cy="1774.05" rx="15.67" ry="12.06" fill="#4040FF" opacity="0.75"/><ellipse cx="2332.16" cy="1774.05" rx="22.39" ry="14.25" fill="#1818FF" opacity="0.95"/><ellipse cx="2328.8" cy="1774.05" rx="6.72" ry="3.84" fill="#FFE8E8" opacity="0.95"/></g><circle cx="2298.57" cy="1774.05" r="14.78" fill="#0000FF"/></g>
<rect x="2242.6" y="1719.25" width="223.9" height="109.6" fill="none" stroke="#777" stroke-width="1"/>
<clipPath id="n11"><rect x="2480" y="1719.25" width="223.9" height="109.6"/></clipPath>
<rect x="2480" y="1719.25" width="223.9" height="109.6" fill="#DCDCFC"/>
<g clip-path="url(#n11)"><g filter="url(#blur6)"><ellipse cx="2509.11" cy="1774.05" rx="13.43" ry="12.06" fill="#4040FF" opacity="0.6"/><ellipse cx="2540.45" cy="1746.65" rx="20.15" ry="14.25" fill="#FF9090" opacity="0.45"/><ellipse cx="2540.45" cy="1806.93" rx="20.15" ry="13.15" fill="#FF9090" opacity="0.45"/><ellipse cx="2591.95" cy="1774.05" rx="67.17" ry="21.92" fill="#5050FF" opacity="0.75" transform="rotate(10 2591.95 1774.05)"/><ellipse cx="2659.12" cy="1752.13" rx="33.59" ry="27.4" fill="#7070FF" opacity="0.6"/><ellipse cx="2580.76" cy="1812.41" rx="44.78" ry="13.15" fill="#FF9090" opacity="0.5"/><ellipse cx="2614.34" cy="1735.69" rx="44.78" ry="10.96" fill="#FF9090" opacity="0.3"/></g><g filter="url(#blur2)"><ellipse cx="2560.4" cy="1778.2" rx="7.3" ry="3.7" fill="#FFFFFF" opacity="0.55"/><ellipse cx="2578.8" cy="1764.3" rx="5.8" ry="5.4" fill="#3030FF" opacity="0.55"/><ellipse cx="2702.5" cy="1816.3" rx="3.3" ry="3.0" fill="#7070FF" opacity="0.55"/><ellipse cx="2693.3" cy="1780.3" rx="5.3" ry="2.5" fill="#4848FF" opacity="0.55"/><ellipse cx="2538.2" cy="1761.6" rx="3.9" ry="5.9" fill="#7070FF" opacity="0.55"/><ellipse cx="2547.0" cy="1750.2" rx="4.6" ry="4.6" fill="#3030FF" opacity="0.55"/><ellipse cx="2654.0" cy="1739.5" rx="4.5" ry="3.5" fill="#FF8080" opacity="0.55"/><ellipse cx="2621.0" cy="1755.8" rx="3.5" ry="4.5" fill="#FFFFFF" opacity="0.55"/><ellipse cx="2614.2" cy="1774.8" rx="5.3" ry="3.1" fill="#3030FF" opacity="0.55"/><ellipse cx="2690.1" cy="1801.7" rx="6.4" ry="2.0" fill="#FF8080" opacity="0.55"/><ellipse cx="2679.5" cy="1762.8" rx="6.3" ry="2.0" fill="#3030FF" opacity="0.55"/><ellipse cx="2514.5" cy="1751.1" rx="6.5" ry="4.2" fill="#FFFFFF" opacity="0.55"/><ellipse cx="2522.8" cy="1758.4" rx="7.3" ry="5.6" fill="#FFFFFF" opacity="0.55"/><ellipse cx="2673.6" cy="1766.1" rx="4.1" ry="3.5" fill="#4848FF" opacity="0.55"/><ellipse cx="2535.4" cy="1820.4" rx="3.4" ry="2.6" fill="#3030FF" opacity="0.55"/><ellipse cx="2585.0" cy="1750.3" rx="4.5" ry="5.3" fill="#FF8080" opacity="0.55"/><ellipse cx="2664.3" cy="1778.7" rx="4.0" ry="6.0" fill="#FFFFFF" opacity="0.55"/><ellipse cx="2540.4" cy="1779.3" rx="6.8" ry="3.7" fill="#FF8080" opacity="0.55"/><ellipse cx="2561.7" cy="1780.7" rx="4.8" ry="3.6" fill="#FF8080" opacity="0.55"/><ellipse cx="2555.0" cy="1794.9" rx="4.7" ry="4.2" fill="#3030FF" opacity="0.55"/><ellipse cx="2558.9" cy="1785.6" rx="7.4" ry="5.5" fill="#FF8080" opacity="0.55"/><ellipse cx="2699.9" cy="1745.6" rx="3.9" ry="5.2" fill="#4848FF" opacity="0.55"/><ellipse cx="2541.0" cy="1821.8" rx="6.9" ry="3.1" fill="#3030FF" opacity="0.55"/><ellipse cx="2697.5" cy="1726.8" rx="6.5" ry="4.0" fill="#FFFFFF" opacity="0.55"/><ellipse cx="2700.6" cy="1735.8" rx="4.0" ry="4.7" fill="#3030FF" opacity="0.55"/><ellipse cx="2630.2" cy="1729.5" rx="4.4" ry="4.8" fill="#4848FF" opacity="0.55"/><ellipse cx="2570.3" cy="1757.8" rx="4.2" ry="3.3" fill="#4848FF" opacity="0.55"/><ellipse cx="2672.0" cy="1787.3" rx="3.3" ry="3.9" fill="#7070FF" opacity="0.55"/><ellipse cx="2600.7" cy="1784.9" rx="7.8" ry="2.3" fill="#3030FF" opacity="0.55"/><ellipse cx="2661.5" cy="1819.8" rx="6.8" ry="5.4" fill="#4848FF" opacity="0.55"/><ellipse cx="2536.8" cy="1815.6" rx="7.5" ry="5.8" fill="#FF8080" opacity="0.55"/><ellipse cx="2570.6" cy="1797.0" rx="7.7" ry="4.2" fill="#7070FF" opacity="0.55"/><ellipse cx="2642.7" cy="1767.9" rx="5.7" ry="2.5" fill="#4848FF" opacity="0.55"/><ellipse cx="2576.9" cy="1792.5" rx="4.2" ry="3.6" fill="#FF8080" opacity="0.55"/><ellipse cx="2595.4" cy="1751.9" rx="3.3" ry="2.3" fill="#7070FF" opacity="0.55"/><ellipse cx="2646.2" cy="1771.4" rx="4.6" ry="5.7" fill="#4848FF" opacity="0.55"/><ellipse cx="2663.6" cy="1772.6" rx="3.9" ry="5.2" fill="#4848FF" opacity="0.55"/><ellipse cx="2559.8" cy="1786.9" rx="7.5" ry="5.4" fill="#3030FF" opacity="0.55"/><ellipse cx="2511.2" cy="1732.1" rx="6.6" ry="2.9" fill="#3030FF" opacity="0.55"/><ellipse cx="2676.1" cy="1756.4" rx="3.7" ry="2.4" fill="#FFFFFF" opacity="0.55"/><ellipse cx="2639.2" cy="1735.4" rx="6.9" ry="2.4" fill="#4848FF" opacity="0.55"/><ellipse cx="2676.4" cy="1760.7" rx="3.9" ry="4.3" fill="#4848FF" opacity="0.55"/><ellipse cx="2689.1" cy="1813.8" rx="3.5" ry="4.4" fill="#FFFFFF" opacity="0.55"/><ellipse cx="2679.5" cy="1809.9" rx="3.6" ry="2.1" fill="#3030FF" opacity="0.55"/><ellipse cx="2598.8" cy="1811.9" rx="4.7" ry="5.4" fill="#4848FF" opacity="0.55"/><ellipse cx="2524.7" cy="1760.4" rx="6.7" ry="2.7" fill="#FFFFFF" opacity="0.55"/><ellipse cx="2564.8" cy="1823.3" rx="6.9" ry="4.7" fill="#7070FF" opacity="0.55"/><ellipse cx="2651.6" cy="1759.1" rx="7.4" ry="4.1" fill="#3030FF" opacity="0.55"/><ellipse cx="2540.0" cy="1785.6" rx="4.9" ry="4.8" fill="#FFFFFF" opacity="0.55"/><ellipse cx="2532.0" cy="1798.4" rx="4.3" ry="2.4" fill="#7070FF" opacity="0.55"/><ellipse cx="2605.2" cy="1726.0" rx="3.9" ry="4.4" fill="#3030FF" opacity="0.55"/><ellipse cx="2530.4" cy="1796.2" rx="7.5" ry="4.7" fill="#4848FF" opacity="0.55"/><ellipse cx="2560.1" cy="1734.9" rx="3.0" ry="4.5" fill="#3030FF" opacity="0.55"/><ellipse cx="2595.4" cy="1779.5" rx="5.3" ry="3.3" fill="#7070FF" opacity="0.55"/><ellipse cx="2576.4" cy="1816.5" rx="3.6" ry="2.6" fill="#FF8080" opacity="0.55"/><ellipse cx="2528.0" cy="1812.6" rx="3.5" ry="2.8" fill="#FFFFFF" opacity="0.55"/><ellipse cx="2658.2" cy="1779.0" rx="5.0" ry="5.9" fill="#FF8080" opacity="0.55"/><ellipse cx="2559.3" cy="1797.8" rx="3.3" ry="4.0" fill="#FFFFFF" opacity="0.55"/><ellipse cx="2564.2" cy="1746.0" rx="7.8" ry="5.7" fill="#3030FF" opacity="0.55"/><ellipse cx="2598.2" cy="1770.1" rx="6.3" ry="4.4" fill="#FF8080" opacity="0.55"/><ellipse cx="2573.8" cy="1773.0" rx="5.2" ry="3.1" fill="#7070FF" opacity="0.55"/><ellipse cx="2620.0" cy="1790.1" rx="7.7" ry="5.3" fill="#7070FF" opacity="0.55"/><ellipse cx="2646.1" cy="1744.6" rx="6.1" ry="3.9" fill="#FFFFFF" opacity="0.55"/><ellipse cx="2571.6" cy="1726.7" rx="3.3" ry="3.7" fill="#FFFFFF" opacity="0.55"/><ellipse cx="2633.8" cy="1758.2" rx="4.7" ry="2.7" fill="#FFFFFF" opacity="0.55"/><ellipse cx="2547.1" cy="1738.2" rx="4.6" ry="4.3" fill="#7070FF" opacity="0.55"/><ellipse cx="2597.2" cy="1744.5" rx="4.4" ry="2.5" fill="#4848FF" opacity="0.55"/><ellipse cx="2545.4" cy="1774.6" rx="5.6" ry="3.5" fill="#7070FF" opacity="0.55"/><ellipse cx="2662.3" cy="1788.3" rx="4.2" ry="5.7" fill="#4848FF" opacity="0.55"/><ellipse cx="2565.5" cy="1748.6" rx="4.6" ry="5.2" fill="#4848FF" opacity="0.55"/></g><circle cx="2535.97" cy="1774.05" r="14.78" fill="#0000FF"/></g>
<rect x="2480" y="1719.25" width="223.9" height="109.6" fill="none" stroke="#777" stroke-width="1"/>
<clipPath id="n12"><rect x="2716.8" y="1719.25" width="223.9" height="109.6"/></clipPath>
<rect x="2716.8" y="1719.25" width="223.9" height="109.6" fill="#DCDCFC"/>
<g clip-path="url(#n12)"><g filter="url(#blur6)"><ellipse cx="2745.91" cy="1774.05" rx="13.43" ry="12.06" fill="#4040FF" opacity="0.6"/><ellipse cx="2777.25" cy="1746.65" rx="20.15" ry="14.25" fill="#FF9090" opacity="0.45"/><ellipse cx="2777.25" cy="1806.93" rx="20.15" ry="13.15" fill="#FF9090" opacity="0.45"/><ellipse cx="2839.95" cy="1765.28" rx="78.36" ry="18.63" fill="#4848FF" opacity="0.8"/><ellipse cx="2761.58" cy="1752.13" rx="22.39" ry="10.96" fill="#FFFFFF" opacity="0.5"/><ellipse cx="2929.51" cy="1763.09" rx="8.96" ry="43.84" fill="#FF9090" opacity="0.6"/></g><g filter="url(#blur2)"><ellipse cx="2772.4" cy="1743.4" rx="3.5" ry="5.0" fill="#7070FF" opacity="0.55"/><ellipse cx="2870.7" cy="1794.3" rx="7.5" ry="5.6" fill="#FFFFFF" opacity="0.55"/><ellipse cx="2746.7" cy="1762.7" rx="7.2" ry="4.1" fill="#3030FF" opacity="0.55"/><ellipse cx="2919.5" cy="1731.6" rx="4.0" ry="5.8" fill="#FFFFFF" opacity="0.55"/><ellipse cx="2881.5" cy="1818.6" rx="3.1" ry="3.1" fill="#FF8080" opacity="0.55"/><ellipse cx="2861.0" cy="1789.2" rx="4.6" ry="4.6" fill="#FFFFFF" opacity="0.55"/><ellipse cx="2935.9" cy="1818.9" rx="6.4" ry="5.4" fill="#4848FF" opacity="0.55"/><ellipse cx="2907.8" cy="1791.0" rx="5.9" ry="2.1" fill="#7070FF" opacity="0.55"/><ellipse cx="2803.0" cy="1752.9" rx="6.8" ry="4.5" fill="#FF8080" opacity="0.55"/><ellipse cx="2932.9" cy="1771.4" rx="3.3" ry="4.1" fill="#3030FF" opacity="0.55"/><ellipse cx="2766.5" cy="1795.1" rx="4.5" ry="3.9" fill="#3030FF" opacity="0.55"/><ellipse cx="2867.4" cy="1752.2" rx="4.6" ry="5.4" fill="#7070FF" opacity="0.55"/><ellipse cx="2919.6" cy="1762.4" rx="4.9" ry="2.9" fill="#FF8080" opacity="0.55"/><ellipse cx="2789.1" cy="1759.1" rx="4.7" ry="5.9" fill="#FFFFFF" opacity="0.55"/><ellipse cx="2765.9" cy="1749.8" rx="6.4" ry="2.9" fill="#FFFFFF" opacity="0.55"/><ellipse cx="2850.3" cy="1766.7" rx="3.8" ry="4.0" fill="#FF8080" opacity="0.55"/><ellipse cx="2926.1" cy="1786.3" rx="6.4" ry="4.7" fill="#3030FF" opacity="0.55"/><ellipse cx="2925.9" cy="1738.9" rx="6.1" ry="2.5" fill="#7070FF" opacity="0.55"/><ellipse cx="2923.1" cy="1724.9" rx="4.0" ry="5.2" fill="#FFFFFF" opacity="0.55"/><ellipse cx="2787.7" cy="1815.7" rx="3.2" ry="3.7" fill="#7070FF" opacity="0.55"/><ellipse cx="2754.4" cy="1783.9" rx="4.6" ry="2.7" fill="#FFFFFF" opacity="0.55"/><ellipse cx="2782.5" cy="1766.5" rx="7.4" ry="4.6" fill="#FF8080" opacity="0.55"/><ellipse cx="2928.0" cy="1740.5" rx="4.4" ry="5.4" fill="#4848FF" opacity="0.55"/><ellipse cx="2876.0" cy="1783.0" rx="4.3" ry="4.5" fill="#FFFFFF" opacity="0.55"/><ellipse cx="2766.6" cy="1735.9" rx="3.3" ry="4.3" fill="#FFFFFF" opacity="0.55"/><ellipse cx="2828.5" cy="1734.8" rx="6.9" ry="5.6" fill="#FF8080" opacity="0.55"/><ellipse cx="2840.6" cy="1770.8" rx="6.8" ry="2.7" fill="#3030FF" opacity="0.55"/><ellipse cx="2772.4" cy="1800.4" rx="3.5" ry="4.7" fill="#4848FF" opacity="0.55"/><ellipse cx="2925.1" cy="1726.5" rx="6.9" ry="4.5" fill="#FF8080" opacity="0.55"/><ellipse cx="2865.7" cy="1727.4" rx="5.8" ry="3.4" fill="#FFFFFF" opacity="0.55"/><ellipse cx="2912.1" cy="1792.4" rx="6.3" ry="4.3" fill="#FFFFFF" opacity="0.55"/><ellipse cx="2860.9" cy="1754.2" rx="3.1" ry="3.0" fill="#FFFFFF" opacity="0.55"/><ellipse cx="2779.5" cy="1728.4" rx="6.8" ry="3.5" fill="#FFFFFF" opacity="0.55"/><ellipse cx="2908.3" cy="1732.3" rx="6.2" ry="5.2" fill="#3030FF" opacity="0.55"/><ellipse cx="2785.1" cy="1800.7" rx="4.6" ry="4.2" fill="#3030FF" opacity="0.55"/><ellipse cx="2787.2" cy="1750.5" rx="4.0" ry="3.0" fill="#3030FF" opacity="0.55"/><ellipse cx="2823.0" cy="1732.0" rx="7.7" ry="4.0" fill="#FFFFFF" opacity="0.55"/><ellipse cx="2866.5" cy="1800.2" rx="5.6" ry="5.8" fill="#FFFFFF" opacity="0.55"/><ellipse cx="2903.0" cy="1759.9" rx="7.4" ry="3.6" fill="#3030FF" opacity="0.55"/><ellipse cx="2822.3" cy="1745.2" rx="6.5" ry="5.5" fill="#7070FF" opacity="0.55"/><ellipse cx="2877.4" cy="1788.1" rx="6.2" ry="5.9" fill="#FFFFFF" opacity="0.55"/><ellipse cx="2744.8" cy="1751.3" rx="3.5" ry="5.8" fill="#FF8080" opacity="0.55"/><ellipse cx="2760.5" cy="1726.6" rx="3.8" ry="2.4" fill="#7070FF" opacity="0.55"/><ellipse cx="2748.4" cy="1753.3" rx="7.8" ry="2.9" fill="#FFFFFF" opacity="0.55"/><ellipse cx="2870.7" cy="1735.1" rx="5.8" ry="2.4" fill="#FFFFFF" opacity="0.55"/><ellipse cx="2865.7" cy="1766.3" rx="6.2" ry="4.0" fill="#FFFFFF" opacity="0.55"/><ellipse cx="2838.0" cy="1740.7" rx="7.7" ry="5.0" fill="#FFFFFF" opacity="0.55"/><ellipse cx="2754.2" cy="1810.7" rx="6.8" ry="5.5" fill="#FFFFFF" opacity="0.55"/><ellipse cx="2746.5" cy="1784.9" rx="6.9" ry="3.2" fill="#4848FF" opacity="0.55"/><ellipse cx="2928.5" cy="1807.0" rx="4.5" ry="3.2" fill="#7070FF" opacity="0.55"/><ellipse cx="2774.5" cy="1725.5" rx="6.1" ry="5.9" fill="#FFFFFF" opacity="0.55"/><ellipse cx="2875.2" cy="1778.4" rx="5.2" ry="2.5" fill="#7070FF" opacity="0.55"/><ellipse cx="2866.6" cy="1749.5" rx="7.0" ry="4.5" fill="#7070FF" opacity="0.55"/><ellipse cx="2764.5" cy="1732.7" rx="7.0" ry="5.6" fill="#FFFFFF" opacity="0.55"/><ellipse cx="2824.7" cy="1725.2" rx="6.4" ry="3.6" fill="#3030FF" opacity="0.55"/><ellipse cx="2787.0" cy="1816.7" rx="6.4" ry="5.5" fill="#4848FF" opacity="0.55"/><ellipse cx="2837.6" cy="1735.8" rx="6.6" ry="2.1" fill="#FF8080" opacity="0.55"/><ellipse cx="2862.9" cy="1726.0" rx="7.8" ry="4.0" fill="#FF8080" opacity="0.55"/><ellipse cx="2925.7" cy="1811.4" rx="5.0" ry="5.0" fill="#FF8080" opacity="0.55"/><ellipse cx="2918.3" cy="1783.4" rx="7.3" ry="4.1" fill="#3030FF" opacity="0.55"/><ellipse cx="2767.7" cy="1750.7" rx="4.5" ry="4.0" fill="#3030FF" opacity="0.55"/><ellipse cx="2913.0" cy="1762.0" rx="5.6" ry="4.6" fill="#7070FF" opacity="0.55"/><ellipse cx="2826.1" cy="1782.3" rx="7.2" ry="4.1" fill="#4848FF" opacity="0.55"/><ellipse cx="2905.0" cy="1780.8" rx="4.5" ry="4.5" fill="#3030FF" opacity="0.55"/><ellipse cx="2927.2" cy="1796.4" rx="8.0" ry="5.0" fill="#FFFFFF" opacity="0.55"/><ellipse cx="2768.8" cy="1818.1" rx="4.0" ry="3.0" fill="#4848FF" opacity="0.55"/><ellipse cx="2829.7" cy="1801.6" rx="4.1" ry="4.4" fill="#FFFFFF" opacity="0.55"/><ellipse cx="2816.6" cy="1744.0" rx="6.1" ry="4.9" fill="#FF8080" opacity="0.55"/><ellipse cx="2771.9" cy="1734.5" rx="7.3" ry="5.1" fill="#FF8080" opacity="0.55"/><ellipse cx="2902.8" cy="1759.9" rx="7.9" ry="2.2" fill="#FF8080" opacity="0.55"/><ellipse cx="2815.3" cy="1806.9" rx="2.6" ry="11.0" fill="#FF2020" opacity="0.9"/><ellipse cx="2830.5" cy="1806.9" rx="2.6" ry="12.5" fill="#2020FF" opacity="0.9"/><ellipse cx="2845.8" cy="1806.9" rx="2.6" ry="13.8" fill="#FF2020" opacity="0.9"/><ellipse cx="2861.0" cy="1806.9" rx="2.6" ry="14.8" fill="#2020FF" opacity="0.9"/><ellipse cx="2876.2" cy="1806.9" rx="2.6" ry="14.1" fill="#FF2020" opacity="0.9"/><ellipse cx="2891.4" cy="1806.9" rx="2.6" ry="11.7" fill="#2020FF" opacity="0.9"/><ellipse cx="2906.7" cy="1806.9" rx="2.6" ry="14.3" fill="#FF2020" opacity="0.9"/><ellipse cx="2921.9" cy="1806.9" rx="2.6" ry="10.2" fill="#2020FF" opacity="0.9"/></g><circle cx="2772.78" cy="1774.05" r="14.78" fill="#0000FF"/></g>
<rect x="2716.8" y="1719.25" width="223.9" height="109.6" fill="none" stroke="#777" stroke-width="1"/>
<clipPath id="n13"><rect x="2242.6" y="1847.8" width="223.9" height="109.6"/></clipPath>
<rect x="2242.6" y="1847.8" width="223.9" height="109.6" fill="#C9C9FA"/>
<g clip-path="url(#n13)"><g filter="url(#blur8)"><ellipse cx="2307.53" cy="1902.6" rx="42.54" ry="87.68" fill="#FFFFFF" opacity="0.95"/><ellipse cx="2309.77" cy="1876.3" rx="24.63" ry="20.82" fill="#FF9090" opacity="0.7"/><ellipse cx="2309.77" cy="1928.9" rx="24.63" ry="20.82" fill="#FF9090" opacity="0.7"/><ellipse cx="2278.42" cy="1902.6" rx="15.67" ry="12.06" fill="#4040FF" opacity="0.75"/><ellipse cx="2332.16" cy="1902.6" rx="22.39" ry="14.25" fill="#1818FF" opacity="0.95"/><ellipse cx="2328.8" cy="1902.6" rx="6.72" ry="3.84" fill="#FFE8E8" opacity="0.95"/><ellipse cx="2410.53" cy="1880.68" rx="44.78" ry="21.92" fill="#FFFFFF" opacity="0.35"/><ellipse cx="2399.33" cy="1935.48" rx="44.78" ry="16.44" fill="#FFFFFF" opacity="0.35"/><ellipse cx="2444.11" cy="1913.56" rx="22.39" ry="21.92" fill="#FFFFFF" opacity="0.3"/></g><circle cx="2298.57" cy="1902.6" r="14.78" fill="#0000FF"/></g>
<rect x="2242.6" y="1847.8" width="223.9" height="109.6" fill="none" stroke="#777" stroke-width="1"/>
<clipPath id="n14"><rect x="2480" y="1847.8" width="223.9" height="109.6"/></clipPath>
<rect x="2480" y="1847.8" width="223.9" height="109.6" fill="#E4E4FD"/>
<g clip-path="url(#n14)"><g filter="url(#blur8)"><ellipse cx="2542.69" cy="1897.12" rx="44.78" ry="87.68" fill="#FFFFFF" opacity="0.5"/><ellipse cx="2509.11" cy="1902.6" rx="13.43" ry="12.06" fill="#4040FF" opacity="0.65"/><ellipse cx="2558.36" cy="1871.91" rx="29.11" ry="14.25" fill="#FF9090" opacity="0.5"/><ellipse cx="2535.97" cy="1926.71" rx="15.67" ry="8.77" fill="#FF9090" opacity="0.55"/><ellipse cx="2569.56" cy="1911.37" rx="15.67" ry="15.34" fill="#4040FF" opacity="0.8" transform="rotate(-30 2569.56 1911.37)"/><ellipse cx="2625.53" cy="1880.68" rx="15.67" ry="21.92" fill="#9A9AFF" opacity="0.8"/><ellipse cx="2618.82" cy="1926.71" rx="22.39" ry="13.15" fill="#FF9090" opacity="0.5"/><ellipse cx="2670.32" cy="1940.96" rx="22.39" ry="16.44" fill="#9A9AFF" opacity="0.8"/><ellipse cx="2681.51" cy="1869.72" rx="13.43" ry="10.96" fill="#FF9090" opacity="0.3"/></g><circle cx="2535.97" cy="1902.6" r="14.78" fill="#0000FF"/></g>
<rect x="2480" y="1847.8" width="223.9" height="109.6" fill="none" stroke="#777" stroke-width="1"/>
<clipPath id="n15"><rect x="2716.8" y="1847.8" width="223.9" height="109.6"/></clipPath>
<rect x="2716.8" y="1847.8" width="223.9" height="109.6" fill="#E4E4FD"/>
<g clip-path="url(#n15)"><g filter="url(#blur8)"><ellipse cx="2779.49" cy="1897.12" rx="44.78" ry="87.68" fill="#FFFFFF" opacity="0.5"/><ellipse cx="2745.91" cy="1902.6" rx="13.43" ry="12.06" fill="#4040FF" opacity="0.65"/><ellipse cx="2772.78" cy="1875.2" rx="20.15" ry="14.25" fill="#FF9090" opacity="0.5"/><ellipse cx="2783.97" cy="1930" rx="22.39" ry="10.96" fill="#FF9090" opacity="0.4"/><ellipse cx="2806.36" cy="1902.6" rx="17.91" ry="14.25" fill="#4040FF" opacity="0.8"/><ellipse cx="2822.03" cy="1886.16" rx="13.43" ry="16.44" fill="#9A9AFF" opacity="0.8"/><ellipse cx="2855.62" cy="1880.68" rx="13.43" ry="21.92" fill="#FF9090" opacity="0.45"/><ellipse cx="2878.01" cy="1922.33" rx="13.43" ry="21.92" fill="#9A9AFF" opacity="0.8"/><ellipse cx="2922.79" cy="1880.68" rx="13.43" ry="21.92" fill="#9A9AFF" opacity="0.8"/><ellipse cx="2918.31" cy="1940.96" rx="17.91" ry="8.77" fill="#FF9090" opacity="0.45"/><ellipse cx="2817.56" cy="1940.96" rx="22.39" ry="10.96" fill="#FF9090" opacity="0.35"/></g><circle cx="2772.78" cy="1902.6" r="14.78" fill="#0000FF"/></g>
<rect x="2716.8" y="1847.8" width="223.9" height="109.6" fill="none" stroke="#777" stroke-width="1"/>
<clipPath id="n16"><rect x="2242.6" y="1976.35" width="223.9" height="109.6"/></clipPath>
<rect x="2242.6" y="1976.35" width="223.9" height="109.6" fill="#C9C9FA"/>
<g clip-path="url(#n16)"><g filter="url(#blur6)"><ellipse cx="2307.53" cy="2031.15" rx="42.54" ry="87.68" fill="#FFFFFF" opacity="0.95"/><ellipse cx="2309.77" cy="2004.85" rx="24.63" ry="20.82" fill="#FF9090" opacity="0.7"/><ellipse cx="2309.77" cy="2057.45" rx="24.63" ry="20.82" fill="#FF9090" opacity="0.7"/><ellipse cx="2278.42" cy="2031.15" rx="15.67" ry="12.06" fill="#4040FF" opacity="0.75"/><ellipse cx="2332.16" cy="2031.15" rx="22.39" ry="14.25" fill="#1818FF" opacity="0.95"/><ellipse cx="2328.8" cy="2031.15" rx="6.72" ry="3.84" fill="#FFE8E8" opacity="0.95"/></g><circle cx="2298.57" cy="2031.15" r="14.78" fill="#0000FF"/></g>
<rect x="2242.6" y="1976.35" width="223.9" height="109.6" fill="none" stroke="#777" stroke-width="1"/>
<clipPath id="n17"><rect x="2480" y="1976.35" width="223.9" height="109.6"/></clipPath>
<rect x="2480" y="1976.35" width="223.9" height="109.6" fill="#E4E4FD"/>
<g clip-path="url(#n17)"><g filter="url(#blur6)"><ellipse cx="2547.17" cy="2025.67" rx="44.78" ry="87.68" fill="#FFFFFF" opacity="0.6"/><ellipse cx="2502.39" cy="2031.15" rx="22.39" ry="65.76" fill="#C9C9FA" opacity="0.8"/><ellipse cx="2515.82" cy="2031.15" rx="14.55" ry="12.06" fill="#4040FF" opacity="0.75"/><ellipse cx="2547.17" cy="2000.46" rx="24.63" ry="15.34" fill="#FF9090" opacity="0.6" transform="rotate(-10 2547.17 2000.46)"/><ellipse cx="2533.74" cy="2055.26" rx="11.2" ry="10.96" fill="#FF6A6A" opacity="0.6"/><ellipse cx="2569.56" cy="2036.63" rx="13.43" ry="14.25" fill="#1818FF" opacity="0.85" transform="rotate(-30 2569.56 2036.63)"/><ellipse cx="2580.76" cy="2009.23" rx="17.91" ry="7.67" fill="#FF9090" opacity="0.55" transform="rotate(30 2580.76 2009.23)"/><ellipse cx="2618.82" cy="2042.11" rx="20.15" ry="10.96" fill="#FF9090" opacity="0.55" transform="rotate(30 2618.82 2042.11)"/><ellipse cx="2647.93" cy="2058.55" rx="17.91" ry="6.58" fill="#FF9090" opacity="0.5"/><ellipse cx="2627.77" cy="2009.23" rx="8.96" ry="19.73" fill="#4040FF" opacity="0.75"/><ellipse cx="2681.51" cy="2072.8" rx="15.67" ry="13.15" fill="#4040FF" opacity="0.8"/><ellipse cx="2591.95" cy="2064.03" rx="11.2" ry="10.96" fill="#9A9AFF" opacity="0.6"/></g><circle cx="2535.97" cy="2031.15" r="14.78" fill="#0000FF"/></g>
<rect x="2480" y="1976.35" width="223.9" height="109.6" fill="none" stroke="#777" stroke-width="1"/>
<clipPath id="n18"><rect x="2716.8" y="1976.35" width="223.9" height="109.6"/></clipPath>
<rect x="2716.8" y="1976.35" width="223.9" height="109.6" fill="#E4E4FD"/>
<g clip-path="url(#n18)"><g filter="url(#blur6)"><ellipse cx="2783.97" cy="2025.67" rx="44.78" ry="87.68" fill="#FFFFFF" opacity="0.6"/><ellipse cx="2739.19" cy="2031.15" rx="22.39" ry="65.76" fill="#C9C9FA" opacity="0.8"/><ellipse cx="2752.62" cy="2031.15" rx="14.55" ry="12.06" fill="#4040FF" opacity="0.75"/><ellipse cx="2779.49" cy="2002.65" rx="22.39" ry="15.34" fill="#FF9090" opacity="0.6" transform="rotate(-10 2779.49 2002.65)"/><ellipse cx="2783.97" cy="2061.84" rx="22.39" ry="10.96" fill="#FF9090" opacity="0.45"/><ellipse cx="2806.36" cy="2031.15" rx="15.67" ry="10.96" fill="#1818FF" opacity="0.8" transform="rotate(-30 2806.36 2031.15)"/><ellipse cx="2817.56" cy="2044.3" rx="22.39" ry="8.77" fill="#FF9090" opacity="0.55" transform="rotate(20 2817.56 2044.3)"/><ellipse cx="2873.53" cy="2009.23" rx="17.91" ry="13.15" fill="#FF9090" opacity="0.6" transform="rotate(-20 2873.53 2009.23)"/><ellipse cx="2918.31" cy="2047.59" rx="17.91" ry="10.96" fill="#FF9090" opacity="0.5" transform="rotate(20 2918.31 2047.59)"/><ellipse cx="2846.66" cy="2031.15" rx="11.2" ry="10.96" fill="#FF9090" opacity="0.4" transform="rotate(-40 2846.66 2031.15)"/><ellipse cx="2828.75" cy="2003.75" rx="8.96" ry="16.44" fill="#4040FF" opacity="0.7"/><ellipse cx="2869.05" cy="2055.26" rx="8.96" ry="17.54" fill="#4040FF" opacity="0.75"/><ellipse cx="2925.03" cy="2003.75" rx="8.96" ry="19.73" fill="#4040FF" opacity="0.75"/></g><circle cx="2772.78" cy="2031.15" r="14.78" fill="#0000FF"/></g>
<rect x="2716.8" y="1976.35" width="223.9" height="109.6" fill="none" stroke="#777" stroke-width="1"/>
<clipPath id="n19"><rect x="2242.6" y="2104.9" width="223.9" height="109.6"/></clipPath>
<rect x="2242.6" y="2104.9" width="223.9" height="109.6" fill="#C9C9FA"/>
<g clip-path="url(#n19)"><g filter="url(#blur6)"><ellipse cx="2307.53" cy="2159.7" rx="42.54" ry="87.68" fill="#FFFFFF" opacity="0.95"/><ellipse cx="2309.77" cy="2133.4" rx="24.63" ry="20.82" fill="#FF9090" opacity="0.7"/><ellipse cx="2309.77" cy="2186" rx="24.63" ry="20.82" fill="#FF9090" opacity="0.7"/><ellipse cx="2278.42" cy="2159.7" rx="15.67" ry="12.06" fill="#4040FF" opacity="0.75"/><ellipse cx="2332.16" cy="2159.7" rx="22.39" ry="14.25" fill="#1818FF" opacity="0.95"/><ellipse cx="2328.8" cy="2159.7" rx="6.72" ry="3.84" fill="#FFE8E8" opacity="0.95"/></g><circle cx="2298.57" cy="2159.7" r="14.78" fill="#0000FF"/></g>
<rect x="2242.6" y="2104.9" width="223.9" height="109.6" fill="none" stroke="#777" stroke-width="1"/>
<clipPath id="n20"><rect x="2480" y="2104.9" width="223.9" height="109.6"/></clipPath>
<rect x="2480" y="2104.9" width="223.9" height="109.6" fill="#D2D2FB"/>
<g clip-path="url(#n20)"><g filter="url(#blur6)"><ellipse cx="2544.93" cy="2159.7" rx="38.06" ry="82.2" fill="#FFFFFF" opacity="0.9"/><ellipse cx="2544.93" cy="2129.01" rx="17.91" ry="15.34" fill="#FF9090" opacity="0.6"/><ellipse cx="2544.93" cy="2190.39" rx="17.91" ry="15.34" fill="#FF9090" opacity="0.6"/><ellipse cx="2515.82" cy="2159.7" rx="15.67" ry="12.06" fill="#4040FF" opacity="0.75"/><ellipse cx="2636.73" cy="2118.05" rx="100.76" ry="10.96" fill="#FFFFFF" opacity="0.8"/><ellipse cx="2636.73" cy="2201.35" rx="100.76" ry="10.96" fill="#FFFFFF" opacity="0.8"/><ellipse cx="2625.53" cy="2159.7" rx="94.04" ry="18.63" fill="#5A5AFF" opacity="0.85"/><ellipse cx="2580.76" cy="2159.7" rx="33.59" ry="10.96" fill="#1818FF" opacity="0.8"/></g><circle cx="2535.97" cy="2159.7" r="14.78" fill="#0000FF"/></g>
<rect x="2480" y="2104.9" width="223.9" height="109.6" fill="none" stroke="#777" stroke-width="1"/>
<clipPath id="n21"><rect x="2716.8" y="2104.9" width="223.9" height="109.6"/></clipPath>
<rect x="2716.8" y="2104.9" width="223.9" height="109.6" fill="#D2D2FB"/>
<g clip-path="url(#n21)"><g filter="url(#blur6)"><ellipse cx="2781.73" cy="2159.7" rx="38.06" ry="82.2" fill="#FFFFFF" opacity="0.9"/><ellipse cx="2781.73" cy="2129.01" rx="17.91" ry="15.34" fill="#FF9090" opacity="0.6"/><ellipse cx="2781.73" cy="2190.39" rx="17.91" ry="15.34" fill="#FF9090" opacity="0.6"/><ellipse cx="2752.62" cy="2159.7" rx="15.67" ry="12.06" fill="#4040FF" opacity="0.75"/><ellipse cx="2873.53" cy="2159.7" rx="100.76" ry="54.8" fill="#EDEDFE" opacity="0.8"/><ellipse cx="2824.27" cy="2159.7" rx="44.78" ry="13.15" fill="#4A4AFF" opacity="0.85"/><ellipse cx="2895.92" cy="2159.7" rx="55.98" ry="21.92" fill="#C4C4FB" opacity="0.7"/></g><circle cx="2772.78" cy="2159.7" r="14.78" fill="#0000FF"/></g>
<rect x="2716.8" y="2104.9" width="223.9" height="109.6" fill="none" stroke="#777" stroke-width="1"/>
<rect x="1536.7" y="2284.2" width="710.8" height="2.1" fill="#111"/>
<rect x="1536.7" y="2351.7" width="710.8" height="1.3" fill="#111"/>
<rect x="1536.7" y="2524.3" width="710.8" height="2.1" fill="#111"/>
<text x="1554.4" y="2312.7" font-family='"Liberation Serif", serif' font-size="21.6" textLength="76.1" lengthAdjust="spacingAndGlyphs"><tspan font-size="21.6">M</tspan><tspan font-size="16.42">ODEL</tspan></text>
<text x="1899.3" y="2312.7" font-family='"Liberation Serif", serif' font-size="21.6" textLength="96.9" lengthAdjust="spacingAndGlyphs"><tspan font-size="21.6">B</tspan><tspan font-size="16.42">URGERS</tspan></text>
<text x="2064.7" y="2312.7" font-family='"Liberation Serif", serif' font-size="21.6" textLength="168.5" lengthAdjust="spacingAndGlyphs"><tspan font-size="21.6">N</tspan><tspan font-size="16.42">AVIER</tspan><tspan font-size="21.6">-S</tspan><tspan font-size="16.42">TOKES</tspan></text>
<text x="1865.1" y="2339.5" font-family='"Liberation Serif", serif' font-size="20.5" font-style="italic" textLength="165.5" lengthAdjust="spacingAndGlyphs">RMSE<tspan font-size="14" dy="3">u</tspan><tspan dy="-3">(cm/s)</tspan></text>
<text x="2071.7" y="2339.5" font-family='"Liberation Serif", serif' font-size="20.5" font-style="italic" textLength="154.5" lengthAdjust="spacingAndGlyphs">RMSE<tspan font-size="14" dy="3">u</tspan><tspan dy="-3">(m/s)</tspan></text>
<text x="1554.4" y="2378.8" font-family='"Liberation Serif", serif' font-size="21.6" textLength="258.9" lengthAdjust="spacingAndGlyphs"><tspan font-size="21.6">PARC (</tspan><tspan font-size="16.42">NUMERICAL INT</tspan><tspan font-size="21.6">.)</tspan></text>
<text x="1911.8" y="2378.8" font-family='"Liberation Serif", serif' font-size="21.6" textLength="71.2" lengthAdjust="spacingAndGlyphs">0.0074</text>
<text x="2113.5" y="2378.8" font-family='"Liberation Serif", serif' font-size="21.6" textLength="70.6" lengthAdjust="spacingAndGlyphs">0.2336</text>
<text x="1554.4" y="2405.6" font-family='"Liberation Serif", serif' font-size="21.6" textLength="276.6" lengthAdjust="spacingAndGlyphs"><tspan font-size="21.6">PARC (</tspan><tspan font-size="16.42">DATA</tspan><tspan font-size="21.6">-</tspan><tspan font-size="16.42">DRIVEN INT</tspan><tspan font-size="21.6">.)</tspan></text>
<text x="1911.8" y="2405.6" font-family='"Liberation Serif", serif' font-size="21.6" textLength="71.2" lengthAdjust="spacingAndGlyphs">0.0236</text>
<text x="2113.5" y="2405.6" font-family='"Liberation Serif", serif' font-size="21.6" textLength="70.6" lengthAdjust="spacingAndGlyphs">0.3089</text>
<text x="1554.4" y="2431.5" font-family='"Liberation Serif", serif' font-size="21.6" textLength="49.6" lengthAdjust="spacingAndGlyphs"><tspan font-size="21.6">FNO</tspan></text>
<text x="1911.8" y="2431.5" font-family='"Liberation Serif", serif' font-size="21.6" textLength="71.2" lengthAdjust="spacingAndGlyphs">0.0289</text>
<text x="2113.5" y="2431.5" font-family='"Liberation Serif", serif' font-size="21.6" textLength="70.6" lengthAdjust="spacingAndGlyphs">0.2147</text>
<text x="1554.4" y="2458.3" font-family='"Liberation Serif", serif' font-size="21.6" textLength="121.8" lengthAdjust="spacingAndGlyphs"><tspan font-size="21.6">P</tspan><tspan font-size="16.42">HY</tspan><tspan font-size="21.6">CRN</tspan><tspan font-size="16.42">ET</tspan></text>
<text x="1911.8" y="2458.3" font-family='"Liberation Serif", serif' font-size="21.6" textLength="71.2" lengthAdjust="spacingAndGlyphs">0.0588</text>
<text x="2113.5" y="2458.3" font-family='"Liberation Serif", serif' font-size="21.6" textLength="70.6" lengthAdjust="spacingAndGlyphs">0.2094</text>
<text x="1554.4" y="2484.8" font-family='"Liberation Serif", serif' font-size="21.6" textLength="73.1" lengthAdjust="spacingAndGlyphs"><tspan font-size="21.6">PIFNO</tspan></text>
<text x="1911.8" y="2484.8" font-family='"Liberation Serif", serif' font-size="21.6" textLength="71.2" lengthAdjust="spacingAndGlyphs">0.0338</text>
<text x="2113.5" y="2484.8" font-family='"Liberation Serif", serif' font-size="21.6" textLength="70.6" lengthAdjust="spacingAndGlyphs">0.2307</text>
<text x="1554.4" y="2511.6" font-family='"Liberation Serif", serif' font-size="21.6" textLength="243.1" lengthAdjust="spacingAndGlyphs"><tspan font-size="21.6">PARC</tspan><tspan font-size="16.42">V</tspan><tspan font-size="21.6">2 (T</tspan><tspan font-size="16.42">HIS </tspan><tspan font-size="21.6">S</tspan><tspan font-size="16.42">TUDY</tspan><tspan font-size="21.6">)</tspan></text>
<text x="1911.8" y="2511.6" font-family='"Liberation Serif", serif' font-size="21.6" textLength="71.2" lengthAdjust="spacingAndGlyphs">0.0129</text>
<text x="2113.5" y="2511.6" font-family='"Liberation Serif", serif' font-size="21.6" textLength="70.6" lengthAdjust="spacingAndGlyphs">0.0727</text>
<rect x="2252" y="2242.5" width="694.2" height="2.2" fill="#111"/>
<rect x="2252" y="2346.9" width="694.2" height="1.4" fill="#111"/>
<rect x="2252" y="2564.4" width="694.2" height="2.2" fill="#111"/>
<text x="2263.4" y="2271.6" font-family='"Liberation Serif", serif' font-size="23.6" textLength="83.3" lengthAdjust="spacingAndGlyphs"><tspan font-size="23.6">M</tspan><tspan font-size="17.94">ODEL</tspan></text>
<text x="2602.1" y="2271.6" font-family='"Liberation Serif", serif' font-size="23.6" textLength="105.2" lengthAdjust="spacingAndGlyphs"><tspan font-size="23.6">B</tspan><tspan font-size="17.94">URGERS</tspan></text>
<text x="2750.8" y="2271.6" font-family='"Liberation Serif", serif' font-size="23.6" textLength="183.4" lengthAdjust="spacingAndGlyphs"><tspan font-size="23.6">N</tspan><tspan font-size="17.94">AVIER</tspan><tspan font-size="23.6">-S</tspan><tspan font-size="17.94">TOKES</tspan></text>
<text x="2629.1" y="2304.6" font-family='"Liberation Serif", serif' font-size="22.5" textLength="51.1" lengthAdjust="spacingAndGlyphs">||<tspan font-weight="bold">f</tspan><tspan font-weight="bold" font-size="15" dy="4">u</tspan><tspan dy="-4">||</tspan></text>
<text x="2759.9" y="2304.6" font-family='"Liberation Serif", serif' font-size="22.5" textLength="49.5" lengthAdjust="spacingAndGlyphs">||<tspan font-weight="bold">f</tspan><tspan font-weight="bold" font-size="15" dy="4">u</tspan><tspan dy="-4">||</tspan></text>
<text x="2879.5" y="2303.7" font-family='"Liberation Serif", serif' font-size="22.5" font-style="italic" textLength="41.1" lengthAdjust="spacingAndGlyphs">ε<tspan font-size="15" dy="4">div</tspan></text>
<text x="2609.6" y="2331.7" font-family='"Liberation Serif", serif' font-size="22.5" textLength="90.2" lengthAdjust="spacingAndGlyphs">(<tspan font-style="italic">cm/s</tspan><tspan font-size="14" dy="-8">2</tspan><tspan dy="8">)</tspan></text>
<text x="2745.7" y="2331.7" font-family='"Liberation Serif", serif' font-size="22.5" textLength="78.8" lengthAdjust="spacingAndGlyphs">(<tspan font-style="italic">m/s</tspan><tspan font-size="14" dy="-8">2</tspan><tspan dy="8">)</tspan></text>
<text x="2872.5" y="2331.7" font-family='"Liberation Serif", serif' font-size="22.5" textLength="56.5" lengthAdjust="spacingAndGlyphs">(1/<tspan font-style="italic">s</tspan>)</text>
<text x="2263.4" y="2375.2" font-family='"Liberation Serif", serif' font-size="23.6" textLength="53.2" lengthAdjust="spacingAndGlyphs"><tspan font-size="23.6">DNS</tspan></text>
<text x="2615.6" y="2375.2" font-family='"Liberation Serif", serif' font-size="23.6" textLength="76.7" lengthAdjust="spacingAndGlyphs">0.1241</text>
<text x="2746.3" y="2375.2" font-family='"Liberation Serif", serif' font-size="23.6" textLength="76.7" lengthAdjust="spacingAndGlyphs">2.7041</text>
<text x="2862" y="2375.2" font-family='"Liberation Serif", serif' font-size="23.6" textLength="76.7" lengthAdjust="spacingAndGlyphs">0.0398</text>
<text x="2263.4" y="2404.4" font-family='"Liberation Serif", serif' font-size="23.6" textLength="281.6" lengthAdjust="spacingAndGlyphs"><tspan font-size="23.6">PARC (</tspan><tspan font-size="17.94">NUMERICAL INT</tspan><tspan font-size="23.6">.)</tspan></text>
<text x="2615.6" y="2404.4" font-family='"Liberation Serif", serif' font-size="23.6" textLength="76.7" lengthAdjust="spacingAndGlyphs">0.1262</text>
<text x="2746.3" y="2404.4" font-family='"Liberation Serif", serif' font-size="23.6" textLength="76.7" lengthAdjust="spacingAndGlyphs">2.8568</text>
<text x="2862" y="2404.4" font-family='"Liberation Serif", serif' font-size="23.6" textLength="76.7" lengthAdjust="spacingAndGlyphs">0.4465</text>
<text x="2263.4" y="2433.2" font-family='"Liberation Serif", serif' font-size="23.6" textLength="301.1" lengthAdjust="spacingAndGlyphs"><tspan font-size="23.6">PARC (</tspan><tspan font-size="17.94">DATA</tspan><tspan font-size="23.6">-</tspan><tspan font-size="17.94">DRIVEN INT</tspan><tspan font-size="23.6">.)</tspan></text>
<text x="2615.6" y="2433.2" font-family='"Liberation Serif", serif' font-size="23.6" textLength="76.7" lengthAdjust="spacingAndGlyphs">0.1176</text>
<text x="2746.3" y="2433.2" font-family='"Liberation Serif", serif' font-size="23.6" textLength="76.7" lengthAdjust="spacingAndGlyphs">6.2244</text>
<text x="2862" y="2433.2" font-family='"Liberation Serif", serif' font-size="23.6" textLength="76.7" lengthAdjust="spacingAndGlyphs">4.3241</text>
<text x="2263.4" y="2462.4" font-family='"Liberation Serif", serif' font-size="23.6" textLength="54.1" lengthAdjust="spacingAndGlyphs"><tspan font-size="23.6">FNO</tspan></text>
<text x="2615.6" y="2462.4" font-family='"Liberation Serif", serif' font-size="23.6" textLength="76.7" lengthAdjust="spacingAndGlyphs">0.1537</text>
<text x="2746.3" y="2462.4" font-family='"Liberation Serif", serif' font-size="23.6" textLength="76.7" lengthAdjust="spacingAndGlyphs">2.5351</text>
<text x="2862" y="2462.4" font-family='"Liberation Serif", serif' font-size="23.6" textLength="76.7" lengthAdjust="spacingAndGlyphs">0.9170</text>
<text x="2263.4" y="2491.5" font-family='"Liberation Serif", serif' font-size="23.6" textLength="132.3" lengthAdjust="spacingAndGlyphs"><tspan font-size="23.6">P</tspan><tspan font-size="17.94">HY</tspan><tspan font-size="23.6">CRN</tspan><tspan font-size="17.94">ET</tspan></text>
<text x="2615.6" y="2491.5" font-family='"Liberation Serif", serif' font-size="23.6" textLength="76.7" lengthAdjust="spacingAndGlyphs">0.0560</text>
<text x="2746.3" y="2491.5" font-family='"Liberation Serif", serif' font-size="23.6" textLength="76.7" lengthAdjust="spacingAndGlyphs">2.4904</text>
<text x="2862" y="2491.5" font-family='"Liberation Serif", serif' font-size="23.6" textLength="76.7" lengthAdjust="spacingAndGlyphs">0.0565</text>
<text x="2263.4" y="2520.4" font-family='"Liberation Serif", serif' font-size="23.6" textLength="80.3" lengthAdjust="spacingAndGlyphs"><tspan font-size="23.6">PIFNO</tspan></text>
<text x="2615.6" y="2520.4" font-family='"Liberation Serif", serif' font-size="23.6" textLength="76.7" lengthAdjust="spacingAndGlyphs">0.1058</text>
<text x="2746.3" y="2520.4" font-family='"Liberation Serif", serif' font-size="23.6" textLength="76.7" lengthAdjust="spacingAndGlyphs">0.8552</text>
<text x="2862" y="2520.4" font-family='"Liberation Serif", serif' font-size="23.6" textLength="76.7" lengthAdjust="spacingAndGlyphs">0.0768</text>
<text x="2263.4" y="2549.5" font-family='"Liberation Serif", serif' font-size="23.6" textLength="264.5" lengthAdjust="spacingAndGlyphs"><tspan font-size="23.6">PARC</tspan><tspan font-size="17.94">V</tspan><tspan font-size="23.6">2 (T</tspan><tspan font-size="17.94">HIS </tspan><tspan font-size="23.6">S</tspan><tspan font-size="17.94">TUDY</tspan><tspan font-size="23.6">)</tspan></text>
<text x="2615.6" y="2549.5" font-family='"Liberation Serif", serif' font-size="23.6" textLength="76.7" lengthAdjust="spacingAndGlyphs">0.1292</text>
<text x="2746.3" y="2549.5" font-family='"Liberation Serif", serif' font-size="23.6" textLength="76.7" lengthAdjust="spacingAndGlyphs">3.7095</text>
<text x="2862" y="2549.5" font-family='"Liberation Serif", serif' font-size="23.6" textLength="76.7" lengthAdjust="spacingAndGlyphs">0.3738</text>
<!-- right_a -->
<text x="3033.91" y="452.7" font-family='"Liberation Sans", sans-serif' font-size="46.5" font-weight="bold" textLength="388.19" lengthAdjust="spacingAndGlyphs">RESULTS (Cont’d)</text>
<text x="3036.2" y="522.8" font-family='"Liberation Sans", sans-serif' font-size="37.8" font-style="italic" textLength="774.3" lengthAdjust="spacingAndGlyphs">B. Extreme Benchmarks (Strong Nonlinearity)</text>
<text x="3351.95" y="570.9" font-family='"DejaVu Sans", sans-serif' font-size="29" text-anchor="middle" textLength="135.81" lengthAdjust="spacingAndGlyphs">0.18 (ns)</text>
<text x="3581.35" y="570.9" font-family='"DejaVu Sans", sans-serif' font-size="29" text-anchor="middle" textLength="135.81" lengthAdjust="spacingAndGlyphs">0.92 (ns)</text>
<text x="3809.65" y="570.9" font-family='"DejaVu Sans", sans-serif' font-size="29" text-anchor="middle" textLength="135.81" lengthAdjust="spacingAndGlyphs">1.65 (ns)</text>
<text x="4038.55" y="570.9" font-family='"DejaVu Sans", sans-serif' font-size="29" text-anchor="middle" textLength="135.81" lengthAdjust="spacingAndGlyphs">2.38 (ns)</text>
<g transform="translate(3199.5,650.1) rotate(-90)"><text x="0" y="0" font-family='"DejaVu Sans", sans-serif' font-size="29" text-anchor="middle">Ground</text></g>
<g transform="translate(3233.3,650.1) rotate(-90)"><text x="0" y="0" font-family='"DejaVu Sans", sans-serif' font-size="29" text-anchor="middle">truth</text></g>
<clipPath id="e1"><rect x="3243.7" y="576.2" width="216.5" height="143.8"/></clipPath>
<g clip-path="url(#e1)"><rect x="3243.7" y="576.2" width="216.5" height="143.8" fill="#000086"/><rect x="3243.7" y="576.2" width="41.13" height="143.8" fill="#0404C8"/><rect x="3243.7" y="576.2" width="25.98" height="143.8" fill="#0808D4" opacity="0.7"/></g>
<clipPath id="e2"><rect x="3473.1" y="576.2" width="216.5" height="143.8"/></clipPath>
<g clip-path="url(#e2)"><rect x="3473.1" y="576.2" width="216.5" height="143.8" fill="#000086"/><path d="M3473.1,576.2 L3603,576.2 Q3611.66,612.15 3585.68,648.1 Q3613.82,691.24 3598.67,720 L3473.1,720 Z" fill="#0404C8"/><rect x="3473.1" y="576.2" width="25.98" height="143.8" fill="#0808D4" opacity="0.7"/><g filter="url(#blur4)"><ellipse cx="3572.69" cy="636.6" rx="6.42" ry="21.41" fill="#0061ff" opacity="0.85" transform="rotate(25 3572.69 636.6)"/><ellipse cx="3574.86" cy="643.79" rx="6.42" ry="6.31" fill="#0061ff" opacity="0.85"/><ellipse cx="3568.36" cy="627.97" rx="13.04" ry="4.59" fill="#0061ff" opacity="0.85" transform="rotate(-20 3568.36 627.97)"/><ellipse cx="3559.7" cy="665.36" rx="6.42" ry="10.63" fill="#0061ff" opacity="0.85" transform="rotate(40 3559.7 665.36)"/></g><g filter="url(#blur2)"><ellipse cx="3572.69" cy="636.6" rx="3.99" ry="15.24" fill="#05fffa" transform="rotate(25 3572.69 636.6)"/><ellipse cx="3574.86" cy="643.79" rx="3.99" ry="4.16" fill="#05fffa"/><ellipse cx="3568.36" cy="627.97" rx="8.47" ry="2.9" fill="#05fffa" transform="rotate(-20 3568.36 627.97)"/><ellipse cx="3559.7" cy="665.36" rx="3.99" ry="7.33" fill="#00e5ff" transform="rotate(40 3559.7 665.36)"/></g><g filter="url(#blur1)"><ellipse cx="3572.69" cy="636.6" rx="1.95" ry="9.71" fill="#4dffb2" transform="rotate(25 3572.69 636.6)"/><ellipse cx="3574.86" cy="643.79" rx="1.95" ry="2.16" fill="#e50000"/></g></g>
<clipPath id="e3"><rect x="3701.4" y="576.2" width="216.5" height="143.8"/></clipPath>
<g clip-path="url(#e3)"><rect x="3701.4" y="576.2" width="216.5" height="143.8" fill="#000086"/><path d="M3701.4,576.2 L3902.74,576.2 Q3911.41,612.15 3885.43,648.1 Q3913.57,691.24 3898.41,720 L3701.4,720 Z" fill="#0404C8"/><rect x="3701.4" y="576.2" width="25.98" height="143.8" fill="#0808D4" opacity="0.7"/><g filter="url(#blur4)"><ellipse cx="3848.62" cy="633.72" rx="14.88" ry="17.1" fill="#0061ff" opacity="0.85"/><ellipse cx="3852.95" cy="642.35" rx="13.04" ry="9.55" fill="#0061ff" opacity="0.85"/><ellipse cx="3831.3" cy="639.47" rx="20.4" ry="7.39" fill="#0061ff" opacity="0.85" transform="rotate(-10 3831.3 639.47)"/><ellipse cx="3816.14" cy="655.29" rx="6.42" ry="12.79" fill="#0061ff" opacity="0.85" transform="rotate(50 3816.14 655.29)"/></g><g filter="url(#blur2)"><ellipse cx="3848.62" cy="633.72" rx="9.71" ry="12.07" fill="#05fffa"/><ellipse cx="3852.95" cy="642.35" rx="8.47" ry="6.54" fill="#05fffa"/><ellipse cx="3831.3" cy="639.47" rx="13.45" ry="4.95" fill="#05fffa" transform="rotate(-10 3831.3 639.47)"/><ellipse cx="3816.14" cy="655.29" rx="3.99" ry="8.91" fill="#05fffa" transform="rotate(50 3816.14 655.29)"/></g><g filter="url(#blur1)"><ellipse cx="3848.62" cy="633.72" rx="5.68" ry="7.55" fill="#ffb300"/><ellipse cx="3852.95" cy="642.35" rx="4.87" ry="3.77" fill="#ff1a00"/><ellipse cx="3831.3" cy="639.47" rx="8.12" ry="2.7" fill="#e5ff1a" transform="rotate(-10 3831.3 639.47)"/></g></g>
<clipPath id="e4"><rect x="3930.3" y="576.2" width="216.5" height="143.8"/></clipPath>
<g clip-path="url(#e4)"><rect x="3930.3" y="576.2" width="216.5" height="143.8" fill="#000086"/><rect x="3930.3" y="576.2" width="216.5" height="143.8" fill="#0404CC"/><rect x="3930.3" y="576.2" width="25.98" height="143.8" fill="#0808D4" opacity="0.7"/><g filter="url(#blur4)"><ellipse cx="4107.83" cy="633.72" rx="29.6" ry="30.04" fill="#0061ff" opacity="0.85" transform="rotate(-25 4107.83 633.72)"/><ellipse cx="4099.17" cy="619.34" rx="16.72" ry="12.79" fill="#0061ff" opacity="0.85"/><ellipse cx="4086.18" cy="639.47" rx="20.4" ry="7.39" fill="#0061ff" opacity="0.85" transform="rotate(-20 4086.18 639.47)"/><ellipse cx="4073.19" cy="650.98" rx="14.88" ry="6.31" fill="#0061ff" opacity="0.85" transform="rotate(-30 4073.19 650.98)"/></g><g filter="url(#blur2)"><ellipse cx="4107.83" cy="633.72" rx="19.67" ry="21.56" fill="#05fffa" transform="rotate(-25 4107.83 633.72)"/><ellipse cx="4099.17" cy="619.34" rx="10.96" ry="8.91" fill="#05fffa"/><ellipse cx="4086.18" cy="639.47" rx="13.45" ry="4.95" fill="#05fffa" transform="rotate(-20 4086.18 639.47)"/><ellipse cx="4073.19" cy="650.98" rx="9.71" ry="4.16" fill="#05fffa" transform="rotate(-30 4073.19 650.98)"/></g><g filter="url(#blur1)"><ellipse cx="4107.83" cy="633.72" rx="12.18" ry="14.02" fill="#faff05" transform="rotate(-25 4107.83 633.72)"/><ellipse cx="4099.17" cy="619.34" rx="6.5" ry="5.39" fill="#e5ff1a"/><ellipse cx="4086.18" cy="639.47" rx="8.12" ry="2.7" fill="#d1ff2e" transform="rotate(-20 4086.18 639.47)"/><ellipse cx="4073.19" cy="650.98" rx="5.68" ry="2.16" fill="#80ff80" transform="rotate(-30 4073.19 650.98)"/></g></g>
<g transform="translate(3233.3,805.6) rotate(-90)"><text x="0" y="0" font-family='"DejaVu Sans", sans-serif' font-size="29" text-anchor="middle">PARCv2</text></g>
<clipPath id="e5"><rect x="3243.7" y="731.7" width="216.5" height="143.8"/></clipPath>
<g clip-path="url(#e5)"><rect x="3243.7" y="731.7" width="216.5" height="143.8" fill="#000086"/><rect x="3243.7" y="731.7" width="41.13" height="143.8" fill="#0404C8"/><rect x="3243.7" y="731.7" width="25.98" height="143.8" fill="#0808D4" opacity="0.7"/></g>
<clipPath id="e6"><rect x="3473.1" y="731.7" width="216.5" height="143.8"/></clipPath>
<g clip-path="url(#e6)"><rect x="3473.1" y="731.7" width="216.5" height="143.8" fill="#000086"/><path d="M3473.1,731.7 L3603,731.7 Q3611.66,767.65 3585.68,803.6 Q3613.82,846.74 3598.67,875.5 L3473.1,875.5 Z" fill="#0404C8"/><rect x="3473.1" y="731.7" width="25.98" height="143.8" fill="#0808D4" opacity="0.7"/><g filter="url(#blur4)"><ellipse cx="3574.86" cy="794.97" rx="6.42" ry="19.26" fill="#0061ff" opacity="0.85" transform="rotate(15 3574.86 794.97)"/><ellipse cx="3574.86" cy="799.29" rx="5.68" ry="6.31" fill="#0061ff" opacity="0.85"/><ellipse cx="3564.03" cy="823.73" rx="6.42" ry="10.63" fill="#0061ff" opacity="0.85" transform="rotate(30 3564.03 823.73)"/></g><g filter="url(#blur2)"><ellipse cx="3574.86" cy="794.97" rx="3.99" ry="13.65" fill="#05fffa" transform="rotate(15 3574.86 794.97)"/><ellipse cx="3574.86" cy="799.29" rx="3.49" ry="4.16" fill="#05fffa"/><ellipse cx="3564.03" cy="823.73" rx="3.99" ry="7.33" fill="#05fffa" transform="rotate(30 3564.03 823.73)"/></g><g filter="url(#blur1)"><ellipse cx="3574.86" cy="794.97" rx="1.95" ry="8.63" fill="#4dffb2" transform="rotate(15 3574.86 794.97)"/><ellipse cx="3574.86" cy="799.29" rx="1.62" ry="2.16" fill="#ffe500"/></g></g>
<clipPath id="e7"><rect x="3701.4" y="731.7" width="216.5" height="143.8"/></clipPath>
<g clip-path="url(#e7)"><rect x="3701.4" y="731.7" width="216.5" height="143.8" fill="#000086"/><path d="M3701.4,731.7 L3902.74,731.7 Q3911.41,767.65 3885.43,803.6 Q3913.57,846.74 3898.41,875.5 L3701.4,875.5 Z" fill="#0404C8"/><rect x="3701.4" y="731.7" width="25.98" height="143.8" fill="#0808D4" opacity="0.7"/><g filter="url(#blur4)"><ellipse cx="3852.95" cy="783.47" rx="13.04" ry="21.41" fill="#0061ff" opacity="0.85"/><ellipse cx="3844.29" cy="794.97" rx="18.56" ry="8.47" fill="#0061ff" opacity="0.85" transform="rotate(-35 3844.29 794.97)"/><ellipse cx="3857.28" cy="803.6" rx="11.2" ry="8.47" fill="#0061ff" opacity="0.85"/><ellipse cx="3818.31" cy="815.1" rx="5.68" ry="11.71" fill="#0061ff" opacity="0.85" transform="rotate(20 3818.31 815.1)"/></g><g filter="url(#blur2)"><ellipse cx="3852.95" cy="783.47" rx="8.47" ry="15.24" fill="#05fffa"/><ellipse cx="3844.29" cy="794.97" rx="12.2" ry="5.75" fill="#05fffa" transform="rotate(-35 3844.29 794.97)"/><ellipse cx="3857.28" cy="803.6" rx="7.22" ry="5.75" fill="#05fffa"/><ellipse cx="3818.31" cy="815.1" rx="3.49" ry="8.12" fill="#05fffa" transform="rotate(20 3818.31 815.1)"/></g><g filter="url(#blur1)"><ellipse cx="3852.95" cy="783.47" rx="4.87" ry="9.71" fill="#faff05"/><ellipse cx="3844.29" cy="794.97" rx="7.31" ry="3.24" fill="#ffe500" transform="rotate(-35 3844.29 794.97)"/><ellipse cx="3857.28" cy="803.6" rx="4.06" ry="3.24" fill="#faff05"/></g></g>
<clipPath id="e8"><rect x="3930.3" y="731.7" width="216.5" height="143.8"/></clipPath>
<g clip-path="url(#e8)"><rect x="3930.3" y="731.7" width="216.5" height="143.8" fill="#000086"/><rect x="3930.3" y="731.7" width="216.5" height="143.8" fill="#0404CC"/><rect x="3930.3" y="731.7" width="25.98" height="143.8" fill="#0808D4" opacity="0.7"/><g filter="url(#blur4)"><ellipse cx="4112.16" cy="789.22" rx="25.92" ry="32.2" fill="#0061ff" opacity="0.85" transform="rotate(-15 4112.16 789.22)"/><ellipse cx="4103.5" cy="771.96" rx="16.72" ry="12.79" fill="#0061ff" opacity="0.85"/><ellipse cx="4090.51" cy="803.6" rx="16.72" ry="6.31" fill="#0061ff" opacity="0.85" transform="rotate(-25 4090.51 803.6)"/><ellipse cx="4073.19" cy="815.1" rx="6.42" ry="9.55" fill="#0061ff" opacity="0.85" transform="rotate(20 4073.19 815.1)"/></g><g filter="url(#blur2)"><ellipse cx="4112.16" cy="789.22" rx="17.18" ry="23.15" fill="#05fffa" transform="rotate(-15 4112.16 789.22)"/><ellipse cx="4103.5" cy="771.96" rx="10.96" ry="8.91" fill="#05fffa"/><ellipse cx="4090.51" cy="803.6" rx="10.96" ry="4.16" fill="#05fffa" transform="rotate(-25 4090.51 803.6)"/><ellipse cx="4073.19" cy="815.1" rx="3.99" ry="6.54" fill="#05fffa" transform="rotate(20 4073.19 815.1)"/></g><g filter="url(#blur1)"><ellipse cx="4112.16" cy="789.22" rx="10.55" ry="15.1" fill="#faff05" transform="rotate(-15 4112.16 789.22)"/><ellipse cx="4103.5" cy="771.96" rx="6.5" ry="5.39" fill="#d1ff2e"/><ellipse cx="4090.51" cy="803.6" rx="6.5" ry="2.16" fill="#80ff80" transform="rotate(-25 4090.51 803.6)"/><ellipse cx="4073.19" cy="815.1" rx="1.95" ry="3.77" fill="#2effd1" transform="rotate(20 4073.19 815.1)"/></g></g>
<g transform="translate(3199.5,961.2) rotate(-90)"><text x="0" y="0" font-family='"DejaVu Sans", sans-serif' font-size="29" text-anchor="middle">PARC</text></g>
<g transform="translate(3233.3,961.2) rotate(-90)"><text x="0" y="0" font-family='"DejaVu Sans", sans-serif' font-size="29" text-anchor="middle">(num. int.)</text></g>
<clipPath id="e9"><rect x="3243.7" y="887.3" width="216.5" height="143.8"/></clipPath>
<g clip-path="url(#e9)"><rect x="3243.7" y="887.3" width="216.5" height="143.8" fill="#000086"/><rect x="3243.7" y="887.3" width="41.13" height="143.8" fill="#0404C8"/><rect x="3243.7" y="887.3" width="25.98" height="143.8" fill="#0808D4" opacity="0.7"/></g>
<clipPath id="e10"><rect x="3473.1" y="887.3" width="216.5" height="143.8"/></clipPath>
<g clip-path="url(#e10)"><rect x="3473.1" y="887.3" width="216.5" height="143.8" fill="#000086"/><path d="M3473.1,887.3 L3603,887.3 Q3611.66,923.25 3585.68,959.2 Q3613.82,1002.34 3598.67,1031.1 L3473.1,1031.1 Z" fill="#0404C8"/><rect x="3473.1" y="887.3" width="25.98" height="143.8" fill="#0808D4" opacity="0.7"/><g filter="url(#blur4)"><ellipse cx="3577.02" cy="950.57" rx="9.36" ry="6.31" fill="#0061ff" opacity="0.85"/><ellipse cx="3572.69" cy="962.08" rx="6.42" ry="10.63" fill="#0061ff" opacity="0.85" transform="rotate(30 3572.69 962.08)"/><ellipse cx="3559.7" cy="982.21" rx="11.2" ry="4.59" fill="#0061ff" opacity="0.85" transform="rotate(-30 3559.7 982.21)"/></g><g filter="url(#blur2)"><ellipse cx="3577.02" cy="950.57" rx="5.98" ry="4.16" fill="#05fffa"/><ellipse cx="3572.69" cy="962.08" rx="3.99" ry="7.33" fill="#05fffa" transform="rotate(30 3572.69 962.08)"/><ellipse cx="3559.7" cy="982.21" rx="7.22" ry="2.9" fill="#00f0ff" transform="rotate(-30 3559.7 982.21)"/></g><g filter="url(#blur1)"><ellipse cx="3572.69" cy="962.08" rx="1.95" ry="4.31" fill="#2effd1" transform="rotate(30 3572.69 962.08)"/></g></g>
<clipPath id="e11"><rect x="3701.4" y="887.3" width="216.5" height="143.8"/></clipPath>
<g clip-path="url(#e11)"><rect x="3701.4" y="887.3" width="216.5" height="143.8" fill="#000086"/><path d="M3701.4,887.3 L3902.74,887.3 Q3911.41,923.25 3885.43,959.2 Q3913.57,1002.34 3898.41,1031.1 L3701.4,1031.1 Z" fill="#0404C8"/><rect x="3701.4" y="887.3" width="25.98" height="143.8" fill="#0808D4" opacity="0.7"/><g filter="url(#blur4)"><ellipse cx="3850.78" cy="936.19" rx="13.04" ry="13.86" fill="#0061ff" opacity="0.85"/><ellipse cx="3850.78" cy="950.57" rx="6.42" ry="12.79" fill="#0061ff" opacity="0.85"/><ellipse cx="3839.96" cy="959.2" rx="8.62" ry="7.39" fill="#0061ff" opacity="0.85"/><ellipse cx="3859.45" cy="959.2" rx="8.62" ry="8.47" fill="#0061ff" opacity="0.85"/><ellipse cx="3807.49" cy="980.77" rx="11.2" ry="4.59" fill="#0061ff" opacity="0.85" transform="rotate(-25 3807.49 980.77)"/></g><g filter="url(#blur2)"><ellipse cx="3850.78" cy="936.19" rx="8.47" ry="9.7" fill="#05fffa"/><ellipse cx="3850.78" cy="950.57" rx="3.99" ry="8.91" fill="#05fffa"/><ellipse cx="3839.96" cy="959.2" rx="5.48" ry="4.95" fill="#05fffa"/><ellipse cx="3859.45" cy="959.2" rx="5.48" ry="5.75" fill="#05fffa"/><ellipse cx="3807.49" cy="980.77" rx="7.22" ry="2.9" fill="#05fffa" transform="rotate(-25 3807.49 980.77)"/></g><g filter="url(#blur1)"><ellipse cx="3850.78" cy="936.19" rx="4.87" ry="5.93" fill="#94ff6b"/><ellipse cx="3850.78" cy="950.57" rx="1.95" ry="5.39" fill="#4dffb2"/><ellipse cx="3839.96" cy="959.2" rx="2.92" ry="2.7" fill="#80ff80"/><ellipse cx="3859.45" cy="959.2" rx="2.92" ry="3.24" fill="#b3ff4c"/></g></g>
<clipPath id="e12"><rect x="3930.3" y="887.3" width="216.5" height="143.8"/></clipPath>
<g clip-path="url(#e12)"><rect x="3930.3" y="887.3" width="216.5" height="143.8" fill="#000086"/><rect x="3930.3" y="887.3" width="216.5" height="143.8" fill="#0404CC"/><rect x="3930.3" y="887.3" width="25.98" height="143.8" fill="#0808D4" opacity="0.7"/><g filter="url(#blur4)"><ellipse cx="4105.66" cy="930.44" rx="18.56" ry="18.18" fill="#0061ff" opacity="0.85" transform="rotate(-30 4105.66 930.44)"/><ellipse cx="4118.65" cy="959.2" rx="14.88" ry="8.47" fill="#0061ff" opacity="0.85" transform="rotate(-25 4118.65 959.2)"/><ellipse cx="4105.66" cy="957.76" rx="9.36" ry="7.39" fill="#0061ff" opacity="0.85"/><ellipse cx="4088.35" cy="949.13" rx="7.52" ry="4.59" fill="#0061ff" opacity="0.85"/></g><g filter="url(#blur2)"><ellipse cx="4105.66" cy="930.44" rx="12.2" ry="12.86" fill="#05fffa" transform="rotate(-30 4105.66 930.44)"/><ellipse cx="4118.65" cy="959.2" rx="9.71" ry="5.75" fill="#05fffa" transform="rotate(-25 4118.65 959.2)"/><ellipse cx="4105.66" cy="957.76" rx="5.98" ry="4.95" fill="#05fffa"/><ellipse cx="4088.35" cy="949.13" rx="4.73" ry="2.9" fill="#05fffa"/></g><g filter="url(#blur1)"><ellipse cx="4105.66" cy="930.44" rx="7.31" ry="8.09" fill="#94ff6b" transform="rotate(-30 4105.66 930.44)"/><ellipse cx="4118.65" cy="959.2" rx="5.68" ry="3.24" fill="#b3ff4c" transform="rotate(-25 4118.65 959.2)"/><ellipse cx="4105.66" cy="957.76" rx="3.25" ry="2.7" fill="#94ff6b"/><ellipse cx="4088.35" cy="949.13" rx="2.44" ry="1.29" fill="#4dffb2"/></g></g>
<g transform="translate(3199.5,1116.6) rotate(-90)"><text x="0" y="0" font-family='"DejaVu Sans", sans-serif' font-size="29" text-anchor="middle">PARC</text></g>
<g transform="translate(3233.3,1116.6) rotate(-90)"><text x="0" y="0" font-family='"DejaVu Sans", sans-serif' font-size="29" text-anchor="middle">(NN int.)</text></g>
<clipPath id="e13"><rect x="3243.7" y="1042.7" width="216.5" height="143.8"/></clipPath>
<g clip-path="url(#e13)"><rect x="3243.7" y="1042.7" width="216.5" height="143.8" fill="#000086"/><rect x="3243.7" y="1042.7" width="30.31" height="143.8" fill="#0404C8"/><rect x="3243.7" y="1042.7" width="25.98" height="143.8" fill="#0808D4" opacity="0.7"/></g>
<clipPath id="e14"><rect x="3473.1" y="1042.7" width="216.5" height="143.8"/></clipPath>
<g clip-path="url(#e14)"><rect x="3473.1" y="1042.7" width="216.5" height="143.8" fill="#000086"/><rect x="3473.1" y="1042.7" width="77.94" height="143.8" fill="#0404C8"/><rect x="3473.1" y="1042.7" width="25.98" height="143.8" fill="#0808D4" opacity="0.7"/><g filter="url(#blur4)"><ellipse cx="3556.45" cy="1094.47" rx="7.52" ry="4.16" fill="#0061ff" opacity="0.85"/><ellipse cx="3548.88" cy="1140.48" rx="5.68" ry="8.47" fill="#0061ff" opacity="0.85" transform="rotate(40 3548.88 1140.48)"/></g><g filter="url(#blur2)"><ellipse cx="3556.45" cy="1094.47" rx="4.73" ry="2.58" fill="#05fffa"/><ellipse cx="3548.88" cy="1140.48" rx="3.49" ry="5.75" fill="#00d1ff" transform="rotate(40 3548.88 1140.48)"/></g><g filter="url(#blur1)"></g></g>
<clipPath id="e15"><rect x="3701.4" y="1042.7" width="216.5" height="143.8"/></clipPath>
<g clip-path="url(#e15)"><rect x="3701.4" y="1042.7" width="216.5" height="143.8" fill="#000086"/><rect x="3701.4" y="1042.7" width="125.57" height="143.8" fill="#0404C8"/><rect x="3701.4" y="1042.7" width="25.98" height="143.8" fill="#0808D4" opacity="0.7"/><g filter="url(#blur4)"><ellipse cx="3818.31" cy="1103.1" rx="7.52" ry="4.59" fill="#0061ff" opacity="0.85"/></g><g filter="url(#blur2)"><ellipse cx="3818.31" cy="1103.1" rx="4.73" ry="2.9" fill="#009eff"/></g><g filter="url(#blur1)"></g></g>
<clipPath id="e16"><rect x="3930.3" y="1042.7" width="216.5" height="143.8"/></clipPath>
<g clip-path="url(#e16)"><rect x="3930.3" y="1042.7" width="216.5" height="143.8" fill="#000086"/><rect x="3930.3" y="1042.7" width="259.8" height="143.8" fill="#0404C8"/><rect x="3930.3" y="1042.7" width="25.98" height="143.8" fill="#0808D4" opacity="0.7"/><g filter="url(#blur4)"><ellipse cx="4086.18" cy="1114.6" rx="7.52" ry="4.16" fill="#0061ff" opacity="0.85" transform="rotate(30 4086.18 1114.6)"/></g><g filter="url(#blur2)"><ellipse cx="4086.18" cy="1114.6" rx="4.73" ry="2.58" fill="#00f0ff" transform="rotate(30 4086.18 1114.6)"/></g><g filter="url(#blur1)"></g></g>
<g transform="translate(3233.3,1272.6) rotate(-90)"><text x="0" y="0" font-family='"DejaVu Sans", sans-serif' font-size="29" text-anchor="middle">FNO</text></g>
<clipPath id="e17"><rect x="3243.7" y="1198.7" width="216.5" height="143.8"/></clipPath>
<g clip-path="url(#e17)"><rect x="3243.7" y="1198.7" width="216.5" height="143.8" fill="#000086"/><rect x="3243.7" y="1198.7" width="216.5" height="143.8" fill="#0000B4"/><g filter="url(#blur4)" opacity="0.6"><ellipse cx="3412" cy="1233" rx="13" ry="4" fill="#0000E0"/><ellipse cx="3340" cy="1302" rx="16" ry="9" fill="#0000E0"/><ellipse cx="3446" cy="1209" rx="16" ry="7" fill="#000098"/><ellipse cx="3395" cy="1272" rx="25" ry="10" fill="#0000E0"/><ellipse cx="3439" cy="1328" rx="9" ry="6" fill="#0000E0"/><ellipse cx="3286" cy="1254" rx="21" ry="9" fill="#000098"/><ellipse cx="3313" cy="1224" rx="21" ry="9" fill="#0818E8"/><ellipse cx="3394" cy="1226" rx="14" ry="9" fill="#0000E0"/><ellipse cx="3378" cy="1326" rx="14" ry="7" fill="#0818E8"/><ellipse cx="3372" cy="1271" rx="9" ry="6" fill="#000098"/><ellipse cx="3248" cy="1203" rx="20" ry="9" fill="#0818E8"/><ellipse cx="3430" cy="1239" rx="16" ry="7" fill="#000098"/><ellipse cx="3416" cy="1241" rx="13" ry="8" fill="#0818E8"/><ellipse cx="3281" cy="1258" rx="17" ry="6" fill="#0000E0"/></g></g>
<clipPath id="e18"><rect x="3473.1" y="1198.7" width="216.5" height="143.8"/></clipPath>
<g clip-path="url(#e18)"><rect x="3473.1" y="1198.7" width="216.5" height="143.8" fill="#000086"/><rect x="3473.1" y="1198.7" width="216.5" height="143.8" fill="#0000B4"/><g filter="url(#blur4)" opacity="0.6"><ellipse cx="3548" cy="1273" rx="9" ry="4" fill="#0000E0"/><ellipse cx="3528" cy="1221" rx="10" ry="9" fill="#000098"/><ellipse cx="3509" cy="1224" rx="21" ry="6" fill="#0818E8"/><ellipse cx="3503" cy="1301" rx="17" ry="5" fill="#000098"/><ellipse cx="3575" cy="1308" rx="16" ry="9" fill="#000098"/><ellipse cx="3531" cy="1255" rx="11" ry="7" fill="#0000E0"/><ellipse cx="3554" cy="1247" rx="14" ry="5" fill="#0000E0"/><ellipse cx="3577" cy="1299" rx="24" ry="6" fill="#0000E0"/><ellipse cx="3606" cy="1323" rx="19" ry="9" fill="#0818E8"/><ellipse cx="3613" cy="1208" rx="13" ry="8" fill="#000098"/><ellipse cx="3624" cy="1253" rx="12" ry="9" fill="#000098"/><ellipse cx="3549" cy="1200" rx="11" ry="9" fill="#0000E0"/><ellipse cx="3595" cy="1311" rx="16" ry="6" fill="#0818E8"/><ellipse cx="3511" cy="1323" rx="13" ry="9" fill="#000098"/></g><g filter="url(#blur6)"><ellipse cx="3566.19" cy="1243.28" rx="16.72" ry="8.47" fill="#0061ff" opacity="0.85"/><ellipse cx="3585.68" cy="1259.1" rx="13.04" ry="7.39" fill="#0061ff" opacity="0.85"/></g><g filter="url(#blur3)"><ellipse cx="3566.19" cy="1243.28" rx="10.96" ry="5.75" fill="#00f0ff"/><ellipse cx="3585.68" cy="1259.1" rx="8.47" ry="4.95" fill="#00d1ff"/></g><g filter="url(#blur1)"></g></g>
<clipPath id="e19"><rect x="3701.4" y="1198.7" width="216.5" height="143.8"/></clipPath>
<g clip-path="url(#e19)"><rect x="3701.4" y="1198.7" width="216.5" height="143.8" fill="#000086"/><rect x="3701.4" y="1198.7" width="216.5" height="143.8" fill="#0000B4"/><g filter="url(#blur4)" opacity="0.6"><ellipse cx="3883" cy="1303" rx="22" ry="8" fill="#0818E8"/><ellipse cx="3801" cy="1214" rx="12" ry="7" fill="#000098"/><ellipse cx="3808" cy="1211" rx="18" ry="5" fill="#0818E8"/><ellipse cx="3890" cy="1271" rx="18" ry="7" fill="#0000E0"/><ellipse cx="3754" cy="1239" rx="18" ry="8" fill="#0818E8"/><ellipse cx="3836" cy="1222" rx="11" ry="9" fill="#000098"/><ellipse cx="3790" cy="1215" rx="16" ry="4" fill="#0818E8"/><ellipse cx="3709" cy="1240" rx="10" ry="8" fill="#0818E8"/><ellipse cx="3758" cy="1248" rx="11" ry="7" fill="#0000E0"/><ellipse cx="3793" cy="1224" rx="22" ry="4" fill="#0818E8"/><ellipse cx="3703" cy="1319" rx="9" ry="5" fill="#0818E8"/><ellipse cx="3820" cy="1261" rx="14" ry="6" fill="#0000E0"/><ellipse cx="3823" cy="1314" rx="8" ry="7" fill="#0000E0"/><ellipse cx="3856" cy="1266" rx="12" ry="5" fill="#000098"/></g><g filter="url(#blur6)"><ellipse cx="3859.45" cy="1253.34" rx="24.08" ry="18.18" fill="#0061ff" opacity="0.85"/><ellipse cx="3824.81" cy="1241.84" rx="16.72" ry="9.55" fill="#0061ff" opacity="0.85"/><ellipse cx="3835.63" cy="1263.41" rx="16.72" ry="7.39" fill="#0061ff" opacity="0.85"/></g><g filter="url(#blur3)"><ellipse cx="3859.45" cy="1253.34" rx="15.94" ry="12.86" fill="#05fffa"/><ellipse cx="3824.81" cy="1241.84" rx="10.96" ry="6.54" fill="#00f0ff"/><ellipse cx="3835.63" cy="1263.41" rx="10.96" ry="4.95" fill="#00f0ff"/></g><g filter="url(#blur1)"><ellipse cx="3859.45" cy="1253.34" rx="9.74" ry="8.09" fill="#6bff94"/></g></g>
<clipPath id="e20"><rect x="3930.3" y="1198.7" width="216.5" height="143.8"/></clipPath>
<g clip-path="url(#e20)"><rect x="3930.3" y="1198.7" width="216.5" height="143.8" fill="#000086"/><rect x="3930.3" y="1198.7" width="216.5" height="143.8" fill="#0000B4"/><g filter="url(#blur4)" opacity="0.6"><ellipse cx="4024" cy="1342" rx="11" ry="4" fill="#0818E8"/><ellipse cx="4059" cy="1313" rx="21" ry="6" fill="#000098"/><ellipse cx="4022" cy="1235" rx="19" ry="7" fill="#0000E0"/><ellipse cx="3991" cy="1331" rx="8" ry="4" fill="#0000E0"/><ellipse cx="4084" cy="1277" rx="20" ry="5" fill="#0818E8"/><ellipse cx="4050" cy="1241" rx="11" ry="9" fill="#0818E8"/><ellipse cx="4142" cy="1249" rx="15" ry="10" fill="#000098"/><ellipse cx="4091" cy="1287" rx="17" ry="8" fill="#0818E8"/><ellipse cx="4017" cy="1204" rx="19" ry="6" fill="#0818E8"/><ellipse cx="4119" cy="1311" rx="12" ry="6" fill="#000098"/><ellipse cx="4088" cy="1223" rx="9" ry="8" fill="#0000E0"/><ellipse cx="4034" cy="1240" rx="19" ry="4" fill="#000098"/><ellipse cx="4090" cy="1220" rx="23" ry="6" fill="#0000E0"/><ellipse cx="4115" cy="1222" rx="17" ry="8" fill="#000098"/></g><g filter="url(#blur6)"><ellipse cx="4125.15" cy="1250.47" rx="29.6" ry="17.1" fill="#0061ff" opacity="0.85"/><ellipse cx="4084.02" cy="1238.96" rx="14.88" ry="9.55" fill="#0061ff" opacity="0.85"/><ellipse cx="4099.17" cy="1261.97" rx="20.4" ry="8.47" fill="#0061ff" opacity="0.85"/><ellipse cx="4127.32" cy="1274.91" rx="16.72" ry="8.47" fill="#0061ff" opacity="0.85"/></g><g filter="url(#blur3)"><ellipse cx="4125.15" cy="1250.47" rx="19.67" ry="12.07" fill="#05fffa"/><ellipse cx="4084.02" cy="1238.96" rx="9.71" ry="6.54" fill="#00d1ff"/><ellipse cx="4099.17" cy="1261.97" rx="13.45" ry="5.75" fill="#05fffa"/><ellipse cx="4127.32" cy="1274.91" rx="10.96" ry="5.75" fill="#00f0ff"/></g><g filter="url(#blur1)"><ellipse cx="4125.15" cy="1250.47" rx="12.18" ry="7.55" fill="#94ff6b"/></g></g>
<linearGradient id="cbar" x1="0" x2="0" y1="0" y2="1"><stop offset="0" stop-color="#800000"/><stop offset="0.05" stop-color="#af0000"/><stop offset="0.1" stop-color="#df0000"/><stop offset="0.15" stop-color="#ff1000"/><stop offset="0.2" stop-color="#ff4000"/><stop offset="0.25" stop-color="#ff7000"/><stop offset="0.3" stop-color="#ffa000"/><stop offset="0.35" stop-color="#ffd000"/><stop offset="0.4" stop-color="#feff01"/><stop offset="0.45" stop-color="#ceff31"/><stop offset="0.5" stop-color="#9eff61"/><stop offset="0.55" stop-color="#6eff91"/><stop offset="0.6" stop-color="#3effc1"/><stop offset="0.65" stop-color="#0efff1"/><stop offset="0.7" stop-color="#00ddff"/><stop offset="0.75" stop-color="#00adff"/><stop offset="0.8" stop-color="#007dff"/><stop offset="0.85" stop-color="#004eff"/><stop offset="0.9" stop-color="#001eff"/><stop offset="0.95" stop-color="#0000ed"/><stop offset="1" stop-color="#0000bd"/></linearGradient>
<rect x="4157.3" y="576.2" width="27.5" height="766.3" fill="url(#cbar)" stroke="#222" stroke-width="0.8"/>
<line x1="4184.8" y1="577.7" x2="4190" y2="577.7" stroke="#111" stroke-width="1.3" />
<text x="4191.19" y="588.3" font-family='"DejaVu Sans", sans-serif' font-size="29" textLength="75.41" lengthAdjust="spacingAndGlyphs">5000</text>
<line x1="4184.8" y1="740.4" x2="4190" y2="740.4" stroke="#111" stroke-width="1.3" />
<text x="4191.19" y="751" font-family='"DejaVu Sans", sans-serif' font-size="29" textLength="75.41" lengthAdjust="spacingAndGlyphs">4000</text>
<line x1="4184.8" y1="903.7" x2="4190" y2="903.7" stroke="#111" stroke-width="1.3" />
<text x="4191.19" y="914.3" font-family='"DejaVu Sans", sans-serif' font-size="29" textLength="75.41" lengthAdjust="spacingAndGlyphs">3000</text>
<line x1="4184.8" y1="1065.8" x2="4190" y2="1065.8" stroke="#111" stroke-width="1.3" />
<text x="4191.19" y="1076.4" font-family='"DejaVu Sans", sans-serif' font-size="29" textLength="75.41" lengthAdjust="spacingAndGlyphs">2000</text>
<line x1="4184.8" y1="1228.5" x2="4190" y2="1228.5" stroke="#111" stroke-width="1.3" />
<text x="4191.19" y="1239.1" font-family='"DejaVu Sans", sans-serif' font-size="29" textLength="75.41" lengthAdjust="spacingAndGlyphs">1000</text>
<g transform="translate(4296.5,963.4) rotate(-90)"><text x="0" y="0" font-family='"DejaVu Sans", sans-serif' font-size="27" font-weight="bold" text-anchor="middle">(K)</text></g>
<rect x="3124.2" y="1374.5" width="590" height="2.4" fill="#111"/>
<rect x="3124.2" y="1431.2" width="590" height="1.5" fill="#111"/>
<rect x="3124.2" y="1659.2" width="590" height="2.4" fill="#111"/>
<text x="3134.6" y="1411.4" font-family='"Liberation Serif", serif' font-size="30.5" textLength="100.9" lengthAdjust="spacingAndGlyphs"><tspan font-size="30.5">M</tspan><tspan font-size="23.18">ODEL</tspan></text>
<text x="3529.2" y="1415" font-family='"Liberation Serif", serif' font-size="30" font-style="italic" textLength="176" lengthAdjust="spacingAndGlyphs">RMSE<tspan font-size="21" dy="5">T</tspan><tspan dy="-5">(K)</tspan></text>
<text x="3138.5" y="1467.6" font-family='"Liberation Serif", serif' font-size="30.5" textLength="341.5" lengthAdjust="spacingAndGlyphs"><tspan font-size="30.5">PARC (</tspan><tspan font-size="23.18">NUMERICAL INT</tspan><tspan font-size="30.5">.)</tspan></text>
<text x="3569.3" y="1467.6" font-family='"Liberation Serif", serif' font-size="30.5" textLength="94.5" lengthAdjust="spacingAndGlyphs">249.99</text>
<text x="3138.5" y="1502.5" font-family='"Liberation Serif", serif' font-size="30.5" textLength="363.5" lengthAdjust="spacingAndGlyphs"><tspan font-size="30.5">PARC (</tspan><tspan font-size="23.18">DATA</tspan><tspan font-size="30.5">-</tspan><tspan font-size="23.18">DRIVEN INT</tspan><tspan font-size="30.5">.)</tspan></text>
<text x="3569.3" y="1502.5" font-family='"Liberation Serif", serif' font-size="30.5" textLength="94.5" lengthAdjust="spacingAndGlyphs">306.99</text>
<text x="3138.5" y="1537.4" font-family='"Liberation Serif", serif' font-size="30.5" textLength="65.2" lengthAdjust="spacingAndGlyphs"><tspan font-size="30.5">FNO</tspan></text>
<text x="3569.3" y="1537.4" font-family='"Liberation Serif", serif' font-size="30.5" textLength="94.5" lengthAdjust="spacingAndGlyphs">248.39</text>
<text x="3138.5" y="1571.8" font-family='"Liberation Serif", serif' font-size="30.5" textLength="159.9" lengthAdjust="spacingAndGlyphs"><tspan font-size="30.5">P</tspan><tspan font-size="23.18">HY</tspan><tspan font-size="30.5">CRN</tspan><tspan font-size="23.18">ET</tspan></text>
<text x="3617.2" y="1571.8" font-family='"Liberation Serif", serif' font-size="30.5" text-anchor="middle">-</text>
<text x="3138.5" y="1606.8" font-family='"Liberation Serif", serif' font-size="30.5" textLength="97" lengthAdjust="spacingAndGlyphs"><tspan font-size="30.5">PIFNO</tspan></text>
<text x="3617.2" y="1606.8" font-family='"Liberation Serif", serif' font-size="30.5" text-anchor="middle">-</text>
<text x="3138.5" y="1641.7" font-family='"Liberation Serif", serif' font-size="30.5" textLength="319.5" lengthAdjust="spacingAndGlyphs"><tspan font-size="30.5">PARC</tspan><tspan font-size="23.18">V</tspan><tspan font-size="30.5">2 (T</tspan><tspan font-size="23.18">HIS </tspan><tspan font-size="30.5">S</tspan><tspan font-size="23.18">TUDY</tspan><tspan font-size="30.5">)</tspan></text>
<text x="3569.3" y="1641.7" font-family='"Liberation Serif", serif' font-size="30.5" textLength="94.5" lengthAdjust="spacingAndGlyphs">229.52</text>
<rect x="3728.4" y="1370.5" width="557.9" height="2.3" fill="#111"/>
<rect x="3728.4" y="1441" width="557.9" height="1.5" fill="#111"/>
<rect x="3728.4" y="1671.3" width="557.9" height="2.3" fill="#111"/>
<text x="3737" y="1403.3" font-family='"Liberation Serif", serif' font-size="27" textLength="88.4" lengthAdjust="spacingAndGlyphs"><tspan font-size="27">M</tspan><tspan font-size="20.52">ODEL</tspan></text>
<text x="4083.7" y="1393.6" font-family='"Liberation Serif", serif' font-size="26" font-style="italic" textLength="51.7" lengthAdjust="spacingAndGlyphs">ε<tspan font-size="17" dy="5">T</tspan><tspan font-size="12" dy="-6">hs</tspan></text>
<text x="4204.5" y="1393.6" font-family='"Liberation Serif", serif' font-size="26" font-style="italic" textLength="52.5" lengthAdjust="spacingAndGlyphs">ε<tspan font-size="17" dy="5">A</tspan><tspan font-size="12" dy="-6">hs</tspan></text>
<text x="4089.8" y="1427.5" font-family='"Liberation Serif", serif' font-size="26" textLength="43.9" lengthAdjust="spacingAndGlyphs">(<tspan font-style="italic">K</tspan>)</text>
<text x="4195.5" y="1427.5" font-family='"Liberation Serif", serif' font-size="26" textLength="73.7" lengthAdjust="spacingAndGlyphs">(<tspan font-style="italic">μm</tspan><tspan font-size="16" dy="-9">2</tspan><tspan dy="9">)</tspan></text>
<text x="3737" y="1472.9" font-family='"Liberation Serif", serif' font-size="27" textLength="56.6" lengthAdjust="spacingAndGlyphs"><tspan font-size="27">DNS</tspan></text>
<text x="4111" y="1472.9" font-family='"Liberation Serif", serif' font-size="27" text-anchor="middle">-</text>
<text x="4232.6" y="1472.9" font-family='"Liberation Serif", serif' font-size="27" text-anchor="middle">-</text>
<text x="3737" y="1503.5" font-family='"Liberation Serif", serif' font-size="27" textLength="299.8" lengthAdjust="spacingAndGlyphs"><tspan font-size="27">PARC (</tspan><tspan font-size="20.52">NUMERICAL INT</tspan><tspan font-size="27">.)</tspan></text>
<text x="4070.2" y="1503.5" font-family='"Liberation Serif", serif' font-size="27" textLength="81.8" lengthAdjust="spacingAndGlyphs">409.58</text>
<text x="4191.6" y="1503.5" font-family='"Liberation Serif", serif' font-size="27" textLength="81.8" lengthAdjust="spacingAndGlyphs">0.0253</text>
<text x="3737" y="1534.5" font-family='"Liberation Serif", serif' font-size="27" textLength="319.8" lengthAdjust="spacingAndGlyphs"><tspan font-size="27">PARC (</tspan><tspan font-size="20.52">DATA</tspan><tspan font-size="27">-</tspan><tspan font-size="20.52">DRIVEN INT</tspan><tspan font-size="27">.)</tspan></text>
<text x="4070.2" y="1534.5" font-family='"Liberation Serif", serif' font-size="27" textLength="81.8" lengthAdjust="spacingAndGlyphs">972.38</text>
<text x="4191.6" y="1534.5" font-family='"Liberation Serif", serif' font-size="27" textLength="81.8" lengthAdjust="spacingAndGlyphs">0.0728</text>
<text x="3737" y="1564.5" font-family='"Liberation Serif", serif' font-size="27" textLength="57.4" lengthAdjust="spacingAndGlyphs"><tspan font-size="27">FNO</tspan></text>
<text x="4070.2" y="1564.5" font-family='"Liberation Serif", serif' font-size="27" textLength="81.8" lengthAdjust="spacingAndGlyphs">622.60</text>
<text x="4191.6" y="1564.5" font-family='"Liberation Serif", serif' font-size="27" textLength="81.8" lengthAdjust="spacingAndGlyphs">0.0431</text>
<text x="3737" y="1596.2" font-family='"Liberation Serif", serif' font-size="27" textLength="140.4" lengthAdjust="spacingAndGlyphs"><tspan font-size="27">P</tspan><tspan font-size="20.52">HY</tspan><tspan font-size="27">CRN</tspan><tspan font-size="20.52">ET</tspan></text>
<text x="4111" y="1596.2" font-family='"Liberation Serif", serif' font-size="27" text-anchor="middle">-</text>
<text x="4232.6" y="1596.2" font-family='"Liberation Serif", serif' font-size="27" text-anchor="middle">-</text>
<text x="3737" y="1626.5" font-family='"Liberation Serif", serif' font-size="27" textLength="84.7" lengthAdjust="spacingAndGlyphs"><tspan font-size="27">PIFNO</tspan></text>
<text x="4111" y="1626.5" font-family='"Liberation Serif", serif' font-size="27" text-anchor="middle">-</text>
<text x="4232.6" y="1626.5" font-family='"Liberation Serif", serif' font-size="27" text-anchor="middle">-</text>
<text x="3737" y="1657.8" font-family='"Liberation Serif", serif' font-size="27" textLength="280.8" lengthAdjust="spacingAndGlyphs"><tspan font-size="27">PARC</tspan><tspan font-size="20.52">V</tspan><tspan font-size="27">2 (T</tspan><tspan font-size="20.52">HIS </tspan><tspan font-size="27">S</tspan><tspan font-size="20.52">TUDY</tspan><tspan font-size="27">)</tspan></text>
<text x="4070.2" y="1657.8" font-family='"Liberation Serif", serif' font-size="27" textLength="81.8" lengthAdjust="spacingAndGlyphs">149.27</text>
<text x="4191.6" y="1657.8" font-family='"Liberation Serif", serif' font-size="27" textLength="81.8" lengthAdjust="spacingAndGlyphs">0.0060</text>
<!-- right_b -->
<text x="3033.91" y="1806.6" font-family='"Liberation Sans", sans-serif' font-size="46.5" font-weight="bold" textLength="318.08" lengthAdjust="spacingAndGlyphs">CONCLUSION</text>
<circle cx="3040.5" cy="1854.9" r="4.5" fill="#000"/>
<text x="3083.2" y="1866.4" font-family='"Liberation Sans", sans-serif' font-size="35.5" textLength="1167.09" lengthAdjust="spacingAndGlyphs">PARCv2 introduced the advection-diffusion-reaction equation to the</text>
<text x="3083.2" y="1914.5" font-family='"Liberation Sans", sans-serif' font-size="35.5" textLength="451.69" lengthAdjust="spacingAndGlyphs">original PARC architecture</text>
<circle cx="3040.5" cy="1951.1" r="4.5" fill="#000"/>
<text x="3083.2" y="1962.6" font-family='"Liberation Sans", sans-serif' font-size="35.5" textLength="1165.89" lengthAdjust="spacingAndGlyphs">PARCv2 yielded a better predictive capability on unsteady, nonlinear</text>
<text x="3083.2" y="2010.8" font-family='"Liberation Sans", sans-serif' font-size="35.5" textLength="1179.29" lengthAdjust="spacingAndGlyphs">problems, compared to PARCv1 and other physics-informed models.</text>
<circle cx="3040.5" cy="2047.4" r="4.5" fill="#000"/>
<text x="3083.2" y="2058.9" font-family='"Liberation Sans", sans-serif' font-size="35.5" textLength="1063.5" lengthAdjust="spacingAndGlyphs">Tension between the solution quality and prediction accuracy.</text>
<text x="3032.71" y="2172.3" font-family='"Liberation Sans", sans-serif' font-size="46.5" font-weight="bold" textLength="496.58" lengthAdjust="spacingAndGlyphs">ACKNOWLEDGEMENT</text>
<text x="3033.41" y="2232" font-family='"Liberation Sans", sans-serif' font-size="31" font-style="italic" textLength="1217.29" lengthAdjust="spacingAndGlyphs">ARO Energetics Basic Research Center Program (Grant No. W911NF-22-2-0164)</text>
<text x="3033.41" y="2274.6" font-family='"Liberation Sans", sans-serif' font-size="31" font-style="italic" textLength="885.19" lengthAdjust="spacingAndGlyphs">National Science Foundation (Grant No. DMREF-2203580)</text>
<text x="3033.41" y="2317.3" font-family='"Liberation Sans", sans-serif' font-size="31" font-style="italic" textLength="1128.39" lengthAdjust="spacingAndGlyphs">Department of Energy LDRD Program (Contract No. DE-AC52-07NA27344)</text>
<polygon points="3125.79,2379.06 3121.75,2389.71 3123.96,2394.03 3153.16,2416.71 3153.16,2411.2 3133.14,2394.3" fill="#1D4EB8"/>
<polygon points="3181.26,2378.32 3185.3,2389.71 3183.09,2394.03 3153.89,2416.71 3153.89,2411.2 3173.91,2394.3" fill="#1D4EB8"/>
<polygon points="3124.69,2396.05 3128.82,2405.32 3150.22,2419.92 3153.16,2418.54" fill="#1D4EB8"/>
<polygon points="3182.36,2396.05 3178.23,2405.32 3156.83,2419.92 3153.89,2418.54" fill="#1D4EB8"/>
<polygon points="3129.56,2407.16 3130.75,2410.65 3146.55,2419.83 3149.49,2420.56" fill="#1D4EB8"/>
<polygon points="3177.49,2407.16 3176.3,2410.65 3160.51,2419.83 3157.57,2420.56" fill="#1D4EB8"/>
<circle cx="3153.34" cy="2424.79" r="3.2" fill="#1D4EB8"/>
<polygon points="3139.75,2428.46 3143.79,2425.23 3147.83,2428.46 3143.79,2431.69" fill="#1D4EB8"/>
<polygon points="3159.04,2428.46 3163.08,2425.23 3167.12,2428.46 3163.08,2431.69" fill="#1D4EB8"/>
<polygon points="3148.2,2435.07 3153.34,2430.96 3158.48,2435.07 3153.34,2439.19" fill="#1D4EB8"/>
<polygon points="3146.27,2436.54 3148.38,2435.07 3153.34,2439.02 3158.3,2435.07 3160.41,2436.54 3153.34,2442.05" fill="#1D4EB8"/>
<polygon points="3137.55,2381.63 3141.68,2382.55 3143.06,2390.35 3153.34,2399.08 3163.72,2390.35 3165.1,2382.55 3169.69,2381.63 3170.15,2386.22 3165.1,2393.57 3153.34,2400.45 3141.68,2393.57 3137.09,2386.22" fill="#B9BDC6"/>
<linearGradient id="afsh" x1="0" y1="0" x2="1" y2="1"><stop offset="0" stop-color="#7DB4F0"/><stop offset="1" stop-color="#1740C0"/></linearGradient>
<polygon points="3141.22,2367.86 3165.1,2367.86 3166.01,2382.55 3164.18,2389.89 3153.34,2398.16 3142.6,2389.89 3140.76,2382.55" fill="url(#afsh)" stroke="#2a2f45" stroke-width="0.8"/>
<line x1="3143.06" y1="2368.77" x2="3163.72" y2="2390.35" stroke="#E8EEF8" stroke-width="2.4" />
<text x="3185.78" y="2420.1" font-family='"DejaVu Sans", sans-serif' font-size="27" font-weight="bold" fill="#1D4EB8" textLength="126.33" lengthAdjust="spacingAndGlyphs" stroke="#1D4EB8" stroke-width="1">AFOSR</text>
<rect x="3119.9" y="2424" width="191" height="1" fill="#1D4EB8"/>
<text x="3175.4" y="2433.3" font-family='"Liberation Sans", sans-serif' font-size="5.6" fill="#4a6aa8" textLength="135.5" lengthAdjust="spacingAndGlyphs">AIR FORCE OFFICE OF SCIENTIFIC RESEARCH</text>
<circle cx="3504.6" cy="2398.2" r="29" fill="#D3D9E6"/>
<g fill="#B4BDD0"><path d="M3488,2378 q8,-6 16,-3 q6,4 3,10 q-4,6 -10,6 q-3,5 -8,2 q-5,-6 -1,-15z" fill="#B4BDD0"/><path d="M3506,2399 q8,-2 12,5 q2,9 -4,16 q-5,2 -6,-6 q-3,-8 -2,-15z" fill="#B4BDD0"/><path d="M3515,2374 q8,2 13,10 q-3,6 -9,3 q-5,-5 -4,-13z" fill="#B4BDD0"/></g>
<text x="3346.34" y="2414.9" font-family='"DejaVu Sans", sans-serif' font-size="30.3" font-weight="bold" textLength="153.83" lengthAdjust="spacingAndGlyphs"><tspan fill="#9B9B9B">AF</tspan><tspan fill="#2D4F9E">RL</tspan></text>
<rect x="3345.2" y="2415.9" width="153.6" height="2.6" fill="#9B9B9B"/>
<text x="3346.3" y="2423.6" font-family='"Liberation Sans", sans-serif' font-size="5" font-weight="bold" fill="#333" textLength="153.4" lengthAdjust="spacingAndGlyphs">THE AIR FORCE RESEARCH LABORATORY</text>
<text x="3393.6" y="2429.5" font-family='"Liberation Sans", sans-serif' font-size="4.4" fill="#555" textLength="106.1" lengthAdjust="spacingAndGlyphs">LEAD | DISCOVER | DEVELOP | DELIVER</text>
<path d="M3645,2366.5 L3585,2366.5 L3567.5,2441.5 L3624,2441.5 L3626,2432 M3645,2366.5 L3642.5,2377.5" fill="none" stroke="#111" stroke-width="4.2" stroke-linejoin="miter"/>
<path d="M3633,2378 L3594.5,2378 L3583,2429.5 L3619,2429.5" fill="none" stroke="#F2C832" stroke-width="6" stroke-linejoin="miter"/>
<path d="M3638,2378 L3636,2387" fill="none" stroke="#111" stroke-width="4.2"/>
<text x="3595.35" y="2410.8" font-family='"Liberation Sans", sans-serif' font-size="30" font-weight="bold" font-style="italic" fill="#111" textLength="186.7" lengthAdjust="spacingAndGlyphs" stroke="#111" stroke-width="1">DEVCOM</text>
<text x="3636.1" y="2425.4" font-family='"Liberation Sans", sans-serif' font-size="9.2" font-weight="bold" font-style="italic" fill="#111" textLength="96.4" lengthAdjust="spacingAndGlyphs">ARMY RESEARCH</text>
<text x="3633.2" y="2435.3" font-family='"Liberation Sans", sans-serif' font-size="9.2" font-weight="bold" font-style="italic" fill="#111" textLength="77.4" lengthAdjust="spacingAndGlyphs">LABORATORY</text>
<polygon points="3881.2,2399.6 3872.17,2404.96 3878.46,2413.38 3868.07,2414.88 3870.66,2425.06 3860.48,2422.47 3858.98,2432.86 3850.56,2426.57 3845.2,2435.6 3839.84,2426.57 3831.42,2432.86 3829.92,2422.47 3819.74,2425.06 3822.33,2414.88 3811.94,2413.38 3818.23,2404.96 3809.2,2399.6 3818.23,2394.24 3811.94,2385.82 3822.33,2384.32 3819.74,2374.14 3829.92,2376.73 3831.42,2366.34 3839.84,2372.63 3845.2,2363.6 3850.56,2372.63 3858.98,2366.34 3860.48,2376.73 3870.66,2374.14 3868.07,2384.32 3878.46,2385.82 3872.17,2394.24" fill="#D2A93C"/>
<radialGradient id="nsfg" cx="0.4" cy="0.35" r="0.7"><stop offset="0" stop-color="#6FA8EA"/><stop offset="0.6" stop-color="#2660C4"/><stop offset="1" stop-color="#143C94"/></radialGradient>
<circle cx="3845.2" cy="2399.6" r="27" fill="url(#nsfg)"/>
<text x="3845.2" y="2409" font-family='"Liberation Serif", serif' font-size="24.5" font-weight="bold" fill="#fff" text-anchor="middle" textLength="46.2" lengthAdjust="spacingAndGlyphs" stroke="#1a2f66" stroke-width="0.6">NSF</text>
<path d="M4040.8,2380.4 L4040.8,2425.5 Q4040.8,2431.1 4035.2,2431.1 L3890.3,2431.1 Q3884.7,2431.1 3884.7,2425.5 L3884.7,2375.4 Q3884.7,2369.8 3890.3,2369.8 L4046,2369.8" fill="none" stroke="#C9A227" stroke-width="2.7"/>
<polygon points="4039,2363.5 4054.8,2370.2 4043,2372.3" fill="#C9A227"/>
<text x="3901" y="2407.5" font-family='"Liberation Sans", sans-serif' font-size="37.8" fill="#29A3DC" textLength="121" lengthAdjust="spacingAndGlyphs">DMREF</text>
<text x="3903.8" y="2417.2" font-family='"Liberation Sans", sans-serif' font-size="6.3" font-weight="bold" fill="#111" textLength="115.6" lengthAdjust="spacingAndGlyphs">MATERIALS FOR OUR FUTURE</text>
<circle cx="4104.9" cy="2400" r="29.3" fill="#1F6B35"/>
<circle cx="4104.9" cy="2400" r="27.6" fill="none" stroke="#C8B560" stroke-width="1"/>
<circle cx="4104.9" cy="2400" r="20.5" fill="#C8B560"/>
<circle cx="4104.9" cy="2400" r="19.3" fill="#1E4F9F"/>
<path id="doearc" d="M4080.7,2400 A24.2 24.2 0 1 1 4080.7,2400.01" fill="none"/>
<text font-family='"Liberation Serif", serif' font-size="5.4" fill="#E0D48A" font-weight="bold" letter-spacing="0.2"><textPath href="#doearc" startOffset="2%">DEPARTMENT OF ENERGY · UNITED STATES OF AMERICA ·</textPath></text>
<path d="M4096.4,2393 h17 v11 q0,8 -8.5,12 q-8.5,-4 -8.5,-12z" fill="#2E8B3D" stroke="#E8D870" stroke-width="1"/>
<path d="M4099.4,2410 l11,-14" fill="none" stroke="#E8D870" stroke-width="1.6"/>
<path d="M4100.9,2391 q3,-8 8,-4 q-2,1 -2,4 q2,2 3,5 h-12 q1,-3 3,-5z" fill="#fff"/>
<text x="4139.3" y="2384.3" font-family='"Liberation Sans", sans-serif' font-size="10.7" font-weight="bold" fill="#1C7A3E" textLength="151.5" lengthAdjust="spacingAndGlyphs">U.S. DEPARTMENT OF</text>
<text x="4136.94" y="2421.7" font-family='"Liberation Sans", sans-serif' font-size="43.6" font-weight="bold" fill="#1C7A3E" textLength="173.42" lengthAdjust="spacingAndGlyphs" stroke="#1C7A3E" stroke-width="1.2">ENERGY</text>
<text x="3562.4" y="2516.6" font-family='"Liberation Sans", sans-serif' font-size="35.5" font-weight="bold" textLength="286.19" lengthAdjust="spacingAndGlyphs">Any Questions?</text>
<text x="3483.14" y="2561" font-family='"Liberation Sans", sans-serif' font-size="34.6" textLength="136.01" lengthAdjust="spacingAndGlyphs">Contact:</text>
<text x="3637.64" y="2561" font-family='"Liberation Sans", sans-serif' font-size="34.6" fill="#467886" textLength="285.41" lengthAdjust="spacingAndGlyphs">baek@virginia.edu</text>
<rect x="3639.2" y="2564.2" width="282.3" height="2" fill="#467886"/>
<path d="M4059.5,2497.6 L4148.3,2497.6 L4148.3,2497.6 Q4161.0,2497.6 4164.8,2510.3 L4173.7,2545.2 Q4175.3,2559.4 4162.6,2561.0 L4031.0,2561.0 Z" fill="#FBA40A"/>
<polygon points="3996.1,2518.2 4039.8,2477.0 4070.6,2524.5 4018.3,2545.2 4035.7,2564.2 4029.4,2567.4 4011.9,2545.2" fill="#fff" stroke="#FBA40A" stroke-width="7" stroke-linejoin="round"/>
<polygon points="3996.1,2518.2 4039.8,2477.0 4070.6,2524.5 4013.5,2543.6" fill="#fff"/>
<polygon points="3999.2,2521.4 4039.8,2481.7 4046.8,2492.8 4004.0,2529.3" fill="#E4E4E6"/>
<polygon points="3996.1,2518.2 4013.5,2510.3 4026.2,2535.6 4011.3,2543.9" fill="#222"/>
<polygon points="4013.5,2545.2 4027.8,2539.4 4037.9,2562.6 4030.0,2566.7" fill="#fff"/>
<line x1="4039.8" y1="2474.7" x2="4070.6" y2="2524.5" stroke="#222" stroke-width="3.4" stroke-linecap="round"/>
<text x="4076.1" y="2526.1" font-family='"Liberation Sans", sans-serif' font-size="20" font-weight="bold" fill="#fff" textLength="73.1" lengthAdjust="spacingAndGlyphs">WE’RE</text>
<text x="4050.7" y="2548.3" font-family='"Liberation Sans", sans-serif' font-size="20" font-weight="bold" fill="#222" textLength="106.4" lengthAdjust="spacingAndGlyphs">HIRING</text>
</svg></body></html>
